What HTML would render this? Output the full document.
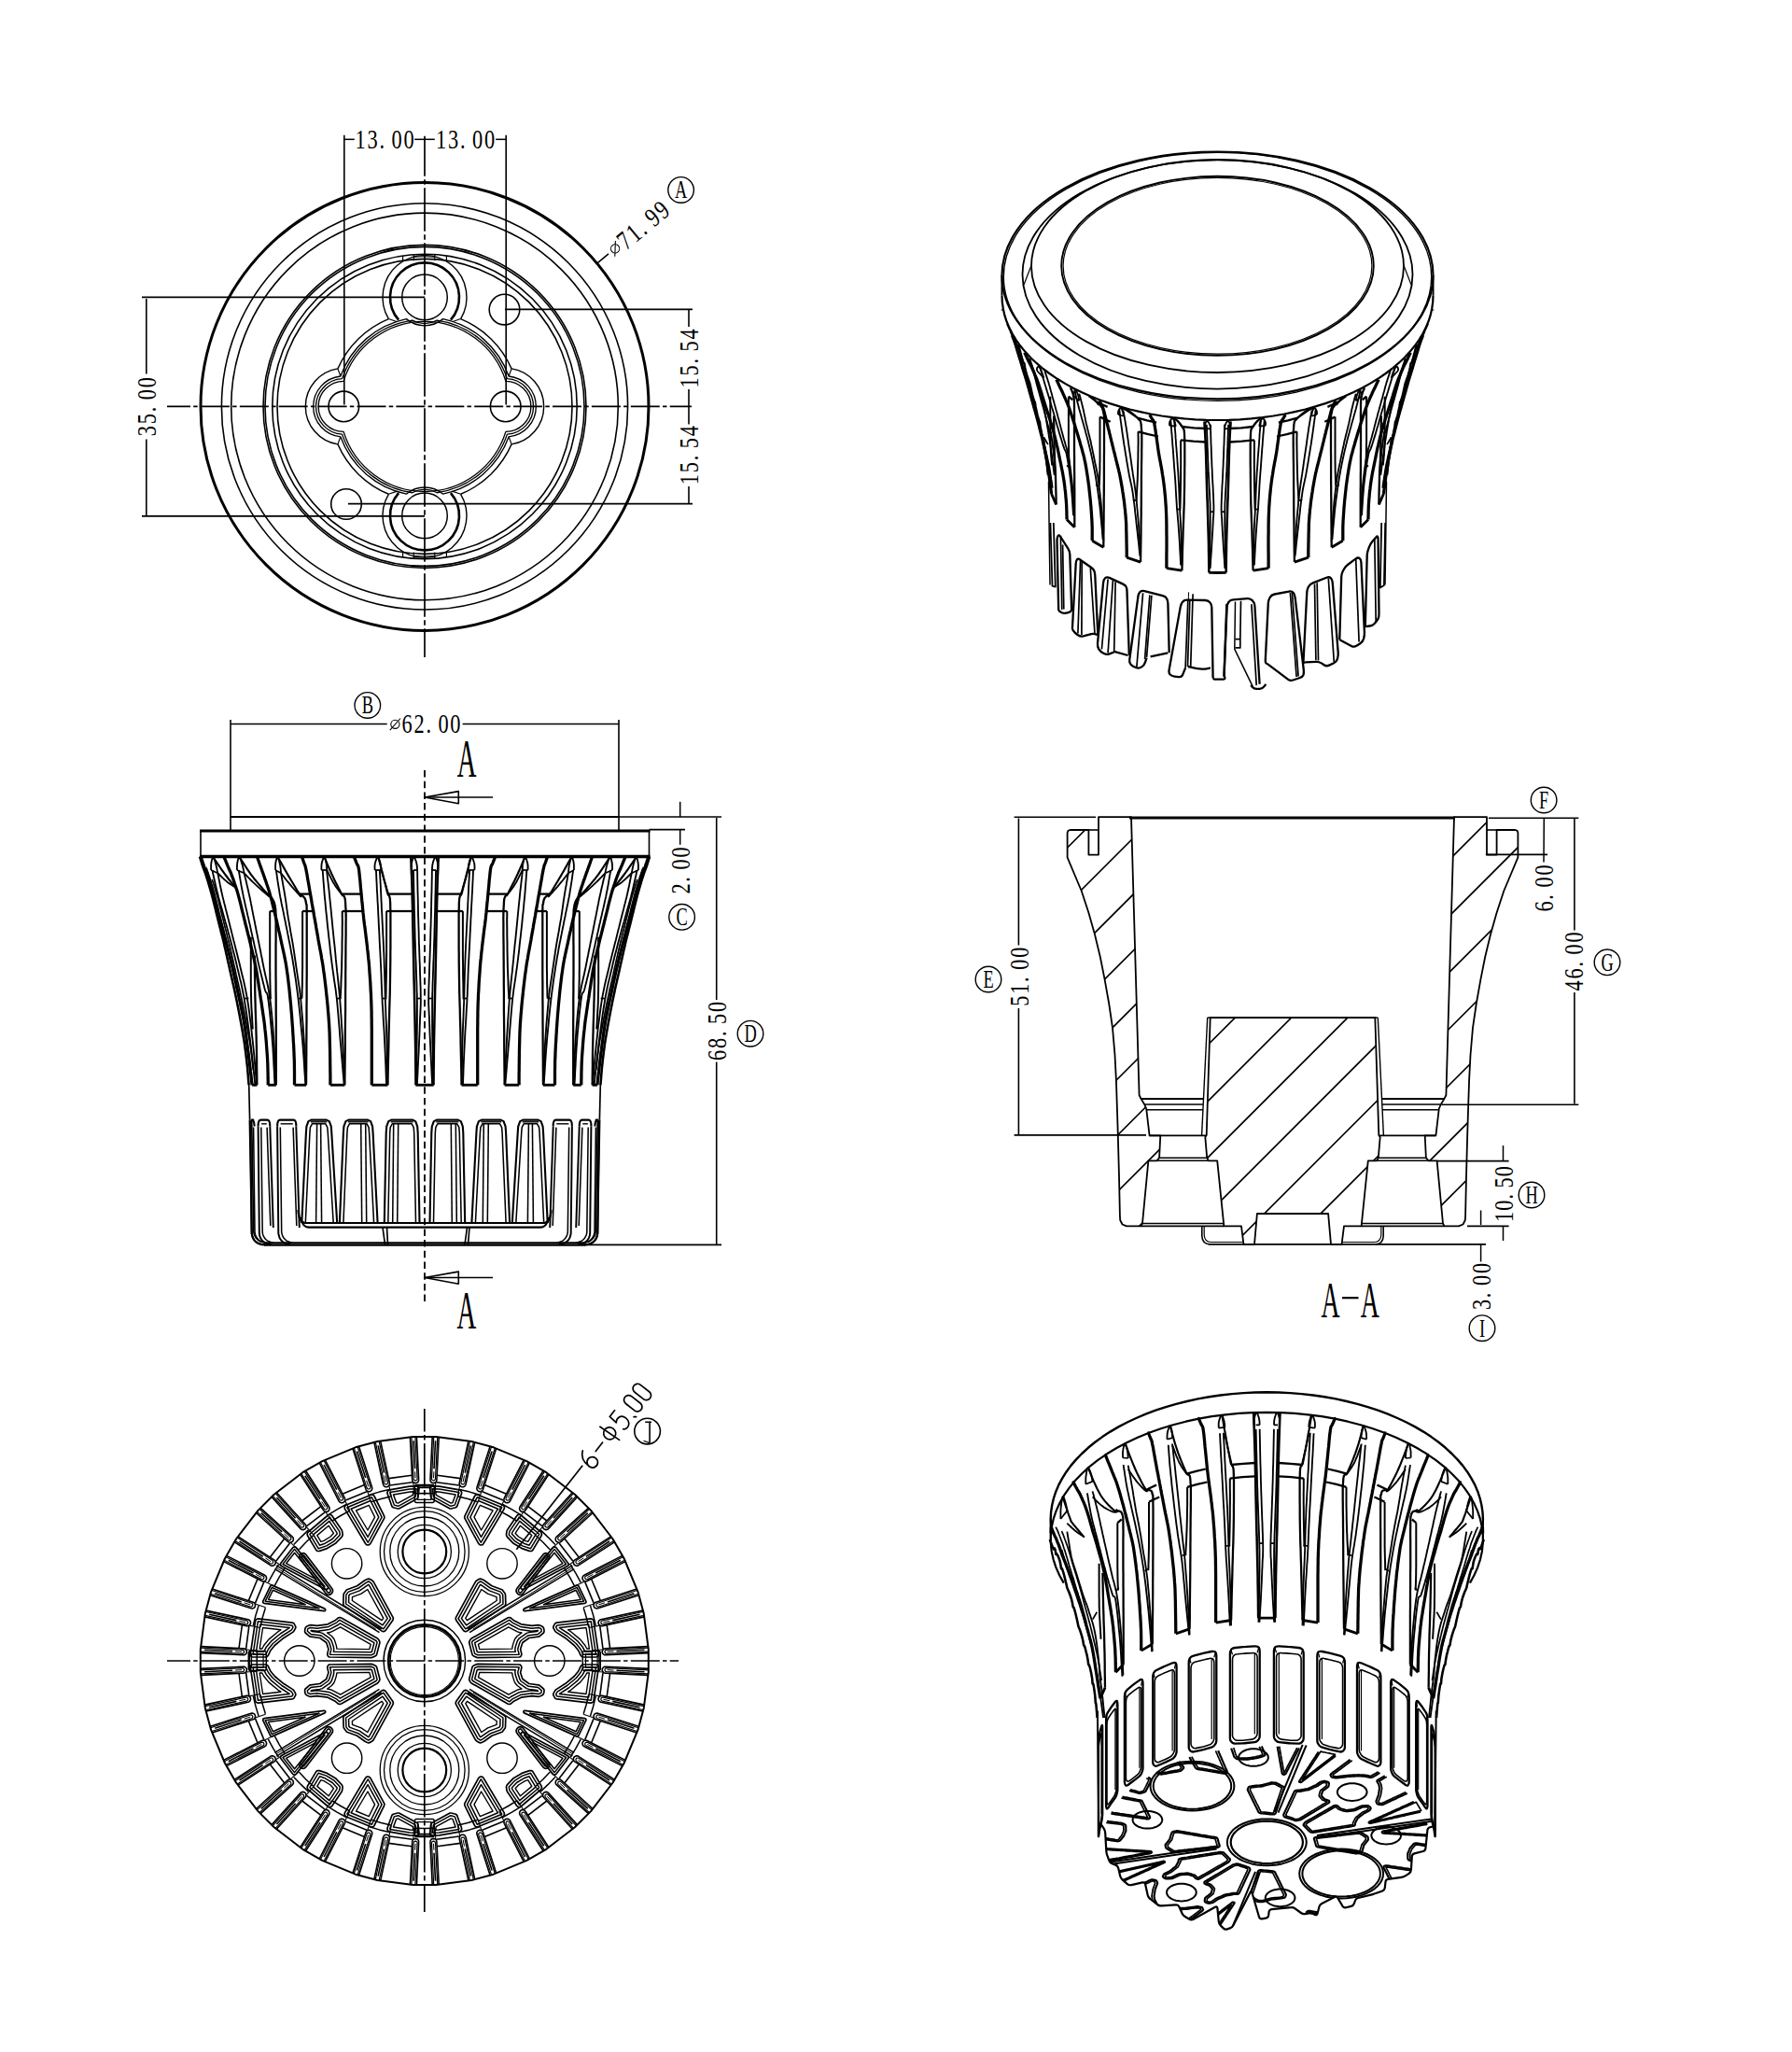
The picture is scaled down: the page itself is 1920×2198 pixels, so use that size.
<!DOCTYPE html>
<html><head><meta charset="utf-8"><title>drawing</title>
<style>
html,body{margin:0;padding:0;background:#fff}
svg{display:block}
.l,.l *{fill:none;stroke:#000}
.t text{font-family:"Liberation Serif",serif;fill:#000;stroke:none}
.w{fill:#fff}
</style></head><body>
<svg xmlns="http://www.w3.org/2000/svg" width="1920" height="2198" viewBox="0 0 1920 2198">
<rect width="1920" height="2198" fill="#fff"/>
<g class="l" stroke-linecap="butt" stroke-linejoin="round">
<path d="M455.0 145.8L455.0 704.0" stroke-width="1.7" stroke-dasharray="46.5 3.5 5.5 3.5" stroke-dashoffset="3.5"/>
<path d="M179.0 435.4L741.0 435.4" stroke-width="1.7" stroke-dasharray="31 3.2 4.5 3.2" stroke-dashoffset="6"/>
<circle cx="455.0" cy="435.4" r="240.0" stroke-width="3.0" />
<circle cx="455.0" cy="435.4" r="217.6" stroke-width="1.6" />
<circle cx="455.0" cy="435.4" r="207.3" stroke-width="1.6" />
<circle cx="455.0" cy="435.4" r="173.0" stroke-width="1.6" />
<circle cx="455.0" cy="435.4" r="171.0" stroke-width="1.6" />
<circle cx="455.0" cy="435.4" r="163.2" stroke-width="1.6" />
<circle cx="455.0" cy="435.4" r="158.0" stroke-width="1.6" />
<circle cx="368.3" cy="435.4" r="16.3" stroke-width="1.6" />
<circle cx="541.7" cy="435.4" r="16.3" stroke-width="1.6" />
<circle cx="540.5" cy="331.6" r="16.3" stroke-width="1.6" />
<circle cx="371.0" cy="540.0" r="16.3" stroke-width="1.6" />
<path d="M541.90 408.40A27.0 27.0 0 0 1 541.90 462.40A91.0 91.0 0 0 1 455.00 526.49A25.6 25.6 0 0 0 455.00 526.49A91.0 91.0 0 0 1 368.10 462.40A27.0 27.0 0 0 1 368.10 408.40A91.0 91.0 0 0 1 455.00 344.31A25.6 25.6 0 0 0 455.00 344.31A91.0 91.0 0 0 1 541.90 408.40Z" stroke-width="1.35" />
<path d="M543.43 405.65A29.8 29.8 0 0 1 543.43 465.15A93.3 93.3 0 0 1 468.28 527.75A28.0 28.0 0 0 0 441.72 527.75A93.3 93.3 0 0 1 366.57 465.15A29.8 29.8 0 0 1 366.57 405.65A93.3 93.3 0 0 1 441.72 343.05A28.0 28.0 0 0 0 468.28 343.05A93.3 93.3 0 0 1 543.43 405.65Z" stroke-width="1.35" />
<path d="M545.15 402.98A32.6 32.6 0 0 1 545.15 467.82A95.8 95.8 0 0 1 474.61 529.17A30.4 30.4 0 0 0 435.39 529.17A95.8 95.8 0 0 1 364.85 467.82A32.6 32.6 0 0 1 364.85 402.98A95.8 95.8 0 0 1 435.39 341.63A30.4 30.4 0 0 0 474.61 341.63A95.8 95.8 0 0 1 545.15 402.98Z" stroke-width="1.35" />
<path d="M548.07 394.90A41.0 41.0 0 0 1 548.07 475.90" stroke-width="1.4" />
<path d="M548.07 475.90A101.5 101.5 0 0 1 493.60 529.27" stroke-width="1.4" />
<path d="M548.1 475.9L545.1 467.8" stroke-width="1.2" />
<path d="M548.07 394.90A101.5 101.5 0 0 0 493.60 341.53" stroke-width="1.4" />
<path d="M548.1 394.9L545.1 403.0" stroke-width="1.2" />
<path d="M361.93 394.90A41.0 41.0 0 0 0 361.93 475.90" stroke-width="1.4" />
<path d="M361.93 475.90A101.5 101.5 0 0 0 416.40 529.27" stroke-width="1.4" />
<path d="M361.9 475.9L364.9 467.8" stroke-width="1.2" />
<path d="M361.93 394.90A101.5 101.5 0 0 1 416.40 341.53" stroke-width="1.4" />
<path d="M361.9 394.9L364.9 403.0" stroke-width="1.2" />
<circle cx="455.0" cy="552.4" r="24.3" stroke-width="1.5" />
<path d="M427.10 528.09A37.0 37.0 0 1 0 482.90 528.09" stroke-width="2.6" />
<path d="M416.40 529.27A45.0 45.0 0 1 0 493.60 529.27" stroke-width="1.4" />
<path d="M416.4 529.3L425.6 526.1" stroke-width="1.2" />
<path d="M493.6 529.3L484.4 526.1" stroke-width="1.2" />
<path d="M431.6 596.9L431.6 590.2" stroke-width="1.2" />
<path d="M443.3 598.2L443.3 591.5" stroke-width="1.2" />
<path d="M465.8 598.2L465.8 591.5" stroke-width="1.2" />
<path d="M478.4 596.9L478.4 590.2" stroke-width="1.2" />
<path d="M443.30 595.60A160.6 160.6 0 0 0 465.80 595.60" stroke-width="1.1" />
<circle cx="455.0" cy="318.4" r="24.3" stroke-width="1.5" />
<path d="M427.10 342.71A37.0 37.0 0 1 1 482.90 342.71" stroke-width="2.6" />
<path d="M416.40 341.53A45.0 45.0 0 1 1 493.60 341.53" stroke-width="1.4" />
<path d="M416.4 341.5L425.6 344.7" stroke-width="1.2" />
<path d="M493.6 341.5L484.4 344.7" stroke-width="1.2" />
<path d="M431.6 273.9L431.6 280.6" stroke-width="1.2" />
<path d="M443.3 272.6L443.3 279.3" stroke-width="1.2" />
<path d="M465.8 272.6L465.8 279.3" stroke-width="1.2" />
<path d="M478.4 273.9L478.4 280.6" stroke-width="1.2" />
<path d="M443.30 275.20A160.6 160.6 0 0 1 465.80 275.20" stroke-width="1.1" />
<path d="M368.8 144.8L368.8 433.4" stroke-width="1.6" />
<path d="M542.2 144.8L542.2 433.4" stroke-width="1.6" />
<path d="M368.8 149.3L379.8 149.3" stroke-width="1.5" />
<path d="M444.2 149.3L455.0 149.3" stroke-width="1.5" />
<path d="M455.0 149.3L465.8 149.3" stroke-width="1.5" />
<path d="M531.2 149.3L542.2 149.3" stroke-width="1.5" />
<g transform="translate(412.2 149.6) rotate(0)" class="t" ><text transform="translate(-26.0 9.5) scale(0.78 1)" font-size="28.7" text-anchor="middle">1</text><text transform="translate(-13.0 9.5) scale(0.78 1)" font-size="28.7" text-anchor="middle">3</text><text transform="translate(-2.9 9.5) scale(0.78 1)" font-size="28.7" text-anchor="middle">.</text><text transform="translate(13.0 9.5) scale(0.78 1)" font-size="28.7" text-anchor="middle">0</text><text transform="translate(26.0 9.5) scale(0.78 1)" font-size="28.7" text-anchor="middle">0</text></g>
<g transform="translate(498.6 149.6) rotate(0)" class="t" ><text transform="translate(-26.0 9.5) scale(0.78 1)" font-size="28.7" text-anchor="middle">1</text><text transform="translate(-13.0 9.5) scale(0.78 1)" font-size="28.7" text-anchor="middle">3</text><text transform="translate(-2.9 9.5) scale(0.78 1)" font-size="28.7" text-anchor="middle">.</text><text transform="translate(13.0 9.5) scale(0.78 1)" font-size="28.7" text-anchor="middle">0</text><text transform="translate(26.0 9.5) scale(0.78 1)" font-size="28.7" text-anchor="middle">0</text></g>
<path d="M152.0 318.4L455.0 318.4" stroke-width="1.7" />
<path d="M152.0 552.8L455.0 552.8" stroke-width="1.7" />
<path d="M156.8 320.0L156.8 400.5" stroke-width="1.6" />
<path d="M156.8 470.5L156.8 552.0" stroke-width="1.6" />
<g transform="translate(157.2 435.6) rotate(-90)" class="t" ><text transform="translate(-26.0 9.5) scale(0.78 1)" font-size="28.7" text-anchor="middle">3</text><text transform="translate(-13.0 9.5) scale(0.78 1)" font-size="28.7" text-anchor="middle">5</text><text transform="translate(-2.9 9.5) scale(0.78 1)" font-size="28.7" text-anchor="middle">.</text><text transform="translate(13.0 9.5) scale(0.78 1)" font-size="28.7" text-anchor="middle">0</text><text transform="translate(26.0 9.5) scale(0.78 1)" font-size="28.7" text-anchor="middle">0</text></g>
<path d="M541.0 331.4L742.0 331.4" stroke-width="1.7" />
<path d="M373.0 539.6L742.0 539.6" stroke-width="1.7" />
<path d="M738.0 332.0L738.0 350.0" stroke-width="1.6" />
<path d="M738.0 417.0L738.0 454.5" stroke-width="1.6" />
<path d="M738.0 521.0L738.0 539.0" stroke-width="1.6" />
<g transform="translate(738.6 383.8) rotate(-90)" class="t" ><text transform="translate(-26.0 9.5) scale(0.78 1)" font-size="28.7" text-anchor="middle">1</text><text transform="translate(-13.0 9.5) scale(0.78 1)" font-size="28.7" text-anchor="middle">5</text><text transform="translate(-2.9 9.5) scale(0.78 1)" font-size="28.7" text-anchor="middle">.</text><text transform="translate(13.0 9.5) scale(0.78 1)" font-size="28.7" text-anchor="middle">5</text><text transform="translate(26.0 9.5) scale(0.78 1)" font-size="28.7" text-anchor="middle">4</text></g>
<g transform="translate(738.6 487.6) rotate(-90)" class="t" ><text transform="translate(-26.0 9.5) scale(0.78 1)" font-size="28.7" text-anchor="middle">1</text><text transform="translate(-13.0 9.5) scale(0.78 1)" font-size="28.7" text-anchor="middle">5</text><text transform="translate(-2.9 9.5) scale(0.78 1)" font-size="28.7" text-anchor="middle">.</text><text transform="translate(13.0 9.5) scale(0.78 1)" font-size="28.7" text-anchor="middle">5</text><text transform="translate(26.0 9.5) scale(0.78 1)" font-size="28.7" text-anchor="middle">4</text></g>
<path d="M639.7 282.1L652.0 271.9" stroke-width="1.5" />
<g transform="translate(683.9 245.4) rotate(-39.7)" class="t" ><g transform="translate(-32.5 0.3)" class="l"><circle r="4.6" stroke-width="1.1"/><path d="M-5.6 6.3L5.6 -6.3" stroke-width="1.1"/></g><text transform="translate(-19.5 9.5) scale(0.78 1)" font-size="28.7" text-anchor="middle">7</text><text transform="translate(-6.5 9.5) scale(0.78 1)" font-size="28.7" text-anchor="middle">1</text><text transform="translate(3.6 9.5) scale(0.78 1)" font-size="28.7" text-anchor="middle">.</text><text transform="translate(19.5 9.5) scale(0.78 1)" font-size="28.7" text-anchor="middle">9</text><text transform="translate(32.5 9.5) scale(0.78 1)" font-size="28.7" text-anchor="middle">9</text></g>
<circle cx="729.6" cy="203.4" r="13.8" stroke-width="1.4" />
<g transform="translate(729.6 203.4) rotate(0)" class="t"><text transform="translate(0 8.9) scale(0.68 1)" font-size="27" text-anchor="middle">A</text></g>
<ellipse cx="1304.5" cy="295.0" rx="231.0" ry="132.4" stroke-width="2.2" />
<ellipse cx="1304.5" cy="296.4" rx="229.2" ry="133.0" stroke-width="1.4" />
<ellipse cx="1304.5" cy="294.0" rx="209.0" ry="122.6" stroke-width="1.8" />
<ellipse cx="1304.5" cy="285.0" rx="199.5" ry="114.0" stroke-width="1.8" />
<ellipse cx="1304.5" cy="284.8" rx="167.3" ry="96.0" stroke-width="1.9" />
<ellipse cx="1304.5" cy="284.8" rx="165.4" ry="94.4" stroke-width="1.2" />
<path d="M1097.0 305.0L1105.5 283.0" stroke-width="1.2" />
<path d="M1512.0 305.0L1503.5 283.0" stroke-width="1.2" />
<path d="M1535.5 316.5L1535.2 323.5L1534.2 330.5L1532.7 337.4L1530.5 344.3L1527.6 351.1L1524.2 357.8L1520.2 364.3L1515.5 370.8L1510.3 377.1L1504.6 383.2L1498.2 389.2L1491.4 395.0L1484.0 400.5L1476.2 405.8L1467.8 410.9L1459.1 415.7L1449.9 420.2L1440.3 424.5L1430.3 428.5L1420.0 432.1L1409.4 435.4L1398.5 438.5L1387.3 441.1L1375.9 443.5L1364.3 445.5L1352.5 447.1L1340.6 448.4L1328.6 449.3L1316.6 449.8L1304.5 450.0L1292.4 449.8L1280.4 449.3L1268.4 448.4L1256.5 447.1L1244.7 445.5L1233.1 443.5L1221.7 441.1L1210.5 438.5L1199.6 435.4L1189.0 432.1L1178.7 428.5L1168.7 424.5L1159.1 420.2L1149.9 415.7L1141.2 410.9L1132.8 405.8L1125.0 400.5L1117.6 395.0L1110.8 389.2L1104.4 383.2L1098.7 377.1L1093.5 370.8L1088.8 364.3L1084.8 357.8L1081.4 351.1L1078.5 344.3L1076.3 337.4L1074.8 330.5L1073.8 323.5L1073.5 316.5" stroke-width="2.2" />
<path d="M1073.5 295.0L1073.5 316.5" stroke-width="2.0" />
<path d="M1535.5 295.0L1535.5 316.5" stroke-width="2.0" />
<path d="M1091.1 368.7L1091.9 372.1L1092.7 375.3L1093.5 378.4L1094.3 381.4L1095.1 384.2L1095.9 386.7L1096.7 388.9L1097.4 389.4L1098.2 394.0L1098.9 397.0L1099.6 399.7L1100.3 402.0L1101.0 404.2L1101.7 406.3L1102.4 408.2L1103.1 410.1L1103.9 413.4L1104.6 416.6L1105.3 419.7L1106.0 422.7L1106.7 425.5L1107.5 428.0L1108.2 430.1L1108.8 430.7L1109.5 435.4L1110.2 438.7L1110.8 441.6L1111.4 444.3L1112.1 446.7L1112.7 449.0L1113.3 450.9L1113.9 451.4L1114.5 456.2L1115.1 459.6L1115.7 462.7L1116.2 465.6L1116.8 468.2L1117.3 470.5L1117.8 472.3L1118.3 472.1L1118.8 477.6L1119.2 481.0L1119.7 484.0L1120.1 486.7L1120.5 489.1L1120.8 491.2L1121.2 492.8L1121.5 492.7L1121.8 497.5L1122.1 500.4L1122.3 502.8L1122.5 504.9L1122.7 506.5L1122.9 507.7L1123.0 508.5L1123.1 508.8" stroke-width="2.556" />
<path d="M1517.9 368.7L1517.1 372.1L1516.3 375.3L1515.5 378.4L1514.7 381.4L1513.9 384.2L1513.1 386.7L1512.3 388.9L1511.6 389.4L1510.8 394.0L1510.1 397.0L1509.4 399.7L1508.7 402.0L1508.0 404.2L1507.3 406.3L1506.6 408.2L1505.9 410.1L1505.1 413.4L1504.4 416.6L1503.7 419.7L1503.0 422.7L1502.3 425.5L1501.5 428.0L1500.8 430.1L1500.2 430.7L1499.5 435.4L1498.8 438.7L1498.2 441.6L1497.6 444.3L1496.9 446.7L1496.3 449.0L1495.7 450.9L1495.1 451.4L1494.5 456.2L1493.9 459.6L1493.3 462.7L1492.8 465.6L1492.2 468.2L1491.7 470.5L1491.2 472.3L1490.7 472.1L1490.2 477.6L1489.8 481.0L1489.3 484.0L1488.9 486.7L1488.5 489.1L1488.2 491.2L1487.8 492.8L1487.5 492.7L1487.2 497.5L1486.9 500.4L1486.7 502.8L1486.5 504.9L1486.3 506.5L1486.1 507.7L1486.0 508.5L1485.9 508.8" stroke-width="2.556" />
<path d="M1231.8 444.2L1232.1 444.7L1232.4 445.3L1232.8 445.9L1233.2 446.7L1233.6 447.4L1234.0 448.0L1234.3 448.7L1234.6 449.1L1234.9 449.5L1235.2 449.8L1235.5 450.1L1235.8 450.5L1236.0 451.1L1236.3 451.9L1236.6 453.0L1236.9 454.4L1237.2 456.1L1237.5 458.0L1237.9 460.2L1238.2 462.5L1238.5 464.9L1238.8 467.1L1239.2 469.3L1239.5 471.4L1239.8 473.6L1240.1 475.7L1240.4 477.9L1240.7 480.1L1241.0 482.2L1241.3 484.4L1241.7 486.6L1242.1 488.7L1242.4 490.9L1242.9 493.1L1243.3 495.3L1243.7 497.4L1244.1 499.6L1244.5 501.8L1244.9 504.0L1245.2 506.2L1245.5 508.3L1245.9 510.4L1246.2 512.5L1246.5 514.7L1246.8 516.9L1247.1 519.2L1247.4 521.6L1247.7 524.2L1247.9 526.8L1248.2 529.5L1248.5 532.3L1248.7 535.1L1248.9 538.0L1249.1 540.8L1249.3 543.6L1249.4 546.3L1249.5 548.7L1249.6 551.1L1249.7 553.6L1249.8 556.1L1249.8 559.0L1249.9 562.2L1249.9 565.9L1249.9 570.4L1250.0 575.9L1250.0 582.0L1250.0 588.4L1249.9 594.5L1249.9 600.3L1249.9 605.2L1249.9 608.7" stroke-width="3.2659999999999996" />
<path d="M1377.2 444.2L1376.9 444.7L1376.6 445.3L1376.2 445.9L1375.8 446.7L1375.4 447.4L1375.0 448.0L1374.7 448.7L1374.4 449.1L1374.1 449.5L1373.8 449.8L1373.5 450.1L1373.2 450.5L1373.0 451.1L1372.7 451.9L1372.4 453.0L1372.1 454.4L1371.8 456.1L1371.5 458.0L1371.1 460.2L1370.8 462.5L1370.5 464.9L1370.2 467.1L1369.8 469.3L1369.5 471.4L1369.2 473.6L1368.9 475.7L1368.6 477.9L1368.3 480.1L1368.0 482.2L1367.7 484.4L1367.3 486.6L1366.9 488.7L1366.6 490.9L1366.1 493.1L1365.7 495.3L1365.3 497.4L1364.9 499.6L1364.5 501.8L1364.1 504.0L1363.8 506.2L1363.5 508.3L1363.1 510.4L1362.8 512.5L1362.5 514.7L1362.2 516.9L1361.9 519.2L1361.6 521.6L1361.3 524.2L1361.1 526.8L1360.8 529.5L1360.5 532.3L1360.3 535.1L1360.1 538.0L1359.9 540.8L1359.7 543.6L1359.6 546.3L1359.5 548.7L1359.4 551.1L1359.3 553.6L1359.2 556.1L1359.2 559.0L1359.1 562.2L1359.1 565.9L1359.1 570.4L1359.0 575.9L1359.0 582.0L1359.0 588.4L1359.1 594.5L1359.1 600.3L1359.1 605.2L1359.1 608.7" stroke-width="3.2659999999999996" />
<path d="M1254.3 450.4L1254.4 451.2L1254.5 452.4L1254.6 453.7L1254.7 455.3L1254.9 457.0L1255.0 458.8L1255.1 460.4L1255.2 462.0L1255.3 463.5L1255.5 464.8L1255.6 466.1L1255.7 467.4L1255.8 468.9L1255.9 470.5L1256.1 472.4L1256.2 474.7L1256.4 477.3L1256.7 480.4L1256.9 483.7L1257.2 487.2L1257.4 490.7L1257.7 494.2L1257.9 497.4L1258.1 500.3L1258.3 502.9L1258.5 505.2L1258.7 507.3L1258.8 509.3L1259.0 511.3L1259.1 513.3L1259.3 515.4L1259.4 517.7L1259.6 520.2L1259.7 522.7L1259.8 525.2L1260.0 527.8L1260.1 530.5L1260.3 533.4L1260.5 536.4L1260.7 539.6L1260.9 543.1L1261.2 546.8L1261.6 550.7L1261.9 554.7L1262.3 558.9L1262.6 563.0L1262.9 567.2L1263.2 571.3L1263.5 575.7L1263.8 580.4L1264.1 585.3L1264.3 590.1L1264.6 594.9L1264.8 599.1L1265.0 602.7L1265.1 605.4" stroke-width="1.8459999999999999" />
<path d="M1354.7 450.4L1354.6 451.2L1354.5 452.4L1354.4 453.7L1354.3 455.3L1354.1 457.0L1354.0 458.8L1353.9 460.4L1353.8 462.0L1353.7 463.5L1353.5 464.8L1353.4 466.1L1353.3 467.4L1353.2 468.9L1353.1 470.5L1352.9 472.4L1352.8 474.7L1352.6 477.3L1352.3 480.4L1352.1 483.7L1351.8 487.2L1351.6 490.7L1351.3 494.2L1351.1 497.4L1350.9 500.3L1350.7 502.9L1350.5 505.2L1350.3 507.3L1350.2 509.3L1350.0 511.3L1349.9 513.3L1349.7 515.4L1349.6 517.7L1349.4 520.2L1349.3 522.7L1349.2 525.2L1349.0 527.8L1348.9 530.5L1348.7 533.4L1348.5 536.4L1348.3 539.6L1348.1 543.1L1347.8 546.8L1347.4 550.7L1347.1 554.7L1346.7 558.9L1346.4 563.0L1346.1 567.2L1345.8 571.3L1345.5 575.7L1345.2 580.4L1344.9 585.3L1344.7 590.1L1344.4 594.9L1344.2 599.1L1344.0 602.7L1343.9 605.4" stroke-width="1.8459999999999999" />
<path d="M1258.1 450.9L1258.2 451.7L1258.3 452.9L1258.5 454.3L1258.6 455.9L1258.7 457.5L1258.9 459.3L1259.0 461.0L1259.2 462.5L1259.3 464.0L1259.4 465.3L1259.5 466.6L1259.5 467.9L1259.6 469.4L1259.8 471.1L1259.9 472.9L1260.0 475.2L1260.2 477.8L1260.5 480.9L1260.7 484.2L1261.0 487.7L1261.3 491.2L1261.5 494.7L1261.7 497.9L1261.9 500.8L1262.1 503.4L1262.3 505.7L1262.4 507.8L1262.5 509.8L1262.6 511.8L1262.7 513.8L1262.8 515.9L1263.0 518.2L1263.1 520.7L1263.2 523.1L1263.3 525.7L1263.4 528.3L1263.5 531.0L1263.6 533.8L1263.7 536.8L1263.8 540.1L1264.0 543.5L1264.2 547.2L1264.4 551.1L1264.7 555.1L1264.9 559.2L1265.1 563.4L1265.3 567.5L1265.5 571.6L1265.6 576.0L1265.8 580.7L1265.9 585.6L1266.0 590.4L1266.1 595.1L1266.2 599.3L1266.3 602.9L1266.4 605.5" stroke-width="1.8459999999999999" />
<path d="M1350.9 450.9L1350.8 451.7L1350.7 452.9L1350.5 454.3L1350.4 455.9L1350.3 457.5L1350.1 459.3L1350.0 461.0L1349.8 462.5L1349.7 464.0L1349.6 465.3L1349.5 466.6L1349.5 467.9L1349.4 469.4L1349.2 471.1L1349.1 472.9L1349.0 475.2L1348.8 477.8L1348.5 480.9L1348.3 484.2L1348.0 487.7L1347.7 491.2L1347.5 494.7L1347.3 497.9L1347.1 500.8L1346.9 503.4L1346.7 505.7L1346.6 507.8L1346.5 509.8L1346.4 511.8L1346.3 513.8L1346.2 515.9L1346.0 518.2L1345.9 520.7L1345.8 523.1L1345.7 525.7L1345.6 528.3L1345.5 531.0L1345.4 533.8L1345.3 536.8L1345.2 540.1L1345.0 543.5L1344.8 547.2L1344.6 551.1L1344.3 555.1L1344.1 559.2L1343.9 563.4L1343.7 567.5L1343.5 571.6L1343.4 576.0L1343.2 580.7L1343.1 585.6L1343.0 590.4L1342.9 595.1L1342.8 599.3L1342.7 602.9L1342.6 605.5" stroke-width="1.8459999999999999" />
<path d="M1253.1 455.9L1253.1 455.6L1253.1 455.2L1253.0 454.6L1253.0 454.1L1253.0 453.4L1253.1 452.8L1253.2 452.2L1253.3 451.7L1253.6 451.1L1253.9 450.5L1254.2 449.9L1254.6 449.3L1255.1 448.8L1255.5 448.4L1255.9 448.1L1256.2 448.1L1256.6 448.2L1256.9 448.6L1257.3 449.1L1257.6 449.7L1258.0 450.4L1258.3 451.1L1258.5 451.7L1258.8 452.3L1259.0 452.9L1259.1 453.5L1259.3 454.2L1259.4 454.8L1259.5 455.4L1259.5 456.0L1259.6 456.4L1259.7 456.7" stroke-width="1.8459999999999999" />
<path d="M1355.9 455.9L1355.9 455.6L1355.9 455.2L1356.0 454.6L1356.0 454.1L1356.0 453.4L1355.9 452.8L1355.8 452.2L1355.7 451.7L1355.4 451.1L1355.1 450.5L1354.8 449.9L1354.4 449.3L1353.9 448.8L1353.5 448.4L1353.1 448.1L1352.8 448.1L1352.4 448.2L1352.1 448.6L1351.7 449.1L1351.4 449.7L1351.0 450.4L1350.7 451.1L1350.5 451.7L1350.2 452.3L1350.0 452.9L1349.9 453.5L1349.7 454.2L1349.6 454.8L1349.5 455.4L1349.5 456.0L1349.4 456.4L1349.3 456.7" stroke-width="1.8459999999999999" />
<path d="M1256.6 448.0L1256.9 448.1L1257.3 448.2L1257.8 448.3L1258.3 448.6L1258.9 448.8L1259.5 449.2L1260.1 449.5L1260.7 450.0L1261.4 450.5L1262.1 451.3L1262.9 452.2L1263.8 453.3L1264.6 454.4L1265.3 455.5L1265.9 456.5L1266.4 457.2" stroke-width="2.13" />
<path d="M1352.4 448.0L1352.1 448.1L1351.7 448.2L1351.2 448.3L1350.7 448.6L1350.1 448.8L1349.5 449.2L1348.9 449.5L1348.3 450.0L1347.6 450.5L1346.9 451.3L1346.1 452.2L1345.2 453.3L1344.4 454.4L1343.7 455.5L1343.1 456.5L1342.6 457.2" stroke-width="2.13" />
<path d="M1259.7 449.5L1259.9 449.7L1260.3 449.9L1260.7 450.2L1261.2 450.6L1261.7 451.0L1262.2 451.5L1262.7 452.0L1263.2 452.6L1263.8 453.1L1264.4 453.8L1265.0 454.6L1265.7 455.4L1266.3 456.2L1266.8 457.0L1267.3 457.8L1267.6 458.8" stroke-width="1.8459999999999999" />
<path d="M1349.3 449.5L1349.1 449.7L1348.7 449.9L1348.3 450.2L1347.8 450.6L1347.3 451.0L1346.8 451.5L1346.3 452.0L1345.8 452.6L1345.2 453.1L1344.6 453.8L1344.0 454.6L1343.3 455.4L1342.7 456.2L1342.2 457.0L1341.7 457.8L1341.4 458.8" stroke-width="1.8459999999999999" />
<path d="M1266.4 457.1L1266.6 457.3L1266.8 457.5L1267.1 457.8L1267.4 458.2L1267.7 458.6L1268.1 459.1L1268.3 459.7L1268.5 460.4L1268.7 461.2L1268.8 462.1L1268.9 463.1L1269.0 464.1L1269.0 465.3L1269.1 466.7L1269.1 468.1L1269.2 469.8L1269.2 471.5L1269.2 473.3L1269.3 475.1L1269.3 477.1L1269.3 479.4L1269.3 481.9L1269.3 484.9L1269.3 488.4L1269.3 492.5L1269.3 497.1L1269.2 502.2L1269.2 507.6L1269.1 513.2L1269.1 518.9L1269.0 524.4L1268.9 529.7L1268.8 534.8L1268.7 539.9L1268.5 544.9L1268.3 550.0L1268.2 554.7L1268.0 559.2L1267.8 563.8L1267.6 568.5L1267.5 573.7L1267.3 579.4L1267.1 585.6L1266.9 591.8L1266.8 597.7L1266.6 603.2L1266.5 607.8L1266.4 611.2" stroke-width="2.272" />
<path d="M1342.6 457.1L1342.4 457.3L1342.2 457.5L1341.9 457.8L1341.6 458.2L1341.3 458.6L1340.9 459.1L1340.7 459.7L1340.5 460.4L1340.3 461.2L1340.2 462.1L1340.1 463.1L1340.0 464.1L1340.0 465.3L1339.9 466.7L1339.9 468.1L1339.8 469.8L1339.8 471.5L1339.8 473.3L1339.7 475.1L1339.7 477.1L1339.7 479.4L1339.7 481.9L1339.7 484.9L1339.7 488.4L1339.7 492.5L1339.7 497.1L1339.8 502.2L1339.8 507.6L1339.9 513.2L1339.9 518.9L1340.0 524.4L1340.1 529.7L1340.2 534.8L1340.3 539.9L1340.5 544.9L1340.7 550.0L1340.8 554.7L1341.0 559.2L1341.2 563.8L1341.4 568.5L1341.5 573.7L1341.7 579.4L1341.9 585.6L1342.1 591.8L1342.2 597.7L1342.4 603.2L1342.5 607.8L1342.6 611.2" stroke-width="2.272" />
<path d="M1265.1 471.4L1265.1 474.3L1265.1 478.1L1265.1 482.7L1265.2 487.7L1265.2 493.1L1265.2 498.5L1265.1 503.8L1265.1 508.6L1265.1 513.4L1265.0 518.6L1264.9 523.8L1264.8 529.0L1264.7 533.9L1264.6 538.2L1264.5 541.9L1264.5 544.7" stroke-width="1.9879999999999998" />
<path d="M1343.9 471.4L1343.9 474.3L1343.9 478.1L1343.9 482.7L1343.8 487.7L1343.8 493.1L1343.8 498.5L1343.9 503.8L1343.9 508.6L1343.9 513.4L1344.0 518.6L1344.1 523.8L1344.2 529.0L1344.3 533.9L1344.4 538.2L1344.5 541.9L1344.5 544.7" stroke-width="1.9879999999999998" />
<path d="M1249.9 608.7L1266.4 611.2" stroke-width="2.84" />
<path d="M1359.1 608.7L1342.6 611.2" stroke-width="2.84" />
<path d="M1260.7 545.4L1265.3 545.9" stroke-width="1.704" />
<path d="M1348.3 545.4L1343.7 545.9" stroke-width="1.704" />
<path d="M1253.1 455.9L1259.7 456.7" stroke-width="1.704" />
<path d="M1355.9 455.9L1349.3 456.7" stroke-width="1.704" />
<path d="M1266.4 457.0L1279.2 458.3L1292.0 459.0" stroke-width="2.272" />
<path d="M1342.6 457.0L1329.8 458.3L1317.0 459.0" stroke-width="2.272" />
<path d="M1265.1 471.4L1278.5 472.7L1291.8 473.5" stroke-width="2.272" />
<path d="M1343.9 471.4L1330.5 472.7L1317.2 473.5" stroke-width="2.272" />
<path d="M1177.9 429.2L1178.2 429.7L1178.5 430.4L1178.9 431.1L1179.2 431.8L1179.6 432.6L1180.0 433.3L1180.3 433.9L1180.5 434.4L1180.7 434.8L1180.9 435.1L1181.1 435.4L1181.3 435.8L1181.5 436.4L1181.8 437.2L1182.2 438.3L1182.6 439.8L1183.1 441.5L1183.6 443.6L1184.2 445.9L1184.8 448.2L1185.4 450.6L1186.0 453.0L1186.6 455.2L1187.1 457.4L1187.7 459.7L1188.3 461.9L1188.8 464.2L1189.4 466.4L1189.9 468.7L1190.5 470.9L1191.0 473.1L1191.6 475.4L1192.1 477.6L1192.7 479.9L1193.2 482.1L1193.8 484.4L1194.4 486.6L1194.9 488.9L1195.5 491.1L1196.0 493.4L1196.6 495.6L1197.1 497.8L1197.7 500.0L1198.3 502.3L1198.8 504.6L1199.4 507.0L1199.9 509.5L1200.4 512.1L1200.9 514.8L1201.4 517.6L1201.9 520.4L1202.4 523.3L1202.8 526.2L1203.3 529.1L1203.7 531.9L1204.1 534.8L1204.5 537.6L1204.8 540.4L1205.1 543.2L1205.5 546.1L1205.7 548.9L1206.0 551.8L1206.2 554.6L1206.4 557.5L1206.6 560.3L1206.7 563.2L1206.7 566.2L1206.8 569.2L1206.9 572.1L1206.9 574.9L1207.0 577.6L1207.0 580.3L1207.1 583.2L1207.1 586.0L1207.2 588.8L1207.2 591.4L1207.2 593.8L1207.2 595.7L1207.2 597.2" stroke-width="3.2659999999999996" />
<path d="M1431.1 429.2L1430.8 429.7L1430.5 430.4L1430.1 431.1L1429.8 431.8L1429.4 432.6L1429.0 433.3L1428.7 433.9L1428.5 434.4L1428.3 434.8L1428.1 435.1L1427.9 435.4L1427.7 435.8L1427.5 436.4L1427.2 437.2L1426.8 438.3L1426.4 439.8L1425.9 441.5L1425.4 443.6L1424.8 445.9L1424.2 448.2L1423.6 450.6L1423.0 453.0L1422.4 455.2L1421.9 457.4L1421.3 459.7L1420.7 461.9L1420.2 464.2L1419.6 466.4L1419.1 468.7L1418.5 470.9L1418.0 473.1L1417.4 475.4L1416.9 477.6L1416.3 479.9L1415.8 482.1L1415.2 484.4L1414.6 486.6L1414.1 488.9L1413.5 491.1L1413.0 493.4L1412.4 495.6L1411.9 497.8L1411.3 500.0L1410.7 502.3L1410.2 504.6L1409.6 507.0L1409.1 509.5L1408.6 512.1L1408.1 514.8L1407.6 517.6L1407.1 520.4L1406.6 523.3L1406.2 526.2L1405.7 529.1L1405.3 531.9L1404.9 534.8L1404.5 537.6L1404.2 540.4L1403.9 543.2L1403.5 546.1L1403.3 548.9L1403.0 551.8L1402.8 554.6L1402.6 557.5L1402.4 560.3L1402.3 563.2L1402.3 566.2L1402.2 569.2L1402.1 572.1L1402.1 574.9L1402.0 577.6L1402.0 580.3L1401.9 583.2L1401.9 586.0L1401.8 588.8L1401.8 591.4L1401.8 593.8L1401.8 595.7L1401.8 597.2" stroke-width="3.2659999999999996" />
<path d="M1199.3 438.1L1199.4 439.2L1199.6 440.6L1199.7 442.3L1200.0 444.3L1200.2 446.5L1200.5 448.8L1200.8 451.2L1201.2 453.7L1201.5 456.5L1202.0 459.6L1202.4 462.8L1202.9 466.1L1203.4 469.5L1203.9 473.0L1204.4 476.4L1205.0 479.7L1205.5 483.0L1206.0 486.3L1206.6 489.7L1207.1 493.1L1207.7 496.5L1208.3 499.9L1208.8 503.1L1209.4 506.3L1209.9 509.2L1210.5 512.0L1211.1 514.7L1211.6 517.3L1212.2 519.9L1212.8 522.7L1213.3 525.7L1213.8 528.9L1214.3 532.5L1214.8 536.2L1215.3 540.1L1215.8 544.2L1216.2 548.4L1216.7 552.6L1217.2 556.8L1217.6 560.9L1218.1 565.4L1218.7 570.2L1219.2 575.2L1219.8 580.1L1220.3 584.9L1220.7 589.2L1221.1 592.9L1221.4 595.6" stroke-width="1.8459999999999999" />
<path d="M1409.7 438.1L1409.6 439.2L1409.4 440.6L1409.3 442.3L1409.0 444.3L1408.8 446.5L1408.5 448.8L1408.2 451.2L1407.8 453.7L1407.5 456.5L1407.0 459.6L1406.6 462.8L1406.1 466.1L1405.6 469.5L1405.1 473.0L1404.6 476.4L1404.0 479.7L1403.5 483.0L1403.0 486.3L1402.4 489.7L1401.9 493.1L1401.3 496.5L1400.7 499.9L1400.2 503.1L1399.6 506.3L1399.1 509.2L1398.5 512.0L1397.9 514.7L1397.4 517.3L1396.8 519.9L1396.2 522.7L1395.7 525.7L1395.2 528.9L1394.7 532.5L1394.2 536.2L1393.7 540.1L1393.2 544.2L1392.8 548.4L1392.3 552.6L1391.8 556.8L1391.4 560.9L1390.9 565.4L1390.3 570.2L1389.8 575.2L1389.2 580.1L1388.7 584.9L1388.3 589.2L1387.9 592.9L1387.6 595.6" stroke-width="1.8459999999999999" />
<path d="M1203.4 439.4L1203.6 440.5L1203.9 441.9L1204.2 443.7L1204.6 445.7L1205.0 448.0L1205.4 450.3L1205.8 452.8L1206.2 455.3L1206.7 458.2L1207.1 461.2L1207.6 464.4L1208.1 467.8L1208.6 471.2L1209.0 474.6L1209.5 478.0L1210.0 481.3L1210.5 484.6L1211.0 487.9L1211.5 491.3L1212.0 494.7L1212.4 498.0L1212.9 501.3L1213.4 504.6L1213.8 507.7L1214.3 510.6L1214.7 513.3L1215.1 515.9L1215.5 518.5L1215.8 521.1L1216.2 523.8L1216.6 526.7L1217.0 529.9L1217.4 533.4L1217.8 537.1L1218.1 541.0L1218.5 545.1L1218.9 549.2L1219.2 553.4L1219.6 557.5L1219.9 561.6L1220.2 566.0L1220.5 570.8L1220.9 575.7L1221.2 580.5L1221.4 585.3L1221.7 589.5L1221.9 593.1L1222.1 595.8" stroke-width="1.8459999999999999" />
<path d="M1405.6 439.4L1405.4 440.5L1405.1 441.9L1404.8 443.7L1404.4 445.7L1404.0 448.0L1403.6 450.3L1403.2 452.8L1402.8 455.3L1402.3 458.2L1401.9 461.2L1401.4 464.4L1400.9 467.8L1400.4 471.2L1400.0 474.6L1399.5 478.0L1399.0 481.3L1398.5 484.6L1398.0 487.9L1397.5 491.3L1397.0 494.7L1396.6 498.0L1396.1 501.3L1395.6 504.6L1395.2 507.7L1394.7 510.6L1394.3 513.3L1393.9 515.9L1393.5 518.5L1393.2 521.1L1392.8 523.8L1392.4 526.7L1392.0 529.9L1391.6 533.4L1391.2 537.1L1390.9 541.0L1390.5 545.1L1390.1 549.2L1389.8 553.4L1389.4 557.5L1389.1 561.6L1388.8 566.0L1388.5 570.8L1388.1 575.7L1387.8 580.5L1387.6 585.3L1387.3 589.5L1387.1 593.1L1386.9 595.8" stroke-width="1.8459999999999999" />
<path d="M1198.0 444.0L1198.0 443.7L1198.0 443.3L1198.0 442.8L1198.0 442.2L1198.1 441.6L1198.1 441.0L1198.2 440.5L1198.4 440.0L1198.6 439.5L1198.9 439.0L1199.2 438.4L1199.5 437.9L1199.9 437.4L1200.2 437.1L1200.6 436.9L1200.9 436.9L1201.2 437.1L1201.5 437.5L1201.8 438.0L1202.1 438.6L1202.4 439.3L1202.6 440.1L1202.9 440.7L1203.1 441.4L1203.2 441.9L1203.3 442.6L1203.4 443.2L1203.5 443.9L1203.6 444.4L1203.6 444.9L1203.7 445.4L1203.7 445.7" stroke-width="1.8459999999999999" />
<path d="M1411.0 444.0L1411.0 443.7L1411.0 443.3L1411.0 442.8L1411.0 442.2L1410.9 441.6L1410.9 441.0L1410.8 440.5L1410.6 440.0L1410.4 439.5L1410.1 439.0L1409.8 438.4L1409.5 437.9L1409.1 437.4L1408.8 437.1L1408.4 436.9L1408.1 436.9L1407.8 437.1L1407.5 437.5L1407.2 438.0L1406.9 438.6L1406.6 439.3L1406.4 440.1L1406.1 440.7L1405.9 441.4L1405.8 441.9L1405.7 442.6L1405.6 443.2L1405.5 443.9L1405.4 444.4L1405.4 444.9L1405.3 445.4L1405.3 445.7" stroke-width="1.8459999999999999" />
<path d="M1201.2 436.8L1201.7 436.9L1202.5 437.1L1203.3 437.4L1204.3 437.7L1205.4 438.1L1206.5 438.6L1207.6 439.1L1208.8 439.8L1210.0 440.5L1211.3 441.4L1212.8 442.5L1214.3 443.7L1215.7 444.9L1217.0 446.0L1218.1 447.0L1218.9 447.8" stroke-width="2.13" />
<path d="M1407.8 436.8L1407.3 436.9L1406.5 437.1L1405.7 437.4L1404.7 437.7L1403.6 438.1L1402.5 438.6L1401.4 439.1L1400.2 439.8L1399.0 440.5L1397.7 441.4L1396.2 442.5L1394.7 443.7L1393.3 444.9L1392.0 446.0L1390.9 447.0L1390.1 447.8" stroke-width="2.13" />
<path d="M1203.7 437.8L1204.3 438.0L1205.0 438.4L1205.9 438.9L1206.9 439.5L1208.0 440.2L1209.1 441.0L1210.2 441.7L1211.3 442.5L1212.4 443.3L1213.7 444.2L1215.0 445.1L1216.3 446.1L1217.6 447.0L1218.7 447.8L1219.7 449.0L1220.4 450.0" stroke-width="1.8459999999999999" />
<path d="M1405.3 437.8L1404.7 438.0L1404.0 438.4L1403.1 438.9L1402.1 439.5L1401.0 440.2L1399.9 441.0L1398.8 441.7L1397.7 442.5L1396.6 443.3L1395.3 444.2L1394.0 445.1L1392.7 446.1L1391.4 447.0L1390.3 447.8L1389.3 449.0L1388.6 450.0" stroke-width="1.8459999999999999" />
<path d="M1218.9 447.7L1219.1 448.0L1219.5 448.3L1219.9 448.7L1220.4 449.2L1220.9 449.7L1221.3 450.3L1221.7 451.0L1222.1 451.7L1222.3 452.4L1222.4 453.2L1222.6 454.1L1222.7 455.0L1222.7 456.0L1222.8 457.0L1222.9 458.0L1222.9 459.1L1223.0 460.1L1223.1 460.8L1223.2 461.5L1223.2 462.2L1223.3 463.3L1223.3 464.7L1223.3 466.8L1223.3 469.6L1223.3 473.3L1223.3 477.7L1223.2 482.8L1223.2 488.3L1223.1 494.0L1223.0 499.8L1223.0 505.4L1222.9 510.8L1222.9 515.9L1222.9 520.8L1222.9 525.6L1222.8 530.5L1222.8 535.4L1222.8 540.7L1222.7 545.9L1222.7 550.9L1222.6 556.7L1222.5 563.4L1222.5 570.6L1222.4 578.2L1222.3 585.4L1222.2 592.2L1222.1 597.9L1222.1 602.1" stroke-width="2.272" />
<path d="M1390.1 447.7L1389.9 448.0L1389.5 448.3L1389.1 448.7L1388.6 449.2L1388.1 449.7L1387.7 450.3L1387.3 451.0L1386.9 451.7L1386.7 452.4L1386.6 453.2L1386.4 454.1L1386.3 455.0L1386.3 456.0L1386.2 457.0L1386.1 458.0L1386.1 459.1L1386.0 460.1L1385.9 460.8L1385.8 461.5L1385.8 462.2L1385.7 463.3L1385.7 464.7L1385.7 466.8L1385.7 469.6L1385.7 473.3L1385.7 477.7L1385.8 482.8L1385.8 488.3L1385.9 494.0L1386.0 499.8L1386.0 505.4L1386.1 510.8L1386.1 515.9L1386.1 520.8L1386.1 525.6L1386.2 530.5L1386.2 535.4L1386.2 540.7L1386.3 545.9L1386.3 550.9L1386.4 556.7L1386.5 563.4L1386.5 570.6L1386.6 578.2L1386.7 585.4L1386.8 592.2L1386.9 597.9L1386.9 602.1" stroke-width="2.272" />
<path d="M1219.5 462.3L1219.5 463.5L1219.5 465.0L1219.5 466.7L1219.6 468.7L1219.6 470.9L1219.6 473.3L1219.6 476.0L1219.5 478.9L1219.5 482.1L1219.4 485.7L1219.4 489.6L1219.3 493.7L1219.2 497.9L1219.1 502.0L1219.0 506.0L1218.9 509.7L1218.8 513.3L1218.6 517.0L1218.4 520.8L1218.2 524.4L1218.0 527.7L1217.9 530.7L1217.7 533.2L1217.6 535.2" stroke-width="1.9879999999999998" />
<path d="M1389.5 462.3L1389.5 463.5L1389.5 465.0L1389.5 466.7L1389.4 468.7L1389.4 470.9L1389.4 473.3L1389.4 476.0L1389.5 478.9L1389.5 482.1L1389.6 485.7L1389.6 489.6L1389.7 493.7L1389.8 497.9L1389.9 502.0L1390.0 506.0L1390.1 509.7L1390.2 513.3L1390.4 517.0L1390.6 520.8L1390.8 524.4L1391.0 527.7L1391.1 530.7L1391.3 533.2L1391.4 535.2" stroke-width="1.9879999999999998" />
<path d="M1207.2 597.2L1222.1 602.1" stroke-width="2.84" />
<path d="M1401.8 597.2L1386.9 602.1" stroke-width="2.84" />
<path d="M1213.8 535.3L1218.4 536.6" stroke-width="1.704" />
<path d="M1395.2 535.3L1390.6 536.6" stroke-width="1.704" />
<path d="M1198.0 444.0L1203.7 445.7" stroke-width="1.704" />
<path d="M1411.0 444.0L1405.3 445.7" stroke-width="1.704" />
<path d="M1218.9 447.6L1229.0 450.3L1239.1 452.6" stroke-width="2.272" />
<path d="M1390.1 447.6L1380.0 450.3L1369.9 452.6" stroke-width="2.272" />
<path d="M1219.5 462.3L1230.2 465.1L1240.9 467.5" stroke-width="2.272" />
<path d="M1389.5 462.3L1378.8 465.1L1368.1 467.5" stroke-width="2.272" />
<path d="M1131.9 406.6L1132.3 407.5L1132.8 408.5L1133.3 409.6L1133.9 410.8L1134.4 412.0L1135.0 413.2L1135.4 414.2L1135.8 415.0L1136.2 415.8L1136.5 416.4L1136.9 417.1L1137.2 417.8L1137.6 418.6L1138.1 419.6L1138.6 420.7L1139.2 422.2L1140.0 423.8L1140.7 425.5L1141.6 427.3L1142.4 429.3L1143.3 431.3L1144.1 433.3L1144.9 435.3L1145.7 437.5L1146.5 439.9L1147.3 442.3L1148.1 444.7L1148.9 447.2L1149.7 449.7L1150.5 452.1L1151.3 454.5L1152.0 456.9L1152.7 459.3L1153.5 461.6L1154.2 464.0L1154.9 466.3L1155.6 468.7L1156.3 471.0L1157.0 473.3L1157.6 475.7L1158.3 478.0L1159.0 480.3L1159.6 482.6L1160.2 485.0L1160.9 487.3L1161.5 489.8L1162.0 492.3L1162.6 494.9L1163.1 497.6L1163.6 500.4L1164.1 503.2L1164.5 506.1L1165.0 508.9L1165.4 511.8L1165.8 514.6L1166.2 517.4L1166.6 520.2L1166.9 523.0L1167.2 525.8L1167.5 528.5L1167.8 531.3L1168.1 534.2L1168.4 537.0L1168.6 539.8L1168.9 542.7L1169.1 545.5L1169.3 548.5L1169.5 551.5L1169.7 554.4L1169.9 557.3L1170.0 560.0L1170.1 562.6L1170.2 565.4L1170.2 568.3L1170.2 571.0L1170.2 573.6L1170.2 575.8L1170.2 577.8L1170.3 579.2" stroke-width="3.2659999999999996" />
<path d="M1477.1 406.6L1476.7 407.5L1476.2 408.5L1475.7 409.6L1475.1 410.8L1474.6 412.0L1474.0 413.2L1473.6 414.2L1473.2 415.0L1472.8 415.8L1472.5 416.4L1472.1 417.1L1471.8 417.8L1471.4 418.6L1470.9 419.6L1470.4 420.7L1469.8 422.2L1469.0 423.8L1468.3 425.5L1467.4 427.3L1466.6 429.3L1465.7 431.3L1464.9 433.3L1464.1 435.3L1463.3 437.5L1462.5 439.9L1461.7 442.3L1460.9 444.7L1460.1 447.2L1459.3 449.7L1458.5 452.1L1457.7 454.5L1457.0 456.9L1456.3 459.3L1455.5 461.6L1454.8 464.0L1454.1 466.3L1453.4 468.7L1452.7 471.0L1452.0 473.3L1451.4 475.7L1450.7 478.0L1450.0 480.3L1449.4 482.6L1448.8 485.0L1448.1 487.3L1447.5 489.8L1447.0 492.3L1446.4 494.9L1445.9 497.6L1445.4 500.4L1444.9 503.2L1444.5 506.1L1444.0 508.9L1443.6 511.8L1443.2 514.6L1442.8 517.4L1442.4 520.2L1442.1 523.0L1441.8 525.8L1441.5 528.5L1441.2 531.3L1440.9 534.2L1440.6 537.0L1440.4 539.8L1440.1 542.7L1439.9 545.5L1439.7 548.5L1439.5 551.5L1439.3 554.4L1439.1 557.3L1439.0 560.0L1438.9 562.6L1438.8 565.4L1438.8 568.3L1438.8 571.0L1438.8 573.6L1438.8 575.8L1438.8 577.8L1438.7 579.2" stroke-width="3.2659999999999996" />
<path d="M1151.3 417.4L1151.5 418.5L1151.9 420.0L1152.4 422.0L1152.8 424.1L1153.4 426.5L1153.9 428.8L1154.5 431.2L1155.1 433.4L1155.6 435.6L1156.2 437.9L1156.9 440.2L1157.5 442.5L1158.2 444.8L1158.8 447.2L1159.5 449.5L1160.1 451.8L1160.8 454.1L1161.4 456.4L1162.1 458.7L1162.7 461.0L1163.3 463.4L1164.0 465.7L1164.6 467.9L1165.2 470.2L1165.8 472.5L1166.3 474.8L1166.9 477.0L1167.4 479.3L1168.0 481.6L1168.5 483.9L1169.1 486.3L1169.6 488.8L1170.2 491.4L1170.7 494.0L1171.3 496.6L1171.8 499.3L1172.4 502.2L1172.9 505.1L1173.5 508.2L1174.1 511.5L1174.6 515.1L1175.2 518.8L1175.8 522.7L1176.4 526.8L1176.9 531.0L1177.5 535.2L1178.0 539.4L1178.5 543.5L1179.0 548.0L1179.4 552.8L1179.9 557.8L1180.3 562.6L1180.8 567.4L1181.1 571.7L1181.4 575.4L1181.7 578.1" stroke-width="1.8459999999999999" />
<path d="M1457.7 417.4L1457.5 418.5L1457.1 420.0L1456.6 422.0L1456.2 424.1L1455.6 426.5L1455.1 428.8L1454.5 431.2L1453.9 433.4L1453.4 435.6L1452.8 437.9L1452.1 440.2L1451.5 442.5L1450.8 444.8L1450.2 447.2L1449.5 449.5L1448.9 451.8L1448.2 454.1L1447.6 456.4L1446.9 458.7L1446.3 461.0L1445.7 463.4L1445.0 465.7L1444.4 467.9L1443.8 470.2L1443.2 472.5L1442.7 474.8L1442.1 477.0L1441.6 479.3L1441.0 481.6L1440.5 483.9L1439.9 486.3L1439.4 488.8L1438.8 491.4L1438.3 494.0L1437.7 496.6L1437.2 499.3L1436.6 502.2L1436.1 505.1L1435.5 508.2L1434.9 511.5L1434.4 515.1L1433.8 518.8L1433.2 522.7L1432.6 526.8L1432.1 531.0L1431.5 535.2L1431.0 539.4L1430.5 543.5L1430.0 548.0L1429.6 552.8L1429.1 557.8L1428.7 562.6L1428.2 567.4L1427.9 571.7L1427.6 575.4L1427.3 578.1" stroke-width="1.8459999999999999" />
<path d="M1156.3 421.8L1156.6 422.9L1157.0 424.3L1157.5 426.0L1158.0 427.9L1158.5 430.0L1159.1 432.1L1159.6 434.2L1160.1 436.2L1160.6 438.3L1161.1 440.5L1161.5 442.7L1162.0 444.9L1162.5 447.2L1162.9 449.4L1163.4 451.7L1163.9 454.0L1164.5 456.2L1165.0 458.5L1165.6 460.7L1166.1 463.0L1166.7 465.3L1167.3 467.5L1167.8 469.8L1168.4 472.0L1168.9 474.3L1169.3 476.5L1169.8 478.7L1170.3 480.9L1170.7 483.1L1171.2 485.4L1171.7 487.7L1172.2 490.2L1172.7 492.8L1173.2 495.4L1173.8 498.0L1174.4 500.8L1175.0 503.6L1175.5 506.5L1176.1 509.6L1176.6 512.9L1177.1 516.5L1177.6 520.2L1178.0 524.0L1178.5 528.0L1178.9 532.2L1179.4 536.3L1179.8 540.5L1180.1 544.5L1180.5 548.9L1180.8 553.6L1181.1 558.5L1181.4 563.3L1181.7 568.0L1181.9 572.2L1182.1 575.8L1182.3 578.5" stroke-width="1.8459999999999999" />
<path d="M1452.7 421.8L1452.4 422.9L1452.0 424.3L1451.5 426.0L1451.0 427.9L1450.5 430.0L1449.9 432.1L1449.4 434.2L1448.9 436.2L1448.4 438.3L1447.9 440.5L1447.5 442.7L1447.0 444.9L1446.5 447.2L1446.1 449.4L1445.6 451.7L1445.1 454.0L1444.5 456.2L1444.0 458.5L1443.4 460.7L1442.9 463.0L1442.3 465.3L1441.7 467.5L1441.2 469.8L1440.6 472.0L1440.1 474.3L1439.7 476.5L1439.2 478.7L1438.7 480.9L1438.3 483.1L1437.8 485.4L1437.3 487.7L1436.8 490.2L1436.3 492.8L1435.8 495.4L1435.2 498.0L1434.6 500.8L1434.0 503.6L1433.5 506.5L1432.9 509.6L1432.4 512.9L1431.9 516.5L1431.4 520.2L1431.0 524.0L1430.5 528.0L1430.1 532.2L1429.6 536.3L1429.2 540.5L1428.9 544.5L1428.5 548.9L1428.2 553.6L1427.9 558.5L1427.6 563.3L1427.3 568.0L1427.1 572.2L1426.9 575.8L1426.7 578.5" stroke-width="1.8459999999999999" />
<path d="M1150.6 424.7L1150.6 424.4L1150.6 424.0L1150.6 423.5L1150.6 423.0L1150.6 422.4L1150.6 421.9L1150.6 421.3L1150.8 420.9L1150.9 420.5L1151.1 420.0L1151.4 419.5L1151.6 419.0L1151.9 418.6L1152.2 418.4L1152.5 418.2L1152.8 418.3L1153.1 418.6L1153.4 419.1L1153.8 419.8L1154.1 420.6L1154.5 421.5L1154.8 422.3L1155.1 423.2L1155.3 423.9L1155.5 424.7L1155.7 425.5L1155.8 426.2L1156.0 427.0L1156.1 427.7L1156.2 428.4L1156.3 428.9L1156.3 429.3" stroke-width="1.8459999999999999" />
<path d="M1458.4 424.7L1458.4 424.4L1458.4 424.0L1458.4 423.5L1458.4 423.0L1458.4 422.4L1458.4 421.9L1458.4 421.3L1458.2 420.9L1458.1 420.5L1457.9 420.0L1457.6 419.5L1457.4 419.0L1457.1 418.6L1456.8 418.4L1456.5 418.2L1456.2 418.3L1455.9 418.6L1455.6 419.1L1455.2 419.8L1454.9 420.6L1454.5 421.5L1454.2 422.3L1453.9 423.2L1453.7 423.9L1453.5 424.7L1453.3 425.5L1453.2 426.2L1453.0 427.0L1452.9 427.7L1452.8 428.4L1452.7 428.9L1452.7 429.3" stroke-width="1.8459999999999999" />
<path d="M1153.2 418.4L1154.0 418.5" stroke-width="2.13" />
<path d="M1168.7 425.1L1170.3 426.3L1171.9 427.6L1173.3 428.8L1174.4 429.9L1175.3 430.7" stroke-width="2.13" />
<path d="M1455.8 418.4L1455.0 418.5" stroke-width="2.13" />
<path d="M1440.3 425.1L1438.7 426.3L1437.1 427.6L1435.7 428.8L1434.6 429.9L1433.7 430.7" stroke-width="2.13" />
<path d="M1166.5 424.2L1167.8 425.2L1169.4 426.3L1170.9 427.5L1172.5 428.7L1173.9 429.9L1175.3 431.3L1176.4 432.9L1177.2 434.1" stroke-width="1.8459999999999999" />
<path d="M1442.5 424.2L1441.2 425.2L1439.6 426.3L1438.1 427.5L1436.5 428.7L1435.1 429.9L1433.7 431.3L1432.6 432.9L1431.8 434.1" stroke-width="1.8459999999999999" />
<path d="M1175.3 430.5L1175.8 431.0L1176.4 431.6L1177.1 432.4L1177.9 433.2L1178.7 434.0L1179.4 434.9L1180.1 435.7L1180.6 436.5L1181.0 437.2L1181.3 437.9L1181.6 438.6L1181.8 439.3L1181.9 440.0L1182.0 440.8L1182.2 441.5L1182.3 442.3L1182.4 442.7L1182.5 442.9L1182.6 442.8L1182.7 442.9L1182.8 443.3L1182.8 444.2L1182.9 446.0L1182.9 448.8L1183.0 452.7L1183.0 457.7L1183.0 463.4L1183.0 469.7L1183.0 476.4L1183.0 483.2L1182.9 489.9L1182.9 496.3L1182.9 502.6L1182.9 509.0L1182.9 515.5L1182.8 522.1L1182.8 528.7L1182.7 534.2L1182.7 539.5L1182.7 544.8L1182.6 550.1L1182.6 555.9L1182.5 561.9L1182.5 567.8L1182.4 573.4L1182.4 578.6L1182.3 582.9L1182.3 586.2" stroke-width="2.272" />
<path d="M1433.7 430.5L1433.2 431.0L1432.6 431.6L1431.9 432.4L1431.1 433.2L1430.3 434.0L1429.6 434.9L1428.9 435.7L1428.4 436.5L1428.0 437.2L1427.7 437.9L1427.4 438.6L1427.2 439.3L1427.1 440.0L1427.0 440.8L1426.8 441.5L1426.7 442.3L1426.6 442.7L1426.5 442.9L1426.4 442.8L1426.3 442.9L1426.2 443.3L1426.2 444.2L1426.1 446.0L1426.1 448.8L1426.0 452.7L1426.0 457.7L1426.0 463.4L1426.0 469.7L1426.0 476.4L1426.0 483.2L1426.1 489.9L1426.1 496.3L1426.1 502.6L1426.1 509.0L1426.1 515.5L1426.2 522.1L1426.2 528.7L1426.3 534.2L1426.3 539.5L1426.3 544.8L1426.4 550.1L1426.4 555.9L1426.5 561.9L1426.5 567.8L1426.6 573.4L1426.6 578.6L1426.7 582.9L1426.7 586.2" stroke-width="2.272" />
<path d="M1178.5 446.6L1178.5 450.4L1178.5 455.7L1178.5 461.9L1178.5 468.8L1178.5 475.8L1178.5 482.7L1178.5 488.9L1178.5 494.1L1178.4 498.6L1178.4 502.7L1178.3 506.5L1178.2 509.9L1178.1 512.9L1178.0 515.6L1177.9 517.9L1177.9 519.7" stroke-width="1.9879999999999998" />
<path d="M1430.5 446.6L1430.5 450.4L1430.5 455.7L1430.5 461.9L1430.5 468.8L1430.5 475.8L1430.5 482.7L1430.5 488.9L1430.5 494.1L1430.6 498.6L1430.6 502.7L1430.7 506.5L1430.8 509.9L1430.9 512.9L1431.0 515.6L1431.1 517.9L1431.1 519.7" stroke-width="1.9879999999999998" />
<path d="M1170.3 579.2L1182.3 586.2" stroke-width="2.84" />
<path d="M1438.7 579.2L1426.7 586.2" stroke-width="2.84" />
<path d="M1174.1 519.2L1178.0 521.2" stroke-width="1.704" />
<path d="M1434.9 519.2L1431.0 521.2" stroke-width="1.704" />
<path d="M1150.6 424.7L1156.3 429.3" stroke-width="1.704" />
<path d="M1458.4 424.7L1452.7 429.3" stroke-width="1.704" />
<path d="M1175.3 430.5L1181.0 433.3L1186.6 435.9" stroke-width="2.272" />
<path d="M1433.7 430.5L1428.0 433.3L1422.4 435.9" stroke-width="2.272" />
<path d="M1178.5 446.6L1184.1 449.3L1189.7 451.8" stroke-width="2.272" />
<path d="M1430.5 446.6L1424.9 449.3L1419.3 451.8" stroke-width="2.272" />
<path d="M1097.8 377.7L1098.2 378.7L1098.8 379.9L1099.4 381.2L1100.1 382.6L1100.7 384.0L1101.3 385.3L1101.9 386.4L1102.4 387.4L1102.8 388.3L1103.2 389.1L1103.6 389.9L1104.1 390.7L1104.6 391.6L1105.1 392.7L1105.7 393.9L1106.3 395.5L1107.1 397.2L1107.9 399.0L1108.7 401.0L1109.5 403.0L1110.4 405.1L1111.2 407.2L1112.0 409.3L1112.8 411.6L1113.6 414.0L1114.4 416.4L1115.2 418.9L1116.0 421.4L1116.7 424.0L1117.5 426.5L1118.3 429.0L1119.1 431.5L1119.9 433.9L1120.7 436.4L1121.5 438.9L1122.3 441.4L1123.1 443.8L1123.9 446.3L1124.7 448.7L1125.4 451.2L1126.1 453.6L1126.9 456.0L1127.6 458.5L1128.3 460.9L1129.0 463.4L1129.7 465.9L1130.4 468.5L1131.0 471.2L1131.7 474.0L1132.3 476.8L1133.0 479.7L1133.6 482.6L1134.2 485.5L1134.8 488.4L1135.4 491.3L1136.0 494.3L1136.6 497.2L1137.2 500.1L1137.8 503.0L1138.4 505.9L1138.9 508.8L1139.4 511.8L1139.9 514.6L1140.3 517.5L1140.7 520.4L1141.0 523.2L1141.4 526.2L1141.7 529.2L1141.9 532.1L1142.2 535.0L1142.4 537.6L1142.6 540.3L1142.7 543.0L1142.8 545.8L1142.9 548.5L1142.9 551.0L1143.0 553.2L1143.0 555.0L1143.0 556.5" stroke-width="3.2659999999999996" />
<path d="M1511.2 377.7L1510.8 378.7L1510.2 379.9L1509.6 381.2L1508.9 382.6L1508.3 384.0L1507.7 385.3L1507.1 386.4L1506.6 387.4L1506.2 388.3L1505.8 389.1L1505.4 389.9L1504.9 390.7L1504.4 391.6L1503.9 392.7L1503.3 393.9L1502.7 395.5L1501.9 397.2L1501.1 399.0L1500.3 401.0L1499.5 403.0L1498.6 405.1L1497.8 407.2L1497.0 409.3L1496.2 411.6L1495.4 414.0L1494.6 416.4L1493.8 418.9L1493.0 421.4L1492.3 424.0L1491.5 426.5L1490.7 429.0L1489.9 431.5L1489.1 433.9L1488.3 436.4L1487.5 438.9L1486.7 441.4L1485.9 443.8L1485.1 446.3L1484.3 448.7L1483.6 451.2L1482.9 453.6L1482.1 456.0L1481.4 458.5L1480.7 460.9L1480.0 463.4L1479.3 465.9L1478.6 468.5L1478.0 471.2L1477.3 474.0L1476.7 476.8L1476.0 479.7L1475.4 482.6L1474.8 485.5L1474.2 488.4L1473.6 491.3L1473.0 494.3L1472.4 497.2L1471.8 500.1L1471.2 503.0L1470.6 505.9L1470.1 508.8L1469.6 511.8L1469.1 514.6L1468.7 517.5L1468.3 520.4L1468.0 523.2L1467.6 526.2L1467.3 529.2L1467.1 532.1L1466.8 535.0L1466.6 537.6L1466.4 540.3L1466.3 543.0L1466.2 545.8L1466.1 548.5L1466.1 551.0L1466.0 553.2L1466.0 555.0L1466.0 556.5" stroke-width="3.2659999999999996" />
<path d="M1114.5 393.9L1115.1 396.2L1115.8 398.5L1116.4 400.7L1117.1 402.9L1117.7 405.2L1118.4 407.5L1119.1 409.9L1119.8 412.3L1120.6 414.7L1121.3 417.2L1122.0 419.6L1122.8 422.0L1123.5 424.4L1124.2 426.7L1124.9 429.1L1125.6 431.5L1126.3 433.9L1127.0 436.3L1127.8 438.7L1128.5 441.0L1129.2 443.5L1129.9 446.0L1130.6 448.6L1131.3 451.1L1132.0 453.6L1132.7 456.1L1133.5 458.5L1134.2 460.9L1134.9 463.4L1135.6 465.9L1136.4 468.4L1137.2 470.9L1137.9 473.3L1138.6 475.6L1139.3 477.6L1139.9 479.4L1140.4 480.8L1140.8 481.7L1141.2 482.4L1141.5 482.9L1141.9 483.5L1142.2 484.4L1142.6 485.8L1143.0 487.8L1143.5 490.5L1144.1 493.9L1144.7 497.6L1145.3 501.7L1145.9 506.0L1146.5 510.4L1147.0 514.7L1147.5 518.7L1147.9 523.0L1148.3 527.7L1148.7 532.4L1149.0 537.0L1149.3 541.7L1149.6 545.9L1149.8 549.4L1150.0 552.1" stroke-width="1.8459999999999999" />
<path d="M1494.5 393.9L1493.9 396.2L1493.2 398.5L1492.6 400.7L1491.9 402.9L1491.3 405.2L1490.6 407.5L1489.9 409.9L1489.2 412.3L1488.4 414.7L1487.7 417.2L1487.0 419.6L1486.2 422.0L1485.5 424.4L1484.8 426.7L1484.1 429.1L1483.4 431.5L1482.7 433.9L1482.0 436.3L1481.2 438.7L1480.5 441.0L1479.8 443.5L1479.1 446.0L1478.4 448.6L1477.7 451.1L1477.0 453.6L1476.3 456.1L1475.5 458.5L1474.8 460.9L1474.1 463.4L1473.4 465.9L1472.6 468.4L1471.8 470.9L1471.1 473.3L1470.4 475.6L1469.7 477.6L1469.1 479.4L1468.6 480.8L1468.2 481.7L1467.8 482.4L1467.5 482.9L1467.1 483.5L1466.8 484.4L1466.4 485.8L1466.0 487.8L1465.5 490.5L1464.9 493.9L1464.3 497.6L1463.7 501.7L1463.1 506.0L1462.5 510.4L1462.0 514.7L1461.5 518.7L1461.1 523.0L1460.7 527.7L1460.3 532.4L1460.0 537.0L1459.7 541.7L1459.4 545.9L1459.2 549.4L1459.0 552.1" stroke-width="1.8459999999999999" />
<path d="M1119.2 397.1L1119.9 398.9L1120.5 400.9L1121.3 403.1L1122.0 405.3L1122.7 407.5L1123.4 409.6L1124.0 411.8L1124.7 414.1L1125.3 416.4L1125.9 418.7L1126.6 421.0L1127.2 423.4L1127.8 425.7L1128.5 428.0L1129.1 430.3L1129.7 432.6L1130.4 434.9L1131.0 437.2L1131.6 439.5L1132.3 441.8L1132.9 444.1L1133.5 446.4L1134.2 448.8L1134.8 451.1L1135.4 453.4L1136.0 455.7L1136.6 458.1L1137.2 460.5L1137.9 463.0L1138.6 465.6L1139.3 468.3L1140.1 471.1L1141.0 474.0L1141.8 477.0L1142.7 480.0L1143.5 483.1L1144.2 486.3L1144.9 489.7L1145.6 493.2L1146.1 496.9L1146.7 500.7L1147.2 504.6L1147.7 508.6L1148.2 512.6L1148.6 516.5L1149.0 520.4L1149.3 524.7L1149.7 529.2L1150.0 533.9L1150.2 538.4L1150.5 543.0L1150.7 547.2L1150.9 550.6L1151.0 553.3" stroke-width="1.8459999999999999" />
<path d="M1489.8 397.1L1489.1 398.9L1488.5 400.9L1487.7 403.1L1487.0 405.3L1486.3 407.5L1485.6 409.6L1485.0 411.8L1484.3 414.1L1483.7 416.4L1483.1 418.7L1482.4 421.0L1481.8 423.4L1481.2 425.7L1480.5 428.0L1479.9 430.3L1479.3 432.6L1478.6 434.9L1478.0 437.2L1477.4 439.5L1476.7 441.8L1476.1 444.1L1475.5 446.4L1474.8 448.8L1474.2 451.1L1473.6 453.4L1473.0 455.7L1472.4 458.1L1471.8 460.5L1471.1 463.0L1470.4 465.6L1469.7 468.3L1468.9 471.1L1468.0 474.0L1467.2 477.0L1466.3 480.0L1465.5 483.1L1464.8 486.3L1464.1 489.7L1463.4 493.2L1462.9 496.9L1462.3 500.7L1461.8 504.6L1461.3 508.6L1460.8 512.6L1460.4 516.5L1460.0 520.4L1459.7 524.7L1459.3 529.2L1459.0 533.9L1458.8 538.4L1458.5 543.0L1458.3 547.2L1458.1 550.6L1458.0 553.3" stroke-width="1.8459999999999999" />
<path d="M1111.0 397.0L1111.0 396.7L1111.0 396.4L1111.0 396.1L1111.0 395.7L1111.0 395.2L1111.0 394.8L1111.1 394.4L1111.2 394.0L1111.4 393.8L1111.6 393.4L1111.8 393.1L1112.1 392.8L1112.3 392.6L1112.6 392.5L1112.9 392.5L1113.3 392.7L1113.6 393.2L1114.0 393.8L1114.4 394.6L1114.9 395.5L1115.3 396.4L1115.7 397.4L1116.1 398.3L1116.4 399.1L1116.7 399.9L1117.0 400.8L1117.3 401.6L1117.6 402.4L1117.8 403.2L1118.0 403.9L1118.2 404.4L1118.3 404.8" stroke-width="1.8459999999999999" />
<path d="M1498.0 397.0L1498.0 396.7L1498.0 396.4L1498.0 396.1L1498.0 395.7L1498.0 395.2L1498.0 394.8L1497.9 394.4L1497.8 394.0L1497.6 393.8L1497.4 393.4L1497.2 393.1L1496.9 392.8L1496.7 392.6L1496.4 392.5L1496.1 392.5L1495.7 392.7L1495.4 393.2L1495.0 393.8L1494.6 394.6L1494.1 395.5L1493.7 396.4L1493.3 397.4L1492.9 398.3L1492.6 399.1L1492.3 399.9L1492.0 400.8L1491.7 401.6L1491.4 402.4L1491.2 403.2L1491.0 403.9L1490.8 404.4L1490.7 404.8" stroke-width="1.8459999999999999" />
<path d="M1146.9 415.4L1147.5 416.5L1147.9 417.5L1148.4 418.5L1148.8 419.5L1149.1 420.6L1149.5 421.6L1149.7 422.6L1150.0 423.8L1150.2 424.9L1150.4 426.0L1150.6 426.8L1150.7 427.5L1150.8 428.3L1150.9 429.4L1150.9 430.9L1151.0 433.0L1151.0 435.8L1151.0 439.5L1151.1 443.8L1151.1 448.7L1151.0 454.0L1151.0 459.6L1151.0 465.4L1151.0 471.3L1151.0 477.2L1151.0 483.2L1151.1 489.5L1151.1 496.1L1151.1 502.8L1151.2 509.5L1151.2 514.9L1151.2 520.1L1151.3 525.1L1151.3 530.1L1151.3 535.6L1151.3 541.4L1151.3 547.0L1151.3 552.4L1151.3 557.4L1151.3 561.6L1151.3 564.8" stroke-width="2.272" />
<path d="M1462.1 415.4L1461.5 416.5L1461.1 417.5L1460.6 418.5L1460.2 419.5L1459.9 420.6L1459.5 421.6L1459.3 422.6L1459.0 423.8L1458.8 424.9L1458.6 426.0L1458.4 426.8L1458.3 427.5L1458.2 428.3L1458.1 429.4L1458.1 430.9L1458.0 433.0L1458.0 435.8L1458.0 439.5L1457.9 443.8L1457.9 448.7L1458.0 454.0L1458.0 459.6L1458.0 465.4L1458.0 471.3L1458.0 477.2L1458.0 483.2L1457.9 489.5L1457.9 496.1L1457.9 502.8L1457.8 509.5L1457.8 514.9L1457.8 520.1L1457.7 525.1L1457.7 530.1L1457.7 535.6L1457.7 541.4L1457.7 547.0L1457.7 552.4L1457.7 557.4L1457.7 561.6L1457.7 564.8" stroke-width="2.272" />
<path d="M1144.9 424.7L1144.9 428.5L1144.9 433.8L1144.9 440.0L1144.9 446.9L1144.9 453.9L1144.9 460.8L1144.9 467.0L1144.9 472.3L1145.0 476.8L1145.1 481.0L1145.1 484.9L1145.2 488.4L1145.3 491.6L1145.4 494.4L1145.5 496.8L1145.6 498.7" stroke-width="1.9879999999999998" />
<path d="M1464.1 424.7L1464.1 428.5L1464.1 433.8L1464.1 440.0L1464.1 446.9L1464.1 453.9L1464.1 460.8L1464.1 467.0L1464.1 472.3L1464.0 476.8L1463.9 481.0L1463.9 484.9L1463.8 488.4L1463.7 491.6L1463.6 494.4L1463.5 496.8L1463.4 498.7" stroke-width="1.9879999999999998" />
<path d="M1143.0 556.5L1151.3 564.8" stroke-width="2.84" />
<path d="M1466.0 556.5L1457.7 564.8" stroke-width="2.84" />
<path d="M1143.0 498.5L1146.4 501.3" stroke-width="1.704" />
<path d="M1466.0 498.5L1462.6 501.3" stroke-width="1.704" />
<path d="M1111.0 397.0L1118.3 404.8" stroke-width="1.704" />
<path d="M1498.0 397.0L1490.7 404.8" stroke-width="1.704" />
<path d="M1144.9 424.7L1147.1 426.5L1149.3 428.3" stroke-width="2.272" />
<path d="M1464.1 424.7L1461.9 426.5L1459.7 428.3" stroke-width="2.272" />
<path d="M1074.0 331.2L1074.4 332.1" stroke-width="3.2659999999999996" />
<path d="M1085.2 359.6L1086.0 361.7L1086.8 364.5L1087.7 367.3L1088.6 370.3L1089.4 373.3L1090.3 376.2L1091.2 379.2L1092.1 382.2L1093.0 385.1L1093.9 388.0L1094.8 391.0L1095.6 393.9L1096.5 396.8L1097.4 399.7L1098.3 402.5L1099.1 405.3L1100.0 408.0L1100.8 411.0L1101.6 413.8L1102.4 416.6L1103.1 419.3L1103.9 422.1L1104.7 424.9L1105.5 427.7L1106.3 430.6L1107.2 433.7L1108.0 436.8L1109.0 440.1L1109.9 443.3L1110.8 446.6L1111.6 449.7L1112.5 453.0L1113.3 456.1L1114.0 459.0L1114.7 461.7L1115.3 464.3L1116.0 466.8L1116.6 469.2L1117.2 471.6L1117.7 474.3L1118.3 477.0L1118.9 479.8L1119.5 482.6L1120.1 485.4L1120.6 488.2L1121.2 491.0L1121.7 494.4L1122.2 497.8L1122.8 501.1L1123.3 504.5L1123.8 508.1L1124.4 512.0L1124.9 516.2L1125.4 520.2L1125.9 523.8L1126.3 526.8L1126.6 529.0" stroke-width="3.2659999999999996" />
<path d="M1535.0 331.2L1534.6 332.1" stroke-width="3.2659999999999996" />
<path d="M1523.8 359.6L1523.0 361.7L1522.2 364.5L1521.3 367.3L1520.4 370.3L1519.6 373.3L1518.7 376.2L1517.8 379.2L1516.9 382.2L1516.0 385.1L1515.1 388.0L1514.2 391.0L1513.4 393.9L1512.5 396.8L1511.6 399.7L1510.7 402.5L1509.9 405.3L1509.0 408.0L1508.2 411.0L1507.4 413.8L1506.6 416.6L1505.9 419.3L1505.1 422.1L1504.3 424.9L1503.5 427.7L1502.7 430.6L1501.8 433.7L1501.0 436.8L1500.0 440.1L1499.1 443.3L1498.2 446.6L1497.4 449.7L1496.5 453.0L1495.7 456.1L1495.0 459.0L1494.3 461.7L1493.7 464.3L1493.0 466.8L1492.4 469.2L1491.8 471.6L1491.3 474.3L1490.7 477.0L1490.1 479.8L1489.5 482.6L1488.9 485.4L1488.4 488.2L1487.8 491.0L1487.3 494.4L1486.8 497.8L1486.2 501.1L1485.7 504.5L1485.2 508.1L1484.6 512.0L1484.1 516.2L1483.6 520.2L1483.1 523.8L1482.7 526.8L1482.4 529.0" stroke-width="3.2659999999999996" />
<path d="M1103.3 384.2L1104.2 386.8L1105.0 389.4L1105.9 391.9L1106.6 394.4L1107.4 396.9L1108.2 399.4L1109.0 401.9L1109.8 404.5L1110.5 407.2L1111.4 410.1L1112.2 413.0L1113.1 415.9L1114.0 418.9L1114.8 422.0L1115.7 425.2L1116.6 428.6L1117.5 432.1L1118.3 435.9L1119.2 439.9L1120.0 444.2L1120.8 448.7L1121.6 453.3L1122.4 458.0L1123.2 462.7L1123.9 467.5L1124.7 472.1L1125.4 476.9L1126.1 482.1L1126.9 487.4L1127.6 492.7L1128.3 497.7L1128.8 502.2L1129.3 505.9L1129.7 508.8" stroke-width="1.8459999999999999" />
<path d="M1505.7 384.2L1504.8 386.8L1504.0 389.4L1503.1 391.9L1502.4 394.4L1501.6 396.9L1500.8 399.4L1500.0 401.9L1499.2 404.5L1498.5 407.2L1497.6 410.1L1496.8 413.0L1495.9 415.9L1495.0 418.9L1494.2 422.0L1493.3 425.2L1492.4 428.6L1491.5 432.1L1490.7 435.9L1489.8 439.9L1489.0 444.2L1488.2 448.7L1487.4 453.3L1486.6 458.0L1485.8 462.7L1485.1 467.5L1484.3 472.1L1483.6 476.9L1482.9 482.1L1482.1 487.4L1481.4 492.7L1480.7 497.7L1480.2 502.2L1479.7 505.9L1479.3 508.8" stroke-width="1.8459999999999999" />
<path d="M1102.7 383.7L1103.5 386.3L1104.2 388.8L1105.0 391.4L1105.8 393.9L1106.6 396.5L1107.4 399.1L1108.2 401.6L1109.0 404.6L1109.8 407.5L1110.5 410.5L1111.3 413.4L1112.1 416.3L1112.9 419.2L1113.7 422.1L1114.5 425.1L1115.4 428.2L1116.3 431.3L1117.2 434.6L1118.1 437.8L1119.0 441.0L1119.8 444.2L1120.7 447.4L1121.5 450.7L1122.3 453.8L1123.1 456.7L1123.8 459.4L1124.5 461.8L1125.2 463.9L1125.9 462.7L1126.6 467.5L1127.2 472.1L1127.8 476.9L1128.4 482.1L1129.0 487.4L1129.6 492.7L1130.1 497.7L1130.6 502.2L1130.9 505.9L1131.2 508.8" stroke-width="1.8459999999999999" />
<path d="M1506.3 383.7L1505.5 386.3L1504.8 388.8L1504.0 391.4L1503.2 393.9L1502.4 396.5L1501.6 399.1L1500.8 401.6L1500.0 404.6L1499.2 407.5L1498.5 410.5L1497.7 413.4L1496.9 416.3L1496.1 419.2L1495.3 422.1L1494.5 425.1L1493.6 428.2L1492.7 431.3L1491.8 434.6L1490.9 437.8L1490.0 441.0L1489.2 444.2L1488.3 447.4L1487.5 450.7L1486.7 453.8L1485.9 456.7L1485.2 459.4L1484.5 461.8L1483.8 463.9L1483.1 462.7L1482.4 467.5L1481.8 472.1L1481.2 476.9L1480.6 482.1L1480.0 487.4L1479.4 492.7L1478.9 497.7L1478.4 502.2L1478.1 505.9L1477.8 508.8" stroke-width="1.8459999999999999" />
<path d="M1084.1 360.5L1084.1 360.5L1084.1 360.5L1084.1 360.5L1084.1 360.4L1084.2 360.3L1084.2 360.3L1084.3 360.3L1084.4 360.4L1084.6 360.5L1084.8 360.7L1085.0 360.9L1085.2 361.1L1085.5 361.3L1085.8 361.6L1086.1 362.0L1086.4 362.4L1086.7 363.0L1087.1 363.8L1087.4 364.6L1087.8 365.5L1088.2 366.4L1088.6 367.3L1088.9 368.2L1089.2 369.0L1089.5 369.8L1089.8 370.6L1090.1 371.3L1090.3 372.0L1090.6 372.6L1090.8 373.2L1091.0 373.7L1091.1 374.1" stroke-width="1.8459999999999999" />
<path d="M1524.9 360.5L1524.9 360.5L1524.9 360.5L1524.9 360.5L1524.9 360.4L1524.8 360.3L1524.8 360.3L1524.7 360.3L1524.6 360.4L1524.4 360.5L1524.2 360.7L1524.0 360.9L1523.8 361.1L1523.5 361.3L1523.2 361.6L1522.9 362.0L1522.6 362.4L1522.3 363.0L1521.9 363.8L1521.6 364.6L1521.2 365.5L1520.8 366.4L1520.4 367.3L1520.1 368.2L1519.8 369.0L1519.5 369.8L1519.2 370.6L1518.9 371.3L1518.7 372.0L1518.4 372.6L1518.2 373.2L1518.0 373.7L1517.9 374.1" stroke-width="1.8459999999999999" />
<path d="M1129.1 445.5L1129.1 448.4L1129.2 452.2L1129.3 456.7L1129.3 461.7L1129.4 467.0L1129.5 472.4L1129.6 477.6L1129.7 482.5L1129.9 487.2L1130.0 491.5L1130.2 494.7L1130.4 497.9L1130.5 501.3L1130.7 504.6L1130.9 507.9L1131.0 511.1L1131.1 514.9L1131.2 518.9L1131.3 523.0L1131.4 527.0L1131.5 531.2L1131.5 534.9L1131.6 538.1L1131.6 540.4" stroke-width="2.272" />
<path d="M1479.9 445.5L1479.9 448.4L1479.8 452.2L1479.7 456.7L1479.7 461.7L1479.6 467.0L1479.5 472.4L1479.4 477.6L1479.3 482.5L1479.1 487.2L1479.0 491.5L1478.8 494.7L1478.6 497.9L1478.5 501.3L1478.3 504.6L1478.1 507.9L1478.0 511.1L1477.9 514.9L1477.8 518.9L1477.7 523.0L1477.6 527.0L1477.5 531.2L1477.5 534.9L1477.4 538.1L1477.4 540.4" stroke-width="2.272" />
<path d="M1125.3 424.8L1125.3 426.8L1125.3 429.5L1125.3 432.6L1125.3 436.1L1125.3 439.8L1125.3 443.6L1125.3 447.3L1125.3 450.7L1125.3 453.9L1125.3 457.2L1125.3 460.4L1125.3 463.6L1125.3 466.9L1125.4 470.2L1125.5 473.5L1125.6 476.9L1125.7 480.5L1125.9 484.5L1126.1 487.4L1126.4 490.0L1126.6 492.6L1126.9 495.0L1127.1 497.0L1127.2 498.5" stroke-width="1.9879999999999998" />
<path d="M1483.7 424.8L1483.7 426.8L1483.7 429.5L1483.7 432.6L1483.7 436.1L1483.7 439.8L1483.7 443.6L1483.7 447.3L1483.7 450.7L1483.7 453.9L1483.7 457.2L1483.7 460.4L1483.7 463.6L1483.7 466.9L1483.6 470.2L1483.5 473.5L1483.4 476.9L1483.3 480.5L1483.1 484.5L1482.9 487.4L1482.6 490.0L1482.4 492.6L1482.1 495.0L1481.9 497.0L1481.8 498.5" stroke-width="1.9879999999999998" />
<path d="M1126.6 529.0L1131.6 540.4" stroke-width="2.84" />
<path d="M1482.4 529.0L1477.4 540.4" stroke-width="2.84" />
<path d="M1118.3 468.3L1122.9 476.1" stroke-width="1.704" />
<path d="M1490.7 468.3L1486.1 476.1" stroke-width="1.704" />
<path d="M1084.1 360.5L1091.1 374.1" stroke-width="1.704" />
<path d="M1524.9 360.5L1517.9 374.1" stroke-width="1.704" />
<path d="M1079.0 346.9L1079.2 347.4L1079.5 348.1L1079.8 348.9L1080.2 349.7L1080.6 350.7L1081.1 351.8L1081.6 352.9L1082.2 354.0L1082.7 355.6L1083.4 357.3L1084.1 359.2L1084.8 361.2L1085.6 363.2L1086.3 365.2L1087.1 367.2L1087.9 369.2L1088.6 371.7L1089.4 374.2L1090.2 376.7L1091.0 379.3L1091.8 381.9L1092.6 384.5L1093.4 387.0L1094.2 389.6L1095.0 392.1L1095.8 394.7L1096.6 397.3L1097.4 399.9L1098.2 402.5L1099.0 405.0L1099.8 407.5L1100.5 409.9L1101.3 412.6L1102.0 415.2L1102.7 417.7L1103.4 420.3L1104.1 422.8L1104.8 425.3L1105.5 427.8L1106.2 430.3L1106.9 432.9L1107.7 435.5L1108.4 438.1L1109.1 440.6L1109.8 443.2L1110.5 445.8L1111.2 448.3L1111.9 450.7L1112.6 453.5L1113.3 456.4L1114.1 459.4L1114.8 462.3L1115.5 465.0L1116.1 467.5L1116.6 469.6L1117.0 471.1" stroke-width="1.704" />
<path d="M1530.0 346.9L1529.8 347.4L1529.5 348.1L1529.2 348.9L1528.8 349.7L1528.4 350.7L1527.9 351.8L1527.4 352.9L1526.8 354.0L1526.3 355.6L1525.6 357.3L1524.9 359.2L1524.2 361.2L1523.4 363.2L1522.7 365.2L1521.9 367.2L1521.1 369.2L1520.4 371.7L1519.6 374.2L1518.8 376.7L1518.0 379.3L1517.2 381.9L1516.4 384.5L1515.6 387.0L1514.8 389.6L1514.0 392.1L1513.2 394.7L1512.4 397.3L1511.6 399.9L1510.8 402.5L1510.0 405.0L1509.2 407.5L1508.5 409.9L1507.7 412.6L1507.0 415.2L1506.3 417.7L1505.6 420.3L1504.9 422.8L1504.2 425.3L1503.5 427.8L1502.8 430.3L1502.1 432.9L1501.3 435.5L1500.6 438.1L1499.9 440.6L1499.2 443.2L1498.5 445.8L1497.8 448.3L1497.1 450.7L1496.4 453.5L1495.7 456.4L1494.9 459.4L1494.2 462.3L1493.5 465.0L1492.9 467.5L1492.4 469.6L1492.0 471.1" stroke-width="1.704" />
<path d="M1085.3 363.2L1085.8 364.3L1086.3 365.8L1087.0 367.7L1087.8 369.7L1088.6 371.8L1089.4 374.0L1090.2 376.4L1091.0 378.8L1091.8 381.2L1092.6 383.7L1093.4 386.2L1094.2 388.8L1095.0 391.4L1095.8 394.0L1096.6 396.5L1097.4 399.1L1098.2 401.6L1099.0 404.2L1099.8 406.8L1100.6 409.3L1101.4 411.9L1102.2 414.4L1102.9 416.9L1103.7 419.6L1104.4 422.2L1105.2 424.8L1105.9 427.3L1106.6 429.8L1107.3 432.3L1108.0 434.8L1108.7 437.4L1109.4 439.9L1110.1 442.4L1110.8 445.0L1111.6 447.6L1112.3 450.1L1113.0 452.7L1113.7 455.2L1114.4 457.7L1115.1 460.4L1115.8 463.0L1116.4 465.6L1117.1 468.2L1117.7 470.8L1118.3 473.3L1118.9 475.8L1119.6 478.3L1120.2 481.0L1120.7 483.6L1121.3 486.2L1121.9 488.8L1122.5 491.4L1123.0 494.0L1123.6 496.5L1124.1 499.0L1124.6 501.8L1125.1 504.6L1125.5 507.6L1126.0 510.5L1126.4 513.4L1126.9 516.2L1127.2 518.6L1127.5 520.8L1127.8 522.6" stroke-width="1.704" />
<path d="M1523.7 363.2L1523.2 364.3L1522.7 365.8L1522.0 367.7L1521.2 369.7L1520.4 371.8L1519.6 374.0L1518.8 376.4L1518.0 378.8L1517.2 381.2L1516.4 383.7L1515.6 386.2L1514.8 388.8L1514.0 391.4L1513.2 394.0L1512.4 396.5L1511.6 399.1L1510.8 401.6L1510.0 404.2L1509.2 406.8L1508.4 409.3L1507.6 411.9L1506.8 414.4L1506.1 416.9L1505.3 419.6L1504.6 422.2L1503.8 424.8L1503.1 427.3L1502.4 429.8L1501.7 432.3L1501.0 434.8L1500.3 437.4L1499.6 439.9L1498.9 442.4L1498.2 445.0L1497.4 447.6L1496.7 450.1L1496.0 452.7L1495.3 455.2L1494.6 457.7L1493.9 460.4L1493.2 463.0L1492.6 465.6L1491.9 468.2L1491.3 470.8L1490.7 473.3L1490.1 475.8L1489.4 478.3L1488.8 481.0L1488.3 483.6L1487.7 486.2L1487.1 488.8L1486.5 491.4L1486.0 494.0L1485.4 496.5L1484.9 499.0L1484.4 501.8L1483.9 504.6L1483.5 507.6L1483.0 510.5L1482.6 513.4L1482.1 516.2L1481.8 518.6L1481.5 520.8L1481.2 522.6" stroke-width="1.704" />
<path d="M1290.4 451.3L1290.5 452.5L1290.5 453.9L1290.6 455.6L1290.8 457.3L1290.9 459.0L1291.0 460.8L1291.1 462.6L1291.2 464.4L1291.3 466.3L1291.4 468.2L1291.5 470.2L1291.6 472.3L1291.7 474.4L1291.7 476.7L1291.8 479.1L1291.9 481.5L1292.0 484.0L1292.1 486.5L1292.2 489.2L1292.2 491.9L1292.3 494.6L1292.4 497.4L1292.5 500.3L1292.6 503.3L1292.6 506.4L1292.7 509.6L1292.8 512.9L1292.9 516.3L1293.0 519.6L1293.1 522.9L1293.2 526.2L1293.3 529.5L1293.4 532.8L1293.6 536.0L1293.7 539.3L1293.8 542.5L1293.9 545.8L1294.0 549.2L1294.1 552.5L1294.2 555.8L1294.3 559.0L1294.4 562.3L1294.5 565.6L1294.6 568.9L1294.7 572.4L1294.8 575.9L1294.9 579.5L1295.0 583.7L1295.0 588.3L1295.1 593.1L1295.2 598.0L1295.2 602.8L1295.3 607.1L1295.3 610.7L1295.4 613.4" stroke-width="2.556" />
<path d="M1318.6 451.3L1318.5 452.5L1318.5 453.9L1318.4 455.6L1318.2 457.3L1318.1 459.0L1318.0 460.8L1317.9 462.6L1317.8 464.4L1317.7 466.3L1317.6 468.2L1317.5 470.2L1317.4 472.3L1317.3 474.4L1317.3 476.7L1317.2 479.1L1317.1 481.5L1317.0 484.0L1316.9 486.5L1316.8 489.2L1316.8 491.9L1316.7 494.6L1316.6 497.4L1316.5 500.3L1316.4 503.3L1316.4 506.4L1316.3 509.6L1316.2 512.9L1316.1 516.3L1316.0 519.6L1315.9 522.9L1315.8 526.2L1315.7 529.5L1315.6 532.8L1315.4 536.0L1315.3 539.3L1315.2 542.5L1315.1 545.8L1315.0 549.2L1314.9 552.5L1314.8 555.8L1314.7 559.0L1314.6 562.3L1314.5 565.6L1314.4 568.9L1314.3 572.4L1314.2 575.9L1314.1 579.5L1314.0 583.7L1314.0 588.3L1313.9 593.1L1313.8 598.0L1313.8 602.8L1313.7 607.1L1313.7 610.7L1313.6 613.4" stroke-width="2.556" />
<path d="M1292.8 454.7L1292.9 456.5L1293.0 458.8L1293.1 461.7L1293.2 465.0L1293.4 468.4L1293.5 472.0L1293.6 475.6L1293.7 478.9L1293.9 482.1L1294.0 485.5L1294.1 488.8L1294.2 492.2L1294.4 495.5L1294.5 498.7L1294.6 501.7L1294.7 504.4L1294.9 507.0L1295.0 509.3L1295.1 511.4L1295.2 513.4L1295.3 515.4L1295.4 517.4L1295.5 519.5L1295.6 521.8L1295.8 524.4L1295.9 527.0L1296.1 529.7L1296.2 532.5L1296.3 535.3L1296.5 538.1L1296.6 540.9L1296.6 543.7L1296.7 546.5L1296.7 549.2L1296.7 552.0L1296.7 554.8L1296.7 557.6L1296.7 560.4L1296.7 563.2L1296.6 566.0L1296.6 568.9L1296.6 571.8L1296.5 574.7L1296.4 577.7L1296.4 580.7L1296.3 583.6L1296.2 586.5L1296.1 589.2L1296.1 592.0L1296.0 594.8L1295.9 597.7L1295.9 600.5L1295.8 603.2L1295.7 605.5L1295.7 607.5L1295.6 609.0" stroke-width="1.8459999999999999" />
<path d="M1316.2 454.7L1316.1 456.5L1316.0 458.8L1315.9 461.7L1315.8 465.0L1315.6 468.4L1315.5 472.0L1315.4 475.6L1315.3 478.9L1315.1 482.1L1315.0 485.5L1314.9 488.8L1314.8 492.2L1314.6 495.5L1314.5 498.7L1314.4 501.7L1314.3 504.4L1314.1 507.0L1314.0 509.3L1313.9 511.4L1313.8 513.4L1313.7 515.4L1313.6 517.4L1313.5 519.5L1313.4 521.8L1313.2 524.4L1313.1 527.0L1312.9 529.7L1312.8 532.5L1312.7 535.3L1312.5 538.1L1312.4 540.9L1312.4 543.7L1312.3 546.5L1312.3 549.2L1312.3 552.0L1312.3 554.8L1312.3 557.6L1312.3 560.4L1312.3 563.2L1312.4 566.0L1312.4 568.9L1312.4 571.8L1312.5 574.7L1312.6 577.7L1312.6 580.7L1312.7 583.6L1312.8 586.5L1312.9 589.2L1312.9 592.0L1313.0 594.8L1313.1 597.7L1313.1 600.5L1313.2 603.2L1313.3 605.5L1313.3 607.5L1313.4 609.0" stroke-width="1.8459999999999999" />
<path d="M1296.9 454.8L1297.0 456.6L1297.0 458.9L1297.1 461.8L1297.2 465.1L1297.3 468.5L1297.4 472.1L1297.5 475.7L1297.7 479.0L1297.8 482.2L1297.9 485.6L1298.0 488.9L1298.2 492.3L1298.3 495.6L1298.4 498.7L1298.6 501.8L1298.7 504.5L1298.8 507.1L1298.9 509.4L1299.0 511.5L1299.1 513.5L1299.2 515.5L1299.3 517.5L1299.5 519.6L1299.6 521.9L1299.7 524.5L1299.8 527.3L1300.0 530.1L1300.1 533.1L1300.2 536.0L1300.3 538.7L1300.4 541.4L1300.4 543.8L1300.4 545.8L1300.4 547.5L1300.3 549.0L1300.3 550.4L1300.2 551.8L1300.1 553.3L1299.9 555.0L1299.8 557.1L1299.7 559.4L1299.6 562.0L1299.4 564.7L1299.3 567.5L1299.1 570.4L1298.9 573.5L1298.7 576.6L1298.5 579.9L1298.3 583.4L1298.1 587.3L1297.8 591.5L1297.5 595.7L1297.2 599.8L1297.0 603.6L1296.8 606.7L1296.6 609.0" stroke-width="1.8459999999999999" />
<path d="M1312.1 454.8L1312.0 456.6L1312.0 458.9L1311.9 461.8L1311.8 465.1L1311.7 468.5L1311.6 472.1L1311.5 475.7L1311.3 479.0L1311.2 482.2L1311.1 485.6L1311.0 488.9L1310.8 492.3L1310.7 495.6L1310.6 498.7L1310.4 501.8L1310.3 504.5L1310.2 507.1L1310.1 509.4L1310.0 511.5L1309.9 513.5L1309.8 515.5L1309.7 517.5L1309.5 519.6L1309.4 521.9L1309.3 524.5L1309.2 527.3L1309.0 530.1L1308.9 533.1L1308.8 536.0L1308.7 538.7L1308.6 541.4L1308.6 543.8L1308.6 545.8L1308.6 547.5L1308.7 549.0L1308.7 550.4L1308.8 551.8L1308.9 553.3L1309.1 555.0L1309.2 557.1L1309.3 559.4L1309.4 562.0L1309.6 564.7L1309.7 567.5L1309.9 570.4L1310.1 573.5L1310.3 576.6L1310.5 579.9L1310.7 583.4L1310.9 587.3L1311.2 591.5L1311.5 595.7L1311.8 599.8L1312.0 603.6L1312.2 606.7L1312.4 609.0" stroke-width="1.8459999999999999" />
<path d="M1290.8 459.1L1290.8 458.8L1290.8 458.3L1290.8 457.8L1290.8 457.2L1290.8 456.6L1290.9 455.9L1290.9 455.3L1291.1 454.8L1291.3 454.2L1291.5 453.6L1291.8 452.9L1292.1 452.3L1292.5 451.7L1292.8 451.2L1293.2 450.9L1293.5 450.8L1293.8 451.0L1294.2 451.3L1294.5 451.8L1294.9 452.3L1295.3 453.0L1295.6 453.7L1295.9 454.3L1296.1 454.9L1296.3 455.5L1296.5 456.1L1296.6 456.7L1296.7 457.4L1296.8 458.0L1296.8 458.5L1296.9 458.9L1296.9 459.3" stroke-width="1.8459999999999999" />
<path d="M1318.2 459.1L1318.2 458.8L1318.2 458.3L1318.2 457.8L1318.2 457.2L1318.2 456.6L1318.1 455.9L1318.1 455.3L1317.9 454.8L1317.7 454.2L1317.5 453.6L1317.2 452.9L1316.9 452.3L1316.5 451.7L1316.2 451.2L1315.8 450.9L1315.5 450.8L1315.2 451.0L1314.8 451.3L1314.5 451.8L1314.1 452.3L1313.7 453.0L1313.4 453.7L1313.1 454.3L1312.9 454.9L1312.7 455.5L1312.5 456.1L1312.4 456.7L1312.3 457.4L1312.2 458.0L1312.2 458.5L1312.1 458.9L1312.1 459.3" stroke-width="1.8459999999999999" />
<path d="M1292.8 459.2L1296.9 459.3" stroke-width="1.704" />
<path d="M1316.2 459.2L1312.1 459.3" stroke-width="1.704" />
<path d="M1296.6 548.2L1300.4 548.2" stroke-width="1.704" />
<path d="M1312.4 548.2L1308.6 548.2" stroke-width="1.704" />
<path d="M1295.3 613.4L1304.5 613.5L1313.7 613.4" stroke-width="2.84" />
<path d="M1123.5 515.7L1124.3 577.7L1125.0 626.4" stroke-width="1.5" />
<path d="M1485.5 515.7L1484.7 577.7L1484.0 626.4" stroke-width="1.5" />
<path d="M1134.2 654.0L1132.5 579.3Q1132.4 576.1 1133.5 574.2L1133.5 574.2Q1134.6 572.3 1136.3 575.0L1144.5 587.8Q1146.2 590.5 1146.3 593.7L1148.1 650.6Q1148.2 653.7 1147.5 654.7L1147.5 654.7Q1146.9 655.6 1143.7 656.3L1142.0 656.7Q1138.8 657.4 1136.5 655.7L1134.2 654.0" stroke-width="2.3" />
<path d="M1136.4 574.1L1137.8 653.1" stroke-width="1.7" />
<path d="M1138.6 583.4L1139.8 652.4" stroke-width="1.7" />
<path d="M1125.4 560.0L1127.5 627.6L1130.8 628.6L1128.8 560.0" stroke-width="1.8" />
<path d="M1148.9 673.8L1152.7 604.0Q1152.9 600.8 1153.9 599.4L1153.9 599.4Q1154.9 597.9 1157.5 599.7L1169.0 607.7Q1171.7 609.6 1172.4 611.6L1172.4 611.6Q1173.1 613.6 1173.3 616.8L1176.2 677.3Q1176.3 680.5 1174.3 679.5L1174.3 679.5Q1172.3 678.4 1169.2 679.2L1160.7 681.4Q1157.6 682.1 1155.0 680.3L1154.2 679.7Q1151.6 677.9 1150.2 675.8L1148.9 673.8" stroke-width="2.3" />
<path d="M1157.6 600.2L1154.9 678.5" stroke-width="1.7" />
<path d="M1159.2 601.8L1158.9 679.9" stroke-width="1.7" />
<path d="M1168.3 608.5L1173.0 679.2" stroke-width="1.7" />
<path d="M1193.7 698.5L1188.7 700.3Q1185.7 701.4 1182.9 700.0L1181.9 699.4Q1179.0 697.9 1177.3 695.3L1177.3 695.3Q1175.7 692.6 1176.0 689.4L1182.1 624.1Q1182.4 620.9 1184.0 619.3L1184.0 619.3Q1185.7 617.6 1188.6 618.9L1203.2 625.6Q1206.1 627.0 1206.7 628.6L1206.7 628.6Q1207.4 630.3 1207.5 633.5L1209.8 702.0" stroke-width="2.3" />
<path d="M1193.7 697.9L1208.5 702.0" stroke-width="2.3" />
<path d="M1187.1 620.3L1180.4 695.5" stroke-width="1.7" />
<path d="M1192.4 621.9L1187.1 699.3" stroke-width="1.7" />
<path d="M1195.1 623.2L1193.7 697.9" stroke-width="1.7" />
<path d="M1228.6 704.6L1226.9 709.6Q1225.9 712.7 1223.2 714.4L1223.2 714.4Q1220.5 716.2 1217.5 715.2L1216.9 715.0Q1213.8 714.0 1211.8 712.0L1211.8 712.0Q1209.8 710.0 1210.2 706.8L1219.4 638.8Q1219.9 635.7 1221.5 634.0L1221.5 634.0Q1223.2 632.3 1226.3 633.1L1245.8 638.2Q1248.9 639.0 1250.1 641.2L1250.1 641.2Q1251.3 643.3 1251.4 646.5L1252.7 699.3" stroke-width="2.3" />
<path d="M1232.6 703.3L1251.3 699.3" stroke-width="2.3" />
<path d="M1233.9 637.7L1228.6 704.0" stroke-width="1.7" />
<path d="M1231.9 637.4L1226.6 706.0" stroke-width="1.7" />
<path d="M1224.6 635.3L1217.9 714.0" stroke-width="1.7" />
<path d="M1270.1 715.4L1267.2 722.6Q1266.1 725.5 1262.9 725.1L1258.5 724.6Q1255.4 724.2 1253.7 722.5L1253.7 722.5Q1252.0 720.7 1252.6 717.6L1264.8 649.9Q1265.4 646.8 1267.1 644.6L1267.1 644.6Q1268.7 642.5 1271.9 642.6L1291.3 643.0Q1294.5 643.0 1296.3 645.2L1296.3 645.2Q1298.2 647.3 1298.3 650.5L1299.6 726.1" stroke-width="2.3" />
<path d="M1272.8 714.0C1275.2 714.5 1283.5 716.5 1287.5 716.7C1291.5 716.9 1295.3 715.6 1296.9 715.4" stroke-width="2.3" />
<path d="M1272.8 643.3L1270.1 715.4" stroke-width="1.7" />
<path d="M1274.8 643.3L1272.5 714.0" stroke-width="1.7" />
<path d="M1278.1 636.3L1275.7 714.0" stroke-width="1.7" />
<path d="M1273.6 634.3L1273.3 643.0" stroke-width="1.0" />
<path d="M1299.6 726.1L1300.2 726.9Q1300.9 727.7 1303.4 727.7L1310.4 727.7Q1312.9 727.7 1312.3 725.9L1312.3 725.9Q1311.6 724.1 1311.7 721.6L1314.3 647.1" stroke-width="2.3" />
<path d="M1311.4 724.7L1314.6 650.3Q1314.8 647.1 1316.5 644.8L1316.5 644.8Q1318.1 642.5 1321.3 642.3L1336.6 641.2Q1339.8 641.0 1342.0 643.4L1342.1 643.6Q1344.2 646.0 1344.4 649.2L1349.6 732.8" stroke-width="2.3" />
<path d="M1340.2 734.1L1341.9 736.1Q1343.6 738.1 1346.8 737.9L1349.8 737.8Q1352.9 737.6 1354.6 735.2L1356.3 732.8" stroke-width="2.3" />
<path d="M1340.9 647.1L1346.2 734.1" stroke-width="1.7" />
<path d="M1323.5 644.4L1322.8 695.3L1342.2 735.4" stroke-width="1.5" />
<path d="M1329.5 643.7L1328.8 684.6" stroke-width="1.7" />
<path d="M1323.5 684.6L1328.8 684.6L1328.8 693.9L1323.5 693.9" stroke-width="1.7" />
<path d="M1358.3 711.3L1357.0 710.7Q1355.6 710.0 1355.8 706.8L1358.8 646.0Q1359.0 642.8 1360.6 640.0L1360.7 639.9Q1362.3 637.1 1365.5 636.5L1380.9 633.6Q1384.0 633.0 1385.6 634.8L1385.6 634.8Q1387.2 636.6 1387.6 639.8L1396.8 717.5Q1397.1 720.7 1396.5 722.9L1396.5 722.9Q1395.8 725.0 1392.8 726.0L1385.4 728.5Q1382.4 729.6 1379.9 727.6L1358.3 711.3" stroke-width="2.3" />
<path d="M1382.4 635.0L1389.1 725.0" stroke-width="1.7" />
<path d="M1384.4 634.5L1391.1 724.5" stroke-width="1.7" />
<path d="M1398.5 709.3L1397.5 709.7Q1396.5 710.0 1396.6 706.8L1400.3 633.9Q1400.5 630.7 1402.2 628.2L1402.2 628.2Q1403.8 625.6 1406.8 624.4L1421.2 618.8Q1424.2 617.6 1425.8 619.1L1425.8 619.1Q1427.4 620.5 1427.7 623.7L1433.7 698.8Q1434.0 702.0 1433.1 705.0L1432.9 705.9Q1432.0 708.9 1429.1 710.3L1424.1 712.6Q1421.2 714.0 1418.6 712.2L1415.9 710.4Q1413.2 708.7 1410.0 708.8L1398.5 709.3" stroke-width="2.3" />
<path d="M1408.5 625.6L1409.9 707.3" stroke-width="1.7" />
<path d="M1411.2 624.3L1412.5 707.6" stroke-width="1.7" />
<path d="M1423.3 619.6L1429.3 708.9" stroke-width="1.7" />
<path d="M1435.3 685.2L1437.2 617.8Q1437.3 614.6 1438.8 611.8L1439.9 609.7Q1441.3 606.9 1443.9 605.0L1452.4 598.7Q1455.0 596.8 1456.6 598.0L1456.6 598.0Q1458.2 599.1 1458.4 602.3L1461.9 677.3Q1462.1 680.5 1461.2 683.6L1461.0 684.4Q1460.1 687.5 1457.4 689.2L1453.4 691.7Q1450.7 693.4 1447.9 691.9L1435.3 685.2" stroke-width="2.3" />
<path d="M1452.7 598.8L1456.1 687.5" stroke-width="1.7" />
<path d="M1462.8 671.2L1464.7 595.1Q1464.8 591.9 1465.9 588.9L1467.0 585.8Q1468.1 582.8 1470.2 580.3L1474.3 575.5Q1476.4 573.1 1476.5 576.3L1477.5 655.9Q1477.5 659.1 1477.2 661.1L1477.2 661.1Q1476.8 663.1 1474.7 665.5L1472.9 667.7Q1470.8 670.1 1467.6 670.5L1462.8 671.2" stroke-width="2.3" />
<path d="M1472.8 577.4L1474.2 665.8" stroke-width="1.7" />
<path d="M1480.2 560.0L1478.8 629.6L1482.9 627.0L1484.2 560.0" stroke-width="1.8" />
<path d="M247.0 890.0L247.0 875.0L663.0 875.0L663.0 890.0" stroke-width="1.6" />
<path d="M247.0 875.0L663.0 875.0" stroke-width="2.0" />
<path d="M215.0 917.5L215.0 890.0L695.5 890.0L695.5 917.5" stroke-width="1.6" />
<path d="M214.0 890.0L696.5 890.0" stroke-width="3.0" />
<path d="M214.0 917.5L696.5 917.5" stroke-width="3.4" />
<path d="M213.9 917.5L214.2 918.4L214.6 919.6L215.0 921.0L215.5 922.5L216.0 924.1L216.5 925.8L217.0 927.3L217.5 928.7L217.9 929.9L218.3 930.9L218.6 931.8L219.0 932.8L219.4 933.8L219.8 934.9L220.3 936.3L220.8 937.9L221.4 939.8L222.1 941.9L222.8 944.2L223.5 946.7L224.3 949.3L225.1 952.0L225.9 954.8L226.7 957.6L227.5 960.6L228.3 963.7L229.1 967.0L230.0 970.4L230.8 973.8L231.6 977.2L232.5 980.6L233.3 983.9L234.1 987.2L234.9 990.5L235.8 993.8L236.6 997.1L237.4 1000.4L238.3 1003.7L239.1 1007.0L239.9 1010.3L240.6 1013.6L241.4 1016.8L242.1 1020.1L242.9 1023.4L243.6 1026.7L244.3 1030.0L245.1 1033.3L245.8 1036.6L246.5 1039.9L247.3 1043.2L248.0 1046.4L248.8 1049.7L249.5 1053.0L250.3 1056.3L251.0 1059.6L251.7 1062.9L252.4 1066.2L253.1 1069.5L253.8 1072.8L254.4 1076.1L255.1 1079.3L255.7 1082.6L256.4 1085.9L257.0 1089.2L257.6 1092.5L258.2 1095.8L258.8 1099.1L259.4 1102.4L260.0 1105.7L260.5 1108.9L261.1 1112.2L261.6 1115.5L262.1 1118.9L262.5 1122.2L263.0 1125.7L263.4 1129.1L263.8 1132.4L264.2 1135.7L264.5 1138.8L264.9 1141.8L265.2 1144.8L265.4 1147.8L265.7 1150.8L265.9 1153.7L266.1 1156.3L266.3 1158.7L266.5 1160.7L266.6 1162.2" stroke-width="2.556" />
<path d="M696.1 917.5L695.8 918.4L695.4 919.6L695.0 921.0L694.5 922.5L694.0 924.1L693.5 925.8L693.0 927.3L692.5 928.7L692.1 929.9L691.7 930.9L691.4 931.8L691.0 932.8L690.6 933.8L690.2 934.9L689.7 936.3L689.2 937.9L688.6 939.8L687.9 941.9L687.2 944.2L686.5 946.7L685.7 949.3L684.9 952.0L684.1 954.8L683.3 957.6L682.5 960.6L681.7 963.7L680.9 967.0L680.0 970.4L679.2 973.8L678.4 977.2L677.5 980.6L676.7 983.9L675.9 987.2L675.1 990.5L674.2 993.8L673.4 997.1L672.6 1000.4L671.7 1003.7L670.9 1007.0L670.1 1010.3L669.4 1013.6L668.6 1016.8L667.9 1020.1L667.1 1023.4L666.4 1026.7L665.7 1030.0L664.9 1033.3L664.2 1036.6L663.5 1039.9L662.7 1043.2L662.0 1046.4L661.2 1049.7L660.5 1053.0L659.7 1056.3L659.0 1059.6L658.3 1062.9L657.6 1066.2L656.9 1069.5L656.2 1072.8L655.6 1076.1L654.9 1079.3L654.3 1082.6L653.6 1085.9L653.0 1089.2L652.4 1092.5L651.8 1095.8L651.2 1099.1L650.6 1102.4L650.0 1105.7L649.5 1108.9L648.9 1112.2L648.4 1115.5L647.9 1118.9L647.5 1122.2L647.0 1125.7L646.6 1129.1L646.2 1132.4L645.8 1135.7L645.5 1138.8L645.1 1141.8L644.8 1144.8L644.6 1147.8L644.3 1150.8L644.1 1153.7L643.9 1156.3L643.7 1158.7L643.5 1160.7L643.4 1162.2" stroke-width="2.556" />
<path d="M379.2 917.5L379.4 918.1L379.7 918.8L380.1 919.7L380.5 920.7L380.9 921.8L381.4 922.8L381.7 923.8L382.1 924.7L382.4 925.5L382.7 926.0L383.0 926.4L383.3 926.8L383.6 927.4L383.9 928.3L384.2 929.6L384.5 931.3L384.8 933.7L385.1 936.5L385.4 939.7L385.8 943.2L386.1 946.9L386.4 950.6L386.8 954.2L387.1 957.6L387.4 960.9L387.7 964.2L388.1 967.5L388.4 970.8L388.7 974.1L389.0 977.4L389.4 980.7L389.7 983.9L390.1 987.2L390.5 990.5L391.0 993.8L391.4 997.1L391.8 1000.4L392.2 1003.7L392.6 1007.0L393.0 1010.3L393.4 1013.5L393.7 1016.7L394.1 1019.8L394.4 1023.0L394.7 1026.2L395.1 1029.5L395.4 1033.0L395.7 1036.6L395.9 1040.4L396.2 1044.3L396.5 1048.4L396.8 1052.6L397.0 1056.8L397.2 1061.1L397.5 1065.3L397.6 1069.5L397.8 1073.4L397.9 1077.1L398.0 1080.6L398.1 1084.2L398.1 1088.1L398.2 1092.2L398.2 1097.0L398.3 1102.4L398.3 1109.0L398.3 1116.8L398.3 1125.5L398.3 1134.4L398.3 1143.0L398.3 1150.8L398.3 1157.4L398.3 1162.2" stroke-width="3.2659999999999996" />
<path d="M530.8 917.5L530.6 918.1L530.3 918.8L529.9 919.7L529.5 920.7L529.1 921.8L528.6 922.8L528.3 923.8L527.9 924.7L527.6 925.5L527.3 926.0L527.0 926.4L526.7 926.8L526.4 927.4L526.1 928.3L525.8 929.6L525.5 931.3L525.2 933.7L524.9 936.5L524.6 939.7L524.2 943.2L523.9 946.9L523.6 950.6L523.2 954.2L522.9 957.6L522.6 960.9L522.3 964.2L521.9 967.5L521.6 970.8L521.3 974.1L521.0 977.4L520.6 980.7L520.3 983.9L519.9 987.2L519.5 990.5L519.0 993.8L518.6 997.1L518.2 1000.4L517.8 1003.7L517.4 1007.0L517.0 1010.3L516.6 1013.5L516.3 1016.7L515.9 1019.8L515.6 1023.0L515.3 1026.2L514.9 1029.5L514.6 1033.0L514.3 1036.6L514.1 1040.4L513.8 1044.3L513.5 1048.4L513.2 1052.6L513.0 1056.8L512.8 1061.1L512.5 1065.3L512.4 1069.5L512.2 1073.4L512.1 1077.1L512.0 1080.6L511.9 1084.2L511.9 1088.1L511.8 1092.2L511.8 1097.0L511.7 1102.4L511.7 1109.0L511.7 1116.8L511.7 1125.5L511.7 1134.4L511.7 1143.0L511.7 1150.8L511.7 1157.4L511.7 1162.2" stroke-width="3.2659999999999996" />
<path d="M402.9 932.0L403.0 933.4L403.1 935.4L403.2 937.7L403.3 940.3L403.4 943.0L403.6 945.8L403.7 948.5L403.8 951.1L403.9 953.4L404.0 955.5L404.2 957.5L404.3 959.6L404.4 961.9L404.5 964.5L404.7 967.4L404.9 970.8L405.1 974.9L405.3 979.6L405.6 984.7L405.8 990.1L406.1 995.6L406.4 1000.9L406.6 1005.8L406.8 1010.3L407.0 1014.1L407.2 1017.6L407.4 1020.8L407.5 1023.8L407.7 1026.8L407.8 1029.8L408.0 1033.1L408.2 1036.6L408.3 1040.3L408.5 1044.0L408.6 1047.9L408.7 1051.8L408.9 1055.9L409.1 1060.2L409.2 1064.7L409.5 1069.5L409.7 1074.6L410.1 1080.0L410.4 1085.8L410.7 1091.6L411.1 1097.6L411.5 1103.7L411.8 1109.6L412.1 1115.5L412.4 1121.7L412.7 1128.3L413.0 1135.0L413.3 1141.8L413.5 1148.1L413.7 1153.8L413.9 1158.6L414.1 1162.2" stroke-width="1.8459999999999999" />
<path d="M507.1 932.0L507.0 933.4L506.9 935.4L506.8 937.7L506.7 940.3L506.6 943.0L506.4 945.8L506.3 948.5L506.2 951.1L506.1 953.4L506.0 955.5L505.8 957.5L505.7 959.6L505.6 961.9L505.5 964.5L505.3 967.4L505.1 970.8L504.9 974.9L504.7 979.6L504.4 984.7L504.2 990.1L503.9 995.6L503.6 1000.9L503.4 1005.8L503.2 1010.3L503.0 1014.1L502.8 1017.6L502.6 1020.8L502.5 1023.8L502.3 1026.8L502.2 1029.8L502.0 1033.1L501.8 1036.6L501.7 1040.3L501.5 1044.0L501.4 1047.9L501.3 1051.8L501.1 1055.9L500.9 1060.2L500.8 1064.7L500.5 1069.5L500.3 1074.6L499.9 1080.0L499.6 1085.8L499.3 1091.6L498.9 1097.6L498.5 1103.7L498.2 1109.6L497.9 1115.5L497.6 1121.7L497.3 1128.3L497.0 1135.0L496.7 1141.8L496.5 1148.1L496.3 1153.8L496.1 1158.6L495.9 1162.2" stroke-width="1.8459999999999999" />
<path d="M406.8 932.0L406.9 933.4L407.0 935.4L407.2 937.7L407.3 940.3L407.5 943.0L407.6 945.8L407.8 948.5L407.9 951.1L408.0 953.4L408.1 955.5L408.2 957.5L408.3 959.6L408.4 961.9L408.5 964.5L408.7 967.4L408.8 970.8L409.0 974.9L409.3 979.6L409.5 984.7L409.8 990.1L410.1 995.6L410.3 1000.9L410.6 1005.8L410.8 1010.3L411.0 1014.1L411.1 1017.6L411.3 1020.8L411.4 1023.8L411.5 1026.8L411.6 1029.8L411.7 1033.1L411.8 1036.6L412.0 1040.3L412.1 1044.0L412.2 1047.9L412.3 1051.8L412.4 1055.9L412.5 1060.2L412.6 1064.7L412.8 1069.5L412.9 1074.6L413.2 1080.0L413.4 1085.8L413.6 1091.6L413.9 1097.6L414.1 1103.7L414.3 1109.6L414.5 1115.5L414.6 1121.7L414.8 1128.3L414.9 1135.0L415.0 1141.8L415.2 1148.1L415.2 1153.8L415.3 1158.6L415.4 1162.2" stroke-width="1.8459999999999999" />
<path d="M503.2 932.0L503.1 933.4L503.0 935.4L502.8 937.7L502.7 940.3L502.5 943.0L502.4 945.8L502.2 948.5L502.1 951.1L502.0 953.4L501.9 955.5L501.8 957.5L501.7 959.6L501.6 961.9L501.5 964.5L501.3 967.4L501.2 970.8L501.0 974.9L500.7 979.6L500.5 984.7L500.2 990.1L499.9 995.6L499.7 1000.9L499.4 1005.8L499.2 1010.3L499.0 1014.1L498.9 1017.6L498.7 1020.8L498.6 1023.8L498.5 1026.8L498.4 1029.8L498.3 1033.1L498.2 1036.6L498.0 1040.3L497.9 1044.0L497.8 1047.9L497.7 1051.8L497.6 1055.9L497.5 1060.2L497.4 1064.7L497.2 1069.5L497.1 1074.6L496.8 1080.0L496.6 1085.8L496.4 1091.6L496.1 1097.6L495.9 1103.7L495.7 1109.6L495.5 1115.5L495.4 1121.7L495.2 1128.3L495.1 1135.0L495.0 1141.8L494.8 1148.1L494.8 1153.8L494.7 1158.6L494.6 1162.2" stroke-width="1.8459999999999999" />
<path d="M401.6 932.0L401.6 931.4L401.6 930.7L401.5 929.8L401.5 928.8L401.5 927.7L401.6 926.7L401.7 925.7L401.8 924.7L402.1 923.8L402.4 922.7L402.8 921.6L403.2 920.6L403.6 919.6L404.1 918.9L404.5 918.3L404.9 918.2L405.2 918.3L405.6 918.9L406.0 919.6L406.3 920.6L406.7 921.6L407.0 922.7L407.3 923.8L407.5 924.7L407.7 925.7L407.9 926.7L408.0 927.7L408.1 928.8L408.2 929.8L408.3 930.7L408.4 931.4L408.4 932.0" stroke-width="1.8459999999999999" />
<path d="M508.4 932.0L508.4 931.4L508.4 930.7L508.5 929.8L508.5 928.8L508.5 927.7L508.4 926.7L508.3 925.7L508.2 924.7L507.9 923.8L507.6 922.7L507.2 921.6L506.8 920.6L506.4 919.6L505.9 918.9L505.5 918.3L505.1 918.2L504.8 918.3L504.4 918.9L504.0 919.6L503.7 920.6L503.3 921.6L503.0 922.7L502.7 923.8L502.5 924.7L502.3 925.7L502.1 926.7L502.0 927.7L501.9 928.8L501.8 929.8L501.7 930.7L501.6 931.4L501.6 932.0" stroke-width="1.8459999999999999" />
<path d="M405.3 918.2L405.6 919.3L406.0 920.8L406.5 922.6L407.0 924.6L407.6 926.8L408.2 929.1L408.8 931.5L409.5 933.9L410.2 936.7L411.0 939.9L411.8 943.3L412.7 946.8L413.5 950.1L414.3 953.2L414.9 955.8L415.4 957.6" stroke-width="2.13" />
<path d="M504.7 918.2L504.4 919.3L504.0 920.8L503.5 922.6L503.0 924.6L502.4 926.8L501.8 929.1L501.2 931.5L500.5 933.9L499.8 936.7L499.0 939.9L498.2 943.3L497.3 946.8L496.5 950.1L495.7 953.2L495.1 955.8L494.6 957.6" stroke-width="2.13" />
<path d="M408.4 932.0L408.7 932.9L409.1 934.2L409.5 935.6L410.0 937.3L410.5 939.0L411.0 940.9L411.6 942.7L412.1 944.5L412.7 946.3L413.3 948.4L414.0 950.6L414.6 952.8L415.3 954.9L415.9 956.8L416.3 958.4L416.7 959.6" stroke-width="1.8459999999999999" />
<path d="M501.6 932.0L501.3 932.9L500.9 934.2L500.5 935.6L500.0 937.3L499.5 939.0L499.0 940.9L498.4 942.7L497.9 944.5L497.3 946.3L496.7 948.4L496.0 950.6L495.4 952.8L494.7 954.9L494.1 956.8L493.7 958.4L493.3 959.6" stroke-width="1.8459999999999999" />
<path d="M415.4 957.6L415.6 957.9L415.8 958.2L416.1 958.5L416.5 958.9L416.8 959.3L417.1 959.9L417.4 960.7L417.6 961.6L417.8 962.6L417.9 963.7L418.0 964.9L418.1 966.3L418.2 967.8L418.2 969.4L418.2 971.3L418.3 973.4L418.3 975.6L418.4 977.8L418.4 980.2L418.4 982.7L418.4 985.6L418.4 988.9L418.4 992.7L418.4 997.1L418.4 1002.3L418.4 1008.2L418.4 1014.7L418.3 1021.6L418.3 1028.7L418.2 1035.9L418.1 1043.0L418.0 1049.7L417.9 1056.3L417.8 1062.7L417.6 1069.2L417.4 1075.6L417.2 1082.1L417.1 1088.7L416.9 1095.4L416.7 1102.4L416.5 1109.9L416.4 1118.2L416.2 1126.9L416.0 1135.6L415.8 1143.9L415.6 1151.3L415.5 1157.6L415.4 1162.2" stroke-width="2.272" />
<path d="M494.6 957.6L494.4 957.9L494.2 958.2L493.9 958.5L493.5 958.9L493.2 959.3L492.9 959.9L492.6 960.7L492.4 961.6L492.2 962.6L492.1 963.7L492.0 964.9L491.9 966.3L491.8 967.8L491.8 969.4L491.8 971.3L491.7 973.4L491.7 975.6L491.6 977.8L491.6 980.2L491.6 982.7L491.6 985.6L491.6 988.9L491.6 992.7L491.6 997.1L491.6 1002.3L491.6 1008.2L491.6 1014.7L491.7 1021.6L491.7 1028.7L491.8 1035.9L491.9 1043.0L492.0 1049.7L492.1 1056.3L492.2 1062.7L492.4 1069.2L492.6 1075.6L492.8 1082.1L492.9 1088.7L493.1 1095.4L493.3 1102.4L493.5 1109.9L493.6 1118.2L493.8 1126.9L494.0 1135.6L494.2 1143.9L494.4 1151.3L494.5 1157.6L494.6 1162.2" stroke-width="2.272" />
<path d="M414.1 976.1L414.1 979.7L414.1 984.6L414.1 990.4L414.1 996.9L414.1 1003.7L414.1 1010.6L414.1 1017.2L414.1 1023.4L414.0 1029.6L413.9 1036.1L413.9 1042.8L413.8 1049.4L413.6 1055.6L413.6 1061.2L413.5 1065.9L413.4 1069.5" stroke-width="1.9879999999999998" />
<path d="M495.9 976.1L495.9 979.7L495.9 984.6L495.9 990.4L495.9 996.9L495.9 1003.7L495.9 1010.6L495.9 1017.2L495.9 1023.4L496.0 1029.6L496.1 1036.1L496.1 1042.8L496.2 1049.4L496.4 1055.6L496.4 1061.2L496.5 1065.9L496.6 1069.5" stroke-width="1.9879999999999998" />
<path d="M398.3 1162.2L415.4 1162.2" stroke-width="2.84" />
<path d="M511.7 1162.2L494.6 1162.2" stroke-width="2.84" />
<path d="M409.5 1069.5L414.3 1069.5" stroke-width="1.704" />
<path d="M500.5 1069.5L495.7 1069.5" stroke-width="1.704" />
<path d="M401.6 932.0L408.4 932.0" stroke-width="1.704" />
<path d="M508.4 932.0L501.6 932.0" stroke-width="1.704" />
<path d="M415.4 957.6L428.7 957.6L442.0 957.6" stroke-width="2.272" />
<path d="M494.6 957.6L481.3 957.6L468.0 957.6" stroke-width="2.272" />
<path d="M414.1 976.0L427.9 976.0L441.8 976.0" stroke-width="2.272" />
<path d="M495.9 976.0L482.1 976.0L468.2 976.0" stroke-width="2.272" />
<path d="M323.3 917.5L323.5 918.1L323.8 918.8L324.1 919.7L324.5 920.7L324.9 921.8L325.2 922.8L325.6 923.8L325.9 924.7L326.2 925.5L326.4 926.0L326.6 926.4L326.8 926.8L327.0 927.4L327.2 928.3L327.5 929.6L327.9 931.3L328.3 933.7L328.9 936.5L329.4 939.7L330.0 943.2L330.7 946.9L331.3 950.6L331.9 954.2L332.5 957.6L333.1 960.9L333.7 964.2L334.2 967.5L334.8 970.8L335.4 974.1L336.0 977.4L336.5 980.7L337.1 983.9L337.7 987.2L338.3 990.5L338.8 993.8L339.4 997.1L340.0 1000.4L340.6 1003.7L341.1 1007.0L341.7 1010.3L342.3 1013.5L342.9 1016.7L343.5 1019.8L344.1 1023.0L344.6 1026.2L345.2 1029.5L345.8 1033.0L346.3 1036.6L346.8 1040.4L347.4 1044.3L347.9 1048.4L348.4 1052.6L348.9 1056.8L349.4 1061.1L349.8 1065.3L350.3 1069.5L350.7 1073.6L351.1 1077.7L351.4 1081.8L351.8 1085.9L352.1 1090.0L352.4 1094.1L352.7 1098.3L352.9 1102.4L353.1 1106.5L353.2 1110.7L353.3 1115.0L353.4 1119.2L353.5 1123.4L353.6 1127.5L353.6 1131.4L353.7 1135.3L353.7 1139.1L353.8 1143.1L353.8 1147.0L353.9 1150.8L353.9 1154.4L353.9 1157.5L353.9 1160.2L353.9 1162.2" stroke-width="3.2659999999999996" />
<path d="M586.7 917.5L586.5 918.1L586.2 918.8L585.9 919.7L585.5 920.7L585.1 921.8L584.8 922.8L584.4 923.8L584.1 924.7L583.8 925.5L583.6 926.0L583.4 926.4L583.2 926.8L583.0 927.4L582.8 928.3L582.5 929.6L582.1 931.3L581.7 933.7L581.1 936.5L580.6 939.7L580.0 943.2L579.3 946.9L578.7 950.6L578.1 954.2L577.5 957.6L576.9 960.9L576.3 964.2L575.8 967.5L575.2 970.8L574.6 974.1L574.0 977.4L573.5 980.7L572.9 983.9L572.3 987.2L571.7 990.5L571.2 993.8L570.6 997.1L570.0 1000.4L569.4 1003.7L568.9 1007.0L568.3 1010.3L567.7 1013.5L567.1 1016.7L566.5 1019.8L565.9 1023.0L565.4 1026.2L564.8 1029.5L564.2 1033.0L563.7 1036.6L563.2 1040.4L562.6 1044.3L562.1 1048.4L561.6 1052.6L561.1 1056.8L560.6 1061.1L560.2 1065.3L559.7 1069.5L559.3 1073.6L558.9 1077.7L558.6 1081.8L558.2 1085.9L557.9 1090.0L557.6 1094.1L557.3 1098.3L557.1 1102.4L556.9 1106.5L556.8 1110.7L556.7 1115.0L556.6 1119.2L556.5 1123.4L556.4 1127.5L556.4 1131.4L556.3 1135.3L556.3 1139.1L556.2 1143.1L556.2 1147.0L556.1 1150.8L556.1 1154.4L556.1 1157.5L556.1 1160.2L556.1 1162.2" stroke-width="3.2659999999999996" />
<path d="M345.7 932.0L345.8 933.9L346.0 936.3L346.2 939.1L346.4 942.3L346.7 945.9L347.0 949.6L347.3 953.6L347.6 957.6L348.0 961.9L348.5 966.5L348.9 971.4L349.4 976.5L350.0 981.7L350.5 986.9L351.0 992.1L351.6 997.1L352.1 1002.1L352.7 1007.1L353.3 1012.2L353.8 1017.3L354.4 1022.3L355.0 1027.2L355.6 1032.0L356.2 1036.6L356.8 1040.9L357.4 1045.0L357.9 1048.8L358.5 1052.6L359.1 1056.5L359.7 1060.5L360.2 1064.8L360.8 1069.5L361.3 1074.6L361.8 1080.0L362.3 1085.8L362.8 1091.6L363.3 1097.6L363.8 1103.7L364.2 1109.6L364.7 1115.5L365.3 1121.7L365.8 1128.3L366.4 1135.0L367.0 1141.8L367.5 1148.1L368.0 1153.8L368.4 1158.6L368.7 1162.2" stroke-width="1.8459999999999999" />
<path d="M564.3 932.0L564.2 933.9L564.0 936.3L563.8 939.1L563.6 942.3L563.3 945.9L563.0 949.6L562.7 953.6L562.4 957.6L562.0 961.9L561.5 966.5L561.1 971.4L560.6 976.5L560.0 981.7L559.5 986.9L559.0 992.1L558.4 997.1L557.9 1002.1L557.3 1007.1L556.7 1012.2L556.2 1017.3L555.6 1022.3L555.0 1027.2L554.4 1032.0L553.8 1036.6L553.2 1040.9L552.6 1045.0L552.1 1048.8L551.5 1052.6L550.9 1056.5L550.3 1060.5L549.8 1064.8L549.2 1069.5L548.7 1074.6L548.2 1080.0L547.7 1085.8L547.2 1091.6L546.7 1097.6L546.2 1103.7L545.8 1109.6L545.3 1115.5L544.7 1121.7L544.2 1128.3L543.6 1135.0L543.0 1141.8L542.5 1148.1L542.0 1153.8L541.6 1158.6L541.3 1162.2" stroke-width="1.8459999999999999" />
<path d="M350.0 932.0L350.2 933.9L350.5 936.3L350.8 939.1L351.2 942.3L351.6 945.9L352.0 949.6L352.5 953.6L352.9 957.6L353.3 961.9L353.8 966.5L354.3 971.4L354.8 976.5L355.3 981.7L355.8 986.9L356.3 992.1L356.8 997.1L357.3 1002.1L357.8 1007.1L358.4 1012.2L358.9 1017.3L359.4 1022.3L359.8 1027.2L360.3 1032.0L360.8 1036.6L361.2 1040.9L361.7 1045.0L362.1 1048.8L362.5 1052.6L362.9 1056.5L363.3 1060.5L363.7 1064.8L364.1 1069.5L364.5 1074.6L364.9 1080.0L365.3 1085.8L365.7 1091.6L366.0 1097.6L366.4 1103.7L366.8 1109.6L367.1 1115.5L367.4 1121.7L367.8 1128.3L368.1 1135.0L368.4 1141.8L368.7 1148.1L369.0 1153.8L369.2 1158.6L369.3 1162.2" stroke-width="1.8459999999999999" />
<path d="M560.0 932.0L559.8 933.9L559.5 936.3L559.2 939.1L558.8 942.3L558.4 945.9L558.0 949.6L557.5 953.6L557.1 957.6L556.7 961.9L556.2 966.5L555.7 971.4L555.2 976.5L554.7 981.7L554.2 986.9L553.7 992.1L553.2 997.1L552.7 1002.1L552.2 1007.1L551.6 1012.2L551.1 1017.3L550.6 1022.3L550.2 1027.2L549.7 1032.0L549.2 1036.6L548.8 1040.9L548.3 1045.0L547.9 1048.8L547.5 1052.6L547.1 1056.5L546.7 1060.5L546.3 1064.8L545.9 1069.5L545.5 1074.6L545.1 1080.0L544.7 1085.8L544.3 1091.6L544.0 1097.6L543.6 1103.7L543.2 1109.6L542.9 1115.5L542.6 1121.7L542.2 1128.3L541.9 1135.0L541.6 1141.8L541.3 1148.1L541.0 1153.8L540.8 1158.6L540.7 1162.2" stroke-width="1.8459999999999999" />
<path d="M344.3 932.0L344.4 931.4L344.4 930.7L344.4 929.8L344.4 928.8L344.4 927.7L344.5 926.7L344.6 925.7L344.7 924.7L345.0 923.8L345.2 922.7L345.6 921.6L345.9 920.6L346.3 919.6L346.7 918.9L347.0 918.3L347.4 918.2L347.7 918.3L348.0 918.9L348.3 919.6L348.6 920.6L348.9 921.6L349.2 922.7L349.4 923.8L349.6 924.7L349.8 925.7L349.9 926.7L350.0 927.7L350.1 928.8L350.1 929.8L350.2 930.7L350.2 931.4L350.3 932.0" stroke-width="1.8459999999999999" />
<path d="M565.7 932.0L565.6 931.4L565.6 930.7L565.6 929.8L565.6 928.8L565.6 927.7L565.5 926.7L565.4 925.7L565.3 924.7L565.0 923.8L564.8 922.7L564.4 921.6L564.1 920.6L563.7 919.6L563.3 918.9L563.0 918.3L562.6 918.2L562.3 918.3L562.0 918.9L561.7 919.6L561.4 920.6L561.1 921.6L560.8 922.7L560.6 923.8L560.4 924.7L560.2 925.7L560.1 926.7L560.0 927.7L559.9 928.8L559.9 929.8L559.8 930.7L559.8 931.4L559.7 932.0" stroke-width="1.8459999999999999" />
<path d="M347.6 918.2L348.2 919.6L349.0 921.4L349.9 923.6L350.9 926.1L352.0 928.7L353.2 931.4L354.4 934.0L355.5 936.6L356.8 939.2L358.2 942.2L359.7 945.2L361.3 948.3L362.8 951.2L364.1 953.8L365.2 956.0L366.1 957.6" stroke-width="2.13" />
<path d="M562.4 918.2L561.8 919.6L561.0 921.4L560.1 923.6L559.1 926.1L558.0 928.7L556.8 931.4L555.6 934.0L554.5 936.6L553.2 939.2L551.8 942.2L550.3 945.2L548.7 948.3L547.2 951.2L545.9 953.8L544.8 956.0L543.9 957.6" stroke-width="2.13" />
<path d="M350.3 932.0L350.9 933.2L351.6 934.7L352.6 936.6L353.6 938.7L354.7 940.9L355.9 943.1L357.0 945.2L358.2 947.1L359.3 948.9L360.6 950.8L362.0 952.7L363.4 954.5L364.7 956.2L365.9 957.7L366.9 959.0L367.6 960.0" stroke-width="1.8459999999999999" />
<path d="M559.7 932.0L559.1 933.2L558.4 934.7L557.4 936.6L556.4 938.7L555.3 940.9L554.1 943.1L553.0 945.2L551.8 947.1L550.7 948.9L549.4 950.8L548.0 952.7L546.6 954.5L545.3 956.2L544.1 957.7L543.1 959.0L542.4 960.0" stroke-width="1.8459999999999999" />
<path d="M366.1 957.6L366.3 957.9L366.7 958.2L367.1 958.6L367.6 959.0L368.1 959.5L368.6 960.1L369.0 960.8L369.3 961.6L369.6 962.5L369.8 963.4L369.9 964.5L370.0 965.6L370.1 966.8L370.1 968.1L370.2 969.4L370.3 970.8L370.3 972.0L370.4 972.9L370.5 973.7L370.5 974.7L370.6 975.9L370.6 977.8L370.6 980.4L370.7 983.9L370.6 988.6L370.6 994.3L370.6 1000.8L370.5 1007.8L370.4 1015.1L370.4 1022.5L370.3 1029.7L370.3 1036.6L370.2 1043.0L370.2 1049.3L370.2 1055.4L370.1 1061.6L370.1 1068.0L370.1 1074.6L370.1 1081.7L370.0 1089.2L369.9 1097.9L369.8 1107.7L369.8 1118.3L369.7 1129.0L369.6 1139.3L369.5 1148.6L369.4 1156.5L369.3 1162.2" stroke-width="2.272" />
<path d="M543.9 957.6L543.7 957.9L543.3 958.2L542.9 958.6L542.4 959.0L541.9 959.5L541.4 960.1L541.0 960.8L540.7 961.6L540.4 962.5L540.2 963.4L540.1 964.5L540.0 965.6L539.9 966.8L539.9 968.1L539.8 969.4L539.7 970.8L539.7 972.0L539.6 972.9L539.5 973.7L539.5 974.7L539.4 975.9L539.4 977.8L539.4 980.4L539.3 983.9L539.4 988.6L539.4 994.3L539.4 1000.8L539.5 1007.8L539.6 1015.1L539.6 1022.5L539.7 1029.7L539.7 1036.6L539.8 1043.0L539.8 1049.3L539.8 1055.4L539.9 1061.6L539.9 1068.0L539.9 1074.6L539.9 1081.7L540.0 1089.2L540.1 1097.9L540.2 1107.7L540.2 1118.3L540.3 1129.0L540.4 1139.3L540.5 1148.6L540.6 1156.5L540.7 1162.2" stroke-width="2.272" />
<path d="M366.7 976.1L366.7 977.6L366.7 979.4L366.7 981.6L366.8 984.1L366.8 986.9L366.8 990.1L366.7 993.4L366.7 997.1L366.7 1001.2L366.6 1005.8L366.5 1010.8L366.5 1016.1L366.4 1021.4L366.3 1026.7L366.2 1031.8L366.1 1036.6L365.9 1041.2L365.7 1046.0L365.5 1050.8L365.4 1055.5L365.2 1059.8L365.0 1063.7L364.8 1067.0L364.7 1069.5" stroke-width="1.9879999999999998" />
<path d="M543.3 976.1L543.3 977.6L543.3 979.4L543.3 981.6L543.2 984.1L543.2 986.9L543.2 990.1L543.3 993.4L543.3 997.1L543.3 1001.2L543.4 1005.8L543.5 1010.8L543.5 1016.1L543.6 1021.4L543.7 1026.7L543.8 1031.8L543.9 1036.6L544.1 1041.2L544.3 1046.0L544.5 1050.8L544.6 1055.5L544.8 1059.8L545.0 1063.7L545.2 1067.0L545.3 1069.5" stroke-width="1.9879999999999998" />
<path d="M353.9 1162.2L369.3 1162.2" stroke-width="2.84" />
<path d="M556.1 1162.2L540.7 1162.2" stroke-width="2.84" />
<path d="M360.8 1069.5L365.6 1069.5" stroke-width="1.704" />
<path d="M549.2 1069.5L544.4 1069.5" stroke-width="1.704" />
<path d="M344.3 932.0L350.3 932.0" stroke-width="1.704" />
<path d="M565.7 932.0L559.7 932.0" stroke-width="1.704" />
<path d="M366.1 957.6L376.6 957.6L387.1 957.6" stroke-width="2.272" />
<path d="M543.9 957.6L533.4 957.6L522.9 957.6" stroke-width="2.272" />
<path d="M366.7 976.0L377.8 976.0L388.9 976.0" stroke-width="2.272" />
<path d="M543.3 976.0L532.2 976.0L521.1 976.0" stroke-width="2.272" />
<path d="M275.4 917.5L275.7 918.4L276.1 919.6L276.6 921.0L277.2 922.5L277.7 924.1L278.3 925.8L278.9 927.3L279.3 928.7L279.8 929.9L280.1 930.9L280.5 931.8L280.8 932.8L281.2 933.8L281.6 934.9L282.1 936.3L282.6 937.9L283.3 939.8L284.0 941.9L284.9 944.2L285.7 946.7L286.6 949.3L287.5 952.0L288.4 954.8L289.2 957.6L290.0 960.6L290.9 963.7L291.7 967.0L292.5 970.4L293.4 973.8L294.2 977.2L295.0 980.6L295.8 983.9L296.6 987.2L297.3 990.5L298.1 993.8L298.8 997.1L299.6 1000.4L300.3 1003.7L301.0 1007.0L301.7 1010.3L302.4 1013.5L303.1 1016.7L303.8 1019.8L304.5 1023.0L305.1 1026.2L305.8 1029.5L306.4 1033.0L307.0 1036.6L307.5 1040.4L308.1 1044.3L308.6 1048.4L309.1 1052.6L309.6 1056.8L310.1 1061.1L310.5 1065.3L310.9 1069.5L311.3 1073.6L311.7 1077.7L312.0 1081.8L312.4 1085.9L312.7 1090.0L313.0 1094.1L313.3 1098.3L313.6 1102.4L313.8 1106.5L314.1 1110.7L314.3 1115.0L314.6 1119.2L314.8 1123.4L315.0 1127.5L315.1 1131.4L315.3 1135.3L315.4 1139.1L315.4 1143.1L315.5 1147.0L315.5 1150.8L315.5 1154.4L315.5 1157.5L315.5 1160.2L315.5 1162.2" stroke-width="3.2659999999999996" />
<path d="M634.6 917.5L634.3 918.4L633.9 919.6L633.4 921.0L632.8 922.5L632.3 924.1L631.7 925.8L631.1 927.3L630.7 928.7L630.2 929.9L629.9 930.9L629.5 931.8L629.2 932.8L628.8 933.8L628.4 934.9L627.9 936.3L627.4 937.9L626.7 939.8L626.0 941.9L625.1 944.2L624.3 946.7L623.4 949.3L622.5 952.0L621.6 954.8L620.8 957.6L620.0 960.6L619.1 963.7L618.3 967.0L617.5 970.4L616.6 973.8L615.8 977.2L615.0 980.6L614.2 983.9L613.4 987.2L612.7 990.5L611.9 993.8L611.2 997.1L610.4 1000.4L609.7 1003.7L609.0 1007.0L608.3 1010.3L607.6 1013.5L606.9 1016.7L606.2 1019.8L605.5 1023.0L604.9 1026.2L604.2 1029.5L603.6 1033.0L603.0 1036.6L602.5 1040.4L601.9 1044.3L601.4 1048.4L600.9 1052.6L600.4 1056.8L599.9 1061.1L599.5 1065.3L599.1 1069.5L598.7 1073.6L598.3 1077.7L598.0 1081.8L597.6 1085.9L597.3 1090.0L597.0 1094.1L596.7 1098.3L596.4 1102.4L596.2 1106.5L595.9 1110.7L595.7 1115.0L595.4 1119.2L595.2 1123.4L595.0 1127.5L594.9 1131.4L594.7 1135.3L594.6 1139.1L594.6 1143.1L594.5 1147.0L594.5 1150.8L594.5 1154.4L594.5 1157.5L594.5 1160.2L594.5 1162.2" stroke-width="3.2659999999999996" />
<path d="M295.8 932.0L296.1 933.9L296.5 936.6L296.9 939.7L297.4 943.2L298.0 946.8L298.6 950.6L299.2 954.2L299.7 957.6L300.3 960.9L301.0 964.2L301.6 967.5L302.3 970.7L303.0 974.1L303.7 977.4L304.3 980.7L305.0 983.9L305.7 987.2L306.3 990.5L307.0 993.8L307.7 997.1L308.3 1000.4L309.0 1003.7L309.6 1007.0L310.3 1010.3L310.9 1013.5L311.5 1016.7L312.0 1019.8L312.6 1023.0L313.2 1026.2L313.7 1029.5L314.3 1033.0L314.9 1036.6L315.4 1040.3L316.0 1044.0L316.6 1047.9L317.2 1051.8L317.7 1055.9L318.3 1060.2L318.9 1064.7L319.5 1069.5L320.1 1074.6L320.7 1080.0L321.3 1085.8L321.9 1091.6L322.4 1097.6L323.0 1103.7L323.6 1109.6L324.1 1115.5L324.6 1121.7L325.1 1128.3L325.6 1135.0L326.0 1141.8L326.4 1148.1L326.8 1153.8L327.1 1158.6L327.4 1162.2" stroke-width="1.8459999999999999" />
<path d="M614.2 932.0L613.9 933.9L613.5 936.6L613.1 939.7L612.6 943.2L612.0 946.8L611.4 950.6L610.8 954.2L610.3 957.6L609.7 960.9L609.0 964.2L608.4 967.5L607.7 970.7L607.0 974.1L606.3 977.4L605.7 980.7L605.0 983.9L604.3 987.2L603.7 990.5L603.0 993.8L602.3 997.1L601.7 1000.4L601.0 1003.7L600.4 1007.0L599.7 1010.3L599.1 1013.5L598.5 1016.7L598.0 1019.8L597.4 1023.0L596.8 1026.2L596.3 1029.5L595.7 1033.0L595.1 1036.6L594.6 1040.3L594.0 1044.0L593.4 1047.9L592.8 1051.8L592.3 1055.9L591.7 1060.2L591.1 1064.7L590.5 1069.5L589.9 1074.6L589.3 1080.0L588.7 1085.8L588.1 1091.6L587.6 1097.6L587.0 1103.7L586.4 1109.6L585.9 1115.5L585.4 1121.7L584.9 1128.3L584.4 1135.0L584.0 1141.8L583.6 1148.1L583.2 1153.8L582.9 1158.6L582.6 1162.2" stroke-width="1.8459999999999999" />
<path d="M301.1 935.3L301.4 937.0L301.8 939.2L302.2 941.8L302.8 944.8L303.3 948.0L303.9 951.2L304.5 954.5L305.0 957.6L305.5 960.7L306.0 963.9L306.5 967.2L306.9 970.5L307.4 973.9L307.9 977.3L308.4 980.6L308.9 983.9L309.5 987.2L310.1 990.5L310.7 993.8L311.2 997.1L311.8 1000.4L312.4 1003.7L313.0 1007.0L313.6 1010.3L314.1 1013.5L314.6 1016.7L315.1 1019.8L315.5 1023.0L316.0 1026.2L316.5 1029.5L317.0 1033.0L317.5 1036.6L318.1 1040.3L318.6 1044.0L319.2 1047.9L319.8 1051.8L320.4 1055.9L321.0 1060.2L321.6 1064.7L322.1 1069.5L322.6 1074.6L323.1 1080.0L323.6 1085.8L324.1 1091.6L324.6 1097.6L325.0 1103.7L325.4 1109.6L325.8 1115.5L326.2 1121.7L326.5 1128.3L326.8 1135.0L327.1 1141.8L327.4 1148.1L327.7 1153.8L327.9 1158.6L328.0 1162.2" stroke-width="1.8459999999999999" />
<path d="M608.9 935.3L608.6 937.0L608.2 939.2L607.8 941.8L607.2 944.8L606.7 948.0L606.1 951.2L605.5 954.5L605.0 957.6L604.5 960.7L604.0 963.9L603.5 967.2L603.1 970.5L602.6 973.9L602.1 977.3L601.6 980.6L601.1 983.9L600.5 987.2L599.9 990.5L599.3 993.8L598.8 997.1L598.2 1000.4L597.6 1003.7L597.0 1007.0L596.4 1010.3L595.9 1013.5L595.4 1016.7L594.9 1019.8L594.5 1023.0L594.0 1026.2L593.5 1029.5L593.0 1033.0L592.5 1036.6L591.9 1040.3L591.4 1044.0L590.8 1047.9L590.2 1051.8L589.6 1055.9L589.0 1060.2L588.4 1064.7L587.9 1069.5L587.4 1074.6L586.9 1080.0L586.4 1085.8L585.9 1091.6L585.4 1097.6L585.0 1103.7L584.6 1109.6L584.2 1115.5L583.8 1121.7L583.5 1128.3L583.2 1135.0L582.9 1141.8L582.6 1148.1L582.3 1153.8L582.1 1158.6L582.0 1162.2" stroke-width="1.8459999999999999" />
<path d="M295.1 932.0L295.1 931.4L295.1 930.7L295.1 929.8L295.1 928.8L295.1 927.7L295.1 926.7L295.2 925.7L295.3 924.7L295.4 923.8L295.6 922.7L295.9 921.6L296.2 920.5L296.5 919.5L296.8 918.8L297.1 918.3L297.4 918.2L297.7 918.4L298.0 919.1L298.4 920.0L298.8 921.1L299.1 922.4L299.4 923.6L299.7 924.9L300.0 926.1L300.2 927.2L300.4 928.5L300.6 929.8L300.7 931.2L300.8 932.4L300.9 933.6L301.0 934.5L301.1 935.3" stroke-width="1.8459999999999999" />
<path d="M614.9 932.0L614.9 931.4L614.9 930.7L614.9 929.8L614.9 928.8L614.9 927.7L614.9 926.7L614.8 925.7L614.7 924.7L614.6 923.8L614.4 922.7L614.1 921.6L613.8 920.5L613.5 919.5L613.2 918.8L612.9 918.3L612.6 918.2L612.3 918.4L612.0 919.1L611.6 920.0L611.2 921.1L610.9 922.4L610.6 923.6L610.3 924.9L610.0 926.1L609.8 927.2L609.6 928.5L609.4 929.8L609.3 931.2L609.2 932.4L609.1 933.6L609.0 934.5L608.9 935.3" stroke-width="1.8459999999999999" />
<path d="M297.8 918.2L298.6 919.7L299.8 921.7L301.1 924.1L302.6 926.8L304.2 929.6L305.8 932.5L307.4 935.3L308.9 937.9L310.5 940.5L312.1 943.3L313.9 946.2L315.6 949.0L317.2 951.7L318.6 954.1L319.9 956.1L320.8 957.6" stroke-width="2.13" />
<path d="M612.2 918.2L611.4 919.7L610.2 921.7L608.9 924.1L607.4 926.8L605.8 929.6L604.2 932.5L602.6 935.3L601.1 937.9L599.5 940.5L597.9 943.3L596.1 946.2L594.4 949.0L592.8 951.7L591.4 954.1L590.1 956.1L589.2 957.6" stroke-width="2.13" />
<path d="M301.1 935.3L301.9 936.3L302.9 937.6L304.2 939.3L305.6 941.1L307.1 943.0L308.7 944.9L310.2 946.7L311.6 948.4L313.0 950.1L314.6 951.9L316.2 953.7L317.8 955.5L319.4 957.2L320.7 958.7L321.9 960.0L322.8 960.9" stroke-width="1.8459999999999999" />
<path d="M608.9 935.3L608.1 936.3L607.1 937.6L605.8 939.3L604.4 941.1L602.9 943.0L601.3 944.9L599.8 946.7L598.4 948.4L597.0 950.1L595.4 951.9L593.8 953.7L592.2 955.5L590.6 957.2L589.3 958.7L588.1 960.0L587.2 960.9" stroke-width="1.8459999999999999" />
<path d="M320.8 957.6L321.2 957.9L321.9 958.3L322.6 958.8L323.4 959.3L324.3 959.9L325.1 960.5L325.8 961.2L326.3 961.8L326.7 962.5L327.0 963.2L327.3 964.0L327.5 964.8L327.6 965.6L327.8 966.4L327.9 967.3L328.0 968.2L328.2 968.7L328.3 968.8L328.4 968.7L328.5 968.7L328.5 969.2L328.6 970.3L328.6 972.5L328.7 976.1L328.7 981.1L328.7 987.4L328.7 994.7L328.7 1002.7L328.7 1011.2L328.7 1019.8L328.7 1028.4L328.7 1036.6L328.7 1044.6L328.6 1052.8L328.6 1061.1L328.6 1069.5L328.5 1077.9L328.5 1086.2L328.5 1094.4L328.4 1102.4L328.4 1110.5L328.3 1119.2L328.3 1127.9L328.2 1136.4L328.2 1144.4L328.1 1151.6L328.1 1157.7L328.0 1162.2" stroke-width="2.272" />
<path d="M589.2 957.6L588.8 957.9L588.1 958.3L587.4 958.8L586.6 959.3L585.7 959.9L584.9 960.5L584.2 961.2L583.7 961.8L583.3 962.5L583.0 963.2L582.7 964.0L582.5 964.8L582.4 965.6L582.2 966.4L582.1 967.3L582.0 968.2L581.8 968.7L581.7 968.8L581.6 968.7L581.5 968.7L581.5 969.2L581.4 970.3L581.4 972.5L581.3 976.1L581.3 981.1L581.3 987.4L581.3 994.7L581.3 1002.7L581.3 1011.2L581.3 1019.8L581.3 1028.4L581.3 1036.6L581.3 1044.6L581.4 1052.8L581.4 1061.1L581.4 1069.5L581.5 1077.9L581.5 1086.2L581.5 1094.4L581.6 1102.4L581.6 1110.5L581.7 1119.2L581.7 1127.9L581.8 1136.4L581.8 1144.4L581.9 1151.6L581.9 1157.7L582.0 1162.2" stroke-width="2.272" />
<path d="M324.1 976.1L324.1 980.9L324.1 987.6L324.1 995.5L324.1 1004.3L324.1 1013.2L324.1 1022.0L324.1 1029.9L324.1 1036.6L324.0 1042.2L323.9 1047.5L323.9 1052.4L323.8 1056.8L323.6 1060.8L323.6 1064.2L323.5 1067.1L323.4 1069.5" stroke-width="1.9879999999999998" />
<path d="M585.9 976.1L585.9 980.9L585.9 987.6L585.9 995.5L585.9 1004.3L585.9 1013.2L585.9 1022.0L585.9 1029.9L585.9 1036.6L586.0 1042.2L586.1 1047.5L586.1 1052.4L586.2 1056.8L586.4 1060.8L586.4 1064.2L586.5 1067.1L586.6 1069.5" stroke-width="1.9879999999999998" />
<path d="M315.5 1162.2L328.0 1162.2" stroke-width="2.84" />
<path d="M594.5 1162.2L582.0 1162.2" stroke-width="2.84" />
<path d="M319.5 1069.5L323.6 1069.5" stroke-width="1.704" />
<path d="M590.5 1069.5L586.4 1069.5" stroke-width="1.704" />
<path d="M295.1 932.0L301.1 935.3" stroke-width="1.704" />
<path d="M614.9 932.0L608.9 935.3" stroke-width="1.704" />
<path d="M320.8 957.6L326.6 957.6L332.5 957.6" stroke-width="2.272" />
<path d="M589.2 957.6L583.4 957.6L577.5 957.6" stroke-width="2.272" />
<path d="M324.1 976.0L329.9 976.0L335.7 976.0" stroke-width="2.272" />
<path d="M585.9 976.0L580.1 976.0L574.3 976.0" stroke-width="2.272" />
<path d="M239.9 917.5L240.2 918.4L240.7 919.6L241.3 921.0L241.9 922.5L242.6 924.1L243.3 925.8L243.9 927.3L244.5 928.7L245.0 929.9L245.4 930.9L245.9 931.8L246.3 932.8L246.8 933.8L247.3 934.9L247.8 936.3L248.4 937.9L249.1 939.8L249.9 941.9L250.7 944.2L251.5 946.7L252.4 949.3L253.3 952.0L254.2 954.8L255.0 957.6L255.8 960.6L256.6 963.7L257.5 967.0L258.3 970.4L259.1 973.8L259.9 977.2L260.8 980.6L261.6 983.9L262.4 987.2L263.2 990.5L264.1 993.8L264.9 997.1L265.7 1000.4L266.6 1003.7L267.4 1007.0L268.2 1010.3L268.9 1013.5L269.7 1016.7L270.5 1019.8L271.2 1023.0L271.9 1026.2L272.7 1029.5L273.4 1033.0L274.1 1036.6L274.8 1040.4L275.5 1044.3L276.1 1048.4L276.8 1052.6L277.4 1056.8L278.1 1061.1L278.7 1065.3L279.3 1069.5L280.0 1073.6L280.6 1077.7L281.2 1081.8L281.8 1085.9L282.4 1090.0L283.0 1094.1L283.5 1098.3L283.9 1102.4L284.4 1106.5L284.8 1110.7L285.2 1115.0L285.5 1119.2L285.8 1123.4L286.1 1127.5L286.4 1131.4L286.6 1135.3L286.8 1139.1L286.9 1143.1L287.0 1147.0L287.1 1150.8L287.1 1154.4L287.2 1157.5L287.2 1160.2L287.2 1162.2" stroke-width="3.2659999999999996" />
<path d="M670.1 917.5L669.8 918.4L669.3 919.6L668.7 921.0L668.1 922.5L667.4 924.1L666.7 925.8L666.1 927.3L665.5 928.7L665.0 929.9L664.6 930.9L664.1 931.8L663.7 932.8L663.2 933.8L662.7 934.9L662.2 936.3L661.6 937.9L660.9 939.8L660.1 941.9L659.3 944.2L658.5 946.7L657.6 949.3L656.7 952.0L655.8 954.8L655.0 957.6L654.2 960.6L653.4 963.7L652.5 967.0L651.7 970.4L650.9 973.8L650.1 977.2L649.2 980.6L648.4 983.9L647.6 987.2L646.8 990.5L645.9 993.8L645.1 997.1L644.3 1000.4L643.4 1003.7L642.6 1007.0L641.8 1010.3L641.1 1013.5L640.3 1016.7L639.5 1019.8L638.8 1023.0L638.1 1026.2L637.3 1029.5L636.6 1033.0L635.9 1036.6L635.2 1040.4L634.5 1044.3L633.9 1048.4L633.2 1052.6L632.6 1056.8L631.9 1061.1L631.3 1065.3L630.7 1069.5L630.0 1073.6L629.4 1077.7L628.8 1081.8L628.2 1085.9L627.6 1090.0L627.0 1094.1L626.5 1098.3L626.1 1102.4L625.6 1106.5L625.2 1110.7L624.8 1115.0L624.5 1119.2L624.2 1123.4L623.9 1127.5L623.6 1131.4L623.4 1135.3L623.2 1139.1L623.1 1143.1L623.0 1147.0L622.9 1150.8L622.9 1154.4L622.8 1157.5L622.8 1160.2L622.8 1162.2" stroke-width="3.2659999999999996" />
<path d="M255.7 932.0L256.0 933.9L256.5 936.6L257.0 939.7L257.6 943.2L258.2 946.8L258.9 950.6L259.6 954.2L260.3 957.6L260.9 960.9L261.7 964.2L262.4 967.5L263.1 970.7L263.9 974.1L264.7 977.4L265.4 980.7L266.2 983.9L266.9 987.2L267.7 990.5L268.4 993.8L269.1 997.1L269.9 1000.4L270.6 1003.7L271.4 1007.0L272.1 1010.3L272.8 1013.6L273.6 1016.9L274.3 1020.2L275.1 1023.6L275.8 1026.9L276.5 1030.2L277.3 1033.4L278.0 1036.6L278.8 1039.8L279.6 1043.0L280.4 1046.3L281.2 1049.5L281.9 1052.6L282.7 1055.4L283.3 1058.0L283.9 1060.3L284.5 1061.9L284.9 1062.7L285.3 1063.2L285.7 1063.5L286.0 1064.0L286.4 1064.9L286.8 1066.7L287.2 1069.5L287.8 1073.5L288.3 1078.4L289.0 1084.0L289.6 1090.2L290.2 1096.6L290.8 1103.1L291.4 1109.5L291.8 1115.5L292.3 1121.7L292.7 1128.3L293.1 1135.0L293.4 1141.8L293.8 1148.1L294.0 1153.8L294.3 1158.6L294.5 1162.2" stroke-width="1.8459999999999999" />
<path d="M654.3 932.0L654.0 933.9L653.5 936.6L653.0 939.7L652.4 943.2L651.8 946.8L651.1 950.6L650.4 954.2L649.7 957.6L649.1 960.9L648.3 964.2L647.6 967.5L646.9 970.7L646.1 974.1L645.3 977.4L644.6 980.7L643.8 983.9L643.1 987.2L642.3 990.5L641.6 993.8L640.9 997.1L640.1 1000.4L639.4 1003.7L638.6 1007.0L637.9 1010.3L637.2 1013.6L636.4 1016.9L635.7 1020.2L634.9 1023.6L634.2 1026.9L633.5 1030.2L632.7 1033.4L632.0 1036.6L631.2 1039.8L630.4 1043.0L629.6 1046.3L628.8 1049.5L628.1 1052.6L627.3 1055.4L626.7 1058.0L626.1 1060.3L625.5 1061.9L625.1 1062.7L624.7 1063.2L624.3 1063.5L624.0 1064.0L623.6 1064.9L623.2 1066.7L622.8 1069.5L622.2 1073.5L621.7 1078.4L621.0 1084.0L620.4 1090.2L619.8 1096.6L619.2 1103.1L618.6 1109.5L618.2 1115.5L617.7 1121.7L617.3 1128.3L616.9 1135.0L616.6 1141.8L616.2 1148.1L616.0 1153.8L615.7 1158.6L615.5 1162.2" stroke-width="1.8459999999999999" />
<path d="M261.6 935.3L262.0 937.0L262.5 939.2L263.2 941.8L263.9 944.8L264.6 948.0L265.4 951.2L266.1 954.5L266.8 957.6L267.5 960.7L268.2 963.9L268.8 967.2L269.5 970.5L270.1 973.9L270.8 977.3L271.4 980.6L272.1 983.9L272.8 987.2L273.4 990.5L274.1 993.8L274.7 997.1L275.4 1000.4L276.1 1003.7L276.7 1007.0L277.4 1010.3L278.0 1013.5L278.7 1016.7L279.3 1019.8L279.9 1023.0L280.6 1026.2L281.2 1029.5L281.9 1033.0L282.6 1036.6L283.4 1040.3L284.2 1044.0L285.1 1047.9L286.0 1051.8L286.9 1055.9L287.7 1060.2L288.5 1064.7L289.2 1069.5L289.9 1074.6L290.5 1080.0L291.1 1085.8L291.6 1091.6L292.1 1097.6L292.6 1103.7L293.0 1109.6L293.4 1115.5L293.8 1121.7L294.1 1128.3L294.5 1135.0L294.7 1141.8L295.0 1148.1L295.2 1153.8L295.4 1158.6L295.5 1162.2" stroke-width="1.8459999999999999" />
<path d="M648.4 935.3L648.0 937.0L647.5 939.2L646.8 941.8L646.1 944.8L645.4 948.0L644.6 951.2L643.9 954.5L643.2 957.6L642.5 960.7L641.8 963.9L641.2 967.2L640.5 970.5L639.9 973.9L639.2 977.3L638.6 980.6L637.9 983.9L637.2 987.2L636.6 990.5L635.9 993.8L635.3 997.1L634.6 1000.4L633.9 1003.7L633.3 1007.0L632.6 1010.3L632.0 1013.5L631.3 1016.7L630.7 1019.8L630.1 1023.0L629.4 1026.2L628.8 1029.5L628.1 1033.0L627.4 1036.6L626.6 1040.3L625.8 1044.0L624.9 1047.9L624.0 1051.8L623.1 1055.9L622.3 1060.2L621.5 1064.7L620.8 1069.5L620.1 1074.6L619.5 1080.0L618.9 1085.8L618.4 1091.6L617.9 1097.6L617.4 1103.7L617.0 1109.6L616.6 1115.5L616.2 1121.7L615.9 1128.3L615.5 1135.0L615.3 1141.8L615.0 1148.1L614.8 1153.8L614.6 1158.6L614.5 1162.2" stroke-width="1.8459999999999999" />
<path d="M253.9 932.0L254.0 931.4L254.0 930.7L253.9 929.8L253.9 928.8L254.0 927.7L254.0 926.7L254.1 925.7L254.2 924.7L254.4 923.8L254.6 922.7L254.8 921.6L255.1 920.5L255.4 919.5L255.7 918.8L256.0 918.3L256.3 918.2L256.7 918.4L257.1 919.1L257.5 920.0L258.0 921.1L258.4 922.4L258.8 923.6L259.2 924.9L259.6 926.1L259.9 927.2L260.2 928.5L260.5 929.8L260.8 931.2L261.0 932.4L261.3 933.6L261.4 934.5L261.6 935.3" stroke-width="1.8459999999999999" />
<path d="M656.1 932.0L656.0 931.4L656.0 930.7L656.1 929.8L656.1 928.8L656.0 927.7L656.0 926.7L655.9 925.7L655.8 924.7L655.6 923.8L655.4 922.7L655.2 921.6L654.9 920.5L654.6 919.5L654.3 918.8L654.0 918.3L653.7 918.2L653.3 918.4L652.9 919.1L652.5 920.0L652.0 921.1L651.6 922.4L651.2 923.6L650.8 924.9L650.4 926.1L650.1 927.2L649.8 928.5L649.5 929.8L649.2 931.2L649.0 932.4L648.7 933.6L648.6 934.5L648.4 935.3" stroke-width="1.8459999999999999" />
<path d="M256.6 918.2L257.7 919.8L259.1 922.0L260.8 924.6L262.7 927.5L264.7 930.6L266.8 933.6L268.8 936.6L270.8 939.2L272.8 941.8L275.0 944.4L277.3 947.1L279.6 949.7L281.7 952.2L283.7 954.4L285.4 956.2L286.6 957.6" stroke-width="2.13" />
<path d="M653.4 918.2L652.3 919.8L650.9 922.0L649.2 924.6L647.3 927.5L645.3 930.6L643.2 933.6L641.2 936.6L639.2 939.2L637.2 941.8L635.0 944.4L632.7 947.1L630.4 949.7L628.3 952.2L626.3 954.4L624.6 956.2L623.4 957.6" stroke-width="2.13" />
<path d="M261.6 935.3L262.6 936.3L263.9 937.6L265.5 939.3L267.3 941.1L269.1 943.0L271.0 944.9L272.9 946.7L274.7 948.4L276.6 950.1L278.6 951.9L280.7 953.7L282.8 955.5L284.8 957.2L286.6 958.7L288.1 960.0L289.2 960.9" stroke-width="1.8459999999999999" />
<path d="M648.4 935.3L647.4 936.3L646.1 937.6L644.5 939.3L642.7 941.1L640.9 943.0L639.0 944.9L637.1 946.7L635.3 948.4L633.4 950.1L631.4 951.9L629.3 953.7L627.2 955.5L625.2 957.2L623.4 958.7L621.9 960.0L620.8 960.9" stroke-width="1.8459999999999999" />
<path d="M286.6 957.6L287.0 958.0L287.6 958.5L288.3 959.1L289.0 959.8L289.8 960.5L290.6 961.3L291.3 962.1L291.8 962.9L292.3 963.7L292.8 964.6L293.2 965.4L293.6 966.3L293.9 967.3L294.2 968.4L294.5 969.5L294.7 970.8L294.9 971.9L295.1 972.8L295.2 973.6L295.3 974.6L295.4 975.9L295.4 977.8L295.5 980.4L295.5 983.9L295.6 988.5L295.6 994.0L295.6 1000.2L295.6 1007.0L295.5 1014.1L295.5 1021.6L295.5 1029.1L295.5 1036.6L295.5 1044.2L295.6 1052.2L295.6 1060.5L295.7 1069.0L295.7 1077.6L295.7 1086.0L295.8 1094.3L295.8 1102.4L295.8 1110.5L295.8 1119.2L295.8 1127.9L295.8 1136.4L295.8 1144.4L295.8 1151.6L295.8 1157.7L295.8 1162.2" stroke-width="2.272" />
<path d="M623.4 957.6L623.0 958.0L622.4 958.5L621.7 959.1L621.0 959.8L620.2 960.5L619.4 961.3L618.7 962.1L618.2 962.9L617.7 963.7L617.2 964.6L616.8 965.4L616.4 966.3L616.1 967.3L615.8 968.4L615.5 969.5L615.3 970.8L615.1 971.9L614.9 972.8L614.8 973.6L614.7 974.6L614.6 975.9L614.6 977.8L614.5 980.4L614.5 983.9L614.4 988.5L614.4 994.0L614.4 1000.2L614.4 1007.0L614.5 1014.1L614.5 1021.6L614.5 1029.1L614.5 1036.6L614.5 1044.2L614.4 1052.2L614.4 1060.5L614.3 1069.0L614.3 1077.6L614.3 1086.0L614.2 1094.3L614.2 1102.4L614.2 1110.5L614.2 1119.2L614.2 1127.9L614.2 1136.4L614.2 1144.4L614.2 1151.6L614.2 1157.7L614.2 1162.2" stroke-width="2.272" />
<path d="M289.2 976.1L289.2 980.9L289.2 987.6L289.2 995.5L289.2 1004.3L289.2 1013.2L289.2 1022.0L289.2 1029.9L289.2 1036.6L289.3 1042.2L289.3 1047.5L289.4 1052.4L289.5 1056.8L289.6 1060.8L289.7 1064.2L289.8 1067.1L289.9 1069.5" stroke-width="1.9879999999999998" />
<path d="M620.8 976.1L620.8 980.9L620.8 987.6L620.8 995.5L620.8 1004.3L620.8 1013.2L620.8 1022.0L620.8 1029.9L620.8 1036.6L620.7 1042.2L620.7 1047.5L620.6 1052.4L620.5 1056.8L620.4 1060.8L620.3 1064.2L620.2 1067.1L620.1 1069.5" stroke-width="1.9879999999999998" />
<path d="M287.2 1162.2L295.8 1162.2" stroke-width="2.84" />
<path d="M622.8 1162.2L614.2 1162.2" stroke-width="2.84" />
<path d="M287.2 1069.5L290.7 1069.5" stroke-width="1.704" />
<path d="M622.8 1069.5L619.3 1069.5" stroke-width="1.704" />
<path d="M253.9 932.0L261.6 935.3" stroke-width="1.704" />
<path d="M656.1 932.0L648.4 935.3" stroke-width="1.704" />
<path d="M286.6 957.6L287.9 957.6L289.2 957.6" stroke-width="2.272" />
<path d="M623.4 957.6L622.1 957.6L620.8 957.6" stroke-width="2.272" />
<path d="M289.2 976.0L291.5 976.0L293.8 976.0" stroke-width="2.272" />
<path d="M620.8 976.0L618.5 976.0L616.2 976.0" stroke-width="2.272" />
<path d="M215.3 917.5L215.5 918.4L215.9 919.6L216.3 921.0L216.8 922.5L217.3 924.1L217.9 925.8L218.4 927.3L218.8 928.7L219.2 929.9L219.6 930.9L220.0 931.8L220.3 932.8L220.7 933.8L221.1 934.9L221.6 936.3L222.1 937.9L222.7 939.8L223.4 941.9L224.1 944.2L224.8 946.7L225.6 949.3L226.4 952.0L227.2 954.8L228.0 957.6L228.9 960.6L229.7 963.7L230.6 967.0L231.6 970.4L232.5 973.8L233.4 977.2L234.3 980.6L235.3 983.9L236.2 987.2L237.1 990.5L238.0 993.8L238.9 997.1L239.8 1000.4L240.7 1003.7L241.6 1007.0L242.5 1010.3L243.3 1013.5L244.2 1016.7L245.0 1019.8L245.8 1023.0L246.6 1026.2L247.4 1029.5L248.2 1033.0L249.1 1036.6L250.0 1040.4L250.9 1044.5L251.8 1048.7L252.8 1053.0L253.7 1057.3L254.6 1061.6L255.5 1065.6L256.3 1069.5L257.1 1073.0L257.8 1076.4L258.5 1079.5L259.1 1082.6L259.7 1085.7L260.4 1088.9L261.0 1092.2L261.6 1095.8L262.2 1099.6L262.8 1103.5L263.4 1107.6L264.0 1111.8L264.5 1116.0L265.1 1120.3L265.6 1124.5L266.2 1128.7L266.7 1133.1L267.3 1137.8L267.9 1142.7L268.4 1147.5L269.0 1152.1L269.4 1156.2L269.8 1159.6L270.1 1162.2" stroke-width="3.2659999999999996" />
<path d="M694.7 917.5L694.5 918.4L694.1 919.6L693.7 921.0L693.2 922.5L692.7 924.1L692.1 925.8L691.6 927.3L691.2 928.7L690.8 929.9L690.4 930.9L690.0 931.8L689.7 932.8L689.3 933.8L688.9 934.9L688.4 936.3L687.9 937.9L687.3 939.8L686.6 941.9L685.9 944.2L685.2 946.7L684.4 949.3L683.6 952.0L682.8 954.8L682.0 957.6L681.1 960.6L680.3 963.7L679.4 967.0L678.4 970.4L677.5 973.8L676.6 977.2L675.7 980.6L674.7 983.9L673.8 987.2L672.9 990.5L672.0 993.8L671.1 997.1L670.2 1000.4L669.3 1003.7L668.4 1007.0L667.5 1010.3L666.7 1013.5L665.8 1016.7L665.0 1019.8L664.2 1023.0L663.4 1026.2L662.6 1029.5L661.8 1033.0L660.9 1036.6L660.0 1040.4L659.1 1044.5L658.2 1048.7L657.2 1053.0L656.3 1057.3L655.4 1061.6L654.5 1065.6L653.7 1069.5L652.9 1073.0L652.2 1076.4L651.5 1079.5L650.9 1082.6L650.3 1085.7L649.6 1088.9L649.0 1092.2L648.4 1095.8L647.8 1099.6L647.2 1103.5L646.6 1107.6L646.0 1111.8L645.5 1116.0L644.9 1120.3L644.4 1124.5L643.8 1128.7L643.3 1133.1L642.7 1137.8L642.1 1142.7L641.6 1147.5L641.0 1152.1L640.6 1156.2L640.2 1159.6L639.9 1162.2" stroke-width="3.2659999999999996" />
<path d="M227.4 932.0L227.8 933.9L228.4 936.6L229.1 939.7L229.9 943.2L230.7 946.8L231.6 950.6L232.4 954.2L233.3 957.6L234.1 960.9L235.0 964.2L235.9 967.5L236.8 970.7L237.8 974.1L238.7 977.4L239.6 980.7L240.5 983.9L241.4 987.2L242.4 990.5L243.3 993.8L244.2 997.1L245.1 1000.4L246.0 1003.7L246.9 1007.0L247.8 1010.3L248.6 1013.5L249.4 1016.7L250.2 1019.8L251.1 1023.0L251.9 1026.2L252.7 1029.5L253.5 1033.0L254.3 1036.6L255.2 1040.3L256.1 1044.0L257.0 1047.9L258.0 1051.8L258.9 1055.9L259.8 1060.2L260.7 1064.7L261.6 1069.5L262.4 1074.6L263.3 1080.0L264.2 1085.8L265.0 1091.6L265.8 1097.6L266.6 1103.7L267.4 1109.6L268.2 1115.5L268.9 1121.7L269.7 1128.3L270.5 1135.0L271.2 1141.8L271.9 1148.1L272.5 1153.8L273.0 1158.6L273.4 1162.2" stroke-width="1.8459999999999999" />
<path d="M682.6 932.0L682.2 933.9L681.6 936.6L680.9 939.7L680.1 943.2L679.3 946.8L678.4 950.6L677.6 954.2L676.7 957.6L675.9 960.9L675.0 964.2L674.1 967.5L673.2 970.7L672.2 974.1L671.3 977.4L670.4 980.7L669.5 983.9L668.6 987.2L667.6 990.5L666.7 993.8L665.8 997.1L664.9 1000.4L664.0 1003.7L663.1 1007.0L662.2 1010.3L661.4 1013.5L660.6 1016.7L659.8 1019.8L658.9 1023.0L658.1 1026.2L657.3 1029.5L656.5 1033.0L655.7 1036.6L654.8 1040.3L653.9 1044.0L653.0 1047.9L652.0 1051.8L651.1 1055.9L650.2 1060.2L649.3 1064.7L648.4 1069.5L647.6 1074.6L646.7 1080.0L645.8 1085.8L645.0 1091.6L644.2 1097.6L643.4 1103.7L642.6 1109.6L641.8 1115.5L641.1 1121.7L640.3 1128.3L639.5 1135.0L638.8 1141.8L638.1 1148.1L637.5 1153.8L637.0 1158.6L636.6 1162.2" stroke-width="1.8459999999999999" />
<path d="M233.3 935.3L233.6 937.0L234.1 939.2L234.6 941.8L235.2 944.8L235.8 948.0L236.5 951.2L237.2 954.5L237.9 957.6L238.6 960.7L239.4 963.9L240.2 967.2L241.1 970.5L241.9 973.9L242.8 977.3L243.6 980.6L244.5 983.9L245.3 987.2L246.1 990.5L246.9 993.8L247.8 997.1L248.6 1000.4L249.4 1003.7L250.2 1007.0L251.1 1010.3L251.9 1013.5L252.7 1016.7L253.5 1019.8L254.3 1023.0L255.1 1026.2L255.9 1029.5L256.8 1033.0L257.6 1036.6L258.5 1040.3L259.4 1044.0L260.4 1047.9L261.3 1051.8L262.2 1055.9L263.1 1060.2L264.0 1064.7L264.9 1069.5L265.7 1074.6L266.5 1080.0L267.3 1085.8L268.0 1091.6L268.8 1097.6L269.5 1103.7L270.1 1109.6L270.8 1115.5L271.4 1121.7L272.1 1128.3L272.7 1135.0L273.3 1141.8L273.8 1148.1L274.3 1153.8L274.7 1158.6L275.0 1162.2" stroke-width="1.8459999999999999" />
<path d="M676.7 935.3L676.4 937.0L675.9 939.2L675.4 941.8L674.8 944.8L674.2 948.0L673.5 951.2L672.8 954.5L672.1 957.6L671.4 960.7L670.6 963.9L669.8 967.2L668.9 970.5L668.1 973.9L667.2 977.3L666.4 980.6L665.5 983.9L664.7 987.2L663.9 990.5L663.1 993.8L662.2 997.1L661.4 1000.4L660.6 1003.7L659.8 1007.0L658.9 1010.3L658.1 1013.5L657.3 1016.7L656.5 1019.8L655.7 1023.0L654.9 1026.2L654.1 1029.5L653.2 1033.0L652.4 1036.6L651.5 1040.3L650.6 1044.0L649.6 1047.9L648.7 1051.8L647.8 1055.9L646.9 1060.2L646.0 1064.7L645.1 1069.5L644.3 1074.6L643.5 1080.0L642.7 1085.8L642.0 1091.6L641.2 1097.6L640.5 1103.7L639.9 1109.6L639.2 1115.5L638.6 1121.7L637.9 1128.3L637.3 1135.0L636.7 1141.8L636.2 1148.1L635.7 1153.8L635.3 1158.6L635.0 1162.2" stroke-width="1.8459999999999999" />
<path d="M226.1 932.0L226.1 931.4L226.1 930.7L226.1 929.8L226.1 928.8L226.1 927.7L226.1 926.7L226.2 925.7L226.3 924.7L226.5 923.8L226.7 922.7L226.9 921.6L227.2 920.5L227.5 919.5L227.8 918.8L228.1 918.3L228.4 918.2L228.8 918.4L229.1 919.1L229.5 920.0L229.9 921.1L230.3 922.4L230.6 923.6L231.0 924.9L231.3 926.1L231.6 927.2L231.9 928.5L232.2 929.8L232.5 931.2L232.7 932.4L233.0 933.6L233.1 934.5L233.3 935.3" stroke-width="1.8459999999999999" />
<path d="M683.9 932.0L683.9 931.4L683.9 930.7L683.9 929.8L683.9 928.8L683.9 927.7L683.9 926.7L683.8 925.7L683.7 924.7L683.5 923.8L683.3 922.7L683.1 921.6L682.8 920.5L682.5 919.5L682.2 918.8L681.9 918.3L681.6 918.2L681.2 918.4L680.9 919.1L680.5 920.0L680.1 921.1L679.7 922.4L679.4 923.6L679.0 924.9L678.7 926.1L678.4 927.2L678.1 928.5L677.8 929.8L677.5 931.2L677.3 932.4L677.0 933.6L676.9 934.5L676.7 935.3" stroke-width="1.8459999999999999" />
<path d="M228.4 918.2L229.2 919.4L230.3 921.0L231.6 922.9L233.0 925.0L234.5 927.2L236.1 929.5L237.7 931.8L239.2 933.9L240.8 936.1L242.6 938.5L244.5 941.0L246.5 943.5L248.3 945.8L249.9 947.9L251.3 949.7L252.4 951.1" stroke-width="2.13" />
<path d="M681.6 918.2L680.8 919.4L679.7 921.0L678.4 922.9L677.0 925.0L675.5 927.2L673.9 929.5L672.3 931.8L670.8 933.9L669.2 936.1L667.4 938.5L665.5 941.0L663.5 943.5L661.7 945.8L660.1 947.9L658.7 949.7L657.6 951.1" stroke-width="2.13" />
<path d="M233.3 935.3L234.1 936.0L235.1 937.0L236.4 938.2L237.7 939.5L239.2 940.9L240.6 942.2L242.0 943.4L243.2 944.5L244.3 945.4L245.5 946.2L246.6 947.0L247.7 947.7L248.8 948.3L249.7 948.9L250.5 949.4L251.1 949.7" stroke-width="1.8459999999999999" />
<path d="M676.7 935.3L675.9 936.0L674.9 937.0L673.6 938.2L672.3 939.5L670.8 940.9L669.4 942.2L668.0 943.4L666.8 944.5L665.7 945.4L664.5 946.2L663.4 947.0L662.3 947.7L661.2 948.3L660.3 948.9L659.5 949.4L658.9 949.7" stroke-width="1.8459999999999999" />
<path d="M272.8 1023.4L272.8 1027.0L272.9 1031.7L272.9 1037.3L273.0 1043.6L273.1 1050.2L273.2 1056.9L273.3 1063.4L273.4 1069.5L273.6 1075.2L273.7 1081.0L273.9 1086.7L274.1 1092.5L274.3 1098.2L274.4 1104.0L274.6 1109.7L274.7 1115.5L274.9 1121.7L275.0 1128.3L275.1 1135.0L275.1 1141.8L275.2 1148.1L275.3 1153.8L275.3 1158.6L275.4 1162.2" stroke-width="2.272" />
<path d="M637.2 1023.4L637.2 1027.0L637.1 1031.7L637.1 1037.3L637.0 1043.6L636.9 1050.2L636.8 1056.9L636.7 1063.4L636.6 1069.5L636.4 1075.2L636.3 1081.0L636.1 1086.7L635.9 1092.5L635.7 1098.2L635.6 1104.0L635.4 1109.7L635.3 1115.5L635.1 1121.7L635.0 1128.3L634.9 1135.0L634.9 1141.8L634.8 1148.1L634.7 1153.8L634.7 1158.6L634.6 1162.2" stroke-width="2.272" />
<path d="M268.8 1003.7L268.8 1006.2L268.8 1009.6L268.8 1013.6L268.8 1018.1L268.8 1022.8L268.8 1027.6L268.8 1032.2L268.8 1036.6L268.8 1040.7L268.8 1044.8L268.8 1048.9L268.8 1053.0L268.9 1057.1L268.9 1061.2L269.0 1065.4L269.1 1069.5L269.2 1073.8L269.4 1078.5L269.7 1083.3L270.0 1088.0L270.2 1092.4L270.4 1096.5L270.6 1099.8L270.8 1102.4" stroke-width="1.9879999999999998" />
<path d="M641.2 1003.7L641.2 1006.2L641.2 1009.6L641.2 1013.6L641.2 1018.1L641.2 1022.8L641.2 1027.6L641.2 1032.2L641.2 1036.6L641.2 1040.7L641.2 1044.8L641.2 1048.9L641.2 1053.0L641.1 1057.1L641.1 1061.2L641.0 1065.4L640.9 1069.5L640.8 1073.8L640.6 1078.5L640.3 1083.3L640.0 1088.0L639.8 1092.4L639.6 1096.5L639.4 1099.8L639.2 1102.4" stroke-width="1.9879999999999998" />
<path d="M270.1 1162.2L275.4 1162.2" stroke-width="2.84" />
<path d="M639.9 1162.2L634.6 1162.2" stroke-width="2.84" />
<path d="M261.6 1069.5L266.4 1069.5" stroke-width="1.704" />
<path d="M648.4 1069.5L643.6 1069.5" stroke-width="1.704" />
<path d="M226.1 932.0L233.3 935.3" stroke-width="1.704" />
<path d="M683.9 932.0L676.7 935.3" stroke-width="1.704" />
<path d="M220.7 928.7L220.9 929.3L221.2 930.1L221.6 931.0L222.0 932.1L222.4 933.3L222.9 934.6L223.4 936.2L224.0 937.9L224.6 939.8L225.3 941.9L226.0 944.2L226.7 946.7L227.5 949.3L228.3 952.0L229.1 954.8L229.9 957.6L230.7 960.6L231.5 963.7L232.3 967.0L233.2 970.4L234.0 973.8L234.8 977.2L235.7 980.6L236.5 983.9L237.3 987.2L238.1 990.5L239.0 993.8L239.8 997.1L240.6 1000.4L241.5 1003.7L242.3 1007.0L243.1 1010.3L243.8 1013.6L244.6 1016.8L245.3 1020.1L246.1 1023.4L246.8 1026.7L247.5 1030.0L248.3 1033.3L249.0 1036.6L249.7 1039.9L250.5 1043.2L251.2 1046.4L252.0 1049.7L252.7 1053.0L253.5 1056.3L254.2 1059.6L254.9 1062.9L255.6 1066.4L256.4 1070.1L257.2 1073.9L257.9 1077.7L258.6 1081.3L259.2 1084.5L259.8 1087.2L260.2 1089.2" stroke-width="1.704" />
<path d="M689.3 928.7L689.1 929.3L688.8 930.1L688.4 931.0L688.0 932.1L687.6 933.3L687.1 934.6L686.6 936.2L686.0 937.9L685.4 939.8L684.7 941.9L684.0 944.2L683.3 946.7L682.5 949.3L681.7 952.0L680.9 954.8L680.1 957.6L679.3 960.6L678.5 963.7L677.7 967.0L676.8 970.4L676.0 973.8L675.2 977.2L674.3 980.6L673.5 983.9L672.7 987.2L671.9 990.5L671.0 993.8L670.2 997.1L669.4 1000.4L668.5 1003.7L667.7 1007.0L666.9 1010.3L666.2 1013.6L665.4 1016.8L664.7 1020.1L663.9 1023.4L663.2 1026.7L662.5 1030.0L661.7 1033.3L661.0 1036.6L660.3 1039.9L659.5 1043.2L658.8 1046.4L658.0 1049.7L657.3 1053.0L656.5 1056.3L655.8 1059.6L655.1 1062.9L654.4 1066.4L653.6 1070.1L652.8 1073.9L652.1 1077.7L651.4 1081.3L650.8 1084.5L650.2 1087.2L649.8 1089.2" stroke-width="1.704" />
<path d="M227.3 941.9L227.7 943.4L228.3 945.3L229.0 947.6L229.8 950.1L230.7 952.9L231.5 955.8L232.4 958.7L233.2 961.6L234.0 964.6L234.8 967.7L235.6 971.0L236.5 974.4L237.3 977.8L238.1 981.2L239.0 984.6L239.8 987.9L240.6 991.2L241.4 994.5L242.3 997.8L243.1 1001.1L243.9 1004.4L244.8 1007.7L245.6 1011.0L246.4 1014.3L247.1 1017.6L247.9 1020.8L248.6 1024.1L249.4 1027.4L250.1 1030.7L250.8 1034.0L251.6 1037.3L252.3 1040.6L253.0 1043.9L253.8 1047.2L254.5 1050.4L255.3 1053.7L256.0 1057.0L256.8 1060.3L257.5 1063.6L258.2 1066.9L258.9 1070.2L259.6 1073.5L260.3 1076.8L260.9 1080.1L261.6 1083.3L262.2 1086.6L262.9 1089.9L263.5 1093.2L264.1 1096.5L264.7 1099.8L265.3 1103.1L265.9 1106.4L266.5 1109.7L267.0 1112.9L267.6 1116.2L268.1 1119.5L268.6 1123.0L269.1 1126.7L269.6 1130.6L270.0 1134.3L270.4 1137.9L270.8 1141.1L271.1 1143.8L271.4 1145.8" stroke-width="1.704" />
<path d="M682.7 941.9L682.3 943.4L681.7 945.3L681.0 947.6L680.2 950.1L679.3 952.9L678.5 955.8L677.6 958.7L676.8 961.6L676.0 964.6L675.2 967.7L674.4 971.0L673.5 974.4L672.7 977.8L671.9 981.2L671.0 984.6L670.2 987.9L669.4 991.2L668.6 994.5L667.7 997.8L666.9 1001.1L666.1 1004.4L665.2 1007.7L664.4 1011.0L663.6 1014.3L662.9 1017.6L662.1 1020.8L661.4 1024.1L660.6 1027.4L659.9 1030.7L659.2 1034.0L658.4 1037.3L657.7 1040.6L657.0 1043.9L656.2 1047.2L655.5 1050.4L654.7 1053.7L654.0 1057.0L653.2 1060.3L652.5 1063.6L651.8 1066.9L651.1 1070.2L650.4 1073.5L649.7 1076.8L649.1 1080.1L648.4 1083.3L647.8 1086.6L647.1 1089.9L646.5 1093.2L645.9 1096.5L645.3 1099.8L644.7 1103.1L644.1 1106.4L643.5 1109.7L643.0 1112.9L642.4 1116.2L641.9 1119.5L641.4 1123.0L640.9 1126.7L640.4 1130.6L640.0 1134.3L639.6 1137.9L639.2 1141.1L638.9 1143.8L638.6 1145.8" stroke-width="1.704" />
<path d="M440.3 917.5L440.3 919.0L440.4 921.0L440.5 923.4L440.6 926.1L440.7 928.9L440.8 931.9L440.9 934.9L441.1 937.9L441.2 940.9L441.3 943.9L441.4 947.0L441.5 950.3L441.6 953.6L441.7 957.0L441.7 960.6L441.8 964.2L441.9 968.0L442.0 971.8L442.1 975.8L442.2 979.8L442.2 984.0L442.3 988.3L442.4 992.6L442.5 997.1L442.6 1001.7L442.7 1006.5L442.8 1011.4L442.9 1016.4L443.0 1021.5L443.1 1026.6L443.2 1031.6L443.3 1036.6L443.4 1041.5L443.5 1046.4L443.6 1051.4L443.8 1056.3L443.9 1061.2L444.0 1066.2L444.1 1071.1L444.2 1076.1L444.3 1080.9L444.4 1085.8L444.5 1090.5L444.6 1095.3L444.7 1100.2L444.8 1105.1L444.9 1110.2L445.0 1115.5L445.1 1121.3L445.2 1127.8L445.2 1134.6L445.3 1141.3L445.4 1147.8L445.4 1153.7L445.5 1158.6L445.5 1162.2" stroke-width="2.556" />
<path d="M469.7 917.5L469.7 919.0L469.6 921.0L469.5 923.4L469.4 926.1L469.3 928.9L469.2 931.9L469.1 934.9L468.9 937.9L468.8 940.9L468.7 943.9L468.6 947.0L468.5 950.3L468.4 953.6L468.3 957.0L468.3 960.6L468.2 964.2L468.1 968.0L468.0 971.8L467.9 975.8L467.8 979.8L467.8 984.0L467.7 988.3L467.6 992.6L467.5 997.1L467.4 1001.7L467.3 1006.5L467.2 1011.4L467.1 1016.4L467.0 1021.5L466.9 1026.6L466.8 1031.6L466.7 1036.6L466.6 1041.5L466.5 1046.4L466.4 1051.4L466.2 1056.3L466.1 1061.2L466.0 1066.2L465.9 1071.1L465.8 1076.1L465.7 1080.9L465.6 1085.8L465.5 1090.5L465.4 1095.3L465.3 1100.2L465.2 1105.1L465.1 1110.2L465.0 1115.5L464.9 1121.3L464.8 1127.8L464.8 1134.6L464.7 1141.3L464.6 1147.8L464.6 1153.7L464.5 1158.6L464.5 1162.2" stroke-width="2.556" />
<path d="M442.9 932.0L443.0 935.0L443.1 938.9L443.2 943.7L443.3 948.9L443.4 954.5L443.6 960.1L443.7 965.6L443.8 970.8L443.9 975.8L444.1 980.9L444.2 986.1L444.3 991.3L444.5 996.4L444.6 1001.3L444.7 1006.0L444.9 1010.3L445.0 1014.1L445.1 1017.6L445.2 1020.8L445.3 1023.8L445.4 1026.8L445.6 1029.8L445.7 1033.1L445.8 1036.6L445.9 1040.4L446.1 1044.3L446.2 1048.4L446.4 1052.6L446.5 1056.8L446.6 1061.1L446.8 1065.3L446.8 1069.5L446.9 1073.6L446.9 1077.7L446.9 1081.8L446.9 1085.9L446.9 1090.0L446.9 1094.1L446.9 1098.3L446.8 1102.4L446.8 1106.5L446.7 1110.7L446.7 1115.0L446.6 1119.2L446.5 1123.4L446.5 1127.5L446.4 1131.4L446.3 1135.3L446.2 1139.1L446.2 1143.1L446.1 1147.0L446.0 1150.8L445.9 1154.4L445.9 1157.5L445.8 1160.2L445.8 1162.2" stroke-width="1.8459999999999999" />
<path d="M467.1 932.0L467.0 935.0L466.9 938.9L466.8 943.7L466.7 948.9L466.6 954.5L466.4 960.1L466.3 965.6L466.2 970.8L466.1 975.8L465.9 980.9L465.8 986.1L465.7 991.3L465.5 996.4L465.4 1001.3L465.3 1006.0L465.1 1010.3L465.0 1014.1L464.9 1017.6L464.8 1020.8L464.7 1023.8L464.6 1026.8L464.4 1029.8L464.3 1033.1L464.2 1036.6L464.1 1040.4L463.9 1044.3L463.8 1048.4L463.6 1052.6L463.5 1056.8L463.4 1061.1L463.2 1065.3L463.2 1069.5L463.1 1073.6L463.1 1077.7L463.1 1081.8L463.1 1085.9L463.1 1090.0L463.1 1094.1L463.1 1098.3L463.2 1102.4L463.2 1106.5L463.3 1110.7L463.3 1115.0L463.4 1119.2L463.5 1123.4L463.5 1127.5L463.6 1131.4L463.7 1135.3L463.8 1139.1L463.8 1143.1L463.9 1147.0L464.0 1150.8L464.1 1154.4L464.1 1157.5L464.2 1160.2L464.2 1162.2" stroke-width="1.8459999999999999" />
<path d="M447.1 932.0L447.2 935.0L447.2 938.9L447.3 943.7L447.4 948.9L447.5 954.5L447.7 960.1L447.8 965.6L447.9 970.8L448.0 975.8L448.1 980.9L448.3 986.1L448.4 991.3L448.6 996.4L448.7 1001.3L448.8 1006.0L448.9 1010.3L449.1 1014.1L449.2 1017.6L449.3 1020.8L449.4 1023.8L449.5 1026.8L449.6 1029.8L449.8 1033.1L449.9 1036.6L450.0 1040.5L450.1 1044.6L450.3 1049.0L450.4 1053.4L450.6 1057.8L450.7 1062.0L450.7 1065.9L450.8 1069.5L450.8 1072.5L450.8 1075.0L450.7 1077.3L450.6 1079.3L450.5 1081.4L450.4 1083.7L450.3 1086.2L450.1 1089.2L450.0 1092.6L449.9 1096.3L449.7 1100.3L449.6 1104.4L449.4 1108.7L449.2 1113.1L449.0 1117.6L448.8 1122.1L448.6 1127.0L448.3 1132.6L448.0 1138.4L447.7 1144.2L447.5 1149.8L447.2 1154.9L447.0 1159.1L446.8 1162.2" stroke-width="1.8459999999999999" />
<path d="M462.9 932.0L462.8 935.0L462.8 938.9L462.7 943.7L462.6 948.9L462.5 954.5L462.3 960.1L462.2 965.6L462.1 970.8L462.0 975.8L461.9 980.9L461.7 986.1L461.6 991.3L461.4 996.4L461.3 1001.3L461.2 1006.0L461.1 1010.3L460.9 1014.1L460.8 1017.6L460.7 1020.8L460.6 1023.8L460.5 1026.8L460.4 1029.8L460.2 1033.1L460.1 1036.6L460.0 1040.5L459.9 1044.6L459.7 1049.0L459.6 1053.4L459.4 1057.8L459.3 1062.0L459.3 1065.9L459.2 1069.5L459.2 1072.5L459.2 1075.0L459.3 1077.3L459.4 1079.3L459.5 1081.4L459.6 1083.7L459.7 1086.2L459.9 1089.2L460.0 1092.6L460.1 1096.3L460.3 1100.3L460.4 1104.4L460.6 1108.7L460.8 1113.1L461.0 1117.6L461.2 1122.1L461.4 1127.0L461.7 1132.6L462.0 1138.4L462.3 1144.2L462.5 1149.8L462.8 1154.9L463.0 1159.1L463.2 1162.2" stroke-width="1.8459999999999999" />
<path d="M440.8 932.0L440.8 931.4L440.8 930.7L440.8 929.8L440.8 928.8L440.8 927.7L440.8 926.7L440.9 925.7L441.1 924.7L441.3 923.8L441.5 922.7L441.8 921.6L442.1 920.6L442.5 919.6L442.9 918.9L443.2 918.3L443.6 918.2L443.9 918.3L444.3 918.9L444.7 919.6L445.0 920.6L445.4 921.6L445.8 922.7L446.1 923.8L446.3 924.7L446.5 925.7L446.7 926.7L446.8 927.7L446.9 928.8L447.0 929.8L447.0 930.7L447.1 931.4L447.1 932.0" stroke-width="1.8459999999999999" />
<path d="M469.2 932.0L469.2 931.4L469.2 930.7L469.2 929.8L469.2 928.8L469.2 927.7L469.2 926.7L469.1 925.7L468.9 924.7L468.7 923.8L468.5 922.7L468.2 921.6L467.9 920.6L467.5 919.6L467.1 918.9L466.8 918.3L466.4 918.2L466.1 918.3L465.7 918.9L465.3 919.6L465.0 920.6L464.6 921.6L464.2 922.7L463.9 923.8L463.7 924.7L463.5 925.7L463.3 926.7L463.2 927.7L463.1 928.8L463.0 929.8L463.0 930.7L462.9 931.4L462.9 932.0" stroke-width="1.8459999999999999" />
<path d="M442.9 932.0L447.1 932.0" stroke-width="1.704" />
<path d="M467.1 932.0L462.9 932.0" stroke-width="1.704" />
<path d="M446.8 1069.5L450.8 1069.5" stroke-width="1.704" />
<path d="M463.2 1069.5L459.2 1069.5" stroke-width="1.704" />
<path d="M445.4 1162.2L455.0 1162.2L464.6 1162.2" stroke-width="2.84" />
<path d="M266.7 1162.0L267.6 1199.5" stroke-width="1.68" />
<path d="M643.3 1162.0L642.4 1199.5" stroke-width="1.68" />
<path d="M267.6 1199.5L269.8 1321.0L270.3 1323.8L271.1 1326.3L272.4 1328.4L273.9 1330.1L275.9 1331.5L278.2 1332.5L280.9 1333.1L284.0 1333.4" stroke-width="2.0999999999999996" />
<path d="M642.4 1199.5L640.2 1321.0L639.7 1323.8L638.9 1326.3L637.6 1328.4L636.0 1330.1L634.1 1331.5L631.8 1332.5L629.1 1333.1L626.0 1333.4" stroke-width="2.0999999999999996" />
<path d="M269.7 1201.0L271.7 1319.0L272.2 1321.6L273.0 1323.9L274.2 1325.9L275.7 1327.5L277.5 1328.9L279.7 1330.0L282.2 1330.7L285.0 1331.2" stroke-width="1.68" />
<path d="M640.3 1201.0L638.3 1319.0L637.8 1321.6L637.0 1323.9L635.8 1325.9L634.3 1327.5L632.5 1328.9L630.3 1330.0L627.8 1330.7L625.0 1331.2" stroke-width="1.68" />
<path d="M411.8 1310.0L413.7 1213.6L414.2 1206.6L416.2 1201.1L419.2 1199.6L442.2 1199.6L445.2 1201.1L447.2 1206.6L447.7 1213.6L449.5 1310.0" stroke-width="2.0999999999999996" />
<path d="M498.2 1310.0L496.3 1213.6L495.8 1206.6L493.8 1201.1L490.8 1199.6L467.8 1199.6L464.8 1201.1L462.8 1206.6L462.3 1213.6L460.5 1310.0" stroke-width="2.0999999999999996" />
<path d="M415.8 1310.0L417.7 1213.6L418.2 1207.6L420.2 1203.8L441.2 1203.8L443.2 1207.6L443.7 1213.6L445.5 1310.0" stroke-width="1.54" />
<path d="M494.2 1310.0L492.3 1213.6L491.8 1207.6L489.8 1203.8L468.8 1203.8L466.8 1207.6L466.3 1213.6L464.5 1310.0" stroke-width="1.54" />
<path d="M418.7 1201.8L442.7 1201.8" stroke-width="1.4" />
<path d="M491.3 1201.8L467.3 1201.8" stroke-width="1.4" />
<path d="M421.7 1203.8L420.7 1310.0" stroke-width="1.54" />
<path d="M488.3 1203.8L489.3 1310.0" stroke-width="1.54" />
<path d="M426.7 1203.8L425.7 1310.0" stroke-width="1.54" />
<path d="M483.3 1203.8L484.3 1310.0" stroke-width="1.54" />
<path d="M363.9 1310.0L367.9 1213.6L368.4 1206.6L370.4 1201.1L373.4 1199.6L394.1 1199.6L397.1 1201.1L399.1 1206.6L399.6 1213.6L404.6 1310.0" stroke-width="2.0999999999999996" />
<path d="M546.1 1310.0L542.1 1213.6L541.6 1206.6L539.6 1201.1L536.6 1199.6L515.9 1199.6L512.9 1201.1L510.9 1206.6L510.4 1213.6L505.4 1310.0" stroke-width="2.0999999999999996" />
<path d="M367.9 1310.0L371.9 1213.6L372.4 1207.6L374.4 1203.8L393.1 1203.8L395.1 1207.6L395.6 1213.6L400.6 1310.0" stroke-width="1.54" />
<path d="M542.1 1310.0L538.1 1213.6L537.6 1207.6L535.6 1203.8L516.9 1203.8L514.9 1207.6L514.4 1213.6L509.4 1310.0" stroke-width="1.54" />
<path d="M372.9 1201.8L394.6 1201.8" stroke-width="1.4" />
<path d="M537.1 1201.8L515.4 1201.8" stroke-width="1.4" />
<path d="M386.7 1203.8L387.7 1310.0" stroke-width="1.54" />
<path d="M523.3 1203.8L522.3 1310.0" stroke-width="1.54" />
<path d="M391.7 1203.8L392.7 1310.0" stroke-width="1.54" />
<path d="M518.3 1203.8L517.3 1310.0" stroke-width="1.54" />
<path d="M323.3 1310.0L327.9 1213.6L328.4 1206.6L330.4 1201.1L333.4 1199.6L349.8 1199.6L352.8 1201.1L354.8 1206.6L355.3 1213.6L361.2 1310.0" stroke-width="2.0999999999999996" />
<path d="M586.7 1310.0L582.1 1213.6L581.6 1206.6L579.6 1201.1L576.6 1199.6L560.2 1199.6L557.2 1201.1L555.2 1206.6L554.7 1213.6L548.8 1310.0" stroke-width="2.0999999999999996" />
<path d="M327.3 1310.0L331.9 1213.6L332.4 1207.6L334.4 1203.8L348.8 1203.8L350.8 1207.6L351.3 1213.6L357.2 1310.0" stroke-width="1.54" />
<path d="M582.7 1310.0L578.1 1213.6L577.6 1207.6L575.6 1203.8L561.2 1203.8L559.2 1207.6L558.7 1213.6L552.8 1310.0" stroke-width="1.54" />
<path d="M332.9 1201.8L350.3 1201.8" stroke-width="1.4" />
<path d="M577.1 1201.8L559.7 1201.8" stroke-width="1.4" />
<path d="M339.6 1203.8L338.6 1310.0" stroke-width="1.54" />
<path d="M570.4 1203.8L571.4 1310.0" stroke-width="1.54" />
<path d="M343.6 1203.8L344.6 1310.0" stroke-width="1.54" />
<path d="M566.4 1203.8L565.4 1310.0" stroke-width="1.54" />
<path d="M297.1 1206.6L297.2 1205.0L297.3 1203.5L297.5 1202.3L297.9 1201.3L298.3 1200.6L298.8 1200.0L299.4 1199.7L300.1 1199.6L314.3 1199.6L315.1 1199.7L315.7 1200.0L316.2 1200.6L316.6 1201.3L316.9 1202.3L317.2 1203.5L317.3 1205.0L317.3 1206.6" stroke-width="2.0999999999999996" />
<path d="M612.9 1206.6L612.8 1205.0L612.7 1203.5L612.5 1202.3L612.1 1201.3L611.7 1200.6L611.2 1200.0L610.6 1199.7L609.9 1199.6L595.7 1199.6L594.9 1199.7L594.3 1200.0L593.8 1200.6L593.4 1201.3L593.1 1202.3L592.8 1203.5L592.7 1205.0L592.7 1206.6" stroke-width="2.0999999999999996" />
<path d="M297.1 1206.6L298.3 1321.0L298.8 1323.6L299.6 1325.9L300.7 1327.8L302.2 1329.5L303.9 1330.8L306.0 1331.9L308.4 1332.6L311.1 1333.0" stroke-width="1.9599999999999997" />
<path d="M612.9 1206.6L611.7 1321.0L611.2 1323.6L610.4 1325.9L609.3 1327.8L607.8 1329.5L606.1 1330.8L604.0 1331.9L601.6 1332.6L598.9 1333.0" stroke-width="1.9599999999999997" />
<path d="M300.3 1207.6L301.7 1320.0L302.2 1322.2L302.9 1324.2L304.0 1326.0L305.3 1327.5L306.8 1328.8L308.6 1329.8L310.7 1330.5L313.1 1331.0" stroke-width="1.54" />
<path d="M609.7 1207.6L608.3 1320.0L607.8 1322.2L607.1 1324.2L606.0 1326.0L604.7 1327.5L603.2 1328.8L601.4 1329.8L599.3 1330.5L596.9 1331.0" stroke-width="1.54" />
<path d="M317.3 1206.6L320.8 1315.0" stroke-width="1.9599999999999997" />
<path d="M592.7 1206.6L589.2 1315.0" stroke-width="1.9599999999999997" />
<path d="M314.1 1207.6L317.8 1313.0" stroke-width="1.54" />
<path d="M595.9 1207.6L592.2 1313.0" stroke-width="1.54" />
<path d="M300.6 1203.8L313.8 1203.8" stroke-width="1.4" />
<path d="M609.4 1203.8L596.2 1203.8" stroke-width="1.4" />
<path d="M276.6 1206.6L276.6 1205.0L276.7 1203.5L277.0 1202.3L277.3 1201.3L277.7 1200.6L278.2 1200.0L278.9 1199.7L279.6 1199.6L286.3 1199.6L287.0 1199.7L287.6 1200.0L288.1 1200.6L288.5 1201.3L288.9 1202.3L289.1 1203.5L289.2 1205.0L289.3 1206.6" stroke-width="2.0999999999999996" />
<path d="M633.4 1206.6L633.4 1205.0L633.3 1203.5L633.0 1202.3L632.7 1201.3L632.3 1200.6L631.8 1200.0L631.1 1199.7L630.4 1199.6L623.7 1199.6L623.0 1199.7L622.4 1200.0L621.9 1200.6L621.5 1201.3L621.1 1202.3L620.9 1203.5L620.8 1205.0L620.7 1206.6" stroke-width="2.0999999999999996" />
<path d="M276.6 1206.6L277.8 1321.0L278.2 1323.6L279.0 1325.9L280.2 1327.8L281.6 1329.5L283.4 1330.8L285.4 1331.9L287.8 1332.6L290.6 1333.0" stroke-width="1.9599999999999997" />
<path d="M633.4 1206.6L632.2 1321.0L631.8 1323.6L631.0 1325.9L629.8 1327.8L628.4 1329.5L626.6 1330.8L624.6 1331.9L622.2 1332.6L619.4 1333.0" stroke-width="1.9599999999999997" />
<path d="M279.8 1207.6L281.2 1320.0L281.6 1322.2L282.4 1324.2L283.4 1326.0L284.7 1327.5L286.3 1328.8L288.1 1329.8L290.2 1330.5L292.6 1331.0" stroke-width="1.54" />
<path d="M630.2 1207.6L628.8 1320.0L628.4 1322.2L627.6 1324.2L626.6 1326.0L625.3 1327.5L623.7 1328.8L621.9 1329.8L619.8 1330.5L617.4 1331.0" stroke-width="1.54" />
<path d="M289.3 1206.6L292.8 1315.0" stroke-width="1.9599999999999997" />
<path d="M620.7 1206.6L617.2 1315.0" stroke-width="1.9599999999999997" />
<path d="M286.1 1207.6L289.8 1313.0" stroke-width="1.54" />
<path d="M623.9 1207.6L620.2 1313.0" stroke-width="1.54" />
<path d="M280.1 1203.8L285.8 1203.8" stroke-width="1.4" />
<path d="M629.9 1203.8L624.2 1203.8" stroke-width="1.4" />
<path d="M268.4 1206.6L268.4 1205.0L268.6 1203.5L268.8 1202.3L269.1 1201.3L269.6 1200.6L270.1 1200.0L270.7 1199.7L271.4 1199.6L269.5 1199.6L270.2 1199.7L270.8 1200.0L271.3 1200.6L271.8 1201.3L272.1 1202.3L272.3 1203.5L272.5 1205.0L272.5 1206.6" stroke-width="2.0999999999999996" />
<path d="M641.6 1206.6L641.6 1205.0L641.4 1203.5L641.2 1202.3L640.9 1201.3L640.4 1200.6L639.9 1200.0L639.3 1199.7L638.6 1199.6L640.5 1199.6L639.8 1199.7L639.2 1200.0L638.7 1200.6L638.2 1201.3L637.9 1202.3L637.7 1203.5L637.5 1205.0L637.5 1206.6" stroke-width="2.0999999999999996" />
<path d="M268.4 1206.6L269.6 1321.0L270.1 1323.6L270.9 1325.9L272.0 1327.8L273.4 1329.5L275.2 1330.8L277.3 1331.9L279.7 1332.6L282.4 1333.0" stroke-width="1.9599999999999997" />
<path d="M641.6 1206.6L640.4 1321.0L639.9 1323.6L639.1 1325.9L638.0 1327.8L636.5 1329.5L634.8 1330.8L632.7 1331.9L630.3 1332.6L627.6 1333.0" stroke-width="1.9599999999999997" />
<path d="M271.6 1207.6L273.0 1320.0L273.5 1322.2L274.2 1324.2L275.3 1326.0L276.5 1327.5L278.1 1328.8L279.9 1329.8L282.0 1330.5L284.4 1331.0" stroke-width="1.54" />
<path d="M638.4 1207.6L637.0 1320.0L636.5 1322.2L635.8 1324.2L634.7 1326.0L633.5 1327.5L631.9 1328.8L630.1 1329.8L628.0 1330.5L625.6 1331.0" stroke-width="1.54" />
<path d="M319.5 1296.0L319.7 1299.1L320.2 1301.8L320.8 1304.1L321.6 1306.0L322.7 1307.6L323.9 1308.8L325.4 1309.6L327.0 1310.0L355.0 1310.0L405.0 1310.0L455.0 1310.0" stroke-width="2.2399999999999998" />
<path d="M590.5 1296.0L590.3 1299.1L589.8 1301.8L589.2 1304.1L588.4 1306.0L587.3 1307.6L586.1 1308.8L584.6 1309.6L583.0 1310.0L555.0 1310.0L505.0 1310.0L455.0 1310.0" stroke-width="2.2399999999999998" />
<path d="M322.2 1304.0L322.7 1306.5L323.4 1308.6L324.3 1310.5L325.3 1311.9L326.5 1313.1L327.8 1313.9L329.3 1314.4L331.0 1314.6L355.0 1314.6L405.0 1314.6L455.0 1314.6" stroke-width="2.0999999999999996" />
<path d="M587.8 1304.0L587.3 1306.5L586.6 1308.6L585.7 1310.5L584.7 1311.9L583.5 1313.1L582.2 1313.9L580.7 1314.4L579.0 1314.6L555.0 1314.6L505.0 1314.6L455.0 1314.6" stroke-width="2.0999999999999996" />
<path d="M283.0 1333.4L295.0 1333.4L307.0 1333.4L319.0 1333.4L331.0 1333.4L343.0 1333.4L355.0 1333.4L367.0 1333.4L379.0 1333.4L391.0 1333.4L403.0 1333.4L415.0 1333.4L427.0 1333.4L439.0 1333.4L451.0 1333.4L463.0 1333.4L475.0 1333.4L487.0 1333.4L499.0 1333.4L511.0 1333.4L523.0 1333.4L535.0 1333.4L547.0 1333.4L559.0 1333.4L571.0 1333.4L583.0 1333.4L595.0 1333.4L607.0 1333.4L619.0 1333.4L627.0 1333.4" stroke-width="2.52" />
<path d="M284.0 1331.2L296.0 1331.2L308.0 1331.2L320.0 1331.2L332.0 1331.2L344.0 1331.2L356.0 1331.2L368.0 1331.2L380.0 1331.2L392.0 1331.2L404.0 1331.2L416.0 1331.2L428.0 1331.2L440.0 1331.2L452.0 1331.2L464.0 1331.2L476.0 1331.2L488.0 1331.2L500.0 1331.2L512.0 1331.2L524.0 1331.2L536.0 1331.2L548.0 1331.2L560.0 1331.2L572.0 1331.2L584.0 1331.2L596.0 1331.2L608.0 1331.2L620.0 1331.2L626.0 1331.2" stroke-width="1.68" />
<path d="M410.0 1314.6L412.5 1333.0" stroke-width="1.68" />
<path d="M414.5 1314.6L415.5 1333.0" stroke-width="1.68" />
<path d="M500.5 1314.6L498.0 1333.0" stroke-width="1.68" />
<path d="M503.0 1314.6L501.5 1333.0" stroke-width="1.68" />
<path d="M627.0 1333.4L773.0 1333.4" stroke-width="1.8" />
<path d="M455.0 825.0L455.0 1397.0" stroke-width="1.8" stroke-dasharray="7.5 4.2"/>
<path d="M455.0 854.0L528.0 854.0" stroke-width="1.7" />
<path d="M455.0 854.0L491.3 847.6L491.3 860.8Z" stroke-width="1.6" />
<path d="M455.0 1368.5L528.0 1368.5" stroke-width="1.7" />
<path d="M455.0 1368.5L491.3 1362.1L491.3 1375.3Z" stroke-width="1.6" />
<g class="t"><text transform="translate(500.2 832.2) scale(0.5 1)" font-size="57.4" text-anchor="middle">A</text></g>
<g class="t"><text transform="translate(499.8 1423.3) scale(0.5 1)" font-size="57.4" text-anchor="middle">A</text></g>
<path d="M247.0 771.0L247.0 875.0" stroke-width="1.6" />
<path d="M663.0 771.0L663.0 875.0" stroke-width="1.6" />
<path d="M247.0 775.5L414.7 775.5" stroke-width="1.7" />
<path d="M495.6 775.5L663.0 775.5" stroke-width="1.7" />
<g transform="translate(455.6 775.5) rotate(0)" class="t" ><g transform="translate(-32.2 0.3)" class="l"><circle r="4.6" stroke-width="1.1"/><path d="M-5.6 6.3L5.6 -6.3" stroke-width="1.1"/></g><text transform="translate(-19.4 9.5) scale(0.78 1)" font-size="28.7" text-anchor="middle">6</text><text transform="translate(-6.5 9.5) scale(0.78 1)" font-size="28.7" text-anchor="middle">2</text><text transform="translate(3.6 9.5) scale(0.78 1)" font-size="28.7" text-anchor="middle">.</text><text transform="translate(19.4 9.5) scale(0.78 1)" font-size="28.7" text-anchor="middle">0</text><text transform="translate(32.2 9.5) scale(0.78 1)" font-size="28.7" text-anchor="middle">0</text></g>
<circle cx="393.8" cy="755.4" r="13.8" stroke-width="1.4" />
<g transform="translate(393.8 755.4) rotate(0)" class="t"><text transform="translate(0 8.9) scale(0.68 1)" font-size="27" text-anchor="middle">B</text></g>
<path d="M663.0 875.0L773.0 875.0" stroke-width="1.7" />
<path d="M695.5 888.7L734.0 888.7" stroke-width="1.7" />
<path d="M728.7 858.8L728.7 875.0" stroke-width="1.5" />
<path d="M728.7 888.7L728.7 904.8" stroke-width="1.5" />
<g transform="translate(729.4 932.5) rotate(-90)" class="t" ><text transform="translate(-19.5 9.5) scale(0.78 1)" font-size="28.7" text-anchor="middle">2</text><text transform="translate(-9.4 9.5) scale(0.78 1)" font-size="28.7" text-anchor="middle">.</text><text transform="translate(6.5 9.5) scale(0.78 1)" font-size="28.7" text-anchor="middle">0</text><text transform="translate(19.5 9.5) scale(0.78 1)" font-size="28.7" text-anchor="middle">0</text></g>
<circle cx="730.6" cy="982.3" r="13.8" stroke-width="1.4" />
<g transform="translate(730.6 982.3) rotate(0)" class="t"><text transform="translate(0 8.9) scale(0.68 1)" font-size="27" text-anchor="middle">C</text></g>
<path d="M767.7 876.0L767.7 1071.0" stroke-width="1.6" />
<path d="M767.7 1137.5L767.7 1333.0" stroke-width="1.6" />
<g transform="translate(768.5 1104.3) rotate(-90)" class="t" ><text transform="translate(-26.0 9.5) scale(0.78 1)" font-size="28.7" text-anchor="middle">6</text><text transform="translate(-13.0 9.5) scale(0.78 1)" font-size="28.7" text-anchor="middle">8</text><text transform="translate(-2.9 9.5) scale(0.78 1)" font-size="28.7" text-anchor="middle">.</text><text transform="translate(13.0 9.5) scale(0.78 1)" font-size="28.7" text-anchor="middle">5</text><text transform="translate(26.0 9.5) scale(0.78 1)" font-size="28.7" text-anchor="middle">0</text></g>
<circle cx="804.0" cy="1107.2" r="13.8" stroke-width="1.4" />
<g transform="translate(804.0 1107.2) rotate(0)" class="t"><text transform="translate(0 8.9) scale(0.68 1)" font-size="27" text-anchor="middle">D</text></g>
<clipPath id="hc"><path d="M1177.0 875.2L1212.0 875.2L1220.6 1173.0L1222.2 1176.4L1226.2 1183.0L1228.2 1187.5L1231.6 1216.3L1243.3 1216.3L1242.1 1240.2L1239.5 1243.3L1230.4 1243.3L1224.0 1310.5L1222.5 1313.4L1207.0 1313.4L1202.5 1311.5L1200.2 1307.0L1199.9 1302.3L1199.0 1260.0L1197.8 1215.8L1197.0 1190.0L1195.9 1156.9L1194.5 1130.0L1192.0 1100.9L1188.2 1075.0L1183.5 1048.6L1178.8 1025.0L1173.0 1001.0L1166.5 978.0L1158.8 954.5L1151.0 936.0L1143.6 918.4L1143.6 892.0L1144.4 889.8L1146.5 889.0L1166.4 889.0L1166.4 915.6L1177.0 915.6ZM1593.0 875.2L1558.0 875.2L1549.4 1173.0L1547.8 1176.4L1543.8 1183.0L1541.8 1187.5L1538.4 1216.3L1526.7 1216.3L1527.9 1240.2L1530.5 1243.3L1539.6 1243.3L1546.0 1310.5L1547.5 1313.4L1563.0 1313.4L1567.5 1311.5L1569.8 1307.0L1570.1 1302.3L1571.0 1260.0L1572.2 1215.8L1573.0 1190.0L1574.1 1156.9L1575.5 1130.0L1578.0 1100.9L1581.8 1075.0L1586.5 1048.6L1591.2 1025.0L1597.0 1001.0L1603.5 978.0L1611.2 954.5L1619.0 936.0L1626.4 918.4L1626.4 892.0L1625.6 889.8L1623.5 889.0L1603.6 889.0L1603.6 915.6L1593.0 915.6ZM1296.7 1090.0L1292.7 1216.0L1291.3 1218.0L1293.2 1240.2L1294.8 1243.3L1304.2 1243.3L1311.2 1311.7L1311.2 1313.4L1330.0 1313.4L1332.3 1331.6L1332.3 1332.8L1344.0 1332.8L1346.9 1300.0L1423.1 1300.0L1426.0 1332.8L1437.7 1332.8L1437.7 1331.6L1440.0 1313.4L1458.8 1313.4L1458.8 1311.7L1465.8 1243.3L1475.2 1243.3L1476.8 1240.2L1478.7 1218.0L1477.3 1216.0L1473.3 1090.0Z"/></clipPath>
<path d="M591.3 1400L1141.3 850M651.6 1400L1201.6 850M711.9 1400L1261.9 850M772.2 1400L1322.2 850M832.5 1400L1382.5 850M892.8 1400L1442.8 850M953.1 1400L1503.1 850M1013.4 1400L1563.4 850M1073.7 1400L1623.7 850M1134.0 1400L1684.0 850M1194.3 1400L1744.3 850M1254.6 1400L1804.6 850M1314.9 1400L1864.9 850M1375.2 1400L1925.2 850M1435.5 1400L1985.5 850M1495.8 1400L2045.8 850M1556.1 1400L2106.1 850" stroke-width="1.7" clip-path="url(#hc)"/>
<path d="M1177.0 875.2L1212.0 875.2L1220.6 1173.0L1222.2 1176.4L1226.2 1183.0L1228.2 1187.5L1231.6 1216.3L1243.3 1216.3L1242.1 1240.2L1239.5 1243.3L1230.4 1243.3L1224.0 1310.5L1222.5 1313.4L1207.0 1313.4L1202.5 1311.5L1200.2 1307.0L1199.9 1302.3L1199.0 1260.0L1197.8 1215.8L1197.0 1190.0L1195.9 1156.9L1194.5 1130.0L1192.0 1100.9L1188.2 1075.0L1183.5 1048.6L1178.8 1025.0L1173.0 1001.0L1166.5 978.0L1158.8 954.5L1151.0 936.0L1143.6 918.4L1143.6 892.0L1144.4 889.8L1146.5 889.0L1166.4 889.0L1166.4 915.6L1177.0 915.6Z" stroke-width="1.8" />
<path d="M1593.0 875.2L1558.0 875.2L1549.4 1173.0L1547.8 1176.4L1543.8 1183.0L1541.8 1187.5L1538.4 1216.3L1526.7 1216.3L1527.9 1240.2L1530.5 1243.3L1539.6 1243.3L1546.0 1310.5L1547.5 1313.4L1563.0 1313.4L1567.5 1311.5L1569.8 1307.0L1570.1 1302.3L1571.0 1260.0L1572.2 1215.8L1573.0 1190.0L1574.1 1156.9L1575.5 1130.0L1578.0 1100.9L1581.8 1075.0L1586.5 1048.6L1591.2 1025.0L1597.0 1001.0L1603.5 978.0L1611.2 954.5L1619.0 936.0L1626.4 918.4L1626.4 892.0L1625.6 889.8L1623.5 889.0L1603.6 889.0L1603.6 915.6L1593.0 915.6Z" stroke-width="1.8" />
<path d="M1296.7 1090.0L1292.7 1216.0L1291.3 1218.0L1293.2 1240.2L1294.8 1243.3L1304.2 1243.3L1311.2 1311.7L1311.2 1313.4L1330.0 1313.4L1332.3 1331.6L1332.3 1332.8L1344.0 1332.8L1346.9 1300.0L1423.1 1300.0L1426.0 1332.8L1437.7 1332.8L1437.7 1331.6L1440.0 1313.4L1458.8 1313.4L1458.8 1311.7L1465.8 1243.3L1475.2 1243.3L1476.8 1240.2L1478.7 1218.0L1477.3 1216.0L1473.3 1090.0Z" stroke-width="1.8" />
<path d="M1166.4 889.0L1177.0 889.0" stroke-width="1.6" />
<path d="M1603.6 889.0L1593.0 889.0" stroke-width="1.6" />
<path d="M1210.0 876.0L1559.0 876.0" stroke-width="3.2" />
<path d="M1293.7 1090.0L1287.6 1216.0" stroke-width="1.4" />
<path d="M1476.3 1090.0L1482.4 1216.0" stroke-width="1.4" />
<path d="M1293.7 1090.0L1296.7 1090.0" stroke-width="1.4" />
<path d="M1476.3 1090.0L1473.3 1090.0" stroke-width="1.4" />
<path d="M1222.5 1177.0L1289.6 1177.0" stroke-width="1.8" />
<path d="M1226.2 1183.0L1289.3 1183.0" stroke-width="1.5" />
<path d="M1228.4 1188.7L1289.0 1188.7" stroke-width="1.5" />
<path d="M1231.6 1216.3L1292.7 1216.3" stroke-width="1.8" />
<path d="M1242.1 1240.2L1293.2 1240.2" stroke-width="1.4" />
<path d="M1239.5 1243.3L1294.8 1243.3" stroke-width="1.4" />
<path d="M1224.3 1310.5L1311.1 1310.5" stroke-width="1.4" />
<path d="M1222.5 1313.4L1311.2 1313.4" stroke-width="1.6" />
<path d="M1287.8 1313.4L1287.8 1324Q1288.2 1332.4 1296.0 1332.8" stroke-width="1.6" />
<path d="M1290.2 1313.4L1290.2 1323Q1290.6 1330.2 1297.5 1330.5L1331.8 1330.5" stroke-width="1.2" />
<path d="M1547.5 1177.0L1480.4 1177.0" stroke-width="1.8" />
<path d="M1543.8 1183.0L1480.7 1183.0" stroke-width="1.5" />
<path d="M1541.6 1188.7L1481.0 1188.7" stroke-width="1.5" />
<path d="M1538.4 1216.3L1477.3 1216.3" stroke-width="1.8" />
<path d="M1527.9 1240.2L1476.8 1240.2" stroke-width="1.4" />
<path d="M1530.5 1243.3L1475.2 1243.3" stroke-width="1.4" />
<path d="M1545.7 1310.5L1458.9 1310.5" stroke-width="1.4" />
<path d="M1547.5 1313.4L1458.8 1313.4" stroke-width="1.6" />
<path d="M1482.2 1313.4L1482.2 1324Q1481.8 1332.4 1474.0 1332.8" stroke-width="1.6" />
<path d="M1479.8 1313.4L1479.8 1323Q1479.4 1330.2 1472.5 1330.5L1438.2 1330.5" stroke-width="1.2" />
<path d="M1294.8 1332.8L1592.0 1332.8" stroke-width="1.8" />
<path d="M1086.6 875.2L1174.0 875.2" stroke-width="1.6" />
<path d="M1086.6 1215.9L1228.0 1215.9" stroke-width="1.6" />
<path d="M1091.4 876.5L1091.4 1012.5" stroke-width="1.6" />
<path d="M1091.4 1080.0L1091.4 1215.0" stroke-width="1.6" />
<g transform="translate(1092.0 1046.2) rotate(-90)" class="t" ><text transform="translate(-26.0 9.5) scale(0.78 1)" font-size="28.7" text-anchor="middle">5</text><text transform="translate(-13.0 9.5) scale(0.78 1)" font-size="28.7" text-anchor="middle">1</text><text transform="translate(-2.9 9.5) scale(0.78 1)" font-size="28.7" text-anchor="middle">.</text><text transform="translate(13.0 9.5) scale(0.78 1)" font-size="28.7" text-anchor="middle">0</text><text transform="translate(26.0 9.5) scale(0.78 1)" font-size="28.7" text-anchor="middle">0</text></g>
<circle cx="1059.0" cy="1049.0" r="13.8" stroke-width="1.4" />
<g transform="translate(1059.0 1049.0) rotate(0)" class="t"><text transform="translate(0 8.9) scale(0.68 1)" font-size="27" text-anchor="middle">E</text></g>
<path d="M1594.9 876.2L1691.3 876.2" stroke-width="1.6" />
<path d="M1544.6 1183.2L1691.3 1183.2" stroke-width="1.6" />
<path d="M1686.9 877.0L1686.9 996.5" stroke-width="1.6" />
<path d="M1686.9 1063.0L1686.9 1182.5" stroke-width="1.6" />
<g transform="translate(1686.9 1029.8) rotate(-90)" class="t" ><text transform="translate(-26.0 9.5) scale(0.78 1)" font-size="28.7" text-anchor="middle">4</text><text transform="translate(-13.0 9.5) scale(0.78 1)" font-size="28.7" text-anchor="middle">6</text><text transform="translate(-2.9 9.5) scale(0.78 1)" font-size="28.7" text-anchor="middle">.</text><text transform="translate(13.0 9.5) scale(0.78 1)" font-size="28.7" text-anchor="middle">0</text><text transform="translate(26.0 9.5) scale(0.78 1)" font-size="28.7" text-anchor="middle">0</text></g>
<circle cx="1722.0" cy="1030.8" r="13.8" stroke-width="1.4" />
<g transform="translate(1722.0 1030.8) rotate(0)" class="t"><text transform="translate(0 8.9) scale(0.68 1)" font-size="27" text-anchor="middle">G</text></g>
<path d="M1591.9 915.4L1658.1 915.4" stroke-width="1.6" />
<path d="M1654.3 877.0L1654.0 923.5" stroke-width="1.5" />
<g transform="translate(1654.5 951.5) rotate(-90)" class="t" ><text transform="translate(-19.5 9.5) scale(0.78 1)" font-size="28.7" text-anchor="middle">6</text><text transform="translate(-9.4 9.5) scale(0.78 1)" font-size="28.7" text-anchor="middle">.</text><text transform="translate(6.5 9.5) scale(0.78 1)" font-size="28.7" text-anchor="middle">0</text><text transform="translate(19.5 9.5) scale(0.78 1)" font-size="28.7" text-anchor="middle">0</text></g>
<circle cx="1654.1" cy="857.0" r="13.8" stroke-width="1.4" />
<g transform="translate(1654.1 857.0) rotate(0)" class="t"><text transform="translate(0 8.9) scale(0.68 1)" font-size="27" text-anchor="middle">F</text></g>
<path d="M1539.8 1243.6L1616.6 1243.6" stroke-width="1.6" />
<path d="M1572.0 1313.4L1616.6 1313.4" stroke-width="1.6" />
<path d="M1610.5 1227.0L1610.5 1243.0" stroke-width="1.5" />
<path d="M1610.5 1313.4L1610.5 1329.0" stroke-width="1.5" />
<g transform="translate(1611.5 1279.0) rotate(-90)" class="t" ><text transform="translate(-24.4 9.5) scale(0.78 1)" font-size="28.7" text-anchor="middle">1</text><text transform="translate(-12.2 9.5) scale(0.78 1)" font-size="28.7" text-anchor="middle">0</text><text transform="translate(-2.7 9.5) scale(0.78 1)" font-size="28.7" text-anchor="middle">.</text><text transform="translate(12.2 9.5) scale(0.78 1)" font-size="28.7" text-anchor="middle">5</text><text transform="translate(24.4 9.5) scale(0.78 1)" font-size="28.7" text-anchor="middle">0</text></g>
<circle cx="1641.0" cy="1280.0" r="13.8" stroke-width="1.4" />
<g transform="translate(1641.0 1280.0) rotate(0)" class="t"><text transform="translate(0 8.9) scale(0.68 1)" font-size="27" text-anchor="middle">H</text></g>
<path d="M1586.6 1296.5L1586.6 1312.0" stroke-width="1.5" />
<path d="M1586.6 1333.0L1586.6 1351.5" stroke-width="1.5" />
<g transform="translate(1587.3 1378.0) rotate(-90)" class="t" ><text transform="translate(-19.5 9.5) scale(0.78 1)" font-size="28.7" text-anchor="middle">3</text><text transform="translate(-9.4 9.5) scale(0.78 1)" font-size="28.7" text-anchor="middle">.</text><text transform="translate(6.5 9.5) scale(0.78 1)" font-size="28.7" text-anchor="middle">0</text><text transform="translate(19.5 9.5) scale(0.78 1)" font-size="28.7" text-anchor="middle">0</text></g>
<circle cx="1588.0" cy="1422.7" r="13.8" stroke-width="1.4" />
<g transform="translate(1588.0 1422.7) rotate(0)" class="t"><text transform="translate(0 8.9) scale(0.68 1)" font-size="27" text-anchor="middle">I</text></g>
<g class="t"><text transform="translate(1425.5 1410.5) scale(0.5 1)" font-size="55.5" text-anchor="middle">A</text></g>
<g class="t"><text transform="translate(1467.7 1410.5) scale(0.5 1)" font-size="55.5" text-anchor="middle">A</text></g>
<path d="M1438.0 1390.2L1455.5 1390.2" stroke-width="2.2" />
<path d="M442.6 1539.0L467.0 1539.0L505.2 1544.0L528.7 1550.3L564.3 1565.1L585.3 1577.2L615.9 1600.7L633.1 1617.9L656.6 1648.5L668.7 1669.5L683.5 1705.1L689.8 1728.6L694.8 1766.8L694.8 1791.2L689.8 1829.4L683.5 1852.9L668.7 1888.5L656.6 1909.5L633.1 1940.1L615.9 1957.3L585.3 1980.8L564.3 1992.9L528.7 2007.7L505.2 2014.0L467.0 2019.0L442.6 2019.0L404.4 2014.0L380.9 2007.7L345.3 1992.9L324.3 1980.8L293.7 1957.3L276.5 1940.1L253.0 1909.5L240.9 1888.5L226.1 1852.9L219.8 1829.4L214.8 1791.2L214.8 1766.8L219.8 1728.6L226.1 1705.1L240.9 1669.5L253.0 1648.5L276.5 1617.9L293.7 1600.7L324.3 1577.2L345.3 1565.1L380.9 1550.3L404.4 1544.0Z" stroke-width="2.0" />
<path d="M439.4 1539.5L441.7 1585.3L442.0 1586.6L442.8 1587.7L444.0 1588.4L445.3 1588.6L446.6 1588.3L447.7 1587.5L448.4 1586.3L448.6 1585.0L446.4 1539.1" stroke-width="1.6" />
<path d="M440.9 1539.4L443.1 1583.9L443.3 1584.7L443.7 1585.3L444.4 1585.7L445.2 1585.8L445.9 1585.6L446.6 1585.2L447.0 1584.5L447.1 1583.7L444.9 1539.2" stroke-width="1.2" />
<path d="M443.1 1543.3L444.6 1573.3" stroke-width="1.6" />
<path d="M444.7 1576.3L445.1 1583.2" stroke-width="1.0" />
<path d="M463.2 1539.1L461.0 1585.0L461.2 1586.3L461.9 1587.5L463.0 1588.3L464.3 1588.6L465.6 1588.4L466.8 1587.7L467.6 1586.6L467.9 1585.3L470.2 1539.5" stroke-width="1.6" />
<path d="M464.7 1539.2L462.5 1583.7L462.6 1584.5L463.0 1585.2L463.7 1585.6L464.4 1585.8L465.2 1585.7L465.9 1585.3L466.3 1584.7L466.5 1583.9L468.7 1539.4" stroke-width="1.2" />
<path d="M466.5 1543.3L465.0 1573.3" stroke-width="1.6" />
<path d="M464.9 1576.3L464.5 1583.2" stroke-width="1.0" />
<path d="M468.2 1580.2L493.3 1583.6" stroke-width="1.6" />
<path d="M467.7 1587.8L491.9 1591.0" stroke-width="1.6" />
<path d="M443.7 1592.0L454.8 1591.7L465.9 1592.0" stroke-width="1.5" />
<path d="M444.1 1599.7L454.8 1599.4L465.5 1599.7" stroke-width="1.5" />
<path d="M442.8 1587.9L443.5 1599.8" stroke-width="1.1" />
<path d="M466.8 1587.9L466.1 1599.8" stroke-width="1.1" />
<path d="M501.9 1543.6L492.2 1588.5L492.2 1589.9L492.7 1591.1L493.7 1592.1L494.9 1592.7L496.3 1592.7L497.6 1592.2L498.5 1591.2L499.1 1590.0L508.7 1545.1" stroke-width="1.6" />
<path d="M503.4 1544.0L494.0 1587.6L494.0 1588.3L494.2 1589.1L494.8 1589.6L495.5 1589.9L496.3 1589.9L497.0 1589.7L497.6 1589.1L497.9 1588.4L507.3 1544.8" stroke-width="1.2" />
<path d="M504.5 1548.3L498.2 1577.6" stroke-width="1.6" />
<path d="M497.5 1580.5L496.1 1587.4" stroke-width="1.0" />
<path d="M525.0 1549.5L511.0 1593.2L510.8 1594.5L511.2 1595.8L512.0 1596.9L513.2 1597.6L514.6 1597.7L515.9 1597.4L517.0 1596.5L517.6 1595.3L531.7 1551.6" stroke-width="1.6" />
<path d="M526.5 1549.9L512.8 1592.4L512.7 1593.2L512.9 1593.9L513.4 1594.5L514.1 1594.9L514.9 1595.0L515.6 1594.8L516.2 1594.3L516.6 1593.6L530.3 1551.2" stroke-width="1.2" />
<path d="M527.1 1554.4L517.9 1582.9" stroke-width="1.6" />
<path d="M517.0 1585.8L514.9 1592.4" stroke-width="1.0" />
<path d="M519.2 1590.5L542.6 1600.2" stroke-width="1.6" />
<path d="M516.7 1597.7L539.2 1607.0" stroke-width="1.6" />
<path d="M492.5 1595.5L503.3 1598.1L513.9 1601.3" stroke-width="1.5" />
<path d="M490.9 1603.1L501.3 1605.5L511.5 1608.6" stroke-width="1.5" />
<path d="M492.7 1591.3L490.3 1602.9" stroke-width="1.1" />
<path d="M515.9 1597.5L512.1 1608.8" stroke-width="1.1" />
<path d="M561.2 1563.8L540.3 1604.7L539.9 1606.0L540.0 1607.4L540.7 1608.6L541.8 1609.4L543.1 1609.8L544.4 1609.6L545.6 1609.0L546.5 1607.9L567.4 1567.0" stroke-width="1.6" />
<path d="M562.5 1564.5L542.2 1604.2L542.0 1605.0L542.1 1605.7L542.4 1606.4L543.1 1606.9L543.8 1607.1L544.6 1607.0L545.3 1606.7L545.7 1606.0L566.1 1566.4" stroke-width="1.2" />
<path d="M562.5 1569.0L548.8 1595.7" stroke-width="1.6" />
<path d="M547.4 1598.4L544.2 1604.6" stroke-width="1.0" />
<path d="M582.0 1575.5L557.1 1614.0L556.6 1615.3L556.7 1616.7L557.2 1617.9L558.2 1618.9L559.5 1619.4L560.8 1619.4L562.1 1618.8L563.0 1617.8L587.9 1579.3" stroke-width="1.6" />
<path d="M583.3 1576.3L559.1 1613.8L558.8 1614.5L558.8 1615.3L559.1 1616.0L559.7 1616.5L560.4 1616.8L561.2 1616.8L561.9 1616.5L562.5 1615.9L586.7 1578.5" stroke-width="1.2" />
<path d="M582.8 1580.7L566.5 1605.9" stroke-width="1.6" />
<path d="M564.9 1608.5L561.1 1614.3" stroke-width="1.0" />
<path d="M565.8 1613.6L585.9 1629.0" stroke-width="1.6" />
<path d="M561.5 1619.9L580.9 1634.7" stroke-width="1.6" />
<path d="M538.7 1611.5L548.5 1616.8L557.9 1622.6" stroke-width="1.5" />
<path d="M535.2 1618.4L544.6 1623.5L553.7 1629.1" stroke-width="1.5" />
<path d="M539.9 1607.5L534.7 1618.1" stroke-width="1.1" />
<path d="M560.8 1619.5L554.2 1629.4" stroke-width="1.1" />
<path d="M613.3 1598.7L582.5 1632.7L581.8 1633.9L581.6 1635.3L581.9 1636.6L582.7 1637.7L583.9 1638.4L585.2 1638.6L586.6 1638.3L587.7 1637.4L618.5 1603.4" stroke-width="1.6" />
<path d="M614.4 1599.7L584.4 1632.8L584.0 1633.5L583.9 1634.2L584.1 1635.0L584.6 1635.6L585.3 1636.0L586.0 1636.1L586.8 1635.9L587.4 1635.5L617.3 1602.4" stroke-width="1.2" />
<path d="M613.2 1604.0L593.0 1626.3" stroke-width="1.6" />
<path d="M591.0 1628.5L586.3 1633.7" stroke-width="1.0" />
<path d="M630.4 1615.3L596.4 1646.1L595.5 1647.2L595.2 1648.6L595.4 1649.9L596.1 1651.1L597.2 1651.9L598.5 1652.2L599.9 1652.0L601.1 1651.3L635.1 1620.5" stroke-width="1.6" />
<path d="M631.4 1616.5L598.3 1646.4L597.9 1647.0L597.7 1647.8L597.8 1648.5L598.2 1649.2L598.8 1649.7L599.6 1649.9L600.3 1649.8L601.0 1649.4L634.1 1619.4" stroke-width="1.2" />
<path d="M629.8 1620.6L607.5 1640.8" stroke-width="1.6" />
<path d="M605.3 1642.8L600.1 1647.5" stroke-width="1.0" />
<path d="M604.8 1647.9L620.2 1668.0" stroke-width="1.6" />
<path d="M599.1 1652.9L613.9 1672.3" stroke-width="1.6" />
<path d="M579.2 1638.9L587.2 1646.6L594.9 1654.6" stroke-width="1.5" />
<path d="M574.0 1644.7L581.8 1652.0L589.1 1659.8" stroke-width="1.5" />
<path d="M581.4 1635.4L573.6 1644.3" stroke-width="1.1" />
<path d="M598.4 1652.4L589.5 1660.2" stroke-width="1.1" />
<path d="M654.5 1645.9L616.0 1670.8L615.0 1671.7L614.4 1673.0L614.4 1674.3L614.9 1675.6L615.9 1676.6L617.1 1677.1L618.5 1677.2L619.8 1676.7L658.3 1651.8" stroke-width="1.6" />
<path d="M655.3 1647.1L617.9 1671.3L617.3 1671.9L617.0 1672.6L617.0 1673.4L617.3 1674.1L617.8 1674.7L618.5 1675.0L619.3 1675.0L620.0 1674.7L657.5 1650.5" stroke-width="1.2" />
<path d="M653.1 1651.0L627.9 1667.3" stroke-width="1.6" />
<path d="M625.3 1668.9L619.5 1672.7" stroke-width="1.0" />
<path d="M666.8 1666.4L625.9 1687.3L624.8 1688.2L624.2 1689.4L624.0 1690.7L624.4 1692.0L625.2 1693.1L626.4 1693.8L627.8 1693.9L629.1 1693.5L670.0 1672.6" stroke-width="1.6" />
<path d="M667.4 1667.7L627.8 1688.1L627.1 1688.5L626.8 1689.2L626.7 1690.0L626.9 1690.7L627.4 1691.4L628.1 1691.7L628.8 1691.8L629.6 1691.6L669.3 1671.3" stroke-width="1.2" />
<path d="M664.8 1671.3L638.1 1685.0" stroke-width="1.6" />
<path d="M635.4 1686.4L629.2 1689.6" stroke-width="1.0" />
<path d="M633.6 1691.2L643.3 1714.6" stroke-width="1.6" />
<path d="M626.8 1694.6L636.1 1717.1" stroke-width="1.6" />
<path d="M611.2 1675.9L617.0 1685.3L622.3 1695.1" stroke-width="1.5" />
<path d="M604.7 1680.1L610.3 1689.2L615.4 1698.6" stroke-width="1.5" />
<path d="M614.3 1673.0L604.4 1679.6" stroke-width="1.1" />
<path d="M626.3 1693.9L615.7 1699.1" stroke-width="1.1" />
<path d="M682.2 1702.1L638.5 1716.2L637.3 1716.8L636.4 1717.9L636.1 1719.2L636.2 1720.6L636.9 1721.8L638.0 1722.6L639.3 1723.0L640.6 1722.8L684.3 1708.8" stroke-width="1.6" />
<path d="M682.6 1703.5L640.2 1717.2L639.5 1717.6L639.0 1718.2L638.8 1718.9L638.9 1719.7L639.3 1720.4L639.9 1720.9L640.6 1721.1L641.4 1721.0L683.9 1707.3" stroke-width="1.2" />
<path d="M679.4 1706.7L650.9 1715.9" stroke-width="1.6" />
<path d="M648.0 1716.8L641.4 1718.9" stroke-width="1.0" />
<path d="M688.7 1725.1L643.8 1734.7L642.6 1735.3L641.6 1736.2L641.1 1737.5L641.1 1738.9L641.7 1740.1L642.7 1741.1L643.9 1741.6L645.3 1741.6L690.2 1731.9" stroke-width="1.6" />
<path d="M689.0 1726.5L645.4 1735.9L644.7 1736.2L644.1 1736.8L643.9 1737.5L643.9 1738.3L644.2 1739.0L644.7 1739.6L645.5 1739.8L646.2 1739.8L689.8 1730.4" stroke-width="1.2" />
<path d="M685.5 1729.3L656.2 1735.6" stroke-width="1.6" />
<path d="M653.3 1736.3L646.4 1737.7" stroke-width="1.0" />
<path d="M650.2 1740.5L653.6 1765.6" stroke-width="1.6" />
<path d="M642.8 1741.9L646.0 1766.1" stroke-width="1.6" />
<path d="M632.5 1719.9L635.7 1730.5L638.3 1741.3" stroke-width="1.5" />
<path d="M625.2 1722.3L628.3 1732.5L630.7 1742.9" stroke-width="1.5" />
<path d="M636.3 1717.9L625.0 1721.7" stroke-width="1.1" />
<path d="M642.5 1741.1L630.9 1743.5" stroke-width="1.1" />
<path d="M694.3 1763.6L648.5 1765.9L647.2 1766.2L646.1 1767.0L645.4 1768.2L645.2 1769.5L645.5 1770.8L646.3 1771.9L647.5 1772.6L648.8 1772.8L694.7 1770.6" stroke-width="1.6" />
<path d="M694.4 1765.1L649.9 1767.3L649.1 1767.5L648.5 1767.9L648.1 1768.6L648.0 1769.4L648.2 1770.1L648.6 1770.8L649.3 1771.2L650.1 1771.3L694.6 1769.1" stroke-width="1.2" />
<path d="M690.5 1767.3L660.5 1768.8" stroke-width="1.6" />
<path d="M657.5 1768.9L650.6 1769.3" stroke-width="1.0" />
<path d="M694.7 1787.4L648.8 1785.2L647.5 1785.4L646.3 1786.1L645.5 1787.2L645.2 1788.5L645.4 1789.8L646.1 1791.0L647.2 1791.8L648.5 1792.1L694.3 1794.4" stroke-width="1.6" />
<path d="M694.6 1788.9L650.1 1786.7L649.3 1786.8L648.6 1787.2L648.2 1787.9L648.0 1788.6L648.1 1789.4L648.5 1790.1L649.1 1790.5L649.9 1790.7L694.4 1792.9" stroke-width="1.2" />
<path d="M690.5 1790.7L660.5 1789.2" stroke-width="1.6" />
<path d="M657.5 1789.1L650.6 1788.7" stroke-width="1.0" />
<path d="M653.6 1792.4L650.2 1817.5" stroke-width="1.6" />
<path d="M646.0 1791.9L642.8 1816.1" stroke-width="1.6" />
<path d="M641.8 1767.9L642.1 1779.0L641.8 1790.1" stroke-width="1.5" />
<path d="M634.1 1768.3L634.4 1779.0L634.1 1789.7" stroke-width="1.5" />
<path d="M645.9 1767.0L634.0 1767.7" stroke-width="1.1" />
<path d="M645.9 1791.0L634.0 1790.3" stroke-width="1.1" />
<path d="M690.2 1826.1L645.3 1816.4L643.9 1816.4L642.7 1816.9L641.7 1817.9L641.1 1819.1L641.1 1820.5L641.6 1821.8L642.6 1822.7L643.8 1823.3L688.7 1832.9" stroke-width="1.6" />
<path d="M689.8 1827.6L646.2 1818.2L645.5 1818.2L644.7 1818.4L644.2 1819.0L643.9 1819.7L643.9 1820.5L644.1 1821.2L644.7 1821.8L645.4 1822.1L689.0 1831.5" stroke-width="1.2" />
<path d="M685.5 1828.7L656.2 1822.4" stroke-width="1.6" />
<path d="M653.3 1821.7L646.4 1820.3" stroke-width="1.0" />
<path d="M684.3 1849.2L640.6 1835.2L639.3 1835.0L638.0 1835.4L636.9 1836.2L636.2 1837.4L636.1 1838.8L636.4 1840.1L637.3 1841.2L638.5 1841.8L682.2 1855.9" stroke-width="1.6" />
<path d="M683.9 1850.7L641.4 1837.0L640.6 1836.9L639.9 1837.1L639.3 1837.6L638.9 1838.3L638.8 1839.1L639.0 1839.8L639.5 1840.4L640.2 1840.8L682.6 1854.5" stroke-width="1.2" />
<path d="M679.4 1851.3L650.9 1842.1" stroke-width="1.6" />
<path d="M648.0 1841.2L641.4 1839.1" stroke-width="1.0" />
<path d="M643.3 1843.4L633.6 1866.8" stroke-width="1.6" />
<path d="M636.1 1840.9L626.8 1863.4" stroke-width="1.6" />
<path d="M638.3 1816.7L635.7 1827.5L632.5 1838.1" stroke-width="1.5" />
<path d="M630.7 1815.1L628.3 1825.5L625.2 1835.7" stroke-width="1.5" />
<path d="M642.5 1816.9L630.9 1814.5" stroke-width="1.1" />
<path d="M636.3 1840.1L625.0 1836.3" stroke-width="1.1" />
<path d="M670.0 1885.4L629.1 1864.5L627.8 1864.1L626.4 1864.2L625.2 1864.9L624.4 1866.0L624.0 1867.3L624.2 1868.6L624.8 1869.8L625.9 1870.7L666.8 1891.6" stroke-width="1.6" />
<path d="M669.3 1886.7L629.6 1866.4L628.8 1866.2L628.1 1866.3L627.4 1866.6L626.9 1867.3L626.7 1868.0L626.8 1868.8L627.1 1869.5L627.8 1869.9L667.4 1890.3" stroke-width="1.2" />
<path d="M664.8 1886.7L638.1 1873.0" stroke-width="1.6" />
<path d="M635.4 1871.6L629.2 1868.4" stroke-width="1.0" />
<path d="M658.3 1906.2L619.8 1881.3L618.5 1880.8L617.1 1880.9L615.9 1881.4L614.9 1882.4L614.4 1883.7L614.4 1885.0L615.0 1886.3L616.0 1887.2L654.5 1912.1" stroke-width="1.6" />
<path d="M657.5 1907.5L620.0 1883.3L619.3 1883.0L618.5 1883.0L617.8 1883.3L617.3 1883.9L617.0 1884.6L617.0 1885.4L617.3 1886.1L617.9 1886.7L655.3 1910.9" stroke-width="1.2" />
<path d="M653.1 1907.0L627.9 1890.7" stroke-width="1.6" />
<path d="M625.3 1889.1L619.5 1885.3" stroke-width="1.0" />
<path d="M620.2 1890.0L604.8 1910.1" stroke-width="1.6" />
<path d="M613.9 1885.7L599.1 1905.1" stroke-width="1.6" />
<path d="M622.3 1862.9L617.0 1872.6L611.2 1882.1" stroke-width="1.5" />
<path d="M615.4 1859.4L610.3 1868.8L604.7 1877.9" stroke-width="1.5" />
<path d="M626.3 1864.1L615.7 1858.9" stroke-width="1.1" />
<path d="M614.3 1885.0L604.4 1878.4" stroke-width="1.1" />
<path d="M635.1 1937.5L601.1 1906.7L599.9 1906.0L598.5 1905.8L597.2 1906.1L596.1 1906.9L595.4 1908.1L595.2 1909.4L595.5 1910.8L596.4 1911.9L630.4 1942.7" stroke-width="1.6" />
<path d="M634.1 1938.6L601.0 1908.6L600.3 1908.2L599.6 1908.1L598.8 1908.3L598.2 1908.8L597.8 1909.5L597.7 1910.2L597.9 1911.0L598.3 1911.6L631.4 1941.5" stroke-width="1.2" />
<path d="M629.8 1937.4L607.5 1917.2" stroke-width="1.6" />
<path d="M605.3 1915.2L600.1 1910.5" stroke-width="1.0" />
<path d="M618.5 1954.6L587.7 1920.6L586.6 1919.7L585.2 1919.4L583.9 1919.6L582.7 1920.3L581.9 1921.4L581.6 1922.7L581.8 1924.1L582.5 1925.3L613.3 1959.3" stroke-width="1.6" />
<path d="M617.3 1955.6L587.4 1922.5L586.8 1922.1L586.0 1921.9L585.3 1922.0L584.6 1922.4L584.1 1923.0L583.9 1923.8L584.0 1924.5L584.4 1925.2L614.4 1958.3" stroke-width="1.2" />
<path d="M613.2 1954.0L593.0 1931.7" stroke-width="1.6" />
<path d="M591.0 1929.5L586.3 1924.3" stroke-width="1.0" />
<path d="M585.9 1929.0L565.8 1944.4" stroke-width="1.6" />
<path d="M580.9 1923.3L561.5 1938.1" stroke-width="1.6" />
<path d="M594.9 1903.4L587.2 1911.4L579.2 1919.1" stroke-width="1.5" />
<path d="M589.1 1898.2L581.8 1906.0L574.0 1913.3" stroke-width="1.5" />
<path d="M598.4 1905.6L589.5 1897.8" stroke-width="1.1" />
<path d="M581.4 1922.6L573.6 1913.7" stroke-width="1.1" />
<path d="M587.9 1978.7L563.0 1940.2L562.1 1939.2L560.8 1938.6L559.5 1938.6L558.2 1939.1L557.2 1940.1L556.7 1941.3L556.6 1942.7L557.1 1944.0L582.0 1982.5" stroke-width="1.6" />
<path d="M586.7 1979.5L562.5 1942.1L561.9 1941.5L561.2 1941.2L560.4 1941.2L559.7 1941.5L559.1 1942.0L558.8 1942.7L558.8 1943.5L559.1 1944.2L583.3 1981.7" stroke-width="1.2" />
<path d="M582.8 1977.3L566.5 1952.1" stroke-width="1.6" />
<path d="M564.9 1949.5L561.1 1943.7" stroke-width="1.0" />
<path d="M567.4 1991.0L546.5 1950.1L545.6 1949.0L544.4 1948.4L543.1 1948.2L541.8 1948.6L540.7 1949.4L540.0 1950.6L539.9 1952.0L540.3 1953.3L561.2 1994.2" stroke-width="1.6" />
<path d="M566.1 1991.6L545.7 1952.0L545.3 1951.3L544.6 1951.0L543.8 1950.9L543.1 1951.1L542.4 1951.6L542.1 1952.3L542.0 1953.0L542.2 1953.8L562.5 1993.5" stroke-width="1.2" />
<path d="M562.5 1989.0L548.8 1962.3" stroke-width="1.6" />
<path d="M547.4 1959.6L544.2 1953.4" stroke-width="1.0" />
<path d="M542.6 1957.8L519.2 1967.5" stroke-width="1.6" />
<path d="M539.2 1951.0L516.7 1960.3" stroke-width="1.6" />
<path d="M557.9 1935.4L548.5 1941.2L538.7 1946.5" stroke-width="1.5" />
<path d="M553.7 1928.9L544.6 1934.5L535.2 1939.6" stroke-width="1.5" />
<path d="M560.8 1938.5L554.2 1928.6" stroke-width="1.1" />
<path d="M539.9 1950.5L534.7 1939.9" stroke-width="1.1" />
<path d="M531.7 2006.4L517.6 1962.7L517.0 1961.5L515.9 1960.6L514.6 1960.3L513.2 1960.4L512.0 1961.1L511.2 1962.2L510.8 1963.5L511.0 1964.8L525.0 2008.5" stroke-width="1.6" />
<path d="M530.3 2006.8L516.6 1964.4L516.2 1963.7L515.6 1963.2L514.9 1963.0L514.1 1963.1L513.4 1963.5L512.9 1964.1L512.7 1964.8L512.8 1965.6L526.5 2008.1" stroke-width="1.2" />
<path d="M527.1 2003.6L517.9 1975.1" stroke-width="1.6" />
<path d="M517.0 1972.2L514.9 1965.6" stroke-width="1.0" />
<path d="M508.7 2012.9L499.1 1968.0L498.5 1966.8L497.6 1965.8L496.3 1965.3L494.9 1965.3L493.7 1965.9L492.7 1966.9L492.2 1968.1L492.2 1969.5L501.9 2014.4" stroke-width="1.6" />
<path d="M507.3 2013.2L497.9 1969.6L497.6 1968.9L497.0 1968.3L496.3 1968.1L495.5 1968.1L494.8 1968.4L494.2 1968.9L494.0 1969.7L494.0 1970.4L503.4 2014.0" stroke-width="1.2" />
<path d="M504.5 2009.7L498.2 1980.4" stroke-width="1.6" />
<path d="M497.5 1977.5L496.1 1970.6" stroke-width="1.0" />
<path d="M493.3 1974.4L468.2 1977.8" stroke-width="1.6" />
<path d="M491.9 1967.0L467.7 1970.2" stroke-width="1.6" />
<path d="M513.9 1956.7L503.3 1959.9L492.5 1962.5" stroke-width="1.5" />
<path d="M511.5 1949.4L501.3 1952.5L490.9 1954.9" stroke-width="1.5" />
<path d="M515.9 1960.5L512.1 1949.2" stroke-width="1.1" />
<path d="M492.7 1966.7L490.3 1955.1" stroke-width="1.1" />
<path d="M470.2 2018.5L467.9 1972.7L467.6 1971.4L466.8 1970.3L465.6 1969.6L464.3 1969.4L463.0 1969.7L461.9 1970.5L461.2 1971.7L461.0 1973.0L463.2 2018.9" stroke-width="1.6" />
<path d="M468.7 2018.6L466.5 1974.1L466.3 1973.3L465.9 1972.7L465.2 1972.3L464.4 1972.2L463.7 1972.4L463.0 1972.8L462.6 1973.5L462.5 1974.3L464.7 2018.8" stroke-width="1.2" />
<path d="M466.5 2014.7L465.0 1984.7" stroke-width="1.6" />
<path d="M464.9 1981.7L464.5 1974.8" stroke-width="1.0" />
<path d="M446.4 2018.9L448.6 1973.0L448.4 1971.7L447.7 1970.5L446.6 1969.7L445.3 1969.4L444.0 1969.6L442.8 1970.3L442.0 1971.4L441.7 1972.7L439.4 2018.5" stroke-width="1.6" />
<path d="M444.9 2018.8L447.1 1974.3L447.0 1973.5L446.6 1972.8L445.9 1972.4L445.2 1972.2L444.4 1972.3L443.7 1972.7L443.3 1973.3L443.1 1974.1L440.9 2018.6" stroke-width="1.2" />
<path d="M443.1 2014.7L444.6 1984.7" stroke-width="1.6" />
<path d="M444.7 1981.7L445.1 1974.8" stroke-width="1.0" />
<path d="M441.4 1977.8L416.3 1974.4" stroke-width="1.6" />
<path d="M441.9 1970.2L417.7 1967.0" stroke-width="1.6" />
<path d="M465.9 1966.0L454.8 1966.3L443.7 1966.0" stroke-width="1.5" />
<path d="M465.5 1958.3L454.8 1958.6L444.1 1958.3" stroke-width="1.5" />
<path d="M466.8 1970.1L466.1 1958.2" stroke-width="1.1" />
<path d="M442.8 1970.1L443.5 1958.2" stroke-width="1.1" />
<path d="M407.7 2014.4L417.4 1969.5L417.4 1968.1L416.9 1966.9L415.9 1965.9L414.7 1965.3L413.3 1965.3L412.0 1965.8L411.1 1966.8L410.5 1968.0L400.9 2012.9" stroke-width="1.6" />
<path d="M406.2 2014.0L415.6 1970.4L415.6 1969.7L415.4 1968.9L414.8 1968.4L414.1 1968.1L413.3 1968.1L412.6 1968.3L412.0 1968.9L411.7 1969.6L402.3 2013.2" stroke-width="1.2" />
<path d="M405.1 2009.7L411.4 1980.4" stroke-width="1.6" />
<path d="M412.1 1977.5L413.5 1970.6" stroke-width="1.0" />
<path d="M384.6 2008.5L398.6 1964.8L398.8 1963.5L398.4 1962.2L397.6 1961.1L396.4 1960.4L395.0 1960.3L393.7 1960.6L392.6 1961.5L392.0 1962.7L377.9 2006.4" stroke-width="1.6" />
<path d="M383.1 2008.1L396.8 1965.6L396.9 1964.8L396.7 1964.1L396.2 1963.5L395.5 1963.1L394.7 1963.0L394.0 1963.2L393.4 1963.7L393.0 1964.4L379.3 2006.8" stroke-width="1.2" />
<path d="M382.5 2003.6L391.7 1975.1" stroke-width="1.6" />
<path d="M392.6 1972.2L394.7 1965.6" stroke-width="1.0" />
<path d="M390.4 1967.5L367.0 1957.8" stroke-width="1.6" />
<path d="M392.9 1960.3L370.4 1951.0" stroke-width="1.6" />
<path d="M417.1 1962.5L406.3 1959.9L395.7 1956.7" stroke-width="1.5" />
<path d="M418.7 1954.9L408.3 1952.5L398.1 1949.4" stroke-width="1.5" />
<path d="M416.9 1966.7L419.3 1955.1" stroke-width="1.1" />
<path d="M393.7 1960.5L397.5 1949.2" stroke-width="1.1" />
<path d="M348.4 1994.2L369.3 1953.3L369.7 1952.0L369.6 1950.6L368.9 1949.4L367.8 1948.6L366.5 1948.2L365.2 1948.4L364.0 1949.0L363.1 1950.1L342.2 1991.0" stroke-width="1.6" />
<path d="M347.1 1993.5L367.4 1953.8L367.6 1953.0L367.5 1952.3L367.2 1951.6L366.5 1951.1L365.8 1950.9L365.0 1951.0L364.3 1951.3L363.9 1952.0L343.5 1991.6" stroke-width="1.2" />
<path d="M347.1 1989.0L360.8 1962.3" stroke-width="1.6" />
<path d="M362.2 1959.6L365.4 1953.4" stroke-width="1.0" />
<path d="M327.6 1982.5L352.5 1944.0L353.0 1942.7L352.9 1941.3L352.4 1940.1L351.4 1939.1L350.1 1938.6L348.8 1938.6L347.5 1939.2L346.6 1940.2L321.7 1978.7" stroke-width="1.6" />
<path d="M326.3 1981.7L350.5 1944.2L350.8 1943.5L350.8 1942.7L350.5 1942.0L349.9 1941.5L349.2 1941.2L348.4 1941.2L347.7 1941.5L347.1 1942.1L322.9 1979.5" stroke-width="1.2" />
<path d="M326.8 1977.3L343.1 1952.1" stroke-width="1.6" />
<path d="M344.7 1949.5L348.5 1943.7" stroke-width="1.0" />
<path d="M343.8 1944.4L323.7 1929.0" stroke-width="1.6" />
<path d="M348.1 1938.1L328.7 1923.3" stroke-width="1.6" />
<path d="M370.9 1946.5L361.1 1941.2L351.7 1935.4" stroke-width="1.5" />
<path d="M374.4 1939.6L365.0 1934.5L355.9 1928.9" stroke-width="1.5" />
<path d="M369.7 1950.5L374.9 1939.9" stroke-width="1.1" />
<path d="M348.8 1938.5L355.4 1928.6" stroke-width="1.1" />
<path d="M296.3 1959.3L327.1 1925.3L327.8 1924.1L328.0 1922.7L327.7 1921.4L326.9 1920.3L325.7 1919.6L324.4 1919.4L323.0 1919.7L321.9 1920.6L291.1 1954.6" stroke-width="1.6" />
<path d="M295.2 1958.3L325.2 1925.2L325.6 1924.5L325.7 1923.8L325.5 1923.0L325.0 1922.4L324.3 1922.0L323.6 1921.9L322.8 1922.1L322.2 1922.5L292.3 1955.6" stroke-width="1.2" />
<path d="M296.4 1954.0L316.6 1931.7" stroke-width="1.6" />
<path d="M318.6 1929.5L323.3 1924.3" stroke-width="1.0" />
<path d="M279.2 1942.7L313.2 1911.9L314.1 1910.8L314.4 1909.4L314.2 1908.1L313.5 1906.9L312.4 1906.1L311.1 1905.8L309.7 1906.0L308.5 1906.7L274.5 1937.5" stroke-width="1.6" />
<path d="M278.2 1941.5L311.3 1911.6L311.7 1911.0L311.9 1910.2L311.8 1909.5L311.4 1908.8L310.8 1908.3L310.0 1908.1L309.3 1908.2L308.6 1908.6L275.5 1938.6" stroke-width="1.2" />
<path d="M279.8 1937.4L302.1 1917.2" stroke-width="1.6" />
<path d="M304.3 1915.2L309.5 1910.5" stroke-width="1.0" />
<path d="M304.8 1910.1L289.4 1890.0" stroke-width="1.6" />
<path d="M310.5 1905.1L295.7 1885.7" stroke-width="1.6" />
<path d="M330.4 1919.1L322.4 1911.4L314.7 1903.4" stroke-width="1.5" />
<path d="M335.6 1913.3L327.8 1906.0L320.5 1898.2" stroke-width="1.5" />
<path d="M328.2 1922.6L336.0 1913.7" stroke-width="1.1" />
<path d="M311.2 1905.6L320.1 1897.8" stroke-width="1.1" />
<path d="M255.1 1912.1L293.6 1887.2L294.6 1886.3L295.2 1885.0L295.2 1883.7L294.7 1882.4L293.7 1881.4L292.5 1880.9L291.1 1880.8L289.8 1881.3L251.3 1906.2" stroke-width="1.6" />
<path d="M254.3 1910.9L291.7 1886.7L292.3 1886.1L292.6 1885.4L292.6 1884.6L292.3 1883.9L291.8 1883.3L291.1 1883.0L290.3 1883.0L289.6 1883.3L252.1 1907.5" stroke-width="1.2" />
<path d="M256.5 1907.0L281.7 1890.7" stroke-width="1.6" />
<path d="M284.3 1889.1L290.1 1885.3" stroke-width="1.0" />
<path d="M242.8 1891.6L283.7 1870.7L284.8 1869.8L285.4 1868.6L285.6 1867.3L285.2 1866.0L284.4 1864.9L283.2 1864.2L281.8 1864.1L280.5 1864.5L239.6 1885.4" stroke-width="1.6" />
<path d="M242.2 1890.3L281.8 1869.9L282.5 1869.5L282.8 1868.8L282.9 1868.0L282.7 1867.3L282.2 1866.6L281.5 1866.3L280.8 1866.2L280.0 1866.4L240.3 1886.7" stroke-width="1.2" />
<path d="M244.8 1886.7L271.5 1873.0" stroke-width="1.6" />
<path d="M274.2 1871.6L280.4 1868.4" stroke-width="1.0" />
<path d="M276.0 1866.8L266.3 1843.4" stroke-width="1.6" />
<path d="M282.8 1863.4L273.5 1840.9" stroke-width="1.6" />
<path d="M298.4 1882.1L292.6 1872.7L287.3 1862.9" stroke-width="1.5" />
<path d="M304.9 1877.9L299.3 1868.8L294.2 1859.4" stroke-width="1.5" />
<path d="M295.3 1885.0L305.2 1878.4" stroke-width="1.1" />
<path d="M283.3 1864.1L293.9 1858.9" stroke-width="1.1" />
<path d="M227.4 1855.9L271.1 1841.8L272.3 1841.2L273.2 1840.1L273.5 1838.8L273.4 1837.4L272.7 1836.2L271.6 1835.4L270.3 1835.0L269.0 1835.2L225.3 1849.2" stroke-width="1.6" />
<path d="M227.0 1854.5L269.4 1840.8L270.1 1840.4L270.6 1839.8L270.8 1839.1L270.7 1838.3L270.3 1837.6L269.7 1837.1L269.0 1836.9L268.2 1837.0L225.7 1850.7" stroke-width="1.2" />
<path d="M230.2 1851.3L258.7 1842.1" stroke-width="1.6" />
<path d="M261.6 1841.2L268.2 1839.1" stroke-width="1.0" />
<path d="M220.9 1832.9L265.8 1823.3L267.0 1822.7L268.0 1821.8L268.5 1820.5L268.5 1819.1L267.9 1817.9L266.9 1816.9L265.7 1816.4L264.3 1816.4L219.4 1826.1" stroke-width="1.6" />
<path d="M220.6 1831.5L264.2 1822.1L264.9 1821.8L265.5 1821.2L265.7 1820.5L265.7 1819.7L265.4 1819.0L264.9 1818.4L264.1 1818.2L263.4 1818.2L219.8 1827.6" stroke-width="1.2" />
<path d="M224.1 1828.7L253.4 1822.4" stroke-width="1.6" />
<path d="M256.3 1821.7L263.2 1820.3" stroke-width="1.0" />
<path d="M259.4 1817.5L256.0 1792.4" stroke-width="1.6" />
<path d="M266.8 1816.1L263.6 1791.9" stroke-width="1.6" />
<path d="M277.1 1838.1L273.9 1827.5L271.3 1816.7" stroke-width="1.5" />
<path d="M284.4 1835.7L281.3 1825.5L278.9 1815.1" stroke-width="1.5" />
<path d="M273.3 1840.1L284.6 1836.3" stroke-width="1.1" />
<path d="M267.1 1816.9L278.7 1814.5" stroke-width="1.1" />
<path d="M215.3 1794.4L261.1 1792.1L262.4 1791.8L263.5 1791.0L264.2 1789.8L264.4 1788.5L264.1 1787.2L263.3 1786.1L262.1 1785.4L260.8 1785.2L214.9 1787.4" stroke-width="1.6" />
<path d="M215.2 1792.9L259.7 1790.7L260.5 1790.5L261.1 1790.1L261.5 1789.4L261.6 1788.6L261.4 1787.9L261.0 1787.2L260.3 1786.8L259.5 1786.7L215.0 1788.9" stroke-width="1.2" />
<path d="M219.1 1790.7L249.1 1789.2" stroke-width="1.6" />
<path d="M252.1 1789.1L259.0 1788.7" stroke-width="1.0" />
<path d="M214.9 1770.6L260.8 1772.8L262.1 1772.6L263.3 1771.9L264.1 1770.8L264.4 1769.5L264.2 1768.2L263.5 1767.0L262.4 1766.2L261.1 1765.9L215.3 1763.6" stroke-width="1.6" />
<path d="M215.0 1769.1L259.5 1771.3L260.3 1771.2L261.0 1770.8L261.4 1770.1L261.6 1769.4L261.5 1768.6L261.1 1767.9L260.5 1767.5L259.7 1767.3L215.2 1765.1" stroke-width="1.2" />
<path d="M219.1 1767.3L249.1 1768.8" stroke-width="1.6" />
<path d="M252.1 1768.9L259.0 1769.3" stroke-width="1.0" />
<path d="M256.0 1765.6L259.4 1740.5" stroke-width="1.6" />
<path d="M263.6 1766.1L266.8 1741.9" stroke-width="1.6" />
<path d="M267.8 1790.1L267.5 1779.0L267.8 1767.9" stroke-width="1.5" />
<path d="M275.5 1789.7L275.2 1779.0L275.5 1768.3" stroke-width="1.5" />
<path d="M263.7 1791.0L275.6 1790.3" stroke-width="1.1" />
<path d="M263.7 1767.0L275.6 1767.7" stroke-width="1.1" />
<path d="M219.4 1731.9L264.3 1741.6L265.7 1741.6L266.9 1741.1L267.9 1740.1L268.5 1738.9L268.5 1737.5L268.0 1736.2L267.0 1735.3L265.8 1734.7L220.9 1725.1" stroke-width="1.6" />
<path d="M219.8 1730.4L263.4 1739.8L264.1 1739.8L264.9 1739.6L265.4 1739.0L265.7 1738.3L265.7 1737.5L265.5 1736.8L264.9 1736.2L264.2 1735.9L220.6 1726.5" stroke-width="1.2" />
<path d="M224.1 1729.3L253.4 1735.6" stroke-width="1.6" />
<path d="M256.3 1736.3L263.2 1737.7" stroke-width="1.0" />
<path d="M225.3 1708.8L269.0 1722.8L270.3 1723.0L271.6 1722.6L272.7 1721.8L273.4 1720.6L273.5 1719.2L273.2 1717.9L272.3 1716.8L271.1 1716.2L227.4 1702.1" stroke-width="1.6" />
<path d="M225.7 1707.3L268.2 1721.0L269.0 1721.1L269.7 1720.9L270.3 1720.4L270.7 1719.7L270.8 1718.9L270.6 1718.2L270.1 1717.6L269.4 1717.2L227.0 1703.5" stroke-width="1.2" />
<path d="M230.2 1706.7L258.7 1715.9" stroke-width="1.6" />
<path d="M261.6 1716.8L268.2 1718.9" stroke-width="1.0" />
<path d="M266.3 1714.6L276.0 1691.2" stroke-width="1.6" />
<path d="M273.5 1717.1L282.8 1694.6" stroke-width="1.6" />
<path d="M271.3 1741.3L273.9 1730.5L277.1 1719.9" stroke-width="1.5" />
<path d="M278.9 1742.9L281.3 1732.5L284.4 1722.3" stroke-width="1.5" />
<path d="M267.1 1741.1L278.7 1743.5" stroke-width="1.1" />
<path d="M273.3 1717.9L284.6 1721.7" stroke-width="1.1" />
<path d="M239.6 1672.6L280.5 1693.5L281.8 1693.9L283.2 1693.8L284.4 1693.1L285.2 1692.0L285.6 1690.7L285.4 1689.4L284.8 1688.2L283.7 1687.3L242.8 1666.4" stroke-width="1.6" />
<path d="M240.3 1671.3L280.0 1691.6L280.8 1691.8L281.5 1691.7L282.2 1691.4L282.7 1690.7L282.9 1690.0L282.8 1689.2L282.5 1688.5L281.8 1688.1L242.2 1667.7" stroke-width="1.2" />
<path d="M244.8 1671.3L271.5 1685.0" stroke-width="1.6" />
<path d="M274.2 1686.4L280.4 1689.6" stroke-width="1.0" />
<path d="M251.3 1651.8L289.8 1676.7L291.1 1677.2L292.5 1677.1L293.7 1676.6L294.7 1675.6L295.2 1674.3L295.2 1673.0L294.6 1671.7L293.6 1670.8L255.1 1645.9" stroke-width="1.6" />
<path d="M252.1 1650.5L289.6 1674.7L290.3 1675.0L291.1 1675.0L291.8 1674.7L292.3 1674.1L292.6 1673.4L292.6 1672.6L292.3 1671.9L291.7 1671.3L254.3 1647.1" stroke-width="1.2" />
<path d="M256.5 1651.0L281.7 1667.3" stroke-width="1.6" />
<path d="M284.3 1668.9L290.1 1672.7" stroke-width="1.0" />
<path d="M289.4 1668.0L304.8 1647.9" stroke-width="1.6" />
<path d="M295.7 1672.3L310.5 1652.9" stroke-width="1.6" />
<path d="M287.3 1695.1L292.6 1685.3L298.4 1675.9" stroke-width="1.5" />
<path d="M294.2 1698.6L299.3 1689.2L304.9 1680.1" stroke-width="1.5" />
<path d="M283.3 1693.9L293.9 1699.1" stroke-width="1.1" />
<path d="M295.3 1673.0L305.2 1679.6" stroke-width="1.1" />
<path d="M274.5 1620.5L308.5 1651.3L309.7 1652.0L311.1 1652.2L312.4 1651.9L313.5 1651.1L314.2 1649.9L314.4 1648.6L314.1 1647.2L313.2 1646.1L279.2 1615.3" stroke-width="1.6" />
<path d="M275.5 1619.4L308.6 1649.4L309.3 1649.8L310.0 1649.9L310.8 1649.7L311.4 1649.2L311.8 1648.5L311.9 1647.8L311.7 1647.0L311.3 1646.4L278.2 1616.5" stroke-width="1.2" />
<path d="M279.8 1620.6L302.1 1640.8" stroke-width="1.6" />
<path d="M304.3 1642.8L309.5 1647.5" stroke-width="1.0" />
<path d="M291.1 1603.4L321.9 1637.4L323.0 1638.3L324.4 1638.6L325.7 1638.4L326.9 1637.7L327.7 1636.6L328.0 1635.3L327.8 1633.9L327.1 1632.7L296.3 1598.7" stroke-width="1.6" />
<path d="M292.3 1602.4L322.2 1635.5L322.8 1635.9L323.6 1636.1L324.3 1636.0L325.0 1635.6L325.5 1635.0L325.7 1634.2L325.6 1633.5L325.2 1632.8L295.2 1599.7" stroke-width="1.2" />
<path d="M296.4 1604.0L316.6 1626.3" stroke-width="1.6" />
<path d="M318.6 1628.5L323.3 1633.7" stroke-width="1.0" />
<path d="M323.7 1629.0L343.8 1613.6" stroke-width="1.6" />
<path d="M328.7 1634.7L348.1 1619.9" stroke-width="1.6" />
<path d="M314.7 1654.6L322.4 1646.6L330.4 1638.9" stroke-width="1.5" />
<path d="M320.5 1659.8L327.8 1652.0L335.6 1644.7" stroke-width="1.5" />
<path d="M311.2 1652.4L320.1 1660.2" stroke-width="1.1" />
<path d="M328.2 1635.4L336.0 1644.3" stroke-width="1.1" />
<path d="M321.7 1579.3L346.6 1617.8L347.5 1618.8L348.8 1619.4L350.1 1619.4L351.4 1618.9L352.4 1617.9L352.9 1616.7L353.0 1615.3L352.5 1614.0L327.6 1575.5" stroke-width="1.6" />
<path d="M322.9 1578.5L347.1 1615.9L347.7 1616.5L348.4 1616.8L349.2 1616.8L349.9 1616.5L350.5 1616.0L350.8 1615.3L350.8 1614.5L350.5 1613.8L326.3 1576.3" stroke-width="1.2" />
<path d="M326.8 1580.7L343.1 1605.9" stroke-width="1.6" />
<path d="M344.7 1608.5L348.5 1614.3" stroke-width="1.0" />
<path d="M342.2 1567.0L363.1 1607.9L364.0 1609.0L365.2 1609.6L366.5 1609.8L367.8 1609.4L368.9 1608.6L369.6 1607.4L369.7 1606.0L369.3 1604.7L348.4 1563.8" stroke-width="1.6" />
<path d="M343.5 1566.4L363.9 1606.0L364.3 1606.7L365.0 1607.0L365.8 1607.1L366.5 1606.9L367.2 1606.4L367.5 1605.7L367.6 1605.0L367.4 1604.2L347.1 1564.5" stroke-width="1.2" />
<path d="M347.1 1569.0L360.8 1595.7" stroke-width="1.6" />
<path d="M362.2 1598.4L365.4 1604.6" stroke-width="1.0" />
<path d="M367.0 1600.2L390.4 1590.5" stroke-width="1.6" />
<path d="M370.4 1607.0L392.9 1597.7" stroke-width="1.6" />
<path d="M351.7 1622.6L361.1 1616.8L370.9 1611.5" stroke-width="1.5" />
<path d="M355.9 1629.1L365.0 1623.5L374.4 1618.4" stroke-width="1.5" />
<path d="M348.8 1619.5L355.4 1629.4" stroke-width="1.1" />
<path d="M369.7 1607.5L374.9 1618.1" stroke-width="1.1" />
<path d="M377.9 1551.6L392.0 1595.3L392.6 1596.5L393.7 1597.4L395.0 1597.7L396.4 1597.6L397.6 1596.9L398.4 1595.8L398.8 1594.5L398.6 1593.2L384.6 1549.5" stroke-width="1.6" />
<path d="M379.3 1551.2L393.0 1593.6L393.4 1594.3L394.0 1594.8L394.7 1595.0L395.5 1594.9L396.2 1594.5L396.7 1593.9L396.9 1593.2L396.8 1592.4L383.1 1549.9" stroke-width="1.2" />
<path d="M382.5 1554.4L391.7 1582.9" stroke-width="1.6" />
<path d="M392.6 1585.8L394.7 1592.4" stroke-width="1.0" />
<path d="M400.9 1545.1L410.5 1590.0L411.1 1591.2L412.0 1592.2L413.3 1592.7L414.7 1592.7L415.9 1592.1L416.9 1591.1L417.4 1589.9L417.4 1588.5L407.7 1543.6" stroke-width="1.6" />
<path d="M402.3 1544.8L411.7 1588.4L412.0 1589.1L412.6 1589.7L413.3 1589.9L414.1 1589.9L414.8 1589.6L415.4 1589.1L415.6 1588.3L415.6 1587.6L406.2 1544.0" stroke-width="1.2" />
<path d="M405.1 1548.3L411.4 1577.6" stroke-width="1.6" />
<path d="M412.1 1580.5L413.5 1587.4" stroke-width="1.0" />
<path d="M416.3 1583.6L441.4 1580.2" stroke-width="1.6" />
<path d="M417.7 1591.0L441.9 1587.8" stroke-width="1.6" />
<path d="M395.7 1601.3L406.3 1598.1L417.1 1595.5" stroke-width="1.5" />
<path d="M398.1 1608.6L408.3 1605.5L418.7 1603.1" stroke-width="1.5" />
<path d="M393.7 1597.5L397.5 1608.8" stroke-width="1.1" />
<path d="M416.9 1591.3L419.3 1602.9" stroke-width="1.1" />
<path d="M463.2 1591.8L462.1 1592.0L461.3 1592.5L460.8 1593.3L460.6 1594.1L461.6 1603.7L462.0 1604.7L462.5 1605.3L482.1 1616.0L483.5 1616.0L488.2 1614.8L489.6 1613.8L494.6 1599.8L494.6 1598.3L493.4 1596.4L492.2 1595.8L471.0 1592.2L463.2 1591.8Z" stroke-width="1.7" />
<path d="M446.4 1591.8L447.5 1592.0L448.3 1592.5L448.8 1593.3L449.0 1594.1L448.0 1603.7L447.6 1604.7L447.1 1605.3L427.5 1616.0L426.1 1616.0L421.4 1614.8L420.0 1613.8L415.0 1599.8L415.0 1598.3L416.2 1596.4L417.4 1595.8L438.6 1592.2L446.4 1591.8Z" stroke-width="1.7" />
<path d="M463.2 1966.2L462.1 1966.0L461.3 1965.5L460.8 1964.7L460.6 1963.9L461.6 1954.3L462.0 1953.3L462.5 1952.7L482.1 1942.0L483.5 1942.0L488.2 1943.2L489.6 1944.2L494.6 1958.2L494.6 1959.7L493.4 1961.6L492.2 1962.2L471.0 1965.8L463.2 1966.2Z" stroke-width="1.7" />
<path d="M446.4 1966.2L447.5 1966.0L448.3 1965.5L448.8 1964.7L449.0 1963.9L448.0 1954.3L447.6 1953.3L447.1 1952.7L427.5 1942.0L426.1 1942.0L421.4 1943.2L420.0 1944.2L415.0 1958.2L415.0 1959.7L416.2 1961.6L417.4 1962.2L438.6 1965.8L446.4 1966.2Z" stroke-width="1.7" />
<path d="M463.4 1594.7L464.4 1603.2L482.9 1613.3L487.3 1612.1L491.9 1599.1L491.6 1598.6L470.6 1595.0L463.4 1594.7Z" stroke-width="1.5" />
<path d="M446.2 1594.7L445.2 1603.2L426.7 1613.3L422.3 1612.1L417.7 1599.1L418.0 1598.6L439.0 1595.0L446.2 1594.7Z" stroke-width="1.5" />
<path d="M463.4 1963.3L464.4 1954.8L482.9 1944.7L487.3 1945.9L491.9 1958.9L491.6 1959.4L470.6 1963.0L463.4 1963.3Z" stroke-width="1.5" />
<path d="M446.2 1963.3L445.2 1954.8L426.7 1944.7L422.3 1945.9L417.7 1958.9L418.0 1959.4L439.0 1963.0L446.2 1963.3Z" stroke-width="1.5" />
<path d="M466.8 1597.8L467.2 1601.3L483.2 1610.1L485.0 1609.6L488.1 1601.0L470.2 1598.0L466.8 1597.8Z" stroke-width="1.5" />
<path d="M442.8 1597.8L442.4 1601.3L426.4 1610.1L424.6 1609.6L421.5 1601.0L439.4 1598.0L442.8 1597.8Z" stroke-width="1.5" />
<path d="M466.8 1960.2L467.2 1956.7L483.2 1947.9L485.0 1948.4L488.1 1957.0L470.2 1960.0L466.8 1960.2Z" stroke-width="1.5" />
<path d="M442.8 1960.2L442.4 1956.7L426.4 1947.9L424.6 1948.4L421.5 1957.0L439.4 1960.0L442.8 1960.2Z" stroke-width="1.5" />
<path d="M538.6 1612.0L511.5 1601.0L510.3 1601.1L509.4 1601.6L508.6 1602.5L498.0 1623.8L497.7 1625.4L498.1 1626.7L512.7 1653.4L514.0 1654.7L515.5 1655.0L517.0 1654.6L518.0 1653.5L540.1 1616.4L540.5 1614.8L539.9 1613.1L538.6 1612.0Z" stroke-width="1.7" />
<path d="M371.0 1612.0L398.1 1601.0L399.3 1601.1L400.2 1601.6L401.0 1602.5L411.6 1623.8L411.9 1625.4L411.5 1626.7L396.9 1653.4L395.6 1654.7L394.1 1655.0L392.6 1654.6L391.6 1653.5L369.5 1616.4L369.1 1614.8L369.7 1613.1L371.0 1612.0Z" stroke-width="1.7" />
<path d="M538.6 1946.0L511.5 1957.0L510.3 1956.9L509.4 1956.4L508.6 1955.5L498.0 1934.2L497.7 1932.6L498.1 1931.3L512.7 1904.6L514.0 1903.3L515.5 1903.0L517.0 1903.4L518.0 1904.5L540.1 1941.6L540.5 1943.2L539.9 1944.9L538.6 1946.0Z" stroke-width="1.7" />
<path d="M371.0 1946.0L398.1 1957.0L399.3 1956.9L400.2 1956.4L401.0 1955.5L411.6 1934.2L411.9 1932.6L411.5 1931.3L396.9 1904.6L395.6 1903.3L394.1 1903.0L392.6 1903.4L391.6 1904.5L369.5 1941.6L369.1 1943.2L369.7 1944.9L371.0 1946.0Z" stroke-width="1.7" />
<path d="M500.5 1625.2L515.1 1652.0L515.4 1652.2L537.7 1614.8L511.2 1603.8L500.5 1625.2Z" stroke-width="1.5" />
<path d="M409.1 1625.2L394.5 1652.0L394.2 1652.2L371.9 1614.8L398.4 1603.8L409.1 1625.2Z" stroke-width="1.5" />
<path d="M500.5 1932.8L515.1 1906.0L515.4 1905.8L537.7 1943.2L511.2 1954.2L500.5 1932.8Z" stroke-width="1.5" />
<path d="M409.1 1932.8L394.5 1906.0L394.2 1905.8L371.9 1943.2L398.4 1954.2L409.1 1932.8Z" stroke-width="1.5" />
<path d="M503.8 1625.2L515.5 1646.4L533.5 1616.2L512.6 1607.5L503.8 1625.2Z" stroke-width="1.5" />
<path d="M405.8 1625.2L394.1 1646.4L376.1 1616.2L397.0 1607.5L405.8 1625.2Z" stroke-width="1.5" />
<path d="M503.8 1932.8L515.5 1911.6L533.5 1941.8L512.6 1950.5L503.8 1932.8Z" stroke-width="1.5" />
<path d="M405.8 1932.8L394.1 1911.6L376.1 1941.8L397.0 1950.5L405.8 1932.8Z" stroke-width="1.5" />
<path d="M508.0 1625.1L515.6 1639.0L528.1 1618.0L514.4 1612.3L508.0 1625.1Z" stroke-width="1.4" />
<path d="M401.6 1625.1L394.0 1639.0L381.5 1618.0L395.2 1612.3L401.6 1625.1Z" stroke-width="1.4" />
<path d="M508.0 1932.9L515.6 1919.0L528.1 1940.0L514.4 1945.7L508.0 1932.9Z" stroke-width="1.4" />
<path d="M401.6 1932.9L394.0 1919.0L381.5 1940.0L395.2 1945.7L401.6 1932.9Z" stroke-width="1.4" />
<path d="M558.2 1623.0L557.3 1622.5L556.0 1622.3L554.9 1622.6L553.7 1623.7L543.4 1639.0L543.0 1640.2L542.5 1643.5L542.6 1644.6L543.3 1646.1L550.2 1653.3L559.1 1658.6L567.3 1661.4L569.2 1661.5L570.3 1660.9L571.0 1660.1L580.0 1645.0L580.4 1643.9L580.4 1642.6L579.4 1641.0L558.2 1623.0Z" stroke-width="1.7" />
<path d="M351.4 1623.0L352.3 1622.5L353.6 1622.3L354.7 1622.6L355.9 1623.7L366.2 1639.0L366.6 1640.2L367.1 1643.5L367.0 1644.6L366.3 1646.1L359.4 1653.3L350.5 1658.6L342.3 1661.4L340.4 1661.5L339.3 1660.9L338.6 1660.1L329.6 1645.0L329.2 1643.9L329.2 1642.6L330.2 1641.0L351.4 1623.0Z" stroke-width="1.7" />
<path d="M558.2 1935.0L557.3 1935.5L556.0 1935.7L554.9 1935.4L553.7 1934.3L543.4 1919.0L543.0 1917.8L542.5 1914.5L542.6 1913.4L543.3 1911.9L550.2 1904.7L559.1 1899.4L567.3 1896.6L569.2 1896.5L570.3 1897.1L571.0 1897.9L580.0 1913.0L580.4 1914.1L580.4 1915.4L579.4 1917.0L558.2 1935.0Z" stroke-width="1.7" />
<path d="M351.4 1935.0L352.3 1935.5L353.6 1935.7L354.7 1935.4L355.9 1934.3L366.2 1919.0L366.6 1917.8L367.1 1914.5L367.0 1913.4L366.3 1911.9L359.4 1904.7L350.5 1899.4L342.3 1896.6L340.4 1896.5L339.3 1897.1L338.6 1897.9L329.6 1913.0L329.2 1914.1L329.2 1915.4L330.2 1917.0L351.4 1935.0Z" stroke-width="1.7" />
<path d="M545.3 1643.8L545.5 1644.3L551.8 1650.9L559.8 1655.9L568.4 1658.8L577.7 1643.3L556.2 1625.1L545.9 1640.4L545.3 1643.8Z" stroke-width="1.5" />
<path d="M364.3 1643.8L364.1 1644.3L357.8 1650.9L349.8 1655.9L341.2 1658.8L331.9 1643.3L353.4 1625.1L363.7 1640.4L364.3 1643.8Z" stroke-width="1.5" />
<path d="M545.3 1914.2L545.5 1913.7L551.8 1907.1L559.8 1902.1L568.4 1899.2L577.7 1914.7L556.2 1932.9L545.9 1917.6L545.3 1914.2Z" stroke-width="1.5" />
<path d="M364.3 1914.2L364.1 1913.7L357.8 1907.1L349.8 1902.1L341.2 1899.2L331.9 1914.7L353.4 1932.9L363.7 1917.6L364.3 1914.2Z" stroke-width="1.5" />
<path d="M548.4 1643.1L553.5 1648.5L561.3 1653.2L567.1 1655.2L573.9 1643.9L556.8 1629.4L548.7 1641.6L548.4 1643.1Z" stroke-width="1.5" />
<path d="M361.2 1643.1L356.1 1648.5L348.3 1653.2L342.5 1655.2L335.7 1643.9L352.8 1629.4L360.9 1641.6L361.2 1643.1Z" stroke-width="1.5" />
<path d="M548.4 1914.9L553.5 1909.5L561.3 1904.8L567.1 1902.8L573.9 1914.1L556.8 1928.6L548.7 1916.4L548.4 1914.9Z" stroke-width="1.5" />
<path d="M361.2 1914.9L356.1 1909.5L348.3 1904.8L342.5 1902.8L335.7 1914.1L352.8 1928.6L360.9 1916.4L361.2 1914.9Z" stroke-width="1.5" />
<path d="M552.1 1642.3L555.5 1646.0L562.6 1650.3L565.7 1651.3L569.8 1644.6L557.5 1634.2L552.1 1642.3Z" stroke-width="1.4" />
<path d="M357.5 1642.3L354.1 1646.0L347.0 1650.3L343.9 1651.3L339.8 1644.6L352.1 1634.2L357.5 1642.3Z" stroke-width="1.4" />
<path d="M552.1 1915.7L555.5 1912.0L562.6 1907.7L565.7 1906.7L569.8 1913.4L557.5 1923.8L552.1 1915.7Z" stroke-width="1.4" />
<path d="M357.5 1915.7L354.1 1912.0L347.0 1907.7L343.9 1906.7L339.8 1913.4L352.1 1923.8L357.5 1915.7Z" stroke-width="1.4" />
<path d="M558.5 1699.3L558.1 1700.5L558.5 1701.8L559.5 1702.5L561.0 1702.4L608.1 1677.4L608.9 1676.8L609.2 1676.2L609.0 1674.8L595.7 1657.6L594.4 1656.9L593.2 1657.0L592.5 1657.6L558.5 1699.3Z" stroke-width="1.7" />
<path d="M351.1 1699.3L351.5 1700.5L351.1 1701.8L350.1 1702.5L348.6 1702.4L301.5 1677.4L300.7 1676.8L300.4 1676.2L300.6 1674.8L313.9 1657.6L315.2 1656.9L316.4 1657.0L317.1 1657.6L351.1 1699.3Z" stroke-width="1.7" />
<path d="M558.5 1858.7L558.1 1857.5L558.5 1856.2L559.5 1855.5L561.0 1855.6L608.1 1880.6L608.9 1881.2L609.2 1881.8L609.0 1883.2L595.7 1900.4L594.4 1901.1L593.2 1901.0L592.5 1900.4L558.5 1858.7Z" stroke-width="1.7" />
<path d="M351.1 1858.7L351.5 1857.5L351.1 1856.2L350.1 1855.5L348.6 1855.6L301.5 1880.6L300.7 1881.2L300.4 1881.8L300.6 1883.2L313.9 1900.4L315.2 1901.1L316.4 1901.0L317.1 1900.4L351.1 1858.7Z" stroke-width="1.7" />
<path d="M561.6 1699.4L606.6 1675.5L594.1 1659.4L561.6 1699.4Z" stroke-width="1.5" />
<path d="M348.0 1699.4L303.0 1675.5L315.5 1659.4L348.0 1699.4Z" stroke-width="1.5" />
<path d="M561.6 1858.6L606.6 1882.5L594.1 1898.6L561.6 1858.6Z" stroke-width="1.5" />
<path d="M348.0 1858.6L303.0 1882.5L315.5 1898.6L348.0 1858.6Z" stroke-width="1.5" />
<path d="M570.9 1691.7L603.0 1674.7L594.0 1663.3L570.9 1691.7Z" stroke-width="1.5" />
<path d="M338.7 1691.7L306.6 1674.7L315.6 1663.3L338.7 1691.7Z" stroke-width="1.5" />
<path d="M570.9 1866.3L603.0 1883.3L594.0 1894.7L570.9 1866.3Z" stroke-width="1.5" />
<path d="M338.7 1866.3L306.6 1883.3L315.6 1894.7L338.7 1866.3Z" stroke-width="1.5" />
<path d="M561.7 1723.1L561.0 1723.8L560.9 1724.8L561.4 1725.5L562.4 1725.7L626.7 1717.3L627.7 1716.7L628.0 1715.7L619.8 1698.7L619.3 1698.1L618.4 1697.9L561.7 1723.1Z" stroke-width="1.7" />
<path d="M347.9 1723.1L348.6 1723.8L348.7 1724.8L348.2 1725.5L347.2 1725.7L282.9 1717.3L281.9 1716.7L281.6 1715.7L289.8 1698.7L290.3 1698.1L291.2 1697.9L347.9 1723.1Z" stroke-width="1.7" />
<path d="M561.7 1834.9L561.0 1834.2L560.9 1833.2L561.4 1832.5L562.4 1832.3L626.7 1840.7L627.7 1841.3L628.0 1842.3L619.8 1859.3L619.3 1859.9L618.4 1860.1L561.7 1834.9Z" stroke-width="1.7" />
<path d="M347.9 1834.9L348.6 1834.2L348.7 1833.2L348.2 1832.5L347.2 1832.3L282.9 1840.7L281.9 1841.3L281.6 1842.3L289.8 1859.3L290.3 1859.9L291.2 1860.1L347.9 1834.9Z" stroke-width="1.7" />
<path d="M567.6 1722.8L625.4 1715.2L618.2 1700.4L567.6 1722.8Z" stroke-width="1.5" />
<path d="M342.0 1722.8L284.2 1715.2L291.4 1700.4L342.0 1722.8Z" stroke-width="1.5" />
<path d="M567.6 1835.2L625.4 1842.8L618.2 1857.6L567.6 1835.2Z" stroke-width="1.5" />
<path d="M342.0 1835.2L284.2 1842.8L291.4 1857.6L342.0 1835.2Z" stroke-width="1.5" />
<path d="M582.4 1718.7L622.1 1713.4L617.1 1703.2L582.4 1718.7Z" stroke-width="1.5" />
<path d="M327.2 1718.7L287.5 1713.4L292.5 1703.2L327.2 1718.7Z" stroke-width="1.5" />
<path d="M582.4 1839.3L622.1 1844.6L617.1 1854.8L582.4 1839.3Z" stroke-width="1.5" />
<path d="M327.2 1839.3L287.5 1844.6L292.5 1854.8L327.2 1839.3Z" stroke-width="1.5" />
<path d="M596.5 1738.1L595.3 1738.5L594.6 1739.1L592.8 1742.4L592.9 1743.9L594.7 1747.2L595.6 1748.1L605.9 1754.7L615.3 1762.5L619.8 1768.0L622.3 1773.3L623.3 1774.5L625.0 1775.0L638.5 1775.0L639.7 1774.7L640.8 1773.9L641.2 1773.0L641.3 1771.7L636.0 1736.3L635.7 1735.5L635.0 1734.6L634.2 1734.1L632.8 1733.9L596.5 1738.1Z" stroke-width="1.7" />
<path d="M313.1 1738.1L314.3 1738.5L315.0 1739.1L316.8 1742.4L316.7 1743.9L314.9 1747.2L314.0 1748.1L303.7 1754.7L294.3 1762.5L289.8 1768.0L287.3 1773.3L286.3 1774.5L284.6 1775.0L271.1 1775.0L269.9 1774.7L268.8 1773.9L268.4 1773.0L268.3 1771.7L273.6 1736.3L273.9 1735.5L274.6 1734.6L275.4 1734.1L276.8 1733.9L313.1 1738.1Z" stroke-width="1.7" />
<path d="M596.5 1819.9L595.3 1819.5L594.6 1818.9L592.8 1815.6L592.9 1814.1L594.7 1810.8L595.6 1809.9L605.9 1803.3L615.3 1795.5L619.8 1790.0L622.3 1784.7L623.3 1783.5L625.0 1783.0L638.5 1783.0L639.7 1783.3L640.8 1784.1L641.2 1785.0L641.3 1786.3L636.0 1821.7L635.7 1822.5L635.0 1823.4L634.2 1823.9L632.8 1824.1L596.5 1819.9Z" stroke-width="1.7" />
<path d="M313.1 1819.9L314.3 1819.5L315.0 1818.9L316.8 1815.6L316.7 1814.1L314.9 1810.8L314.0 1809.9L303.7 1803.3L294.3 1795.5L289.8 1790.0L287.3 1784.7L286.3 1783.5L284.6 1783.0L271.1 1783.0L269.9 1783.3L268.8 1784.1L268.4 1785.0L268.3 1786.3L273.6 1821.7L273.9 1822.5L274.6 1823.4L275.4 1823.9L276.8 1824.1L313.1 1819.9Z" stroke-width="1.7" />
<path d="M595.6 1743.0L597.2 1745.8L607.6 1752.5L617.3 1760.5L622.1 1766.5L624.9 1772.2L638.5 1772.2L633.2 1736.7L596.9 1740.9L595.6 1743.0Z" stroke-width="1.5" />
<path d="M314.0 1743.0L312.4 1745.8L302.0 1752.5L292.3 1760.5L287.5 1766.5L284.7 1772.2L271.1 1772.2L276.4 1736.7L312.7 1740.9L314.0 1743.0Z" stroke-width="1.5" />
<path d="M595.6 1815.0L597.2 1812.2L607.6 1805.5L617.3 1797.5L622.1 1791.5L624.9 1785.8L638.5 1785.8L633.2 1821.3L596.9 1817.1L595.6 1815.0Z" stroke-width="1.5" />
<path d="M314.0 1815.0L312.4 1812.2L302.0 1805.5L292.3 1797.5L287.5 1791.5L284.7 1785.8L271.1 1785.8L276.4 1821.3L312.7 1817.1L314.0 1815.0Z" stroke-width="1.5" />
<path d="M599.4 1743.6L609.3 1750.0L619.2 1758.2L624.5 1764.6L626.8 1769.2L635.1 1769.2L630.7 1740.0L599.4 1743.6Z" stroke-width="1.5" />
<path d="M310.2 1743.6L300.3 1750.0L290.4 1758.2L285.1 1764.6L282.8 1769.2L274.5 1769.2L278.9 1740.0L310.2 1743.6Z" stroke-width="1.5" />
<path d="M599.4 1814.4L609.3 1808.0L619.2 1799.8L624.5 1793.4L626.8 1788.8L635.1 1788.8L630.7 1818.0L599.4 1814.4Z" stroke-width="1.5" />
<path d="M310.2 1814.4L300.3 1808.0L290.4 1799.8L285.1 1793.4L282.8 1788.8L274.5 1788.8L278.9 1818.0L310.2 1814.4Z" stroke-width="1.5" />
<path d="M608.7 1745.8L611.6 1747.7L621.7 1756.1L626.9 1762.5L628.8 1766.0L631.4 1766.0L628.0 1743.5L608.7 1745.8Z" stroke-width="1.4" />
<path d="M300.9 1745.8L298.0 1747.7L287.9 1756.1L282.7 1762.5L280.8 1766.0L278.2 1766.0L281.6 1743.5L300.9 1745.8Z" stroke-width="1.4" />
<path d="M608.7 1812.2L611.6 1810.3L621.7 1801.9L626.9 1795.5L628.8 1792.0L631.4 1792.0L628.0 1814.5L608.7 1812.2Z" stroke-width="1.4" />
<path d="M300.9 1812.2L298.0 1810.3L287.9 1801.9L282.7 1795.5L280.8 1792.0L278.2 1792.0L281.6 1814.5L300.9 1812.2Z" stroke-width="1.4" />
<path d="M488.6 1732.3L488.2 1733.8L488.7 1735.5L496.4 1746.3L497.1 1747.0L498.2 1747.6L500.0 1747.4L541.0 1720.0L541.6 1719.2L541.8 1717.8L541.5 1708.1L541.2 1706.9L538.6 1703.4L537.8 1702.7L527.0 1698.8L518.7 1692.8L516.1 1691.5L514.7 1691.1L513.2 1691.6L510.4 1693.3L509.4 1694.4L488.6 1732.3Z" stroke-width="1.7" />
<path d="M421.0 1732.3L421.4 1733.8L420.9 1735.5L413.2 1746.3L412.5 1747.0L411.4 1747.6L409.6 1747.4L368.6 1720.0L368.0 1719.2L367.8 1717.8L368.1 1708.1L368.4 1706.9L371.0 1703.4L371.8 1702.7L382.6 1698.8L390.9 1692.8L393.5 1691.5L394.9 1691.1L396.4 1691.6L399.2 1693.3L400.2 1694.4L421.0 1732.3Z" stroke-width="1.7" />
<path d="M488.6 1825.7L488.2 1824.2L488.7 1822.5L496.4 1811.7L497.1 1811.0L498.2 1810.4L500.0 1810.6L541.0 1838.0L541.6 1838.8L541.8 1840.2L541.5 1849.9L541.2 1851.1L538.6 1854.6L537.8 1855.3L527.0 1859.2L518.7 1865.2L516.1 1866.5L514.7 1866.9L513.2 1866.4L510.4 1864.7L509.4 1863.6L488.6 1825.7Z" stroke-width="1.7" />
<path d="M421.0 1825.7L421.4 1824.2L420.9 1822.5L413.2 1811.7L412.5 1811.0L411.4 1810.4L409.6 1810.6L368.6 1838.0L368.0 1838.8L367.8 1840.2L368.1 1849.9L368.4 1851.1L371.0 1854.6L371.8 1855.3L382.6 1859.2L390.9 1865.2L393.5 1866.5L394.9 1866.9L396.4 1866.4L399.2 1864.7L400.2 1863.6L421.0 1825.7Z" stroke-width="1.7" />
<path d="M491.0 1733.8L498.6 1744.6L498.8 1744.8L499.1 1744.7L539.0 1718.0L538.7 1708.1L536.3 1705.1L525.8 1701.3L517.1 1695.1L514.9 1694.0L514.4 1694.1L511.8 1695.9L491.0 1733.8Z" stroke-width="1.5" />
<path d="M418.6 1733.8L411.0 1744.6L410.8 1744.8L410.5 1744.7L370.6 1718.0L370.9 1708.1L373.3 1705.1L383.8 1701.3L392.5 1695.1L394.7 1694.0L395.2 1694.1L397.8 1695.9L418.6 1733.8Z" stroke-width="1.5" />
<path d="M491.0 1824.2L498.6 1813.4L498.8 1813.2L499.1 1813.3L539.0 1840.0L538.7 1849.9L536.3 1852.9L525.8 1856.7L517.1 1862.9L514.9 1864.0L514.4 1863.9L511.8 1862.1L491.0 1824.2Z" stroke-width="1.5" />
<path d="M418.6 1824.2L411.0 1813.4L410.8 1813.2L410.5 1813.3L370.6 1840.0L370.9 1849.9L373.3 1852.9L383.8 1856.7L392.5 1862.9L394.7 1864.0L395.2 1863.9L397.8 1862.1L418.6 1824.2Z" stroke-width="1.5" />
<path d="M494.4 1733.6L499.6 1740.8L536.0 1716.5L535.8 1709.1L534.5 1707.6L524.3 1703.9L514.9 1697.3L514.2 1697.8L494.4 1733.6Z" stroke-width="1.5" />
<path d="M415.2 1733.6L410.0 1740.8L373.6 1716.5L373.8 1709.1L375.1 1707.6L385.3 1703.9L394.7 1697.3L395.4 1697.8L415.2 1733.6Z" stroke-width="1.5" />
<path d="M494.4 1824.4L499.6 1817.2L536.0 1841.5L535.8 1848.9L534.5 1850.4L524.3 1854.1L514.9 1860.7L514.2 1860.2L494.4 1824.4Z" stroke-width="1.5" />
<path d="M415.2 1824.4L410.0 1817.2L373.6 1841.5L373.8 1848.9L375.1 1850.4L385.3 1854.1L394.7 1860.7L395.4 1860.2L415.2 1824.4Z" stroke-width="1.5" />
<path d="M498.8 1733.4L500.5 1735.7L532.2 1714.5L532.1 1710.7L522.6 1707.2L515.8 1702.5L498.8 1733.4Z" stroke-width="1.4" />
<path d="M410.8 1733.4L409.1 1735.7L377.4 1714.5L377.5 1710.7L387.0 1707.2L393.8 1702.5L410.8 1733.4Z" stroke-width="1.4" />
<path d="M498.8 1824.6L500.5 1822.3L532.2 1843.5L532.1 1847.3L522.6 1850.8L515.8 1855.5L498.8 1824.6Z" stroke-width="1.4" />
<path d="M410.8 1824.6L409.1 1822.3L377.4 1843.5L377.5 1847.3L387.0 1850.8L393.8 1855.5L410.8 1824.6Z" stroke-width="1.4" />
<path d="M503.2 1757.4L502.7 1758.9L502.8 1760.0L506.1 1772.6L507.2 1773.8L510.8 1775.4L512.0 1775.6L556.0 1775.0L556.9 1774.9L557.9 1774.3L558.8 1772.7L558.8 1771.4L557.6 1766.4L559.9 1759.5L566.9 1754.5L576.8 1753.2L577.9 1752.9L582.4 1749.0L582.9 1748.1L583.0 1746.7L582.7 1744.5L582.1 1743.1L581.2 1742.3L578.5 1741.0L576.8 1740.7L570.0 1741.4L558.4 1739.8L550.1 1735.4L547.1 1732.8L545.5 1732.5L543.9 1733.0L505.1 1755.1L504.4 1755.7L503.2 1757.4Z" stroke-width="1.7" />
<path d="M406.4 1757.4L406.9 1758.9L406.8 1760.0L403.5 1772.6L402.4 1773.8L398.8 1775.4L397.6 1775.6L353.6 1775.0L352.7 1774.9L351.7 1774.3L350.8 1772.7L350.8 1771.4L352.0 1766.4L349.7 1759.5L342.7 1754.5L332.8 1753.2L331.7 1752.9L327.2 1749.0L326.7 1748.1L326.6 1746.7L326.9 1744.5L327.5 1743.1L328.4 1742.3L331.1 1741.0L332.8 1740.7L339.6 1741.4L351.2 1739.8L359.5 1735.4L362.5 1732.8L364.1 1732.5L365.7 1733.0L404.5 1755.1L405.2 1755.7L406.4 1757.4Z" stroke-width="1.7" />
<path d="M503.2 1800.6L502.7 1799.1L502.8 1798.0L506.1 1785.4L507.2 1784.2L510.8 1782.6L512.0 1782.4L556.0 1783.0L556.9 1783.1L557.9 1783.7L558.8 1785.3L558.8 1786.6L557.6 1791.6L559.9 1798.5L566.9 1803.5L576.8 1804.8L577.9 1805.1L582.4 1809.0L582.9 1809.9L583.0 1811.3L582.7 1813.5L582.1 1814.9L581.2 1815.7L578.5 1817.0L576.8 1817.3L570.0 1816.6L558.4 1818.2L550.1 1822.6L547.1 1825.2L545.5 1825.5L543.9 1825.0L505.1 1802.9L504.4 1802.3L503.2 1800.6Z" stroke-width="1.7" />
<path d="M406.4 1800.6L406.9 1799.1L406.8 1798.0L403.5 1785.4L402.4 1784.2L398.8 1782.6L397.6 1782.4L353.6 1783.0L352.7 1783.1L351.7 1783.7L350.8 1785.3L350.8 1786.6L352.0 1791.6L349.7 1798.5L342.7 1803.5L332.8 1804.8L331.7 1805.1L327.2 1809.0L326.7 1809.9L326.6 1811.3L326.9 1813.5L327.5 1814.9L328.4 1815.7L331.1 1817.0L332.8 1817.3L339.6 1816.6L351.2 1818.2L359.5 1822.6L362.5 1825.2L364.1 1825.5L365.7 1825.0L404.5 1802.9L405.2 1802.3L406.4 1800.6Z" stroke-width="1.7" />
<path d="M505.5 1759.1L508.7 1771.4L511.9 1772.8L556.0 1772.2L556.1 1771.8L554.9 1767.4L554.8 1765.9L556.9 1759.3L557.9 1757.5L564.8 1752.5L566.3 1751.8L576.6 1750.4L580.2 1747.3L580.0 1745.1L579.7 1744.7L577.3 1743.5L569.8 1744.2L557.5 1742.4L548.6 1737.8L546.0 1735.4L545.5 1735.3L506.6 1757.5L505.5 1759.1Z" stroke-width="1.5" />
<path d="M404.1 1759.1L400.9 1771.4L397.7 1772.8L353.6 1772.2L353.5 1771.8L354.7 1767.4L354.8 1765.9L352.7 1759.3L351.7 1757.5L344.8 1752.5L343.3 1751.8L333.0 1750.4L329.4 1747.3L329.6 1745.1L329.9 1744.7L332.3 1743.5L339.8 1744.2L352.1 1742.4L361.0 1737.8L363.6 1735.4L364.1 1735.3L403.0 1757.5L404.1 1759.1Z" stroke-width="1.5" />
<path d="M505.5 1798.9L508.7 1786.6L511.9 1785.2L556.0 1785.8L556.1 1786.2L554.9 1790.6L554.8 1792.1L556.9 1798.7L557.9 1800.5L564.8 1805.5L566.3 1806.2L576.6 1807.6L580.2 1810.7L580.0 1812.9L579.7 1813.3L577.3 1814.5L569.8 1813.8L557.5 1815.6L548.6 1820.2L546.0 1822.6L545.5 1822.7L506.6 1800.5L505.5 1798.9Z" stroke-width="1.5" />
<path d="M404.1 1798.9L400.9 1786.6L397.7 1785.2L353.6 1785.8L353.5 1786.2L354.7 1790.6L354.8 1792.1L352.7 1798.7L351.7 1800.5L344.8 1805.5L343.3 1806.2L333.0 1807.6L329.4 1810.7L329.6 1812.9L329.9 1813.3L332.3 1814.5L339.8 1813.8L352.1 1815.6L361.0 1820.2L363.6 1822.6L364.1 1822.7L403.0 1800.5L404.1 1798.9Z" stroke-width="1.5" />
<path d="M508.7 1759.7L511.2 1769.3L512.4 1769.8L552.3 1769.3L551.8 1767.1L552.2 1763.9L554.4 1757.5L556.4 1754.8L564.2 1749.4L566.8 1748.6L575.4 1747.5L576.5 1746.6L569.5 1747.2L557.1 1745.4L555.1 1744.7L547.3 1740.5L545.2 1738.9L508.7 1759.7Z" stroke-width="1.5" />
<path d="M400.9 1759.7L398.4 1769.3L397.2 1769.8L357.3 1769.3L357.8 1767.1L357.4 1763.9L355.2 1757.5L353.2 1754.8L345.4 1749.4L342.8 1748.6L334.2 1747.5L333.1 1746.6L340.1 1747.2L352.5 1745.4L354.5 1744.7L362.3 1740.5L364.4 1738.9L400.9 1759.7Z" stroke-width="1.5" />
<path d="M508.7 1798.3L511.2 1788.7L512.4 1788.2L552.3 1788.7L551.8 1790.9L552.2 1794.1L554.4 1800.5L556.4 1803.2L564.2 1808.6L566.8 1809.4L575.4 1810.5L576.5 1811.4L569.5 1810.8L557.1 1812.6L555.1 1813.3L547.3 1817.5L545.2 1819.1L508.7 1798.3Z" stroke-width="1.5" />
<path d="M400.9 1798.3L398.4 1788.7L397.2 1788.2L357.3 1788.7L357.8 1790.9L357.4 1794.1L355.2 1800.5L353.2 1803.2L345.4 1808.6L342.8 1809.4L334.2 1810.5L333.1 1811.4L340.1 1810.8L352.5 1812.6L354.5 1813.3L362.3 1817.5L364.4 1819.1L400.9 1798.3Z" stroke-width="1.5" />
<path d="M512.4 1761.3L513.8 1766.6L548.7 1766.1L549.2 1762.9L551.0 1757.3L551.9 1755.3L554.2 1752.5L559.0 1749.0L556.4 1748.5L554.4 1747.9L544.9 1742.8L512.4 1761.3Z" stroke-width="1.4" />
<path d="M397.2 1761.3L395.8 1766.6L360.9 1766.1L360.4 1762.9L358.6 1757.3L357.7 1755.3L355.4 1752.5L350.6 1749.0L353.2 1748.5L355.2 1747.9L364.7 1742.8L397.2 1761.3Z" stroke-width="1.4" />
<path d="M512.4 1796.7L513.8 1791.4L548.7 1791.9L549.2 1795.1L551.0 1800.7L551.9 1802.7L554.2 1805.5L559.0 1809.0L556.4 1809.5L554.4 1810.1L544.9 1815.2L512.4 1796.7Z" stroke-width="1.4" />
<path d="M397.2 1796.7L395.8 1791.4L360.9 1791.9L360.4 1795.1L358.6 1800.7L357.7 1802.7L355.4 1805.5L350.6 1809.0L353.2 1809.5L355.2 1810.1L364.7 1815.2L397.2 1796.7Z" stroke-width="1.4" />
<path d="M446.4 1590.5L446.2 1590.5L445.9 1590.6L445.7 1590.6L445.4 1590.7L445.2 1590.8L445.0 1591.0L444.8 1591.2L444.6 1591.4L444.5 1591.6L444.4 1591.9L444.4 1592.1L444.3 1592.4L444.3 1592.6L444.3 1607.4L444.3 1607.6L444.4 1607.9L444.4 1608.1L444.5 1608.4L444.6 1608.6L444.8 1608.8L445.0 1609.0L445.2 1609.2L445.4 1609.3L445.7 1609.4L445.9 1609.4L446.2 1609.5L446.4 1609.5L463.2 1609.5L463.4 1609.5L463.7 1609.4L463.9 1609.4L464.2 1609.3L464.4 1609.2L464.6 1609.0L464.8 1608.8L465.0 1608.6L465.1 1608.4L465.2 1608.1L465.2 1607.9L465.3 1607.6L465.3 1607.4L465.3 1592.6L465.3 1592.4L465.2 1592.1L465.2 1591.9L465.1 1591.6L465.0 1591.4L464.8 1591.2L464.6 1591.0L464.4 1590.8L464.2 1590.7L463.9 1590.6L463.7 1590.6L463.4 1590.5L463.2 1590.5L446.4 1590.5Z" stroke-width="1.5" />
<path d="M447.5 1593.7L447.5 1606.3L462.1 1606.3L462.1 1593.7L447.5 1593.7Z" stroke-width="1.2" />
<path d="M643.3 1770.6L643.3 1770.4L643.2 1770.1L643.2 1769.9L643.1 1769.6L643.0 1769.4L642.8 1769.2L642.6 1769.0L642.4 1768.8L642.2 1768.7L641.9 1768.6L641.7 1768.6L641.4 1768.5L641.2 1768.5L626.4 1768.5L626.2 1768.5L625.9 1768.6L625.7 1768.6L625.4 1768.7L625.2 1768.8L625.0 1769.0L624.8 1769.2L624.6 1769.4L624.5 1769.6L624.4 1769.9L624.4 1770.1L624.3 1770.4L624.3 1770.6L624.3 1787.4L624.3 1787.6L624.4 1787.9L624.4 1788.1L624.5 1788.4L624.6 1788.6L624.8 1788.8L625.0 1789.0L625.2 1789.2L625.4 1789.3L625.7 1789.4L625.9 1789.4L626.2 1789.5L626.4 1789.5L641.2 1789.5L641.4 1789.5L641.7 1789.4L641.9 1789.4L642.2 1789.3L642.4 1789.2L642.6 1789.0L642.8 1788.8L643.0 1788.6L643.1 1788.4L643.2 1788.1L643.2 1787.9L643.3 1787.6L643.3 1787.4L643.3 1770.6Z" stroke-width="1.5" />
<path d="M640.1 1771.7L627.5 1771.7L627.5 1786.3L640.1 1786.3L640.1 1771.7Z" stroke-width="1.2" />
<path d="M463.2 1967.5L463.4 1967.5L463.7 1967.4L463.9 1967.4L464.2 1967.3L464.4 1967.2L464.6 1967.0L464.8 1966.8L465.0 1966.6L465.1 1966.4L465.2 1966.1L465.2 1965.9L465.3 1965.6L465.3 1965.4L465.3 1950.6L465.3 1950.4L465.2 1950.1L465.2 1949.9L465.1 1949.6L465.0 1949.4L464.8 1949.2L464.6 1949.0L464.4 1948.8L464.2 1948.7L463.9 1948.6L463.7 1948.6L463.4 1948.5L463.2 1948.5L446.4 1948.5L446.2 1948.5L445.9 1948.6L445.7 1948.6L445.4 1948.7L445.2 1948.8L445.0 1949.0L444.8 1949.2L444.6 1949.4L444.5 1949.6L444.4 1949.9L444.4 1950.1L444.3 1950.4L444.3 1950.6L444.3 1965.4L444.3 1965.6L444.4 1965.9L444.4 1966.1L444.5 1966.4L444.6 1966.6L444.8 1966.8L445.0 1967.0L445.2 1967.2L445.4 1967.3L445.7 1967.4L445.9 1967.4L446.2 1967.5L446.4 1967.5L463.2 1967.5Z" stroke-width="1.5" />
<path d="M462.1 1964.3L462.1 1951.7L447.5 1951.7L447.5 1964.3L462.1 1964.3Z" stroke-width="1.2" />
<path d="M266.3 1787.4L266.3 1787.6L266.4 1787.9L266.4 1788.1L266.5 1788.4L266.6 1788.6L266.8 1788.8L267.0 1789.0L267.2 1789.2L267.4 1789.3L267.7 1789.4L267.9 1789.4L268.2 1789.5L268.4 1789.5L283.2 1789.5L283.4 1789.5L283.7 1789.4L283.9 1789.4L284.2 1789.3L284.4 1789.2L284.6 1789.0L284.8 1788.8L285.0 1788.6L285.1 1788.4L285.2 1788.1L285.2 1787.9L285.3 1787.6L285.3 1787.4L285.3 1770.6L285.3 1770.4L285.2 1770.1L285.2 1769.9L285.1 1769.6L285.0 1769.4L284.8 1769.2L284.6 1769.0L284.4 1768.8L284.2 1768.7L283.9 1768.6L283.7 1768.6L283.4 1768.5L283.2 1768.5L268.4 1768.5L268.2 1768.5L267.9 1768.6L267.7 1768.6L267.4 1768.7L267.2 1768.8L267.0 1769.0L266.8 1769.2L266.6 1769.4L266.5 1769.6L266.4 1769.9L266.4 1770.1L266.3 1770.4L266.3 1770.6L266.3 1787.4Z" stroke-width="1.5" />
<path d="M269.5 1786.3L282.1 1786.3L282.1 1771.7L269.5 1771.7L269.5 1786.3Z" stroke-width="1.2" />
<path d="M553.9 1701.5L553.1 1703.2L553.1 1704.6L553.8 1706.1L555.0 1707.5L556.2 1708.2L557.8 1708.4L559.1 1708.0L560.4 1707.0L588.0 1669.6L588.5 1668.7L588.7 1667.1L588.3 1665.8L587.3 1664.6L586.2 1663.9L584.6 1663.7L583.3 1664.0L582.0 1665.1L553.9 1701.5Z" stroke-width="1.7" />
<path d="M355.7 1701.5L356.5 1703.2L356.5 1704.6L355.8 1706.1L354.6 1707.5L353.4 1708.2L351.8 1708.4L350.5 1708.0L349.2 1707.0L321.6 1669.6L321.1 1668.7L320.9 1667.1L321.3 1665.8L322.3 1664.6L323.4 1663.9L325.0 1663.7L326.3 1664.0L327.6 1665.1L355.7 1701.5Z" stroke-width="1.7" />
<path d="M553.9 1856.5L553.1 1854.8L553.1 1853.4L553.8 1851.9L555.0 1850.5L556.2 1849.8L557.8 1849.6L559.1 1850.0L560.4 1851.0L588.0 1888.4L588.5 1889.3L588.7 1890.9L588.3 1892.2L587.3 1893.4L586.2 1894.1L584.6 1894.3L583.3 1894.0L582.0 1892.9L553.9 1856.5Z" stroke-width="1.7" />
<path d="M355.7 1856.5L356.5 1854.8L356.5 1853.4L355.8 1851.9L354.6 1850.5L353.4 1849.8L351.8 1849.6L350.5 1850.0L349.2 1851.0L321.6 1888.4L321.1 1889.3L320.9 1890.9L321.3 1892.2L322.3 1893.4L323.4 1894.1L325.0 1894.3L326.3 1894.0L327.6 1892.9L355.7 1856.5Z" stroke-width="1.7" />
<path d="M555.7 1702.8L555.3 1704.1L556.1 1705.5L557.2 1706.2L558.4 1705.8L586.1 1668.5L586.5 1667.3L585.9 1666.2L584.7 1665.9L583.5 1666.6L555.7 1702.8Z" stroke-width="1.5" />
<path d="M353.9 1702.8L354.3 1704.1L353.5 1705.5L352.4 1706.2L351.2 1705.8L323.5 1668.5L323.1 1667.3L323.7 1666.2L324.9 1665.9L326.1 1666.6L353.9 1702.8Z" stroke-width="1.5" />
<path d="M555.7 1855.2L555.3 1853.9L556.1 1852.5L557.2 1851.8L558.4 1852.2L586.1 1889.5L586.5 1890.7L585.9 1891.8L584.7 1892.1L583.5 1891.4L555.7 1855.2Z" stroke-width="1.5" />
<path d="M353.9 1855.2L354.3 1853.9L353.5 1852.5L352.4 1851.8L351.2 1852.2L323.5 1889.5L323.1 1890.7L323.7 1891.8L324.9 1892.1L326.1 1891.4L353.9 1855.2Z" stroke-width="1.5" />
<path d="M500.9 1745.0L613.3 1676.8" stroke-width="1.5" />
<path d="M503.1 1748.6L615.2 1680.6" stroke-width="1.5" />
<path d="M506.8 1745.1L613.8 1679.1" stroke-width="1.0" />
<path d="M408.7 1745.0L296.3 1676.8" stroke-width="1.5" />
<path d="M406.5 1748.6L294.4 1680.6" stroke-width="1.5" />
<path d="M402.8 1745.1L295.8 1679.1" stroke-width="1.0" />
<path d="M500.9 1813.0L613.3 1881.2" stroke-width="1.5" />
<path d="M503.1 1809.4L615.2 1877.4" stroke-width="1.5" />
<path d="M506.8 1812.9L613.8 1878.9" stroke-width="1.0" />
<path d="M408.7 1813.0L296.3 1881.2" stroke-width="1.5" />
<path d="M406.5 1809.4L294.4 1877.4" stroke-width="1.5" />
<path d="M402.8 1812.9L295.8 1878.9" stroke-width="1.0" />
<circle cx="454.8" cy="1779.0" r="38.6" stroke-width="2.8" />
<circle cx="454.8" cy="1779.0" r="43.8" stroke-width="1.4" />
<circle cx="454.8" cy="1779.0" r="36.6" stroke-width="1.1" />
<circle cx="454.8" cy="1896.0" r="23.4" stroke-width="2.2" />
<circle cx="454.8" cy="1896.0" r="28.6" stroke-width="1.3" />
<circle cx="454.8" cy="1896.0" r="37.0" stroke-width="1.3" />
<circle cx="454.8" cy="1896.0" r="43.3" stroke-width="1.3" />
<circle cx="454.8" cy="1896.0" r="47.6" stroke-width="1.3" />
<circle cx="454.8" cy="1662.0" r="23.4" stroke-width="2.2" />
<circle cx="454.8" cy="1662.0" r="28.6" stroke-width="1.3" />
<circle cx="454.8" cy="1662.0" r="37.0" stroke-width="1.3" />
<circle cx="454.8" cy="1662.0" r="43.3" stroke-width="1.3" />
<circle cx="454.8" cy="1662.0" r="47.6" stroke-width="1.3" />
<circle cx="588.8" cy="1779.0" r="16.2" stroke-width="1.4" />
<circle cx="320.8" cy="1779.0" r="16.2" stroke-width="1.4" />
<circle cx="538.0" cy="1674.8" r="16.2" stroke-width="1.4" />
<circle cx="371.6" cy="1674.8" r="16.2" stroke-width="1.4" />
<circle cx="538.0" cy="1883.2" r="16.2" stroke-width="1.4" />
<circle cx="371.6" cy="1883.2" r="16.2" stroke-width="1.4" />
<path d="M454.8 1509.0L454.8 2048.0" stroke-width="1.7" stroke-dasharray="46.5 3.5 5.5 3.5" stroke-dashoffset="22"/>
<path d="M179.0 1779.0L727.0 1779.0" stroke-width="1.7" stroke-dasharray="31 3.2 4.5 3.2" stroke-dashoffset="6"/>
<path d="M553.3 1659.8L624.2 1569.7" stroke-width="1.7" />
<g transform="translate(631.2 1563.6) rotate(-52.06)" stroke-linecap="round"><path transform="translate(0 0)" d="M3.5 -11.5C-3 -9 -5.8 -3 -5.6 4.5A5.6 5.8 0 1 0 -5.6 4.4" stroke-width="1.7"/><path transform="translate(17.5 0)" d="M-6 0L6 0" stroke-width="1.7"/><path transform="translate(35.8 0)" d="M0 0m-6.4 0a6.4 6.6 0 1 0 12.8 0a6.4 6.6 0 1 0 -12.8 0M-0.8 -12.5L0.8 12.5" stroke-width="1.7"/><path transform="translate(54 0)" d="M4.5 -11L-4 -11L-4.8 -1.5C-1 -4.5 5.5 -3.5 5.5 3.5C5.5 9 1.5 11.2 -1.5 11.2C-3.8 11.2 -5 10 -5.6 8.6" stroke-width="1.7"/><path transform="translate(66.5 0)" d="M-0.8 9.5L0.8 11.5" stroke-width="1.7"/><path transform="translate(76.5 0)" d="M-5 -6A5 5 0 0 1 5 -6L5 6A5 5 0 0 1 -5 6Z" stroke-width="1.7"/><path transform="translate(92.1 0)" d="M-5 -6A5 5 0 0 1 5 -6L5 6A5 5 0 0 1 -5 6Z" stroke-width="1.7"/></g>
<circle cx="693.6" cy="1533.1" r="13.8" stroke-width="1.6" />
<path d="M691.2 1523.3L698 1523.3M696.1 1523.3L696.1 1545.6" stroke-width="1.6" />
<path d="M696.1 1545.6L689.5 1543.2" stroke-width="1.2" />
<path d="M1588.6 1634.3L1588.9 1626.9L1588.5 1619.6L1587.4 1612.2L1585.7 1605.0L1583.3 1597.7L1580.3 1590.6L1576.5 1583.6L1572.2 1576.7L1567.2 1569.9L1561.6 1563.4L1555.4 1557.0L1548.7 1550.8L1541.3 1544.8L1533.5 1539.1L1525.1 1533.6L1516.2 1528.4L1506.9 1523.5L1497.2 1519.0L1487.0 1514.7L1476.4 1510.7L1465.5 1507.1L1454.3 1503.8L1442.8 1501.0L1431.1 1498.4L1419.1 1496.3L1407.0 1494.5L1394.7 1493.1L1382.3 1492.1L1369.8 1491.5L1357.3 1491.3L1344.8 1491.5L1332.3 1492.1L1319.9 1493.1L1307.6 1494.5L1295.5 1496.3L1283.5 1498.4L1271.8 1501.0L1260.3 1503.8L1249.1 1507.1L1238.2 1510.7L1227.6 1514.7L1217.4 1519.0L1207.7 1523.5L1198.4 1528.4L1189.5 1533.6L1181.1 1539.1L1173.3 1544.8L1165.9 1550.8L1159.2 1557.0L1153.0 1563.4L1147.4 1569.9L1142.4 1576.7L1138.1 1583.6L1134.3 1590.6L1131.3 1597.7L1128.9 1605.0L1127.2 1612.2L1126.1 1619.6L1125.7 1626.9L1126.0 1634.3" stroke-width="2.4" />
<path d="M1574.9 1695.6L1579.5 1687.3L1583.2 1678.9L1586.0 1670.3L1587.9 1661.7L1588.8 1653.0L1588.8 1644.3L1587.8 1635.6L1585.9 1626.9L1583.0 1618.4L1579.2 1610.0L1574.5 1601.7L1568.9 1593.6L1562.5 1585.8L1555.2 1578.2L1547.1 1570.9L1538.2 1563.9L1528.6 1557.3L1518.2 1551.0L1507.3 1545.2L1495.7 1539.8L1483.5 1534.8L1470.8 1530.3L1457.7 1526.2L1444.1 1522.7L1430.2 1519.7L1416.0 1517.2L1401.5 1515.3L1386.9 1513.9L1372.1 1513.1L1357.3 1512.8L1342.5 1513.1L1327.7 1513.9L1313.1 1515.3L1298.6 1517.2L1284.4 1519.7L1270.5 1522.7L1256.9 1526.2L1243.8 1530.3L1231.1 1534.8L1218.9 1539.8L1207.3 1545.2L1196.4 1551.0L1186.0 1557.3L1176.4 1563.9L1167.5 1570.9L1159.4 1578.2L1152.1 1585.8L1145.7 1593.6L1140.1 1601.7L1135.4 1610.0L1131.6 1618.4L1128.7 1626.9L1126.8 1635.6L1125.8 1644.3L1125.8 1653.0L1126.7 1661.7L1128.6 1670.3L1131.4 1678.9L1135.1 1687.3L1139.7 1695.6" stroke-width="2.2" />
<path d="M1588.9 1627.5L1588.9 1648.9" stroke-width="1.8" />
<path d="M1125.7 1627.5L1125.7 1648.9" stroke-width="1.8" />
<path d="M1124.7 1648.9L1125.0 1649.6L1125.3 1650.5L1125.7 1651.6L1126.2 1652.8L1126.7 1654.1L1127.2 1655.4L1127.7 1656.6L1128.1 1657.7L1128.5 1658.6L1128.9 1659.4L1129.2 1658.5L1129.6 1658.3L1129.9 1658.5L1130.3 1659.3L1130.8 1660.8L1131.3 1664.9L1131.9 1664.1L1132.5 1664.8L1133.2 1666.0L1133.9 1667.6L1134.7 1669.5L1135.5 1671.9L1136.2 1674.9L1137.0 1680.3L1137.8 1680.0L1138.5 1681.9L1139.3 1684.3L1140.1 1687.2L1140.9 1690.4L1141.7 1693.7L1142.6 1697.2L1143.3 1700.8L1144.1 1702.6L1145.0 1704.5L1145.8 1706.5L1146.6 1708.7L1147.4 1711.0L1148.2 1713.7L1148.9 1716.7L1149.7 1721.4L1150.4 1721.8L1151.2 1724.0L1151.9 1726.5L1152.6 1729.3L1153.3 1732.2L1154.0 1735.3L1154.7 1738.5L1155.4 1741.9L1156.1 1743.7L1156.9 1745.6L1157.6 1747.6L1158.3 1749.8L1159.0 1752.2L1159.7 1754.8L1160.4 1757.8L1161.1 1762.4L1161.8 1762.8L1162.5 1764.7L1163.1 1767.0L1163.7 1769.5L1164.4 1772.1L1165.0 1775.0L1165.6 1778.3L1166.2 1783.0L1166.8 1783.3L1167.4 1785.0L1168.0 1787.0L1168.5 1789.3L1169.1 1791.9L1169.6 1794.7L1170.2 1798.1L1170.6 1803.5L1171.1 1803.2L1171.6 1805.0L1172.0 1807.4L1172.4 1810.0L1172.8 1812.9L1173.2 1815.9L1173.5 1819.3L1173.8 1824.1L1174.1 1823.9L1174.4 1825.7L1174.6 1828.0L1174.8 1830.5L1175.0 1833.0L1175.2 1835.5L1175.4 1837.9L1175.5 1840.0" stroke-width="2.556" />
<path d="M1589.9 1648.9L1589.6 1649.6L1589.3 1650.5L1588.9 1651.6L1588.4 1652.8L1587.9 1654.1L1587.4 1655.4L1586.9 1656.6L1586.5 1657.7L1586.1 1658.6L1585.7 1659.4L1585.4 1658.5L1585.0 1658.3L1584.7 1658.5L1584.3 1659.3L1583.8 1660.8L1583.3 1664.9L1582.7 1664.1L1582.1 1664.8L1581.4 1666.0L1580.7 1667.6L1579.9 1669.5L1579.1 1671.9L1578.4 1674.9L1577.6 1680.3L1576.8 1680.0L1576.1 1681.9L1575.3 1684.3L1574.5 1687.2L1573.7 1690.4L1572.9 1693.7L1572.0 1697.2L1571.3 1700.8L1570.5 1702.6L1569.6 1704.5L1568.8 1706.5L1568.0 1708.7L1567.2 1711.0L1566.4 1713.7L1565.7 1716.7L1564.9 1721.4L1564.2 1721.8L1563.4 1724.0L1562.7 1726.5L1562.0 1729.3L1561.3 1732.2L1560.6 1735.3L1559.9 1738.5L1559.2 1741.9L1558.5 1743.7L1557.7 1745.6L1557.0 1747.6L1556.3 1749.8L1555.6 1752.2L1554.9 1754.8L1554.2 1757.8L1553.5 1762.4L1552.8 1762.8L1552.1 1764.7L1551.5 1767.0L1550.9 1769.5L1550.2 1772.1L1549.6 1775.0L1549.0 1778.3L1548.4 1783.0L1547.8 1783.3L1547.2 1785.0L1546.6 1787.0L1546.1 1789.3L1545.5 1791.9L1545.0 1794.7L1544.4 1798.1L1544.0 1803.5L1543.5 1803.2L1543.0 1805.0L1542.6 1807.4L1542.2 1810.0L1541.8 1812.9L1541.4 1815.9L1541.1 1819.3L1540.8 1824.1L1540.5 1823.9L1540.2 1825.7L1540.0 1828.0L1539.8 1830.5L1539.6 1833.0L1539.4 1835.5L1539.2 1837.9L1539.1 1840.0" stroke-width="2.556" />
<path d="M1284.2 1519.8L1284.4 1519.6L1284.7 1520.3L1285.0 1521.1L1285.4 1522.0L1285.8 1522.9L1286.2 1523.9L1286.6 1524.8L1287.0 1525.6L1287.3 1526.3L1287.6 1526.7L1287.8 1527.1L1288.1 1527.4L1288.4 1528.0L1288.7 1528.8L1288.9 1529.9L1289.2 1531.6L1289.5 1533.9L1289.9 1536.7L1290.2 1539.8L1290.5 1543.1L1290.8 1546.5L1291.1 1550.0L1291.5 1553.4L1291.8 1556.6L1292.1 1559.6L1292.4 1562.6L1292.7 1565.6L1293.0 1568.6L1293.3 1571.6L1293.6 1574.6L1294.0 1577.6L1294.3 1580.6L1294.7 1583.6L1295.1 1586.6L1295.5 1589.6L1295.9 1592.6L1296.3 1595.5L1296.7 1598.5L1297.1 1601.5L1297.5 1604.5L1297.8 1607.4L1298.2 1610.2L1298.5 1613.1L1298.8 1615.9L1299.2 1618.8L1299.5 1621.8L1299.8 1624.9L1300.0 1628.1L1300.3 1631.5L1300.6 1635.1L1300.9 1638.8L1301.1 1642.6L1301.3 1646.4L1301.6 1650.2L1301.8 1654.0L1301.9 1657.7L1302.1 1661.2L1302.2 1664.5L1302.3 1667.7L1302.4 1670.9L1302.4 1674.4L1302.5 1678.1L1302.5 1682.2L1302.6 1687.0L1302.6 1692.8L1302.6 1699.8L1302.6 1707.1L1302.6 1714.7L1302.6 1722.1L1302.6 1728.6L1302.6 1734.1L1302.6 1738.1" stroke-width="3.2659999999999996" />
<path d="M1430.4 1519.8L1430.2 1519.6L1429.9 1520.3L1429.6 1521.1L1429.2 1522.0L1428.8 1522.9L1428.4 1523.9L1428.0 1524.8L1427.6 1525.6L1427.3 1526.3L1427.0 1526.7L1426.8 1527.1L1426.5 1527.4L1426.2 1528.0L1425.9 1528.8L1425.7 1529.9L1425.4 1531.6L1425.1 1533.9L1424.7 1536.7L1424.4 1539.8L1424.1 1543.1L1423.8 1546.5L1423.5 1550.0L1423.1 1553.4L1422.8 1556.6L1422.5 1559.6L1422.2 1562.6L1421.9 1565.6L1421.6 1568.6L1421.3 1571.6L1421.0 1574.6L1420.6 1577.6L1420.3 1580.6L1419.9 1583.6L1419.5 1586.6L1419.1 1589.6L1418.7 1592.6L1418.3 1595.5L1417.9 1598.5L1417.5 1601.5L1417.1 1604.5L1416.8 1607.4L1416.4 1610.2L1416.1 1613.1L1415.8 1615.9L1415.4 1618.8L1415.1 1621.8L1414.8 1624.9L1414.6 1628.1L1414.3 1631.5L1414.0 1635.1L1413.7 1638.8L1413.5 1642.6L1413.3 1646.4L1413.0 1650.2L1412.8 1654.0L1412.7 1657.7L1412.5 1661.2L1412.4 1664.5L1412.3 1667.7L1412.2 1670.9L1412.2 1674.4L1412.1 1678.1L1412.1 1682.2L1412.0 1687.0L1412.0 1692.8L1412.0 1699.8L1412.0 1707.1L1412.0 1714.7L1412.0 1722.1L1412.0 1728.6L1412.0 1734.1L1412.0 1738.1" stroke-width="3.2659999999999996" />
<path d="M1307.0 1535.3L1307.1 1536.7L1307.2 1538.7L1307.3 1540.9L1307.4 1543.4L1307.5 1546.0L1307.7 1548.6L1307.8 1551.2L1307.9 1553.6L1308.0 1555.8L1308.1 1557.8L1308.2 1559.8L1308.4 1561.7L1308.5 1563.8L1308.6 1566.1L1308.8 1568.8L1308.9 1571.9L1309.1 1575.7L1309.4 1580.0L1309.6 1584.8L1309.9 1589.7L1310.1 1594.7L1310.4 1599.6L1310.6 1604.2L1310.8 1608.2L1311.0 1611.8L1311.2 1614.9L1311.4 1617.8L1311.5 1620.5L1311.6 1623.2L1311.8 1626.0L1311.9 1628.9L1312.1 1632.1L1312.2 1635.4L1312.4 1638.8L1312.5 1642.3L1312.7 1645.9L1312.8 1649.6L1313.0 1653.5L1313.1 1657.5L1313.4 1661.8L1313.6 1666.4L1313.9 1671.2L1314.3 1676.3L1314.6 1681.5L1314.9 1686.7L1315.3 1692.0L1315.6 1697.2L1315.9 1702.4L1316.2 1707.6L1316.5 1713.2L1316.8 1718.9L1317.0 1724.6L1317.3 1729.9L1317.5 1734.6L1317.7 1738.5L1317.8 1741.5" stroke-width="1.8459999999999999" />
<path d="M1407.6 1535.3L1407.5 1536.7L1407.4 1538.7L1407.3 1540.9L1407.2 1543.4L1407.1 1546.0L1406.9 1548.6L1406.8 1551.2L1406.7 1553.6L1406.6 1555.8L1406.5 1557.8L1406.4 1559.8L1406.2 1561.7L1406.1 1563.8L1406.0 1566.1L1405.8 1568.8L1405.7 1571.9L1405.5 1575.7L1405.2 1580.0L1405.0 1584.8L1404.7 1589.7L1404.5 1594.7L1404.2 1599.6L1404.0 1604.2L1403.8 1608.2L1403.6 1611.8L1403.4 1614.9L1403.2 1617.8L1403.1 1620.5L1403.0 1623.2L1402.8 1626.0L1402.7 1628.9L1402.5 1632.1L1402.4 1635.4L1402.2 1638.8L1402.1 1642.3L1401.9 1645.9L1401.8 1649.6L1401.6 1653.5L1401.5 1657.5L1401.2 1661.8L1401.0 1666.4L1400.7 1671.2L1400.3 1676.3L1400.0 1681.5L1399.7 1686.7L1399.3 1692.0L1399.0 1697.2L1398.7 1702.4L1398.4 1707.6L1398.1 1713.2L1397.8 1718.9L1397.6 1724.6L1397.3 1729.9L1397.1 1734.6L1396.9 1738.5L1396.8 1741.5" stroke-width="1.8459999999999999" />
<path d="M1310.8 1534.8L1310.9 1536.2L1311.0 1538.1L1311.1 1540.4L1311.3 1542.9L1311.4 1545.5L1311.6 1548.1L1311.7 1550.7L1311.8 1553.1L1312.0 1555.3L1312.1 1557.3L1312.1 1559.2L1312.2 1561.2L1312.3 1563.3L1312.4 1565.6L1312.6 1568.3L1312.7 1571.4L1312.9 1575.2L1313.2 1579.5L1313.4 1584.2L1313.7 1589.2L1313.9 1594.2L1314.2 1599.1L1314.4 1603.6L1314.6 1607.7L1314.8 1611.2L1315.0 1614.4L1315.1 1617.3L1315.2 1620.0L1315.3 1622.7L1315.4 1625.5L1315.5 1628.4L1315.7 1631.6L1315.8 1634.9L1315.9 1638.3L1316.0 1641.8L1316.1 1645.4L1316.2 1649.1L1316.3 1653.0L1316.4 1657.1L1316.5 1661.4L1316.7 1665.9L1316.9 1670.8L1317.1 1675.9L1317.4 1681.1L1317.6 1686.3L1317.8 1691.6L1318.0 1696.9L1318.2 1702.1L1318.3 1707.3L1318.5 1712.9L1318.6 1718.7L1318.7 1724.4L1318.8 1729.6L1318.9 1734.4L1319.0 1738.3L1319.1 1741.3" stroke-width="1.8459999999999999" />
<path d="M1403.8 1534.8L1403.7 1536.2L1403.6 1538.1L1403.5 1540.4L1403.3 1542.9L1403.2 1545.5L1403.0 1548.1L1402.9 1550.7L1402.8 1553.1L1402.6 1555.3L1402.5 1557.3L1402.5 1559.2L1402.4 1561.2L1402.3 1563.3L1402.2 1565.6L1402.0 1568.3L1401.9 1571.4L1401.7 1575.2L1401.4 1579.5L1401.2 1584.2L1400.9 1589.2L1400.7 1594.2L1400.4 1599.1L1400.2 1603.6L1400.0 1607.7L1399.8 1611.2L1399.6 1614.4L1399.5 1617.3L1399.4 1620.0L1399.3 1622.7L1399.2 1625.5L1399.1 1628.4L1398.9 1631.6L1398.8 1634.9L1398.7 1638.3L1398.6 1641.8L1398.5 1645.4L1398.4 1649.1L1398.3 1653.0L1398.2 1657.1L1398.1 1661.4L1397.9 1665.9L1397.7 1670.8L1397.5 1675.9L1397.2 1681.1L1397.0 1686.3L1396.8 1691.6L1396.6 1696.9L1396.4 1702.1L1396.3 1707.3L1396.1 1712.9L1396.0 1718.7L1395.9 1724.4L1395.8 1729.6L1395.7 1734.4L1395.6 1738.3L1395.5 1741.3" stroke-width="1.8459999999999999" />
<path d="M1305.7 1529.7L1305.8 1529.1L1305.7 1528.4L1305.7 1527.5L1305.7 1526.5L1305.7 1525.5L1305.7 1524.5L1305.8 1523.5L1306.0 1522.6L1306.2 1521.6L1306.6 1520.6L1306.9 1519.4L1307.3 1518.4L1307.7 1517.4L1308.2 1516.6L1308.6 1516.1L1308.9 1515.8L1309.3 1516.0L1309.6 1516.4L1310.0 1517.1L1310.3 1518.0L1310.6 1519.0L1311.0 1520.0L1311.2 1521.0L1311.5 1521.9L1311.7 1522.7L1311.8 1523.7L1312.0 1524.7L1312.1 1525.7L1312.2 1526.7L1312.2 1527.5L1312.3 1528.3L1312.4 1528.8" stroke-width="1.8459999999999999" />
<path d="M1408.9 1529.7L1408.8 1529.1L1408.9 1528.4L1408.9 1527.5L1408.9 1526.5L1408.9 1525.5L1408.9 1524.5L1408.8 1523.5L1408.6 1522.6L1408.4 1521.6L1408.0 1520.6L1407.7 1519.4L1407.3 1518.4L1406.9 1517.4L1406.4 1516.6L1406.0 1516.1L1405.7 1515.8L1405.3 1516.0L1405.0 1516.4L1404.6 1517.1L1404.3 1518.0L1404.0 1519.0L1403.6 1520.0L1403.4 1521.0L1403.1 1521.9L1402.9 1522.7L1402.8 1523.7L1402.6 1524.7L1402.5 1525.7L1402.4 1526.7L1402.4 1527.5L1402.3 1528.3L1402.2 1528.8" stroke-width="1.8459999999999999" />
<path d="M1309.3 1515.9L1309.6 1517.6L1310.0 1519.9L1310.5 1522.5L1311.0 1525.5L1311.5 1528.6L1312.1 1532.0L1312.8 1535.4L1313.4 1538.9L1314.0 1542.6L1314.8 1546.9L1315.6 1551.3L1316.5 1555.8L1317.3 1560.0L1318.0 1563.7L1318.6 1566.7L1319.1 1568.9" stroke-width="2.13" />
<path d="M1405.3 1515.9L1405.0 1517.6L1404.6 1519.9L1404.1 1522.5L1403.6 1525.5L1403.1 1528.6L1402.5 1532.0L1401.8 1535.4L1401.2 1538.9L1400.6 1542.6L1399.8 1546.9L1399.0 1551.3L1398.1 1555.8L1397.3 1560.0L1396.6 1563.7L1396.0 1566.7L1395.5 1568.9" stroke-width="2.13" />
<path d="M1312.4 1536.2L1312.6 1537.5L1313.0 1539.2L1313.4 1541.2L1313.9 1543.5L1314.4 1545.8L1314.9 1548.2L1315.4 1550.6L1315.9 1552.9L1316.4 1555.2L1317.1 1557.8L1317.7 1560.5L1318.4 1563.2L1319.0 1565.7L1319.5 1567.9L1320.0 1569.6L1320.4 1570.5" stroke-width="1.8459999999999999" />
<path d="M1402.2 1536.2L1402.0 1537.5L1401.6 1539.2L1401.2 1541.2L1400.7 1543.5L1400.2 1545.8L1399.7 1548.2L1399.2 1550.6L1398.7 1552.9L1398.2 1555.2L1397.5 1557.8L1396.9 1560.5L1396.2 1563.2L1395.6 1565.7L1395.1 1567.9L1394.6 1569.6L1394.2 1570.5" stroke-width="1.8459999999999999" />
<path d="M1319.1 1569.1L1319.3 1569.2L1319.5 1569.4L1319.8 1569.6L1320.1 1569.9L1320.4 1570.2L1320.8 1570.7L1321.0 1571.2L1321.2 1571.9L1321.4 1572.7L1321.5 1573.5L1321.6 1574.5L1321.7 1575.5L1321.7 1576.7L1321.8 1578.0L1321.8 1579.4L1321.9 1581.1L1321.9 1582.8L1322.0 1584.5L1322.0 1586.3L1322.0 1588.3L1322.0 1590.6L1322.0 1593.1L1322.0 1596.1L1322.0 1599.5L1322.0 1603.6L1322.0 1608.2L1321.9 1613.3L1321.9 1618.7L1321.9 1624.3L1321.8 1629.9L1321.7 1635.4L1321.6 1640.7L1321.5 1645.8L1321.4 1650.8L1321.2 1655.9L1321.0 1660.9L1320.9 1666.4L1320.7 1672.3L1320.5 1678.3L1320.4 1684.4L1320.2 1691.1L1320.0 1698.3L1319.8 1705.8L1319.6 1713.2L1319.5 1720.2L1319.3 1726.4L1319.2 1731.6L1319.1 1735.5" stroke-width="2.272" />
<path d="M1395.5 1569.1L1395.3 1569.2L1395.1 1569.4L1394.8 1569.6L1394.5 1569.9L1394.2 1570.2L1393.8 1570.7L1393.6 1571.2L1393.4 1571.9L1393.2 1572.7L1393.1 1573.5L1393.0 1574.5L1392.9 1575.5L1392.9 1576.7L1392.8 1578.0L1392.8 1579.4L1392.7 1581.1L1392.7 1582.8L1392.6 1584.5L1392.6 1586.3L1392.6 1588.3L1392.6 1590.6L1392.6 1593.1L1392.6 1596.1L1392.6 1599.5L1392.6 1603.6L1392.6 1608.2L1392.7 1613.3L1392.7 1618.7L1392.7 1624.3L1392.8 1629.9L1392.9 1635.4L1393.0 1640.7L1393.1 1645.8L1393.2 1650.8L1393.4 1655.9L1393.6 1660.9L1393.7 1666.4L1393.9 1672.3L1394.1 1678.3L1394.2 1684.4L1394.4 1691.1L1394.6 1698.3L1394.8 1705.8L1395.0 1713.2L1395.1 1720.2L1395.3 1726.4L1395.4 1731.6L1395.5 1735.5" stroke-width="2.272" />
<path d="M1317.8 1583.6L1317.8 1586.5L1317.8 1590.3L1317.8 1594.8L1317.9 1599.8L1317.9 1605.2L1317.9 1610.5L1317.8 1615.8L1317.8 1620.6L1317.8 1625.4L1317.7 1630.5L1317.6 1635.7L1317.5 1640.9L1317.4 1645.8L1317.3 1650.2L1317.2 1653.8L1317.2 1656.6" stroke-width="1.9879999999999998" />
<path d="M1396.8 1583.6L1396.8 1586.5L1396.8 1590.3L1396.8 1594.8L1396.7 1599.8L1396.7 1605.2L1396.7 1610.5L1396.8 1615.8L1396.8 1620.6L1396.8 1625.4L1396.9 1630.5L1397.0 1635.7L1397.1 1640.9L1397.2 1645.8L1397.3 1650.2L1397.4 1653.8L1397.4 1656.6" stroke-width="1.9879999999999998" />
<path d="M1302.6 1738.1L1319.1 1735.5" stroke-width="2.84" />
<path d="M1412.0 1738.1L1395.5 1735.5" stroke-width="2.84" />
<path d="M1313.4 1656.0L1318.0 1655.4" stroke-width="1.704" />
<path d="M1401.2 1656.0L1396.6 1655.4" stroke-width="1.704" />
<path d="M1305.7 1529.7L1312.4 1528.8" stroke-width="1.704" />
<path d="M1408.9 1529.7L1402.2 1528.8" stroke-width="1.704" />
<path d="M1319.1 1569.0L1331.9 1567.8L1344.8 1567.0" stroke-width="2.272" />
<path d="M1395.5 1569.0L1382.7 1567.8L1369.8 1567.0" stroke-width="2.272" />
<path d="M1317.8 1583.6L1331.2 1582.2L1344.6 1581.4" stroke-width="2.272" />
<path d="M1396.8 1583.6L1383.4 1582.2L1370.0 1581.4" stroke-width="2.272" />
<path d="M1230.2 1535.1L1230.4 1534.9L1230.7 1535.5L1231.0 1536.3L1231.4 1537.2L1231.7 1538.1L1232.1 1539.0L1232.4 1539.9L1232.7 1540.7L1233.0 1541.3L1233.2 1541.7L1233.4 1542.0L1233.6 1542.4L1233.8 1542.9L1234.0 1543.7L1234.3 1544.9L1234.6 1546.6L1235.1 1548.8L1235.6 1551.5L1236.1 1554.5L1236.7 1557.7L1237.3 1561.1L1237.9 1564.5L1238.5 1567.8L1239.1 1571.0L1239.6 1573.9L1240.2 1576.8L1240.8 1579.7L1241.3 1582.6L1241.9 1585.6L1242.4 1588.5L1243.0 1591.4L1243.5 1594.3L1244.1 1597.2L1244.6 1600.1L1245.2 1603.0L1245.8 1606.0L1246.3 1608.9L1246.9 1611.8L1247.4 1614.7L1248.0 1617.6L1248.5 1620.4L1249.1 1623.2L1249.7 1625.9L1250.2 1628.7L1250.8 1631.5L1251.4 1634.3L1251.9 1637.3L1252.4 1640.5L1252.9 1643.8L1253.4 1647.4L1254.0 1651.0L1254.4 1654.7L1254.9 1658.5L1255.4 1662.2L1255.8 1666.0L1256.2 1669.6L1256.6 1673.2L1257.0 1676.9L1257.4 1680.5L1257.7 1684.1L1258.0 1687.8L1258.3 1691.3L1258.5 1694.9L1258.8 1698.5L1259.0 1702.2L1259.1 1705.9L1259.2 1709.7L1259.3 1713.3L1259.4 1716.9L1259.4 1720.4L1259.5 1723.8L1259.5 1727.1L1259.6 1730.4L1259.6 1733.8L1259.7 1737.1L1259.7 1740.3L1259.7 1743.2L1259.8 1745.9L1259.8 1748.1L1259.8 1749.8" stroke-width="3.2659999999999996" />
<path d="M1484.4 1535.1L1484.2 1534.9L1483.9 1535.5L1483.6 1536.3L1483.2 1537.2L1482.9 1538.1L1482.5 1539.0L1482.2 1539.9L1481.9 1540.7L1481.6 1541.3L1481.4 1541.7L1481.2 1542.0L1481.0 1542.4L1480.8 1542.9L1480.6 1543.7L1480.3 1544.9L1480.0 1546.6L1479.5 1548.8L1479.0 1551.5L1478.5 1554.5L1477.9 1557.7L1477.3 1561.1L1476.7 1564.5L1476.1 1567.8L1475.5 1571.0L1475.0 1573.9L1474.4 1576.8L1473.8 1579.7L1473.3 1582.6L1472.7 1585.6L1472.2 1588.5L1471.6 1591.4L1471.1 1594.3L1470.5 1597.2L1470.0 1600.1L1469.4 1603.0L1468.8 1606.0L1468.3 1608.9L1467.7 1611.8L1467.2 1614.7L1466.6 1617.6L1466.1 1620.4L1465.5 1623.2L1464.9 1625.9L1464.4 1628.7L1463.8 1631.5L1463.2 1634.3L1462.7 1637.3L1462.2 1640.5L1461.7 1643.8L1461.2 1647.4L1460.6 1651.0L1460.2 1654.7L1459.7 1658.5L1459.2 1662.2L1458.8 1666.0L1458.4 1669.6L1458.0 1673.2L1457.6 1676.9L1457.2 1680.5L1456.9 1684.1L1456.6 1687.8L1456.3 1691.3L1456.1 1694.9L1455.8 1698.5L1455.6 1702.2L1455.5 1705.9L1455.4 1709.7L1455.3 1713.3L1455.2 1716.9L1455.2 1720.4L1455.1 1723.8L1455.1 1727.1L1455.0 1730.4L1455.0 1733.8L1454.9 1737.1L1454.9 1740.3L1454.9 1743.2L1454.8 1745.9L1454.8 1748.1L1454.8 1749.8" stroke-width="3.2659999999999996" />
<path d="M1251.8 1547.8L1251.9 1549.7L1252.1 1552.1L1252.3 1554.8L1252.5 1557.9L1252.8 1561.3L1253.0 1564.9L1253.3 1568.6L1253.7 1572.5L1254.1 1576.4L1254.5 1580.6L1255.0 1585.1L1255.4 1589.7L1255.9 1594.4L1256.5 1599.2L1257.0 1603.9L1257.5 1608.4L1258.0 1613.0L1258.6 1617.5L1259.1 1622.1L1259.7 1626.6L1260.2 1631.1L1260.8 1635.4L1261.4 1639.7L1261.9 1643.8L1262.5 1647.6L1263.1 1651.2L1263.6 1654.6L1264.2 1657.9L1264.8 1661.3L1265.3 1664.8L1265.9 1668.6L1266.4 1672.7L1266.9 1677.2L1267.4 1682.0L1267.9 1687.0L1268.3 1692.2L1268.8 1697.4L1269.3 1702.7L1269.7 1707.9L1270.2 1713.0L1270.7 1718.1L1271.2 1723.6L1271.8 1729.3L1272.3 1734.9L1272.9 1740.0L1273.3 1744.6L1273.7 1748.5L1274.0 1751.4" stroke-width="1.8459999999999999" />
<path d="M1462.8 1547.8L1462.7 1549.7L1462.5 1552.1L1462.3 1554.8L1462.1 1557.9L1461.8 1561.3L1461.6 1564.9L1461.3 1568.6L1460.9 1572.5L1460.5 1576.4L1460.1 1580.6L1459.6 1585.1L1459.2 1589.7L1458.7 1594.4L1458.1 1599.2L1457.6 1603.9L1457.1 1608.4L1456.6 1613.0L1456.0 1617.5L1455.5 1622.1L1454.9 1626.6L1454.4 1631.1L1453.8 1635.4L1453.2 1639.7L1452.7 1643.8L1452.1 1647.6L1451.5 1651.2L1451.0 1654.6L1450.4 1657.9L1449.8 1661.3L1449.3 1664.8L1448.7 1668.6L1448.2 1672.7L1447.7 1677.2L1447.2 1682.0L1446.7 1687.0L1446.3 1692.2L1445.8 1697.4L1445.3 1702.7L1444.9 1707.9L1444.4 1713.0L1443.9 1718.1L1443.4 1723.6L1442.8 1729.3L1442.3 1734.9L1441.7 1740.0L1441.3 1744.6L1440.9 1748.5L1440.6 1751.4" stroke-width="1.8459999999999999" />
<path d="M1256.0 1546.5L1256.2 1548.3L1256.5 1550.7L1256.8 1553.4L1257.1 1556.4L1257.5 1559.8L1257.9 1563.3L1258.4 1567.0L1258.8 1570.8L1259.2 1574.7L1259.6 1578.9L1260.1 1583.4L1260.6 1588.0L1261.1 1592.7L1261.6 1597.5L1262.1 1602.2L1262.6 1606.8L1263.1 1611.3L1263.5 1615.9L1264.0 1620.5L1264.5 1625.0L1265.0 1629.5L1265.5 1633.9L1265.9 1638.2L1266.4 1642.3L1266.8 1646.2L1267.2 1649.8L1267.6 1653.3L1268.0 1656.7L1268.4 1660.1L1268.8 1663.7L1269.2 1667.5L1269.6 1671.7L1269.9 1676.2L1270.3 1681.0L1270.7 1686.1L1271.1 1691.3L1271.5 1696.5L1271.8 1701.8L1272.2 1707.1L1272.5 1712.2L1272.8 1717.4L1273.1 1723.0L1273.4 1728.7L1273.7 1734.4L1274.0 1739.6L1274.3 1744.3L1274.5 1748.3L1274.6 1751.2" stroke-width="1.8459999999999999" />
<path d="M1458.6 1546.5L1458.4 1548.3L1458.1 1550.7L1457.8 1553.4L1457.5 1556.4L1457.1 1559.8L1456.7 1563.3L1456.2 1567.0L1455.8 1570.8L1455.4 1574.7L1455.0 1578.9L1454.5 1583.4L1454.0 1588.0L1453.5 1592.7L1453.0 1597.5L1452.5 1602.2L1452.0 1606.8L1451.5 1611.3L1451.1 1615.9L1450.6 1620.5L1450.1 1625.0L1449.6 1629.5L1449.1 1633.9L1448.7 1638.2L1448.2 1642.3L1447.8 1646.2L1447.4 1649.8L1447.0 1653.3L1446.6 1656.7L1446.2 1660.1L1445.8 1663.7L1445.4 1667.5L1445.0 1671.7L1444.7 1676.2L1444.3 1681.0L1443.9 1686.1L1443.5 1691.3L1443.1 1696.5L1442.8 1701.8L1442.4 1707.1L1442.1 1712.2L1441.8 1717.4L1441.5 1723.0L1441.2 1728.7L1440.9 1734.4L1440.6 1739.6L1440.3 1744.3L1440.1 1748.3L1440.0 1751.2" stroke-width="1.8459999999999999" />
<path d="M1250.5 1541.8L1250.5 1541.2L1250.5 1540.5L1250.5 1539.5L1250.5 1538.5L1250.6 1537.5L1250.6 1536.4L1250.7 1535.4L1250.9 1534.5L1251.1 1533.5L1251.4 1532.3L1251.7 1531.2L1252.1 1530.0L1252.4 1529.0L1252.8 1528.1L1253.1 1527.5L1253.4 1527.2L1253.7 1527.3L1254.0 1527.8L1254.3 1528.4L1254.6 1529.3L1254.9 1530.2L1255.2 1531.2L1255.4 1532.2L1255.6 1533.1L1255.8 1533.9L1255.9 1534.9L1256.0 1535.9L1256.0 1536.9L1256.1 1537.9L1256.2 1538.8L1256.2 1539.5L1256.2 1540.1" stroke-width="1.8459999999999999" />
<path d="M1464.1 1541.8L1464.1 1541.2L1464.1 1540.5L1464.1 1539.5L1464.1 1538.5L1464.0 1537.5L1464.0 1536.4L1463.9 1535.4L1463.7 1534.5L1463.5 1533.5L1463.2 1532.3L1462.9 1531.2L1462.5 1530.0L1462.2 1529.0L1461.8 1528.1L1461.5 1527.5L1461.2 1527.2L1460.9 1527.3L1460.6 1527.8L1460.3 1528.4L1460.0 1529.3L1459.7 1530.2L1459.4 1531.2L1459.2 1532.2L1459.0 1533.1L1458.8 1533.9L1458.7 1534.9L1458.6 1535.9L1458.6 1536.9L1458.5 1537.9L1458.4 1538.8L1458.4 1539.5L1458.4 1540.1" stroke-width="1.8459999999999999" />
<path d="M1253.7 1527.3L1254.3 1529.4L1255.0 1532.1L1255.9 1535.3L1256.9 1538.9L1257.9 1542.6L1259.0 1546.4L1260.2 1550.0L1261.3 1553.4L1262.5 1556.9L1263.9 1560.5L1265.4 1564.3L1266.9 1567.9L1268.3 1571.3L1269.6 1574.2L1270.7 1576.7L1271.5 1578.5" stroke-width="2.13" />
<path d="M1460.9 1527.3L1460.3 1529.4L1459.6 1532.1L1458.7 1535.3L1457.7 1538.9L1456.7 1542.6L1455.6 1546.4L1454.4 1550.0L1453.3 1553.4L1452.1 1556.9L1450.7 1560.5L1449.2 1564.3L1447.7 1567.9L1446.3 1571.3L1445.0 1574.2L1443.9 1576.7L1443.1 1578.5" stroke-width="2.13" />
<path d="M1256.2 1548.2L1256.8 1549.8L1257.6 1551.9L1258.5 1554.4L1259.5 1557.1L1260.5 1559.9L1261.7 1562.5L1262.8 1565.1L1263.8 1567.3L1265.0 1569.3L1266.2 1571.4L1267.6 1573.4L1268.9 1575.3L1270.2 1577.1L1271.3 1578.7L1272.3 1579.5L1273.0 1580.1" stroke-width="1.8459999999999999" />
<path d="M1458.4 1548.2L1457.8 1549.8L1457.0 1551.9L1456.1 1554.4L1455.1 1557.1L1454.1 1559.9L1452.9 1562.5L1451.8 1565.1L1450.8 1567.3L1449.6 1569.3L1448.4 1571.4L1447.0 1573.4L1445.7 1575.3L1444.4 1577.1L1443.3 1578.7L1442.3 1579.5L1441.6 1580.1" stroke-width="1.8459999999999999" />
<path d="M1271.5 1578.7L1271.7 1578.8L1272.1 1578.9L1272.5 1579.1L1273.0 1579.3L1273.5 1579.6L1273.9 1579.9L1274.3 1580.3L1274.6 1580.8L1274.9 1581.5L1275.0 1582.2L1275.2 1582.9L1275.3 1583.8L1275.3 1584.7L1275.4 1585.7L1275.5 1586.7L1275.5 1587.8L1275.6 1588.7L1275.7 1589.4L1275.7 1590.0L1275.8 1590.7L1275.8 1591.7L1275.9 1593.1L1275.9 1595.2L1275.9 1597.9L1275.9 1601.6L1275.9 1606.1L1275.8 1611.1L1275.8 1616.6L1275.7 1622.3L1275.6 1628.1L1275.6 1633.8L1275.5 1639.1L1275.5 1644.2L1275.5 1649.1L1275.4 1653.9L1275.4 1658.7L1275.4 1663.7L1275.4 1668.9L1275.3 1674.7L1275.3 1681.5L1275.2 1689.3L1275.1 1698.1L1275.0 1707.4L1274.9 1716.7L1274.8 1725.6L1274.8 1733.4L1274.7 1740.0L1274.6 1744.8" stroke-width="2.272" />
<path d="M1443.1 1578.7L1442.9 1578.8L1442.5 1578.9L1442.1 1579.1L1441.6 1579.3L1441.1 1579.6L1440.7 1579.9L1440.3 1580.3L1440.0 1580.8L1439.7 1581.5L1439.6 1582.2L1439.4 1582.9L1439.3 1583.8L1439.3 1584.7L1439.2 1585.7L1439.1 1586.7L1439.1 1587.8L1439.0 1588.7L1438.9 1589.4L1438.9 1590.0L1438.8 1590.7L1438.8 1591.7L1438.7 1593.1L1438.7 1595.2L1438.7 1597.9L1438.7 1601.6L1438.7 1606.1L1438.8 1611.1L1438.8 1616.6L1438.9 1622.3L1439.0 1628.1L1439.0 1633.8L1439.1 1639.1L1439.1 1644.2L1439.1 1649.1L1439.2 1653.9L1439.2 1658.7L1439.2 1663.7L1439.2 1668.9L1439.3 1674.7L1439.3 1681.5L1439.4 1689.3L1439.5 1698.1L1439.6 1707.4L1439.7 1716.7L1439.8 1725.6L1439.8 1733.4L1439.9 1740.0L1440.0 1744.8" stroke-width="2.272" />
<path d="M1272.1 1592.9L1272.1 1594.0L1272.1 1595.5L1272.1 1597.2L1272.1 1599.1L1272.1 1601.3L1272.1 1603.8L1272.1 1606.4L1272.1 1609.3L1272.1 1612.5L1272.0 1616.1L1271.9 1620.1L1271.9 1624.2L1271.8 1628.4L1271.7 1632.5L1271.6 1636.6L1271.5 1640.3L1271.3 1644.0L1271.2 1647.8L1271.0 1651.6L1270.8 1655.3L1270.6 1658.7L1270.4 1661.8L1270.3 1664.4L1270.2 1666.3" stroke-width="1.9879999999999998" />
<path d="M1442.5 1592.9L1442.5 1594.0L1442.5 1595.5L1442.5 1597.2L1442.5 1599.1L1442.5 1601.3L1442.5 1603.8L1442.5 1606.4L1442.5 1609.3L1442.5 1612.5L1442.6 1616.1L1442.7 1620.1L1442.7 1624.2L1442.8 1628.4L1442.9 1632.5L1443.0 1636.6L1443.1 1640.3L1443.3 1644.0L1443.4 1647.8L1443.6 1651.6L1443.8 1655.3L1444.0 1658.7L1444.2 1661.8L1444.3 1664.4L1444.4 1666.3" stroke-width="1.9879999999999998" />
<path d="M1259.8 1749.8L1274.6 1744.8" stroke-width="2.84" />
<path d="M1454.8 1749.8L1440.0 1744.8" stroke-width="2.84" />
<path d="M1266.4 1666.3L1271.0 1664.9" stroke-width="1.704" />
<path d="M1448.2 1666.3L1443.6 1664.9" stroke-width="1.704" />
<path d="M1250.5 1541.8L1256.2 1540.1" stroke-width="1.704" />
<path d="M1464.1 1541.8L1458.4 1540.1" stroke-width="1.704" />
<path d="M1271.5 1578.6L1281.6 1575.9L1291.8 1573.5" stroke-width="2.272" />
<path d="M1443.1 1578.6L1433.0 1575.9L1422.8 1573.5" stroke-width="2.272" />
<path d="M1272.1 1592.8L1282.8 1589.9L1293.6 1587.5" stroke-width="2.272" />
<path d="M1442.5 1592.8L1431.8 1589.9L1421.0 1587.5" stroke-width="2.272" />
<path d="M1184.0 1558.6L1184.3 1558.5L1184.7 1559.4L1185.2 1560.6L1185.7 1561.9L1186.2 1563.2L1186.8 1564.6L1187.3 1565.9L1187.8 1567.0L1188.2 1568.0L1188.6 1568.9L1188.9 1569.7L1189.2 1570.5L1189.6 1571.3L1190.0 1572.3L1190.4 1573.5L1191.0 1574.9L1191.6 1576.5L1192.3 1578.2L1193.1 1580.1L1193.9 1582.1L1194.8 1584.2L1195.7 1586.5L1196.5 1588.8L1197.3 1591.2L1198.1 1593.7L1198.9 1596.3L1199.7 1599.0L1200.5 1601.8L1201.3 1604.7L1202.1 1607.6L1202.9 1610.5L1203.7 1613.3L1204.4 1616.1L1205.1 1618.9L1205.9 1621.7L1206.6 1624.5L1207.3 1627.3L1208.0 1630.1L1208.7 1632.9L1209.4 1635.7L1210.0 1638.5L1210.7 1641.1L1211.4 1643.8L1212.0 1646.4L1212.7 1649.1L1213.3 1652.0L1213.9 1654.9L1214.5 1658.0L1215.0 1661.4L1215.5 1664.9L1216.0 1668.5L1216.5 1672.2L1217.0 1676.0L1217.4 1679.9L1217.9 1683.6L1218.3 1687.3L1218.6 1690.9L1219.0 1694.6L1219.3 1698.3L1219.7 1702.0L1220.0 1705.6L1220.3 1709.3L1220.5 1712.9L1220.8 1716.5L1221.1 1720.2L1221.3 1723.9L1221.5 1727.7L1221.8 1731.3L1222.0 1734.9L1222.2 1738.4L1222.3 1741.8L1222.5 1745.1L1222.6 1748.5L1222.6 1751.9L1222.7 1755.2L1222.7 1758.4L1222.7 1761.4L1222.7 1764.1L1222.7 1766.4L1222.7 1768.1" stroke-width="3.2659999999999996" />
<path d="M1530.6 1558.6L1530.3 1558.5L1529.9 1559.4L1529.4 1560.6L1528.9 1561.9L1528.4 1563.2L1527.8 1564.6L1527.3 1565.9L1526.8 1567.0L1526.4 1568.0L1526.0 1568.9L1525.7 1569.7L1525.4 1570.5L1525.0 1571.3L1524.6 1572.3L1524.2 1573.5L1523.6 1574.9L1523.0 1576.5L1522.3 1578.2L1521.5 1580.1L1520.7 1582.1L1519.8 1584.2L1518.9 1586.5L1518.1 1588.8L1517.3 1591.2L1516.5 1593.7L1515.7 1596.3L1514.9 1599.0L1514.1 1601.8L1513.3 1604.7L1512.5 1607.6L1511.7 1610.5L1510.9 1613.3L1510.2 1616.1L1509.5 1618.9L1508.7 1621.7L1508.0 1624.5L1507.3 1627.3L1506.6 1630.1L1505.9 1632.9L1505.2 1635.7L1504.6 1638.5L1503.9 1641.1L1503.2 1643.8L1502.6 1646.4L1501.9 1649.1L1501.3 1652.0L1500.7 1654.9L1500.1 1658.0L1499.6 1661.4L1499.1 1664.9L1498.6 1668.5L1498.1 1672.2L1497.6 1676.0L1497.2 1679.9L1496.7 1683.6L1496.3 1687.3L1496.0 1690.9L1495.6 1694.6L1495.3 1698.3L1494.9 1702.0L1494.6 1705.6L1494.3 1709.3L1494.1 1712.9L1493.8 1716.5L1493.5 1720.2L1493.3 1723.9L1493.1 1727.7L1492.8 1731.3L1492.6 1734.9L1492.4 1738.4L1492.3 1741.8L1492.1 1745.1L1492.0 1748.5L1492.0 1751.9L1491.9 1755.2L1491.9 1758.4L1491.9 1761.4L1491.9 1764.1L1491.9 1766.4L1491.9 1768.1" stroke-width="3.2659999999999996" />
<path d="M1203.7 1569.0L1203.9 1570.9L1204.3 1573.5L1204.8 1576.5L1205.2 1579.7L1205.8 1583.2L1206.3 1586.7L1206.9 1590.1L1207.5 1593.2L1208.0 1596.1L1208.7 1598.9L1209.3 1601.8L1209.9 1604.7L1210.6 1607.5L1211.3 1610.4L1211.9 1613.2L1212.5 1616.1L1213.2 1618.9L1213.8 1621.8L1214.5 1624.6L1215.1 1627.5L1215.8 1630.3L1216.4 1633.2L1217.0 1636.0L1217.6 1638.9L1218.2 1641.7L1218.8 1644.4L1219.3 1647.1L1219.9 1649.8L1220.4 1652.6L1221.0 1655.5L1221.5 1658.4L1222.1 1661.6L1222.6 1664.8L1223.2 1668.1L1223.7 1671.4L1224.3 1674.9L1224.9 1678.5L1225.4 1682.3L1226.0 1686.3L1226.5 1690.5L1227.1 1694.9L1227.7 1699.7L1228.2 1704.8L1228.8 1709.9L1229.4 1715.1L1229.9 1720.3L1230.5 1725.5L1231.0 1730.7L1231.4 1735.8L1231.9 1741.3L1232.4 1747.0L1232.8 1752.7L1233.2 1757.8L1233.6 1762.5L1233.9 1766.4L1234.1 1769.3" stroke-width="1.8459999999999999" />
<path d="M1510.9 1569.0L1510.7 1570.9L1510.3 1573.5L1509.8 1576.5L1509.4 1579.7L1508.8 1583.2L1508.3 1586.7L1507.7 1590.1L1507.1 1593.2L1506.6 1596.1L1505.9 1598.9L1505.3 1601.8L1504.7 1604.7L1504.0 1607.5L1503.3 1610.4L1502.7 1613.2L1502.0 1616.1L1501.4 1618.9L1500.8 1621.8L1500.1 1624.6L1499.5 1627.5L1498.8 1630.3L1498.2 1633.2L1497.6 1636.0L1497.0 1638.9L1496.4 1641.7L1495.8 1644.4L1495.3 1647.1L1494.7 1649.8L1494.2 1652.6L1493.6 1655.5L1493.1 1658.4L1492.5 1661.6L1492.0 1664.8L1491.4 1668.1L1490.9 1671.4L1490.3 1674.9L1489.7 1678.5L1489.2 1682.3L1488.6 1686.3L1488.1 1690.5L1487.5 1694.9L1486.9 1699.7L1486.4 1704.8L1485.8 1709.9L1485.2 1715.1L1484.7 1720.3L1484.1 1725.5L1483.6 1730.7L1483.2 1735.8L1482.7 1741.3L1482.2 1747.0L1481.8 1752.7L1481.4 1757.8L1481.0 1762.5L1480.7 1766.4L1480.5 1769.3" stroke-width="1.8459999999999999" />
<path d="M1208.7 1569.6L1209.0 1571.2L1209.4 1573.3L1209.9 1575.8L1210.4 1578.5L1211.0 1581.4L1211.5 1584.4L1212.0 1587.4L1212.5 1590.3L1213.0 1593.1L1213.5 1595.9L1214.0 1598.9L1214.4 1601.9L1214.9 1604.9L1215.4 1607.9L1215.9 1610.9L1216.4 1613.9L1216.9 1616.8L1217.4 1619.7L1218.0 1622.6L1218.6 1625.5L1219.2 1628.4L1219.7 1631.3L1220.3 1634.2L1220.8 1637.1L1221.3 1639.9L1221.8 1642.7L1222.3 1645.4L1222.7 1648.2L1223.2 1651.0L1223.6 1653.9L1224.1 1657.0L1224.6 1660.1L1225.1 1663.4L1225.7 1666.7L1226.3 1670.0L1226.9 1673.4L1227.4 1677.0L1228.0 1680.8L1228.5 1684.8L1229.1 1689.0L1229.6 1693.5L1230.0 1698.4L1230.5 1703.4L1231.0 1708.7L1231.4 1713.9L1231.8 1719.2L1232.2 1724.5L1232.6 1729.7L1233.0 1734.9L1233.3 1740.5L1233.6 1746.3L1233.9 1752.0L1234.2 1757.3L1234.4 1762.0L1234.6 1765.9L1234.8 1768.9" stroke-width="1.8459999999999999" />
<path d="M1505.9 1569.6L1505.6 1571.2L1505.2 1573.3L1504.7 1575.8L1504.2 1578.5L1503.6 1581.4L1503.1 1584.4L1502.6 1587.4L1502.0 1590.3L1501.6 1593.1L1501.1 1595.9L1500.6 1598.9L1500.2 1601.9L1499.7 1604.9L1499.2 1607.9L1498.7 1610.9L1498.2 1613.9L1497.7 1616.8L1497.2 1619.7L1496.6 1622.6L1496.0 1625.5L1495.4 1628.4L1494.9 1631.3L1494.3 1634.2L1493.8 1637.1L1493.3 1639.9L1492.8 1642.7L1492.3 1645.4L1491.9 1648.2L1491.4 1651.0L1491.0 1653.9L1490.5 1657.0L1490.0 1660.1L1489.5 1663.4L1488.9 1666.7L1488.3 1670.0L1487.7 1673.4L1487.2 1677.0L1486.6 1680.8L1486.1 1684.8L1485.5 1689.0L1485.0 1693.5L1484.6 1698.4L1484.1 1703.4L1483.6 1708.7L1483.2 1713.9L1482.8 1719.2L1482.4 1724.5L1482.0 1729.7L1481.6 1734.9L1481.3 1740.5L1481.0 1746.3L1480.7 1752.0L1480.4 1757.3L1480.2 1762.0L1480.0 1765.9L1479.8 1768.9" stroke-width="1.8459999999999999" />
<path d="M1203.0 1561.5L1203.0 1560.9L1203.0 1560.1L1203.0 1559.2L1203.0 1558.2L1203.0 1557.1L1203.0 1556.0L1203.0 1554.9L1203.2 1553.9L1203.3 1552.9L1203.5 1551.7L1203.8 1550.4L1204.0 1549.1L1204.3 1548.0L1204.6 1547.1L1204.9 1546.4L1205.2 1546.2L1205.5 1546.3L1205.8 1546.8L1206.2 1547.5L1206.5 1548.5L1206.9 1549.6L1207.2 1550.7L1207.5 1551.9L1207.7 1552.9L1207.9 1554.0L1208.1 1555.2L1208.3 1556.5L1208.4 1557.8L1208.5 1559.1L1208.6 1560.3L1208.7 1561.3L1208.7 1562.0" stroke-width="1.8459999999999999" />
<path d="M1511.6 1561.5L1511.6 1560.9L1511.6 1560.1L1511.6 1559.2L1511.6 1558.2L1511.6 1557.1L1511.6 1556.0L1511.6 1554.9L1511.4 1553.9L1511.3 1552.9L1511.1 1551.7L1510.8 1550.4L1510.6 1549.1L1510.3 1548.0L1510.0 1547.1L1509.7 1546.4L1509.4 1546.2L1509.1 1546.3L1508.8 1546.8L1508.4 1547.5L1508.1 1548.5L1507.7 1549.6L1507.4 1550.7L1507.1 1551.9L1506.9 1552.9L1506.7 1554.0L1506.5 1555.2L1506.3 1556.5L1506.2 1557.8L1506.1 1559.1L1506.0 1560.3L1505.9 1561.3L1505.9 1562.0" stroke-width="1.8459999999999999" />
<path d="M1205.6 1546.1L1206.4 1548.4L1207.5 1551.4L1208.8 1554.9L1210.2 1558.7L1211.8 1562.6L1213.4 1566.6L1214.9 1570.3L1216.4 1573.7L1217.8 1576.9L1219.4 1580.2L1221.1 1583.6L1222.7 1586.8L1224.3 1589.7L1225.7 1592.3L1226.9 1594.4L1227.8 1596.0" stroke-width="2.13" />
<path d="M1509.0 1546.1L1508.2 1548.4L1507.1 1551.4L1505.8 1554.9L1504.4 1558.7L1502.8 1562.6L1501.2 1566.6L1499.7 1570.3L1498.2 1573.7L1496.8 1576.9L1495.2 1580.2L1493.5 1583.6L1491.9 1586.8L1490.3 1589.7L1488.9 1592.3L1487.7 1594.4L1486.8 1596.0" stroke-width="2.13" />
<path d="M1208.7 1573.7L1209.5 1574.9L1210.6 1576.5L1211.8 1578.3L1213.1 1580.3L1214.6 1582.4L1216.1 1584.4L1217.5 1586.4L1218.9 1588.1L1220.3 1589.7L1221.8 1591.4L1223.4 1593.0L1224.9 1594.6L1226.4 1596.1L1227.7 1597.0L1228.9 1597.4L1229.7 1597.7" stroke-width="1.8459999999999999" />
<path d="M1505.9 1573.7L1505.1 1574.9L1504.0 1576.5L1502.8 1578.3L1501.5 1580.3L1500.0 1582.4L1498.5 1584.4L1497.1 1586.4L1495.7 1588.1L1494.3 1589.7L1492.8 1591.4L1491.2 1593.0L1489.7 1594.6L1488.2 1596.1L1486.9 1597.0L1485.7 1597.4L1484.9 1597.7" stroke-width="1.8459999999999999" />
<path d="M1227.8 1596.2L1228.2 1596.2L1228.8 1596.2L1229.6 1596.1L1230.4 1596.2L1231.2 1596.2L1231.9 1596.3L1232.6 1596.5L1233.1 1596.7L1233.5 1597.0L1233.8 1597.5L1234.1 1597.9L1234.2 1598.4L1234.4 1599.0L1234.5 1599.6L1234.6 1600.2L1234.8 1600.8L1234.9 1601.2L1235.0 1601.2L1235.1 1601.1L1235.2 1601.1L1235.3 1601.4L1235.3 1602.3L1235.4 1604.0L1235.4 1606.7L1235.4 1610.6L1235.5 1615.5L1235.5 1621.2L1235.5 1627.5L1235.5 1634.1L1235.4 1640.9L1235.4 1647.6L1235.4 1653.9L1235.4 1660.2L1235.4 1666.6L1235.3 1673.1L1235.3 1679.7L1235.3 1686.3L1235.2 1693.8L1235.2 1701.3L1235.2 1708.6L1235.1 1716.1L1235.1 1723.8L1235.0 1731.5L1234.9 1739.0L1234.9 1745.9L1234.8 1752.0L1234.8 1757.1L1234.8 1761.0" stroke-width="2.272" />
<path d="M1486.8 1596.2L1486.4 1596.2L1485.8 1596.2L1485.0 1596.1L1484.2 1596.2L1483.4 1596.2L1482.7 1596.3L1482.0 1596.5L1481.5 1596.7L1481.1 1597.0L1480.8 1597.5L1480.5 1597.9L1480.4 1598.4L1480.2 1599.0L1480.1 1599.6L1480.0 1600.2L1479.8 1600.8L1479.7 1601.2L1479.6 1601.2L1479.5 1601.1L1479.4 1601.1L1479.3 1601.4L1479.3 1602.3L1479.2 1604.0L1479.2 1606.7L1479.2 1610.6L1479.1 1615.5L1479.1 1621.2L1479.1 1627.5L1479.1 1634.1L1479.2 1640.9L1479.2 1647.6L1479.2 1653.9L1479.2 1660.2L1479.2 1666.6L1479.3 1673.1L1479.3 1679.7L1479.3 1686.3L1479.4 1693.8L1479.4 1701.3L1479.4 1708.6L1479.5 1716.1L1479.5 1723.8L1479.6 1731.5L1479.7 1739.0L1479.7 1745.9L1479.8 1752.0L1479.8 1757.1L1479.8 1761.0" stroke-width="2.272" />
<path d="M1231.0 1608.9L1231.0 1612.7L1231.0 1617.9L1231.0 1624.1L1231.0 1630.9L1231.0 1637.9L1231.0 1644.7L1231.0 1650.9L1231.0 1656.1L1230.9 1660.6L1230.8 1664.7L1230.7 1668.6L1230.6 1672.1L1230.5 1675.2L1230.5 1678.0L1230.4 1680.3L1230.3 1682.1" stroke-width="1.9879999999999998" />
<path d="M1483.6 1608.9L1483.6 1612.7L1483.6 1617.9L1483.6 1624.1L1483.6 1630.9L1483.6 1637.9L1483.6 1644.7L1483.6 1650.9L1483.6 1656.1L1483.7 1660.6L1483.8 1664.7L1483.9 1668.6L1484.0 1672.1L1484.1 1675.2L1484.1 1678.0L1484.2 1680.3L1484.3 1682.1" stroke-width="1.9879999999999998" />
<path d="M1222.7 1768.1L1234.8 1761.0" stroke-width="2.84" />
<path d="M1491.9 1768.1L1479.8 1761.0" stroke-width="2.84" />
<path d="M1226.5 1682.7L1230.5 1680.6" stroke-width="1.704" />
<path d="M1488.1 1682.7L1484.1 1680.6" stroke-width="1.704" />
<path d="M1203.0 1561.5L1208.7 1562.0" stroke-width="1.704" />
<path d="M1511.6 1561.5L1505.9 1562.0" stroke-width="1.704" />
<path d="M1227.8 1596.1L1233.4 1593.2L1239.1 1590.6" stroke-width="2.272" />
<path d="M1486.8 1596.1L1481.2 1593.2L1475.5 1590.6" stroke-width="2.272" />
<path d="M1231.0 1608.8L1236.6 1606.1L1242.2 1603.5" stroke-width="2.272" />
<path d="M1483.6 1608.8L1478.0 1606.1L1472.4 1603.5" stroke-width="2.272" />
<path d="M1149.7 1588.6L1150.0 1587.9L1150.5 1588.7L1151.1 1589.7L1151.7 1590.9L1152.3 1592.0L1153.0 1593.2L1153.6 1594.3L1154.1 1595.3L1154.6 1596.2L1155.1 1596.9L1155.5 1597.6L1155.9 1598.3L1156.4 1599.0L1156.8 1599.9L1157.4 1600.9L1158.0 1602.3L1158.6 1603.7L1159.4 1605.3L1160.1 1607.1L1161.0 1609.0L1161.8 1611.0L1162.7 1613.2L1163.5 1615.5L1164.3 1617.8L1165.1 1620.2L1165.9 1622.7L1166.7 1625.4L1167.5 1628.1L1168.3 1631.0L1169.1 1633.8L1169.9 1636.6L1170.6 1639.3L1171.4 1642.0L1172.3 1644.7L1173.1 1647.4L1173.9 1650.1L1174.7 1652.7L1175.5 1655.4L1176.2 1658.1L1177.0 1660.9L1177.7 1663.5L1178.5 1666.0L1179.2 1668.5L1179.9 1671.1L1180.6 1673.7L1181.3 1676.4L1182.0 1679.3L1182.7 1682.3L1183.4 1685.6L1184.0 1689.0L1184.7 1692.6L1185.3 1696.3L1186.0 1700.0L1186.6 1703.8L1187.2 1707.5L1187.8 1711.0L1188.4 1714.6L1189.0 1718.1L1189.6 1721.6L1190.2 1725.2L1190.7 1728.7L1191.3 1732.2L1191.8 1735.7L1192.2 1739.3L1192.7 1742.9L1193.0 1746.7L1193.4 1750.5L1193.7 1754.1L1194.0 1757.6L1194.3 1761.1L1194.6 1764.6L1194.8 1767.9L1194.9 1771.3L1195.1 1774.8L1195.2 1778.1L1195.2 1781.4L1195.3 1784.5L1195.3 1787.3L1195.4 1789.6L1195.4 1791.3" stroke-width="3.2659999999999996" />
<path d="M1564.9 1588.6L1564.6 1587.9L1564.1 1588.7L1563.5 1589.7L1562.9 1590.9L1562.3 1592.0L1561.6 1593.2L1561.0 1594.3L1560.5 1595.3L1560.0 1596.2L1559.5 1596.9L1559.1 1597.6L1558.7 1598.3L1558.2 1599.0L1557.8 1599.9L1557.2 1600.9L1556.6 1602.3L1556.0 1603.7L1555.2 1605.3L1554.5 1607.1L1553.6 1609.0L1552.8 1611.0L1551.9 1613.2L1551.1 1615.5L1550.3 1617.8L1549.5 1620.2L1548.7 1622.7L1547.9 1625.4L1547.1 1628.1L1546.3 1631.0L1545.5 1633.8L1544.7 1636.6L1544.0 1639.3L1543.2 1642.0L1542.3 1644.7L1541.5 1647.4L1540.7 1650.1L1539.9 1652.7L1539.1 1655.4L1538.4 1658.1L1537.6 1660.9L1536.9 1663.5L1536.1 1666.0L1535.4 1668.5L1534.7 1671.1L1534.0 1673.7L1533.3 1676.4L1532.6 1679.3L1531.9 1682.3L1531.2 1685.6L1530.6 1689.0L1529.9 1692.6L1529.3 1696.3L1528.6 1700.0L1528.0 1703.8L1527.4 1707.5L1526.8 1711.0L1526.2 1714.6L1525.6 1718.1L1525.0 1721.6L1524.4 1725.2L1523.9 1728.7L1523.3 1732.2L1522.8 1735.7L1522.4 1739.3L1521.9 1742.9L1521.6 1746.7L1521.2 1750.5L1520.9 1754.1L1520.6 1757.6L1520.3 1761.1L1520.0 1764.6L1519.8 1767.9L1519.7 1771.3L1519.5 1774.8L1519.4 1778.1L1519.4 1781.4L1519.3 1784.5L1519.3 1787.3L1519.2 1789.6L1519.2 1791.3" stroke-width="3.2659999999999996" />
<path d="M1164.9 1599.4L1165.3 1601.5L1165.7 1604.2L1166.2 1607.2L1166.8 1610.6L1167.4 1614.1L1168.1 1617.7L1168.7 1621.1L1169.4 1624.3L1170.0 1627.1L1170.7 1629.9L1171.4 1632.7L1172.2 1635.5L1172.9 1638.2L1173.6 1641.0L1174.4 1643.7L1175.1 1646.5L1175.8 1649.3L1176.5 1652.0L1177.2 1654.8L1177.9 1657.6L1178.7 1660.3L1179.4 1663.1L1180.1 1665.9L1180.8 1668.7L1181.5 1671.4L1182.2 1674.1L1182.9 1676.8L1183.7 1679.5L1184.4 1682.2L1185.1 1684.9L1185.8 1687.5L1186.5 1690.0L1187.3 1692.6L1188.0 1695.2L1188.8 1697.7L1189.5 1700.3L1190.3 1702.7L1191.0 1704.9L1191.6 1706.9L1192.2 1708.6L1192.7 1709.7L1193.2 1710.2L1193.6 1710.2L1193.9 1710.2L1194.2 1710.3L1194.6 1710.9L1195.0 1712.3L1195.4 1714.6L1195.9 1718.2L1196.5 1722.6L1197.1 1727.6L1197.7 1733.2L1198.3 1738.9L1198.8 1744.8L1199.4 1750.5L1199.9 1756.0L1200.3 1761.2L1200.7 1767.0L1201.1 1772.9L1201.4 1778.8L1201.7 1784.1L1202.0 1788.8L1202.2 1792.8L1202.4 1795.8" stroke-width="1.8459999999999999" />
<path d="M1549.7 1599.4L1549.3 1601.5L1548.9 1604.2L1548.4 1607.2L1547.8 1610.6L1547.2 1614.1L1546.5 1617.7L1545.9 1621.1L1545.2 1624.3L1544.6 1627.1L1543.9 1629.9L1543.2 1632.7L1542.4 1635.5L1541.7 1638.2L1541.0 1641.0L1540.2 1643.7L1539.5 1646.5L1538.8 1649.3L1538.1 1652.0L1537.4 1654.8L1536.7 1657.6L1535.9 1660.3L1535.2 1663.1L1534.5 1665.9L1533.8 1668.7L1533.1 1671.4L1532.4 1674.1L1531.7 1676.8L1530.9 1679.5L1530.2 1682.2L1529.5 1684.9L1528.8 1687.5L1528.1 1690.0L1527.3 1692.6L1526.6 1695.2L1525.8 1697.7L1525.1 1700.3L1524.3 1702.7L1523.6 1704.9L1523.0 1706.9L1522.4 1708.6L1521.9 1709.7L1521.4 1710.2L1521.0 1710.2L1520.7 1710.2L1520.4 1710.3L1520.0 1710.9L1519.6 1712.3L1519.2 1714.6L1518.7 1718.2L1518.1 1722.6L1517.5 1727.6L1516.9 1733.2L1516.3 1738.9L1515.8 1744.8L1515.2 1750.5L1514.7 1756.0L1514.3 1761.2L1513.9 1767.0L1513.5 1772.9L1513.2 1778.8L1512.9 1784.1L1512.6 1788.8L1512.4 1792.8L1512.2 1795.8" stroke-width="1.8459999999999999" />
<path d="M1170.6 1597.4L1171.0 1599.0L1171.6 1601.1L1172.2 1603.4L1172.9 1606.0L1173.6 1608.8L1174.3 1611.7L1175.1 1614.7L1175.7 1617.5L1176.4 1620.1L1177.0 1622.9L1177.6 1625.7L1178.3 1628.6L1178.9 1631.6L1179.5 1634.5L1180.2 1637.4L1180.8 1640.3L1181.4 1643.2L1182.1 1646.0L1182.7 1648.9L1183.3 1651.7L1184.0 1654.6L1184.6 1657.4L1185.3 1660.3L1185.9 1663.2L1186.5 1665.9L1187.1 1668.6L1187.7 1671.2L1188.3 1673.9L1189.0 1676.6L1189.6 1679.3L1190.3 1682.2L1191.0 1685.2L1191.7 1688.3L1192.5 1691.4L1193.4 1694.5L1194.2 1697.7L1195.0 1701.1L1195.9 1704.7L1196.6 1708.6L1197.3 1712.7L1197.9 1717.2L1198.5 1722.1L1199.1 1727.3L1199.6 1732.6L1200.1 1738.0L1200.6 1743.4L1201.0 1748.9L1201.4 1754.3L1201.7 1759.6L1202.1 1765.4L1202.4 1771.4L1202.6 1777.4L1202.9 1782.7L1203.1 1787.5L1203.3 1791.6L1203.4 1794.6" stroke-width="1.8459999999999999" />
<path d="M1544.0 1597.4L1543.6 1599.0L1543.0 1601.1L1542.4 1603.4L1541.7 1606.0L1541.0 1608.8L1540.3 1611.7L1539.5 1614.7L1538.9 1617.5L1538.2 1620.1L1537.6 1622.9L1537.0 1625.7L1536.3 1628.6L1535.7 1631.6L1535.1 1634.5L1534.4 1637.4L1533.8 1640.3L1533.2 1643.2L1532.5 1646.0L1531.9 1648.9L1531.3 1651.7L1530.6 1654.6L1530.0 1657.4L1529.3 1660.3L1528.7 1663.2L1528.1 1665.9L1527.5 1668.6L1526.9 1671.2L1526.3 1673.9L1525.6 1676.6L1525.0 1679.3L1524.3 1682.2L1523.6 1685.2L1522.9 1688.3L1522.1 1691.4L1521.2 1694.5L1520.4 1697.7L1519.6 1701.1L1518.7 1704.7L1518.0 1708.6L1517.3 1712.7L1516.7 1717.2L1516.1 1722.1L1515.5 1727.3L1515.0 1732.6L1514.5 1738.0L1514.0 1743.4L1513.6 1748.9L1513.2 1754.3L1512.9 1759.6L1512.5 1765.4L1512.2 1771.4L1512.0 1777.4L1511.7 1782.7L1511.5 1787.5L1511.3 1791.6L1511.2 1794.6" stroke-width="1.8459999999999999" />
<path d="M1163.3 1589.8L1163.3 1589.1L1163.3 1588.2L1163.3 1587.2L1163.3 1586.0L1163.3 1584.9L1163.3 1583.6L1163.4 1582.4L1163.5 1581.3L1163.7 1580.1L1163.9 1578.7L1164.1 1577.3L1164.4 1575.9L1164.6 1574.6L1164.9 1573.4L1165.2 1572.6L1165.6 1572.2L1165.9 1572.2L1166.3 1572.6L1166.7 1573.3L1167.2 1574.1L1167.6 1575.1L1168.0 1576.2L1168.4 1577.2L1168.7 1578.2L1169.1 1579.2L1169.4 1580.3L1169.6 1581.6L1169.9 1582.9L1170.1 1584.2L1170.3 1585.3L1170.5 1586.2L1170.6 1586.9" stroke-width="1.8459999999999999" />
<path d="M1551.3 1589.8L1551.3 1589.1L1551.3 1588.2L1551.3 1587.2L1551.3 1586.0L1551.3 1584.9L1551.3 1583.6L1551.2 1582.4L1551.1 1581.3L1550.9 1580.1L1550.7 1578.7L1550.5 1577.3L1550.2 1575.9L1550.0 1574.6L1549.7 1573.4L1549.4 1572.6L1549.0 1572.2L1548.7 1572.2L1548.3 1572.6L1547.9 1573.3L1547.4 1574.1L1547.0 1575.1L1546.6 1576.2L1546.2 1577.2L1545.9 1578.2L1545.5 1579.2L1545.2 1580.3L1545.0 1581.6L1544.7 1582.9L1544.5 1584.2L1544.3 1585.3L1544.1 1586.2L1544.0 1586.9" stroke-width="1.8459999999999999" />
<path d="M1165.8 1572.2L1166.9 1574.7L1168.3 1578.2L1169.9 1582.1L1171.7 1586.4L1173.7 1590.8L1175.7 1595.0L1177.7 1598.8L1179.5 1602.0L1181.5 1604.8L1183.6 1607.6L1185.8 1610.1L1188.0 1612.5L1190.1 1614.6L1192.0 1616.3L1193.6 1617.7L1194.8 1618.8" stroke-width="2.13" />
<path d="M1548.8 1572.2L1547.7 1574.7L1546.3 1578.2L1544.7 1582.1L1542.9 1586.4L1540.9 1590.8L1538.9 1595.0L1536.9 1598.8L1535.1 1602.0L1533.1 1604.8L1531.0 1607.6L1528.8 1610.1L1526.6 1612.5L1524.5 1614.6L1522.6 1616.3L1521.0 1617.7L1519.8 1618.8" stroke-width="2.13" />
<path d="M1170.6 1603.4L1171.6 1604.4L1172.9 1605.8L1174.4 1607.3L1176.1 1609.0L1177.9 1610.6L1179.8 1612.2L1181.6 1613.6L1183.3 1614.9L1185.1 1615.9L1187.1 1617.0L1189.1 1618.0L1191.1 1618.9L1193.0 1619.7L1194.8 1619.9L1196.2 1619.6L1197.3 1619.4" stroke-width="1.8459999999999999" />
<path d="M1544.0 1603.4L1543.0 1604.4L1541.7 1605.8L1540.2 1607.3L1538.5 1609.0L1536.7 1610.6L1534.8 1612.2L1533.0 1613.6L1531.3 1614.9L1529.5 1615.9L1527.5 1617.0L1525.5 1618.0L1523.5 1618.9L1521.6 1619.7L1519.8 1619.9L1518.4 1619.6L1517.3 1619.4" stroke-width="1.8459999999999999" />
<path d="M1194.8 1619.1L1195.2 1619.0L1195.7 1618.9L1196.4 1618.8L1197.1 1618.6L1197.9 1618.5L1198.6 1618.5L1199.3 1618.6L1199.9 1618.8L1200.3 1619.0L1200.8 1619.3L1201.2 1619.7L1201.5 1620.1L1201.8 1620.6L1202.1 1621.2L1202.4 1621.9L1202.6 1622.7L1202.8 1623.4L1203.0 1623.9L1203.1 1624.5L1203.2 1625.2L1203.3 1626.2L1203.3 1627.6L1203.4 1629.6L1203.4 1632.3L1203.4 1635.9L1203.5 1640.2L1203.5 1645.0L1203.4 1650.3L1203.4 1655.9L1203.4 1661.7L1203.4 1667.6L1203.4 1673.4L1203.4 1679.4L1203.5 1685.6L1203.5 1692.1L1203.5 1698.7L1203.6 1705.3L1203.6 1713.1L1203.6 1721.1L1203.7 1728.7L1203.7 1736.5L1203.7 1744.5L1203.7 1752.4L1203.7 1760.2L1203.7 1767.4L1203.7 1773.6L1203.7 1778.9L1203.7 1782.8" stroke-width="2.272" />
<path d="M1519.8 1619.1L1519.4 1619.0L1518.9 1618.9L1518.2 1618.8L1517.5 1618.6L1516.7 1618.5L1516.0 1618.5L1515.3 1618.6L1514.7 1618.8L1514.3 1619.0L1513.8 1619.3L1513.4 1619.7L1513.1 1620.1L1512.8 1620.6L1512.5 1621.2L1512.2 1621.9L1512.0 1622.7L1511.8 1623.4L1511.6 1623.9L1511.5 1624.5L1511.4 1625.2L1511.3 1626.2L1511.3 1627.6L1511.2 1629.6L1511.2 1632.3L1511.2 1635.9L1511.1 1640.2L1511.1 1645.0L1511.2 1650.3L1511.2 1655.9L1511.2 1661.7L1511.2 1667.6L1511.2 1673.4L1511.2 1679.4L1511.1 1685.6L1511.1 1692.1L1511.1 1698.7L1511.0 1705.3L1511.0 1713.1L1511.0 1721.1L1510.9 1728.7L1510.9 1736.5L1510.9 1744.5L1510.9 1752.4L1510.9 1760.2L1510.9 1767.4L1510.9 1773.6L1510.9 1778.9L1510.9 1782.8" stroke-width="2.272" />
<path d="M1197.3 1631.2L1197.3 1635.0L1197.3 1640.2L1197.3 1646.4L1197.3 1653.2L1197.3 1660.3L1197.3 1667.1L1197.3 1673.3L1197.3 1678.4L1197.4 1682.8L1197.4 1686.9L1197.5 1690.6L1197.6 1694.0L1197.7 1697.0L1197.8 1699.6L1197.9 1701.8L1197.9 1703.6" stroke-width="1.9879999999999998" />
<path d="M1517.3 1631.2L1517.3 1635.0L1517.3 1640.2L1517.3 1646.4L1517.3 1653.2L1517.3 1660.3L1517.3 1667.1L1517.3 1673.3L1517.3 1678.4L1517.2 1682.8L1517.2 1686.9L1517.1 1690.6L1517.0 1694.0L1516.9 1697.0L1516.8 1699.6L1516.7 1701.8L1516.7 1703.6" stroke-width="1.9879999999999998" />
<path d="M1195.4 1791.3L1203.7 1782.8" stroke-width="2.84" />
<path d="M1519.2 1791.3L1510.9 1782.8" stroke-width="2.84" />
<path d="M1195.4 1703.8L1198.8 1701.0" stroke-width="1.704" />
<path d="M1519.2 1703.8L1515.8 1701.0" stroke-width="1.704" />
<path d="M1163.3 1589.8L1170.6 1586.9" stroke-width="1.704" />
<path d="M1551.3 1589.8L1544.0 1586.9" stroke-width="1.704" />
<path d="M1194.8 1619.1L1196.0 1617.9L1197.3 1616.8" stroke-width="2.272" />
<path d="M1519.8 1619.1L1518.6 1617.9L1517.3 1616.8" stroke-width="2.272" />
<path d="M1197.3 1631.2L1199.5 1629.3L1201.7 1627.5" stroke-width="2.272" />
<path d="M1517.3 1631.2L1515.1 1629.3L1512.9 1627.5" stroke-width="2.272" />
<path d="M1126.0 1642.6L1126.2 1635.4L1126.6 1636.3L1127.0 1637.5L1127.5 1638.8L1128.0 1640.1L1128.5 1641.3L1128.9 1642.5L1129.4 1643.5L1129.8 1644.5L1130.1 1645.3L1130.5 1645.9L1130.8 1646.5L1131.2 1647.2L1131.6 1648.1L1132.0 1649.2L1132.6 1650.8L1133.1 1652.1L1133.8 1653.7L1134.5 1655.4L1135.2 1657.4L1135.9 1659.4L1136.7 1661.6L1137.5 1663.9L1138.3 1666.4L1139.1 1668.2L1139.9 1670.3L1140.8 1672.4L1141.7 1674.7L1142.6 1677.1L1143.5 1679.4L1144.4 1681.8L1145.3 1684.1L1146.1 1686.3L1147.0 1688.5L1147.9 1690.7L1148.8 1693.0L1149.7 1695.2L1150.5 1697.5L1151.4 1699.9L1152.2 1702.3L1153.1 1704.5L1153.9 1706.6L1154.6 1708.8L1155.4 1711.0L1156.2 1713.2L1157.0 1715.7L1157.8 1718.2L1158.6 1720.9L1159.4 1723.9L1160.3 1727.1L1161.2 1730.5L1162.2 1734.0L1163.1 1737.5L1163.9 1740.9L1164.8 1744.1L1165.6 1747.0L1166.3 1749.7L1167.0 1752.1L1167.6 1754.5L1168.3 1756.9L1168.9 1759.3L1169.5 1761.9L1170.1 1764.5L1170.6 1767.3L1171.2 1770.4L1171.8 1773.8L1172.4 1777.4L1173.0 1781.2L1173.5 1785.0L1174.0 1788.3L1174.6 1791.5L1175.1 1794.8L1175.6 1798.2L1176.2 1802.0L1176.7 1805.8L1177.3 1809.1L1177.8 1812.3L1178.2 1815.1L1178.6 1817.5L1178.9 1819.3" stroke-width="3.2659999999999996" />
<path d="M1588.6 1642.6L1588.4 1635.4L1588.0 1636.3L1587.6 1637.5L1587.1 1638.8L1586.6 1640.1L1586.1 1641.3L1585.7 1642.5L1585.2 1643.5L1584.8 1644.5L1584.5 1645.3L1584.1 1645.9L1583.8 1646.5L1583.4 1647.2L1583.0 1648.1L1582.6 1649.2L1582.0 1650.8L1581.5 1652.1L1580.8 1653.7L1580.1 1655.4L1579.4 1657.4L1578.7 1659.4L1577.9 1661.6L1577.1 1663.9L1576.3 1666.4L1575.5 1668.2L1574.7 1670.3L1573.8 1672.4L1572.9 1674.7L1572.0 1677.1L1571.1 1679.4L1570.2 1681.8L1569.3 1684.1L1568.5 1686.3L1567.6 1688.5L1566.7 1690.7L1565.8 1693.0L1564.9 1695.2L1564.1 1697.5L1563.2 1699.9L1562.4 1702.3L1561.5 1704.5L1560.7 1706.6L1560.0 1708.8L1559.2 1711.0L1558.4 1713.2L1557.6 1715.7L1556.8 1718.2L1556.0 1720.9L1555.2 1723.9L1554.3 1727.1L1553.4 1730.5L1552.4 1734.0L1551.5 1737.5L1550.7 1740.9L1549.8 1744.1L1549.0 1747.0L1548.3 1749.7L1547.6 1752.1L1547.0 1754.5L1546.3 1756.9L1545.7 1759.3L1545.1 1761.9L1544.5 1764.5L1544.0 1767.3L1543.4 1770.4L1542.8 1773.8L1542.2 1777.4L1541.6 1781.2L1541.1 1785.0L1540.6 1788.3L1540.0 1791.5L1539.5 1794.8L1539.0 1798.2L1538.4 1802.0L1537.9 1805.8L1537.3 1809.1L1536.8 1812.3L1536.4 1815.1L1536.0 1817.5L1535.7 1819.3" stroke-width="3.2659999999999996" />
<path d="M1137.6 1660.2L1138.1 1661.8L1138.6 1663.8L1139.3 1666.3L1140.1 1669.0L1140.9 1671.8L1141.7 1674.7L1142.5 1677.6L1143.3 1680.3L1144.2 1682.8L1145.0 1685.4L1145.9 1687.9L1146.8 1690.5L1147.7 1693.1L1148.6 1695.7L1149.5 1698.2L1150.3 1700.8L1151.2 1703.4L1152.1 1705.9L1153.0 1708.5L1153.9 1711.1L1154.7 1713.6L1155.6 1716.2L1156.5 1718.8L1157.3 1721.4L1158.1 1723.9L1158.9 1726.4L1159.7 1728.8L1160.5 1731.3L1161.3 1733.8L1162.0 1736.4L1162.8 1739.1L1163.7 1741.9L1164.5 1744.8L1165.4 1747.7L1166.3 1750.7L1167.2 1753.8L1168.0 1757.0L1168.9 1760.3L1169.8 1763.8L1170.6 1767.6L1171.5 1771.6L1172.3 1775.8L1173.1 1780.3L1173.9 1784.9L1174.7 1789.6L1175.5 1794.3L1176.3 1798.9L1177.0 1803.5L1177.7 1808.3L1178.5 1813.5L1179.2 1818.8L1179.9 1824.0L1180.6 1829.0L1181.2 1833.4L1181.7 1837.2L1182.1 1840.0" stroke-width="1.8459999999999999" />
<path d="M1577.0 1660.2L1576.5 1661.8L1576.0 1663.8L1575.3 1666.3L1574.5 1669.0L1573.7 1671.8L1572.9 1674.7L1572.1 1677.6L1571.3 1680.3L1570.4 1682.8L1569.6 1685.4L1568.7 1687.9L1567.8 1690.5L1566.9 1693.1L1566.0 1695.7L1565.1 1698.2L1564.3 1700.8L1563.4 1703.4L1562.5 1705.9L1561.6 1708.5L1560.7 1711.1L1559.9 1713.6L1559.0 1716.2L1558.1 1718.8L1557.3 1721.4L1556.5 1723.9L1555.7 1726.4L1554.9 1728.8L1554.1 1731.3L1553.3 1733.8L1552.6 1736.4L1551.8 1739.1L1550.9 1741.9L1550.1 1744.8L1549.2 1747.7L1548.3 1750.7L1547.4 1753.8L1546.6 1757.0L1545.7 1760.3L1544.8 1763.8L1544.0 1767.6L1543.1 1771.6L1542.3 1775.8L1541.5 1780.3L1540.7 1784.9L1539.9 1789.6L1539.1 1794.3L1538.3 1798.9L1537.6 1803.5L1536.9 1808.3L1536.1 1813.5L1535.4 1818.8L1534.7 1824.0L1534.0 1829.0L1533.4 1833.4L1532.9 1837.2L1532.5 1840.0" stroke-width="1.8459999999999999" />
<path d="M1143.3 1640.6L1143.7 1642.8L1144.1 1645.5L1144.6 1648.6L1145.2 1652.1L1145.8 1655.9L1146.4 1659.8L1147.1 1663.7L1147.8 1667.4L1148.5 1670.1L1149.2 1672.7L1150.0 1675.3L1150.8 1677.9L1151.7 1680.4L1152.5 1683.0L1153.3 1685.5L1154.1 1688.1L1154.9 1690.7L1155.7 1693.3L1156.5 1695.9L1157.3 1698.5L1158.1 1701.1L1158.9 1703.7L1159.7 1706.3L1160.5 1708.9L1161.3 1711.0L1162.1 1713.0L1162.8 1715.0L1163.6 1717.1L1164.4 1719.2L1165.2 1721.5L1166.0 1723.9L1166.8 1726.6L1167.7 1729.3L1168.6 1732.0L1169.5 1734.7L1170.4 1737.6L1171.3 1740.8L1172.2 1744.4L1173.0 1748.3L1173.8 1752.5L1174.6 1757.4L1175.4 1763.1L1176.1 1769.4L1176.9 1776.2L1177.6 1783.5L1178.3 1794.3L1178.9 1798.9L1179.5 1803.5L1180.2 1808.3L1180.8 1813.5L1181.4 1818.8L1181.9 1824.0L1182.4 1829.0L1182.9 1833.4L1183.3 1837.2L1183.6 1840.0" stroke-width="1.8459999999999999" />
<path d="M1571.3 1640.6L1570.9 1642.8L1570.5 1645.5L1570.0 1648.6L1569.4 1652.1L1568.8 1655.9L1568.2 1659.8L1567.5 1663.7L1566.8 1667.4L1566.1 1670.1L1565.4 1672.7L1564.6 1675.3L1563.8 1677.9L1562.9 1680.4L1562.1 1683.0L1561.3 1685.5L1560.5 1688.1L1559.7 1690.7L1558.9 1693.3L1558.1 1695.9L1557.3 1698.5L1556.5 1701.1L1555.7 1703.7L1554.9 1706.3L1554.1 1708.9L1553.3 1711.0L1552.5 1713.0L1551.8 1715.0L1551.0 1717.1L1550.2 1719.2L1549.4 1721.5L1548.6 1723.9L1547.8 1726.6L1546.9 1729.3L1546.0 1732.0L1545.1 1734.7L1544.2 1737.6L1543.3 1740.8L1542.4 1744.4L1541.6 1748.3L1540.8 1752.5L1540.0 1757.4L1539.2 1763.1L1538.5 1769.4L1537.7 1776.2L1537.0 1783.5L1536.3 1794.3L1535.7 1798.9L1535.1 1803.5L1534.4 1808.3L1533.8 1813.5L1533.2 1818.8L1532.7 1824.0L1532.2 1829.0L1531.7 1833.4L1531.3 1837.2L1531.0 1840.0" stroke-width="1.8459999999999999" />
<path d="M1136.4 1627.0L1136.4 1626.1L1136.4 1624.9L1136.4 1623.5L1136.4 1622.0L1136.4 1620.4L1136.4 1618.8L1136.5 1617.2L1136.6 1615.7L1136.8 1614.0L1137.0 1612.1L1137.2 1610.2L1137.5 1608.2L1137.8 1606.5L1138.0 1604.9L1138.3 1603.8L1138.7 1603.1L1139.0 1603.0L1139.3 1603.3L1139.7 1603.9L1140.1 1604.7L1140.4 1605.8L1140.8 1606.9L1141.1 1607.9L1141.4 1608.9L1141.7 1610.0L1142.0 1611.2L1142.3 1612.5L1142.6 1613.9L1142.8 1615.3L1143.0 1616.5L1143.2 1617.6L1143.3 1618.4" stroke-width="1.8459999999999999" />
<path d="M1578.2 1627.0L1578.2 1626.1L1578.2 1624.9L1578.2 1623.5L1578.2 1622.0L1578.2 1620.4L1578.2 1618.8L1578.1 1617.2L1578.0 1615.7L1577.8 1614.0L1577.6 1612.1L1577.4 1610.2L1577.1 1608.2L1576.8 1606.5L1576.6 1604.9L1576.3 1603.8L1575.9 1603.1L1575.6 1603.0L1575.3 1603.3L1574.9 1603.9L1574.5 1604.7L1574.2 1605.8L1573.8 1606.9L1573.5 1607.9L1573.2 1608.9L1572.9 1610.0L1572.6 1611.2L1572.3 1612.5L1572.0 1613.9L1571.8 1615.3L1571.6 1616.5L1571.4 1617.6L1571.3 1618.4" stroke-width="1.8459999999999999" />
<path d="M1138.7 1603.4L1139.4 1605.8L1140.5 1608.9L1141.7 1612.6L1143.1 1616.7L1144.5 1621.0L1146.1 1625.4L1147.6 1629.7L1149.1 1631.6L1150.6 1633.5L1152.4 1635.6L1154.2 1637.8L1156.1 1640.0L1157.8 1642.1L1159.4 1644.0L1160.8 1645.6L1161.8 1646.8" stroke-width="2.13" />
<path d="M1575.9 1603.4L1575.2 1605.8L1574.1 1608.9L1572.9 1612.6L1571.5 1616.7L1570.1 1621.0L1568.5 1625.4L1567.0 1629.7L1565.5 1631.6L1564.0 1633.5L1562.2 1635.6L1560.4 1637.8L1558.5 1640.0L1556.8 1642.1L1555.2 1644.0L1553.8 1645.6L1552.8 1646.8" stroke-width="2.13" />
<path d="M1143.3 1631.8L1144.1 1632.4L1145.1 1633.4L1146.3 1634.5L1147.6 1635.7L1149.0 1637.0L1150.4 1638.2L1151.7 1639.4L1152.9 1640.3L1154.0 1641.2L1155.1 1642.0L1156.2 1642.8L1157.3 1643.5L1158.3 1644.1L1159.2 1644.7L1159.9 1645.2L1160.5 1645.6" stroke-width="1.8459999999999999" />
<path d="M1571.3 1631.8L1570.5 1632.4L1569.5 1633.4L1568.3 1634.5L1567.0 1635.7L1565.6 1637.0L1564.2 1638.2L1562.9 1639.4L1561.7 1640.3L1560.6 1641.2L1559.5 1642.0L1558.4 1642.8L1557.3 1643.5L1556.3 1644.1L1555.4 1644.7L1554.7 1645.2L1554.1 1645.6" stroke-width="1.8459999999999999" />
<path d="M1181.4 1684.9L1181.5 1687.6L1181.5 1691.2L1181.6 1695.5L1181.7 1700.3L1181.8 1705.4L1181.9 1710.5L1182.0 1715.4L1182.1 1720.0L1182.2 1724.3L1182.4 1729.1L1182.5 1734.9L1182.7 1740.7L1182.9 1746.3L1183.1 1752.1L1183.2 1757.9L1183.3 1763.8L1183.5 1769.6L1183.6 1775.9L1183.7 1782.5L1183.7 1789.0L1183.8 1794.8L1183.9 1800.0L1183.9 1804.4L1184.0 1807.7" stroke-width="2.272" />
<path d="M1533.2 1684.9L1533.1 1687.6L1533.1 1691.2L1533.0 1695.5L1532.9 1700.3L1532.8 1705.4L1532.7 1710.5L1532.6 1715.4L1532.5 1720.0L1532.4 1724.3L1532.2 1729.1L1532.1 1734.9L1531.9 1740.7L1531.7 1746.3L1531.5 1752.1L1531.4 1757.9L1531.3 1763.8L1531.1 1769.6L1531.0 1775.9L1530.9 1782.5L1530.9 1789.0L1530.8 1794.8L1530.7 1800.0L1530.7 1804.4L1530.6 1807.7" stroke-width="2.272" />
<path d="M1177.6 1674.8L1177.6 1676.8L1177.6 1679.4L1177.6 1682.5L1177.6 1686.0L1177.6 1689.7L1177.6 1693.5L1177.6 1697.1L1177.6 1700.5L1177.6 1703.7L1177.6 1706.9L1177.6 1710.1L1177.7 1713.3L1177.7 1716.4L1177.7 1719.6L1177.8 1722.7L1177.9 1725.8L1178.0 1728.9L1178.2 1732.3L1178.5 1736.9L1178.7 1741.6L1179.0 1746.0L1179.2 1749.9L1179.4 1753.2L1179.5 1755.7" stroke-width="1.9879999999999998" />
<path d="M1537.0 1674.8L1537.0 1676.8L1537.0 1679.4L1537.0 1682.5L1537.0 1686.0L1537.0 1689.7L1537.0 1693.5L1537.0 1697.1L1537.0 1700.5L1537.0 1703.7L1537.0 1706.9L1537.0 1710.1L1536.9 1713.3L1536.9 1716.4L1536.9 1719.6L1536.8 1722.7L1536.7 1725.8L1536.6 1728.9L1536.4 1732.3L1536.1 1736.9L1535.9 1741.6L1535.6 1746.0L1535.4 1749.9L1535.2 1753.2L1535.1 1755.7" stroke-width="1.9879999999999998" />
<path d="M1178.9 1819.3L1184.0 1807.7" stroke-width="2.84" />
<path d="M1535.7 1819.3L1530.6 1807.7" stroke-width="2.84" />
<path d="M1170.7 1734.6L1175.3 1726.7" stroke-width="1.704" />
<path d="M1543.9 1734.6L1539.3 1726.7" stroke-width="1.704" />
<path d="M1136.4 1627.0L1143.3 1618.4" stroke-width="1.704" />
<path d="M1578.2 1627.0L1571.3 1618.4" stroke-width="1.704" />
<path d="M1131.2 1635.6L1131.4 1636.1L1131.7 1636.7L1132.0 1637.3L1132.4 1638.1L1132.9 1639.0L1133.3 1640.1L1133.8 1641.4L1134.4 1643.0L1135.0 1644.4L1135.6 1646.0L1136.3 1647.7L1137.0 1649.6L1137.8 1651.6L1138.6 1653.8L1139.3 1656.2L1140.1 1658.7L1140.9 1660.9L1141.6 1663.3L1142.4 1665.9L1143.2 1668.6L1144.0 1671.3L1144.8 1674.1L1145.6 1676.9L1146.4 1679.5L1147.2 1682.1L1148.0 1684.7L1148.8 1687.2L1149.7 1689.8L1150.5 1692.4L1151.2 1695.0L1152.0 1697.7L1152.8 1700.4L1153.5 1702.9L1154.3 1705.4L1155.0 1708.0L1155.7 1710.7L1156.4 1713.3L1157.1 1716.0L1157.8 1718.6L1158.5 1721.2L1159.2 1723.8L1159.9 1726.4L1160.7 1728.9L1161.4 1731.5L1162.1 1734.1L1162.8 1736.7L1163.5 1739.4L1164.2 1742.1L1164.9 1744.7L1165.6 1747.6L1166.4 1750.6L1167.1 1753.6L1167.8 1756.5L1168.4 1759.1L1168.9 1761.3L1169.3 1762.9" stroke-width="1.704" />
<path d="M1583.4 1635.6L1583.2 1636.1L1582.9 1636.7L1582.6 1637.3L1582.2 1638.1L1581.7 1639.0L1581.3 1640.1L1580.8 1641.4L1580.2 1643.0L1579.6 1644.4L1579.0 1646.0L1578.3 1647.7L1577.6 1649.6L1576.8 1651.6L1576.0 1653.8L1575.3 1656.2L1574.5 1658.7L1573.7 1660.9L1573.0 1663.3L1572.2 1665.9L1571.4 1668.6L1570.6 1671.3L1569.8 1674.1L1569.0 1676.9L1568.2 1679.5L1567.4 1682.1L1566.6 1684.7L1565.8 1687.2L1564.9 1689.8L1564.1 1692.4L1563.4 1695.0L1562.6 1697.7L1561.8 1700.4L1561.1 1702.9L1560.3 1705.4L1559.6 1708.0L1558.9 1710.7L1558.2 1713.3L1557.5 1716.0L1556.8 1718.6L1556.1 1721.2L1555.4 1723.8L1554.7 1726.4L1553.9 1728.9L1553.2 1731.5L1552.5 1734.1L1551.8 1736.7L1551.1 1739.4L1550.4 1742.1L1549.7 1744.7L1549.0 1747.6L1548.2 1750.6L1547.5 1753.6L1546.8 1756.5L1546.2 1759.1L1545.7 1761.3L1545.3 1762.9" stroke-width="1.704" />
<path d="M1137.6 1639.9L1138.0 1641.1L1138.6 1642.6L1139.3 1644.3L1140.0 1646.3L1140.8 1648.5L1141.7 1650.8L1142.5 1653.1L1143.3 1655.2L1144.0 1657.4L1144.8 1659.9L1145.6 1662.5L1146.4 1665.2L1147.2 1668.0L1148.0 1670.7L1148.8 1673.5L1149.6 1676.2L1150.4 1678.8L1151.2 1681.4L1152.0 1683.9L1152.8 1686.5L1153.6 1689.1L1154.4 1691.8L1155.2 1694.4L1156.0 1696.9L1156.7 1699.4L1157.4 1702.0L1158.2 1704.6L1158.9 1707.2L1159.6 1709.9L1160.3 1712.5L1161.0 1715.2L1161.7 1717.8L1162.4 1720.4L1163.1 1723.0L1163.9 1725.6L1164.6 1728.2L1165.3 1730.8L1166.0 1733.4L1166.7 1736.0L1167.4 1738.5L1168.1 1741.0L1168.7 1743.6L1169.4 1746.2L1170.0 1748.8L1170.6 1751.4L1171.3 1754.0L1171.9 1756.7L1172.5 1759.2L1173.1 1761.7L1173.7 1764.2L1174.2 1766.8L1174.8 1769.3L1175.4 1771.9L1175.9 1774.6L1176.4 1777.2L1176.9 1779.6L1177.4 1782.2L1177.9 1785.1L1178.3 1788.1L1178.8 1791.1L1179.2 1794.0L1179.6 1796.6L1179.9 1798.5L1180.1 1800.0" stroke-width="1.704" />
<path d="M1577.0 1639.9L1576.6 1641.1L1576.0 1642.6L1575.3 1644.3L1574.6 1646.3L1573.8 1648.5L1572.9 1650.8L1572.1 1653.1L1571.3 1655.2L1570.6 1657.4L1569.8 1659.9L1569.0 1662.5L1568.2 1665.2L1567.4 1668.0L1566.6 1670.7L1565.8 1673.5L1565.0 1676.2L1564.2 1678.8L1563.4 1681.4L1562.6 1683.9L1561.8 1686.5L1561.0 1689.1L1560.2 1691.8L1559.4 1694.4L1558.6 1696.9L1557.9 1699.4L1557.2 1702.0L1556.4 1704.6L1555.7 1707.2L1555.0 1709.9L1554.3 1712.5L1553.6 1715.2L1552.9 1717.8L1552.2 1720.4L1551.5 1723.0L1550.7 1725.6L1550.0 1728.2L1549.3 1730.8L1548.6 1733.4L1547.9 1736.0L1547.2 1738.5L1546.5 1741.0L1545.9 1743.6L1545.2 1746.2L1544.6 1748.8L1544.0 1751.4L1543.3 1754.0L1542.7 1756.7L1542.1 1759.2L1541.5 1761.7L1540.9 1764.2L1540.4 1766.8L1539.8 1769.3L1539.2 1771.9L1538.7 1774.6L1538.2 1777.2L1537.7 1779.6L1537.2 1782.2L1536.7 1785.1L1536.3 1788.1L1535.8 1791.1L1535.4 1794.0L1535.0 1796.6L1534.7 1798.5L1534.5 1800.0" stroke-width="1.704" />
<path d="M1343.1 1513.1L1343.1 1513.9L1343.2 1515.8L1343.3 1518.1L1343.4 1520.7L1343.5 1523.4L1343.6 1526.4L1343.7 1529.3L1343.8 1532.2L1343.9 1535.1L1344.0 1538.0L1344.1 1540.9L1344.2 1544.0L1344.3 1547.2L1344.4 1550.4L1344.5 1553.7L1344.6 1557.1L1344.7 1560.5L1344.8 1564.1L1344.8 1567.7L1344.9 1571.5L1345.0 1575.3L1345.1 1579.2L1345.2 1583.3L1345.2 1587.4L1345.3 1591.7L1345.4 1596.1L1345.5 1600.6L1345.6 1605.1L1345.7 1609.7L1345.8 1614.3L1345.9 1618.9L1346.0 1623.4L1346.1 1627.9L1346.2 1632.4L1346.3 1636.9L1346.4 1641.3L1346.6 1645.8L1346.7 1650.2L1346.8 1654.7L1346.9 1659.1L1347.0 1663.4L1347.1 1667.7L1347.2 1672.0L1347.3 1676.2L1347.4 1680.5L1347.5 1684.8L1347.6 1689.3L1347.6 1694.0L1347.7 1698.9L1347.8 1704.4L1347.9 1710.2L1348.0 1716.0L1348.0 1721.3L1348.1 1726.2L1348.1 1730.2L1348.2 1733.3" stroke-width="2.556" />
<path d="M1371.5 1513.1L1371.5 1513.9L1371.4 1515.8L1371.3 1518.1L1371.2 1520.7L1371.1 1523.4L1371.0 1526.4L1370.9 1529.3L1370.8 1532.2L1370.7 1535.1L1370.6 1538.0L1370.5 1540.9L1370.4 1544.0L1370.3 1547.2L1370.2 1550.4L1370.1 1553.7L1370.0 1557.1L1369.9 1560.5L1369.8 1564.1L1369.8 1567.7L1369.7 1571.5L1369.6 1575.3L1369.5 1579.2L1369.4 1583.3L1369.4 1587.4L1369.3 1591.7L1369.2 1596.1L1369.1 1600.6L1369.0 1605.1L1368.9 1609.7L1368.8 1614.3L1368.7 1618.9L1368.6 1623.4L1368.5 1627.9L1368.4 1632.4L1368.3 1636.9L1368.2 1641.3L1368.0 1645.8L1367.9 1650.2L1367.8 1654.7L1367.7 1659.1L1367.6 1663.4L1367.5 1667.7L1367.4 1672.0L1367.3 1676.2L1367.2 1680.5L1367.1 1684.8L1367.0 1689.3L1367.0 1694.0L1366.9 1698.9L1366.8 1704.4L1366.7 1710.2L1366.6 1716.0L1366.6 1721.3L1366.5 1726.2L1366.5 1730.2L1366.4 1733.3" stroke-width="2.556" />
<path d="M1345.6 1530.9L1345.7 1533.8L1345.8 1537.7L1345.9 1542.2L1346.0 1547.2L1346.1 1552.5L1346.3 1557.8L1346.4 1562.9L1346.5 1567.6L1346.6 1572.2L1346.8 1577.0L1346.9 1581.7L1347.0 1586.5L1347.1 1591.2L1347.3 1595.7L1347.4 1600.0L1347.5 1604.0L1347.6 1607.5L1347.8 1610.7L1347.9 1613.6L1348.0 1616.3L1348.1 1619.0L1348.2 1621.8L1348.3 1624.7L1348.4 1627.9L1348.5 1631.3L1348.7 1634.9L1348.8 1638.6L1349.0 1642.4L1349.1 1646.3L1349.2 1650.1L1349.3 1653.9L1349.4 1657.7L1349.5 1661.3L1349.5 1665.0L1349.5 1668.7L1349.5 1672.4L1349.5 1676.0L1349.5 1679.6L1349.5 1683.3L1349.4 1686.9L1349.4 1690.5L1349.3 1694.2L1349.3 1698.0L1349.2 1701.6L1349.1 1705.1L1349.1 1708.6L1349.0 1712.0L1348.9 1715.3L1348.9 1718.6L1348.8 1721.9L1348.7 1725.2L1348.6 1728.3L1348.6 1731.3L1348.5 1733.9L1348.5 1736.1L1348.4 1737.8" stroke-width="1.8459999999999999" />
<path d="M1369.0 1530.9L1368.9 1533.8L1368.8 1537.7L1368.7 1542.2L1368.6 1547.2L1368.5 1552.5L1368.3 1557.8L1368.2 1562.9L1368.1 1567.6L1368.0 1572.2L1367.8 1577.0L1367.7 1581.7L1367.6 1586.5L1367.5 1591.2L1367.3 1595.7L1367.2 1600.0L1367.1 1604.0L1367.0 1607.5L1366.8 1610.7L1366.7 1613.6L1366.6 1616.3L1366.5 1619.0L1366.4 1621.8L1366.3 1624.7L1366.2 1627.9L1366.1 1631.3L1365.9 1634.9L1365.8 1638.6L1365.6 1642.4L1365.5 1646.3L1365.4 1650.1L1365.3 1653.9L1365.2 1657.7L1365.1 1661.3L1365.1 1665.0L1365.1 1668.7L1365.1 1672.4L1365.1 1676.0L1365.1 1679.6L1365.1 1683.3L1365.2 1686.9L1365.2 1690.5L1365.3 1694.2L1365.3 1698.0L1365.4 1701.6L1365.5 1705.1L1365.5 1708.6L1365.6 1712.0L1365.7 1715.3L1365.7 1718.6L1365.8 1721.9L1365.9 1725.2L1366.0 1728.3L1366.0 1731.3L1366.1 1733.9L1366.1 1736.1L1366.2 1737.8" stroke-width="1.8459999999999999" />
<path d="M1349.7 1530.8L1349.7 1533.7L1349.8 1537.6L1349.9 1542.1L1350.0 1547.1L1350.1 1552.4L1350.2 1557.7L1350.3 1562.8L1350.4 1567.5L1350.6 1572.1L1350.7 1576.9L1350.8 1581.7L1350.9 1586.4L1351.1 1591.1L1351.2 1595.7L1351.3 1599.9L1351.5 1603.9L1351.6 1607.4L1351.7 1610.6L1351.8 1613.5L1351.9 1616.2L1352.0 1618.9L1352.1 1621.7L1352.2 1624.6L1352.3 1627.8L1352.5 1631.3L1352.6 1635.1L1352.7 1639.1L1352.9 1643.1L1353.0 1647.1L1353.1 1650.9L1353.2 1654.4L1353.2 1657.6L1353.2 1660.3L1353.2 1662.5L1353.1 1664.5L1353.1 1666.4L1353.0 1668.3L1352.8 1670.3L1352.7 1672.5L1352.6 1675.2L1352.5 1678.3L1352.3 1681.5L1352.2 1685.0L1352.0 1688.6L1351.9 1692.4L1351.7 1696.2L1351.5 1700.1L1351.3 1704.0L1351.1 1708.2L1350.9 1712.9L1350.6 1717.9L1350.3 1722.8L1350.0 1727.5L1349.8 1731.6L1349.6 1735.2L1349.4 1737.8" stroke-width="1.8459999999999999" />
<path d="M1364.9 1530.8L1364.9 1533.7L1364.8 1537.6L1364.7 1542.1L1364.6 1547.1L1364.5 1552.4L1364.4 1557.7L1364.3 1562.8L1364.2 1567.5L1364.0 1572.1L1363.9 1576.9L1363.8 1581.7L1363.7 1586.4L1363.5 1591.1L1363.4 1595.7L1363.3 1599.9L1363.1 1603.9L1363.0 1607.4L1362.9 1610.6L1362.8 1613.5L1362.7 1616.2L1362.6 1618.9L1362.5 1621.7L1362.4 1624.6L1362.3 1627.8L1362.1 1631.3L1362.0 1635.1L1361.9 1639.1L1361.7 1643.1L1361.6 1647.1L1361.5 1650.9L1361.4 1654.4L1361.4 1657.6L1361.4 1660.3L1361.4 1662.5L1361.5 1664.5L1361.5 1666.4L1361.6 1668.3L1361.8 1670.3L1361.9 1672.5L1362.0 1675.2L1362.1 1678.3L1362.3 1681.5L1362.4 1685.0L1362.6 1688.6L1362.7 1692.4L1362.9 1696.2L1363.1 1700.1L1363.3 1704.0L1363.5 1708.2L1363.7 1712.9L1364.0 1717.9L1364.3 1722.8L1364.6 1727.5L1364.8 1731.6L1365.0 1735.2L1365.2 1737.8" stroke-width="1.8459999999999999" />
<path d="M1343.6 1526.4L1343.6 1525.9L1343.6 1525.1L1343.6 1524.3L1343.6 1523.3L1343.6 1522.3L1343.6 1521.3L1343.7 1520.3L1343.8 1519.4L1344.0 1518.5L1344.3 1517.5L1344.6 1516.4L1344.9 1515.4L1345.2 1514.4L1345.6 1513.7L1345.9 1513.2L1346.3 1513.0L1346.6 1513.2L1346.9 1513.6L1347.3 1514.4L1347.7 1515.3L1348.0 1516.3L1348.4 1517.3L1348.7 1518.3L1348.9 1519.2L1349.1 1520.1L1349.3 1521.1L1349.4 1522.1L1349.5 1523.1L1349.5 1524.1L1349.6 1525.0L1349.6 1525.7L1349.7 1526.3" stroke-width="1.8459999999999999" />
<path d="M1371.0 1526.4L1371.0 1525.9L1371.0 1525.1L1371.0 1524.3L1371.0 1523.3L1371.0 1522.3L1371.0 1521.3L1370.9 1520.3L1370.8 1519.4L1370.6 1518.5L1370.3 1517.5L1370.0 1516.4L1369.7 1515.4L1369.4 1514.4L1369.0 1513.7L1368.7 1513.2L1368.3 1513.0L1368.0 1513.2L1367.7 1513.6L1367.3 1514.4L1366.9 1515.3L1366.6 1516.3L1366.2 1517.3L1365.9 1518.3L1365.7 1519.2L1365.5 1520.1L1365.3 1521.1L1365.2 1522.1L1365.1 1523.1L1365.1 1524.1L1365.0 1525.0L1365.0 1525.7L1364.9 1526.3" stroke-width="1.8459999999999999" />
<path d="M1345.6 1526.4L1349.7 1526.3" stroke-width="1.704" />
<path d="M1369.0 1526.4L1364.9 1526.3" stroke-width="1.704" />
<path d="M1349.4 1653.1L1353.2 1653.1" stroke-width="1.704" />
<path d="M1365.2 1653.1L1361.4 1653.1" stroke-width="1.704" />
<path d="M1348.0 1733.2L1357.3 1733.1L1366.6 1733.2" stroke-width="2.84" />
<path d="M1175.9 1832.5L1176.7 1908.5L1177.3 1956.9" stroke-width="2.0" />
<path d="M1538.7 1832.5L1537.9 1908.5L1537.3 1956.9" stroke-width="2.0" />
<path d="M1367.1 1864.4L1366.2 1863.4Q1364.9 1861.9 1364.9 1859.9L1364.9 1769.1Q1364.9 1767.1 1365.4 1765.7L1365.4 1765.7Q1365.9 1764.4 1367.2 1763.8L1367.2 1763.8Q1368.5 1763.3 1370.5 1763.4L1378.9 1763.9Q1380.9 1764.0 1382.8 1764.2L1391.1 1765.0Q1393.1 1765.2 1394.4 1765.9L1394.4 1765.9Q1395.6 1766.7 1396.1 1768.1L1396.1 1768.1Q1396.7 1769.6 1396.7 1771.6L1396.7 1862.3Q1396.7 1864.3 1395.2 1865.7L1394.6 1866.4Q1393.1 1867.8 1391.1 1867.7L1382.9 1867.3Q1380.9 1867.2 1378.9 1867.0L1370.4 1866.1Q1368.5 1865.9 1367.1 1864.4Z" stroke-width="2.3" />
<path d="M1369.7 1861.4L1368.8 1860.3Q1367.5 1858.8 1367.5 1856.8L1367.5 1776.2Q1367.5 1774.2 1368.0 1772.8L1368.0 1772.8Q1368.6 1771.5 1369.8 1771.0L1369.8 1771.0Q1371.1 1770.4 1373.1 1770.6L1378.9 1770.9Q1380.9 1771.0 1382.8 1771.2L1388.6 1771.8Q1390.6 1771.9 1391.8 1772.7L1391.8 1772.7Q1393.0 1773.4 1393.6 1774.8L1393.6 1774.8Q1394.1 1776.3 1394.1 1778.3L1394.1 1858.9Q1394.1 1860.9 1392.7 1862.3L1392.0 1863.0Q1390.6 1864.4 1388.6 1864.3L1382.9 1864.2Q1380.9 1864.1 1378.9 1863.8L1373.1 1863.1Q1371.1 1862.9 1369.7 1861.4Z" stroke-width="1.6" />
<path d="M1365.6 1763.9L1367.5 1770.3" stroke-width="1.3" />
<path d="M1396.0 1766.3L1394.1 1772.4" stroke-width="1.3" />
<path d="M1370.3 1770.7L1370.3 1857.4" stroke-width="1.2" />
<path d="M1347.5 1864.4L1348.4 1863.4Q1349.7 1861.9 1349.7 1859.9L1349.7 1769.1Q1349.7 1767.1 1349.2 1765.7L1349.2 1765.7Q1348.7 1764.4 1347.4 1763.8L1347.4 1763.8Q1346.1 1763.3 1344.1 1763.4L1335.7 1763.9Q1333.7 1764.0 1331.8 1764.2L1323.5 1765.0Q1321.5 1765.2 1320.2 1765.9L1320.2 1765.9Q1319.0 1766.7 1318.5 1768.1L1318.5 1768.1Q1317.9 1769.6 1317.9 1771.6L1317.9 1862.3Q1317.9 1864.3 1319.4 1865.7L1320.0 1866.4Q1321.5 1867.8 1323.5 1867.7L1331.7 1867.3Q1333.7 1867.2 1335.7 1867.0L1344.2 1866.1Q1346.1 1865.9 1347.5 1864.4Z" stroke-width="2.3" />
<path d="M1344.9 1861.4L1345.8 1860.3Q1347.1 1858.8 1347.1 1856.8L1347.1 1776.2Q1347.1 1774.2 1346.6 1772.8L1346.6 1772.8Q1346.0 1771.5 1344.8 1771.0L1344.8 1771.0Q1343.5 1770.4 1341.5 1770.6L1335.7 1770.9Q1333.7 1771.0 1331.8 1771.2L1326.0 1771.8Q1324.0 1771.9 1322.8 1772.7L1322.8 1772.7Q1321.6 1773.4 1321.0 1774.8L1321.0 1774.8Q1320.5 1776.3 1320.5 1778.3L1320.5 1858.9Q1320.5 1860.9 1321.9 1862.3L1322.6 1863.0Q1324.0 1864.4 1326.0 1864.3L1331.7 1864.2Q1333.7 1864.1 1335.7 1863.8L1341.5 1863.1Q1343.5 1862.9 1344.9 1861.4Z" stroke-width="1.6" />
<path d="M1349.0 1763.9L1347.1 1770.3" stroke-width="1.3" />
<path d="M1318.6 1766.3L1320.5 1772.4" stroke-width="1.3" />
<path d="M1344.3 1770.7L1344.3 1857.4" stroke-width="1.2" />
<path d="M1413.5 1869.6L1412.5 1868.2Q1411.3 1866.6 1411.3 1864.6L1411.3 1773.9Q1411.3 1771.9 1411.8 1770.6L1411.8 1770.6Q1412.3 1769.3 1413.5 1769.0L1413.5 1769.0Q1414.7 1768.6 1416.6 1769.0L1424.4 1770.7Q1426.4 1771.2 1428.3 1771.7L1435.8 1773.7Q1437.7 1774.2 1438.8 1775.1L1438.8 1775.1Q1439.9 1776.0 1440.4 1777.6L1440.4 1777.6Q1440.9 1779.1 1440.9 1781.1L1440.9 1871.8Q1440.9 1873.8 1439.4 1875.2L1439.2 1875.4Q1437.7 1876.8 1435.7 1876.4L1428.3 1874.8Q1426.4 1874.4 1424.4 1873.9L1416.6 1871.7Q1414.7 1871.2 1413.5 1869.6Z" stroke-width="2.3" />
<path d="M1416.0 1867.0L1414.9 1865.6Q1413.8 1864.0 1413.8 1862.0L1413.8 1781.4Q1413.8 1779.4 1414.3 1778.1L1414.3 1778.1Q1414.8 1776.8 1416.0 1776.5L1416.0 1776.5Q1417.2 1776.1 1419.1 1776.6L1424.4 1777.8Q1426.4 1778.2 1428.3 1778.7L1433.4 1780.0Q1435.3 1780.6 1436.5 1781.5L1436.5 1781.5Q1437.6 1782.4 1438.1 1783.9L1438.1 1783.9Q1438.6 1785.4 1438.6 1787.4L1438.6 1868.0Q1438.6 1870.0 1437.1 1871.4L1436.8 1871.6Q1435.3 1873.0 1433.4 1872.6L1428.3 1871.6Q1426.4 1871.3 1424.4 1870.7L1419.1 1869.1Q1417.2 1868.6 1416.0 1867.0Z" stroke-width="1.6" />
<path d="M1412.0 1768.8L1413.8 1775.4" stroke-width="1.3" />
<path d="M1440.3 1775.7L1438.6 1781.5" stroke-width="1.3" />
<path d="M1416.4 1776.3L1416.4 1862.9" stroke-width="1.2" />
<path d="M1301.1 1869.6L1302.1 1868.2Q1303.3 1866.6 1303.3 1864.6L1303.3 1773.9Q1303.3 1771.9 1302.8 1770.6L1302.8 1770.6Q1302.3 1769.3 1301.1 1769.0L1301.1 1769.0Q1299.9 1768.6 1298.0 1769.0L1290.2 1770.7Q1288.2 1771.2 1286.3 1771.7L1278.8 1773.7Q1276.9 1774.2 1275.8 1775.1L1275.8 1775.1Q1274.7 1776.0 1274.2 1777.6L1274.2 1777.6Q1273.7 1779.1 1273.7 1781.1L1273.7 1871.8Q1273.7 1873.8 1275.2 1875.2L1275.4 1875.4Q1276.9 1876.8 1278.9 1876.4L1286.3 1874.8Q1288.2 1874.4 1290.2 1873.9L1298.0 1871.7Q1299.9 1871.2 1301.1 1869.6Z" stroke-width="2.3" />
<path d="M1298.6 1867.0L1299.7 1865.6Q1300.8 1864.0 1300.8 1862.0L1300.8 1781.4Q1300.8 1779.4 1300.3 1778.1L1300.3 1778.1Q1299.8 1776.8 1298.6 1776.5L1298.6 1776.5Q1297.4 1776.1 1295.5 1776.6L1290.2 1777.8Q1288.2 1778.2 1286.3 1778.7L1281.2 1780.0Q1279.3 1780.6 1278.1 1781.5L1278.1 1781.5Q1277.0 1782.4 1276.5 1783.9L1276.5 1783.9Q1276.0 1785.4 1276.0 1787.4L1276.0 1868.0Q1276.0 1870.0 1277.5 1871.4L1277.8 1871.6Q1279.3 1873.0 1281.2 1872.6L1286.3 1871.6Q1288.2 1871.3 1290.2 1870.7L1295.5 1869.1Q1297.4 1868.6 1298.6 1867.0Z" stroke-width="1.6" />
<path d="M1302.6 1768.8L1300.8 1775.4" stroke-width="1.3" />
<path d="M1274.3 1775.7L1276.0 1781.5" stroke-width="1.3" />
<path d="M1298.2 1776.3L1298.2 1862.9" stroke-width="1.2" />
<path d="M1456.0 1881.6L1455.0 1880.0Q1454.0 1878.3 1454.0 1876.3L1454.0 1785.5Q1454.0 1783.5 1454.4 1782.3L1454.4 1782.3Q1454.9 1781.1 1456.0 1780.9L1456.0 1780.9Q1457.0 1780.8 1458.9 1781.5L1465.3 1784.2Q1467.2 1785.0 1469.0 1785.9L1475.0 1788.8Q1476.8 1789.7 1477.7 1790.8L1477.7 1790.8Q1478.6 1791.8 1479.0 1793.4L1479.0 1793.4Q1479.4 1795.0 1479.4 1797.0L1479.4 1887.8Q1479.4 1889.8 1478.1 1891.0L1478.1 1891.0Q1476.8 1892.3 1474.9 1891.5L1469.0 1889.0Q1467.2 1888.2 1465.4 1887.4L1458.8 1884.2Q1457.0 1883.3 1456.0 1881.6Z" stroke-width="2.3" />
<path d="M1458.2 1879.4L1457.2 1877.7Q1456.2 1876.0 1456.2 1874.0L1456.2 1793.4Q1456.2 1791.4 1456.6 1790.2L1456.6 1790.2Q1457.1 1789.0 1458.1 1788.8L1458.1 1788.8Q1459.2 1788.7 1461.0 1789.4L1465.3 1791.3Q1467.2 1792.0 1469.0 1792.9L1473.0 1794.8Q1474.8 1795.7 1475.7 1796.8L1475.7 1796.8Q1476.7 1797.8 1477.1 1799.4L1477.1 1799.4Q1477.5 1801.0 1477.5 1803.0L1477.5 1883.6Q1477.5 1885.6 1476.1 1886.9L1476.1 1886.9Q1474.8 1888.1 1472.9 1887.4L1469.0 1885.8Q1467.2 1885.1 1465.4 1884.2L1461.0 1882.0Q1459.2 1881.1 1458.2 1879.4Z" stroke-width="1.6" />
<path d="M1454.6 1780.5L1456.2 1787.5" stroke-width="1.3" />
<path d="M1478.9 1791.5L1477.5 1797.1" stroke-width="1.3" />
<path d="M1458.5 1788.7L1458.5 1875.4" stroke-width="1.2" />
<path d="M1258.6 1881.6L1259.6 1880.0Q1260.6 1878.3 1260.6 1876.3L1260.6 1785.5Q1260.6 1783.5 1260.2 1782.3L1260.2 1782.3Q1259.7 1781.1 1258.6 1780.9L1258.6 1780.9Q1257.6 1780.8 1255.7 1781.5L1249.3 1784.2Q1247.4 1785.0 1245.6 1785.9L1239.6 1788.8Q1237.8 1789.7 1236.9 1790.8L1236.9 1790.8Q1236.0 1791.8 1235.6 1793.4L1235.6 1793.4Q1235.2 1795.0 1235.2 1797.0L1235.2 1887.8Q1235.2 1889.8 1236.5 1891.0L1236.5 1891.0Q1237.8 1892.3 1239.7 1891.5L1245.6 1889.0Q1247.4 1888.2 1249.2 1887.4L1255.8 1884.2Q1257.6 1883.3 1258.6 1881.6Z" stroke-width="2.3" />
<path d="M1256.4 1879.4L1257.4 1877.7Q1258.4 1876.0 1258.4 1874.0L1258.4 1793.4Q1258.4 1791.4 1258.0 1790.2L1258.0 1790.2Q1257.5 1789.0 1256.5 1788.8L1256.5 1788.8Q1255.4 1788.7 1253.6 1789.4L1249.3 1791.3Q1247.4 1792.0 1245.6 1792.9L1241.6 1794.8Q1239.8 1795.7 1238.9 1796.8L1238.9 1796.8Q1237.9 1797.8 1237.5 1799.4L1237.5 1799.4Q1237.1 1801.0 1237.1 1803.0L1237.1 1883.6Q1237.1 1885.6 1238.5 1886.9L1238.5 1886.9Q1239.8 1888.1 1241.7 1887.4L1245.6 1885.8Q1247.4 1885.1 1249.2 1884.2L1253.6 1882.0Q1255.4 1881.1 1256.4 1879.4Z" stroke-width="1.6" />
<path d="M1260.0 1780.5L1258.4 1787.5" stroke-width="1.3" />
<path d="M1235.7 1791.5L1237.1 1797.1" stroke-width="1.3" />
<path d="M1256.1 1788.7L1256.1 1875.4" stroke-width="1.2" />
<path d="M1491.7 1899.7L1490.9 1897.9Q1490.1 1896.1 1490.1 1894.1L1490.1 1803.3Q1490.1 1801.3 1490.5 1800.1L1490.5 1800.1Q1490.9 1799.0 1491.7 1799.0L1491.7 1799.0Q1492.5 1798.9 1494.2 1800.1L1498.8 1803.4Q1500.5 1804.6 1502.0 1805.9L1506.2 1809.3Q1507.7 1810.6 1508.4 1811.8L1508.4 1811.8Q1509.1 1813.0 1509.4 1814.6L1509.4 1814.6Q1509.7 1816.2 1509.7 1818.2L1509.7 1909.0Q1509.7 1911.0 1508.7 1912.1L1508.7 1912.1Q1507.7 1913.1 1506.1 1912.0L1502.1 1909.0Q1500.5 1907.8 1498.9 1906.6L1494.1 1902.8Q1492.5 1901.5 1491.7 1899.7Z" stroke-width="2.3" />
<path d="M1493.5 1897.7L1492.7 1895.9Q1491.9 1894.1 1491.9 1892.1L1491.9 1811.4Q1491.9 1809.4 1492.2 1808.3L1492.2 1808.3Q1492.6 1807.2 1493.4 1807.2L1493.4 1807.2Q1494.3 1807.1 1495.9 1808.3L1498.8 1810.4Q1500.5 1811.6 1502.0 1812.9L1504.7 1815.0Q1506.2 1816.3 1506.9 1817.5L1506.9 1817.5Q1507.6 1818.7 1507.9 1820.3L1507.9 1820.3Q1508.2 1822.0 1508.2 1824.0L1508.2 1904.6Q1508.2 1906.6 1507.2 1907.7L1507.2 1907.7Q1506.2 1908.7 1504.6 1907.6L1502.1 1905.8Q1500.5 1904.7 1498.9 1903.4L1495.8 1900.8Q1494.3 1899.6 1493.5 1897.7Z" stroke-width="1.6" />
<path d="M1490.6 1798.4L1491.9 1805.5" stroke-width="1.3" />
<path d="M1509.3 1812.7L1508.2 1818.1" stroke-width="1.3" />
<path d="M1493.7 1807.1L1493.7 1893.7" stroke-width="1.2" />
<path d="M1222.9 1899.7L1223.7 1897.9Q1224.5 1896.1 1224.5 1894.1L1224.5 1803.3Q1224.5 1801.3 1224.1 1800.1L1224.1 1800.1Q1223.7 1799.0 1222.9 1799.0L1222.9 1799.0Q1222.1 1798.9 1220.4 1800.1L1215.8 1803.4Q1214.1 1804.6 1212.6 1805.9L1208.4 1809.3Q1206.9 1810.6 1206.2 1811.8L1206.2 1811.8Q1205.5 1813.0 1205.2 1814.6L1205.2 1814.6Q1204.9 1816.2 1204.9 1818.2L1204.9 1909.0Q1204.9 1911.0 1205.9 1912.1L1205.9 1912.1Q1206.9 1913.1 1208.5 1912.0L1212.5 1909.0Q1214.1 1907.8 1215.7 1906.6L1220.5 1902.8Q1222.1 1901.5 1222.9 1899.7Z" stroke-width="2.3" />
<path d="M1221.1 1897.7L1221.9 1895.9Q1222.7 1894.1 1222.7 1892.1L1222.7 1811.4Q1222.7 1809.4 1222.4 1808.3L1222.4 1808.3Q1222.0 1807.2 1221.2 1807.2L1221.2 1807.2Q1220.3 1807.1 1218.7 1808.3L1215.8 1810.4Q1214.1 1811.6 1212.6 1812.9L1209.9 1815.0Q1208.4 1816.3 1207.7 1817.5L1207.7 1817.5Q1207.0 1818.7 1206.7 1820.3L1206.7 1820.3Q1206.4 1822.0 1206.4 1824.0L1206.4 1904.6Q1206.4 1906.6 1207.4 1907.7L1207.4 1907.7Q1208.4 1908.7 1210.0 1907.6L1212.5 1905.8Q1214.1 1904.7 1215.7 1903.4L1218.8 1900.8Q1220.3 1899.6 1221.1 1897.7Z" stroke-width="1.6" />
<path d="M1224.0 1798.4L1222.7 1805.5" stroke-width="1.3" />
<path d="M1205.3 1812.7L1206.4 1818.1" stroke-width="1.3" />
<path d="M1220.9 1807.1L1220.9 1893.7" stroke-width="1.2" />
<path d="M1518.3 1922.6L1517.8 1920.6Q1517.2 1918.7 1517.2 1916.7L1517.2 1825.9Q1517.2 1823.9 1517.5 1822.8L1517.5 1822.8Q1517.7 1821.8 1518.3 1821.8L1518.3 1821.8Q1518.9 1821.9 1520.1 1823.5L1522.8 1827.0Q1524.0 1828.6 1525.1 1830.3L1527.3 1833.7Q1528.4 1835.4 1528.8 1836.7L1528.8 1836.7Q1529.2 1838.0 1529.3 1839.7L1529.3 1839.7Q1529.5 1841.4 1529.5 1843.4L1529.5 1934.1Q1529.5 1936.1 1528.9 1937.1L1528.9 1937.1Q1528.4 1938.0 1527.2 1936.4L1525.2 1933.4Q1524.0 1931.8 1522.9 1930.2L1520.0 1926.1Q1518.9 1924.5 1518.3 1922.6Z" stroke-width="2.3" />
<path d="M1519.5 1920.8L1518.9 1918.9Q1518.4 1917.0 1518.4 1915.0L1518.4 1834.3Q1518.4 1832.3 1518.7 1831.2L1518.7 1831.2Q1518.9 1830.2 1519.5 1830.2L1519.5 1830.2Q1520.0 1830.3 1521.2 1831.9L1522.8 1834.0Q1524.0 1835.6 1525.1 1837.3L1526.4 1839.3Q1527.5 1841.0 1527.9 1842.3L1527.9 1842.3Q1528.4 1843.6 1528.5 1845.2L1528.5 1845.2Q1528.7 1846.9 1528.7 1848.9L1528.7 1929.5Q1528.7 1931.5 1528.1 1932.5L1528.1 1932.5Q1527.5 1933.4 1526.3 1931.8L1525.2 1930.3Q1524.0 1928.7 1522.9 1927.0L1521.1 1924.4Q1520.0 1922.8 1519.5 1920.8Z" stroke-width="1.6" />
<path d="M1517.6 1821.1L1518.4 1828.4" stroke-width="1.3" />
<path d="M1529.3 1837.7L1528.7 1843.0" stroke-width="1.3" />
<path d="M1519.7 1830.2L1519.7 1916.9" stroke-width="1.2" />
<path d="M1196.3 1922.6L1196.8 1920.6Q1197.4 1918.7 1197.4 1916.7L1197.4 1825.9Q1197.4 1823.9 1197.1 1822.8L1197.1 1822.8Q1196.9 1821.8 1196.3 1821.8L1196.3 1821.8Q1195.7 1821.9 1194.5 1823.5L1191.8 1827.0Q1190.6 1828.6 1189.5 1830.3L1187.3 1833.7Q1186.2 1835.4 1185.8 1836.7L1185.8 1836.7Q1185.4 1838.0 1185.3 1839.7L1185.3 1839.7Q1185.1 1841.4 1185.1 1843.4L1185.1 1934.1Q1185.1 1936.1 1185.7 1937.1L1185.7 1937.1Q1186.2 1938.0 1187.4 1936.4L1189.4 1933.4Q1190.6 1931.8 1191.7 1930.2L1194.6 1926.1Q1195.7 1924.5 1196.3 1922.6Z" stroke-width="2.3" />
<path d="M1195.1 1920.8L1195.7 1918.9Q1196.2 1917.0 1196.2 1915.0L1196.2 1834.3Q1196.2 1832.3 1195.9 1831.2L1195.9 1831.2Q1195.7 1830.2 1195.1 1830.2L1195.1 1830.2Q1194.6 1830.3 1193.4 1831.9L1191.8 1834.0Q1190.6 1835.6 1189.5 1837.3L1188.2 1839.3Q1187.1 1841.0 1186.7 1842.3L1186.7 1842.3Q1186.2 1843.6 1186.1 1845.2L1186.1 1845.2Q1185.9 1846.9 1185.9 1848.9L1185.9 1929.5Q1185.9 1931.5 1186.5 1932.5L1186.5 1932.5Q1187.1 1933.4 1188.3 1931.8L1189.4 1930.3Q1190.6 1928.7 1191.7 1927.0L1193.5 1924.4Q1194.6 1922.8 1195.1 1920.8Z" stroke-width="1.6" />
<path d="M1197.0 1821.1L1196.2 1828.4" stroke-width="1.3" />
<path d="M1185.3 1837.7L1185.9 1843.0" stroke-width="1.3" />
<path d="M1194.9 1830.2L1194.9 1916.9" stroke-width="1.2" />
<path d="M1533.9 1948.7L1533.7 1946.7Q1533.4 1944.7 1533.4 1942.7L1533.4 1851.9Q1533.4 1849.9 1533.5 1848.9L1533.5 1848.9Q1533.6 1847.8 1533.9 1848.0L1533.9 1848.0Q1534.2 1848.1 1534.7 1850.0L1536.0 1854.7Q1536.5 1856.6 1536.7 1858.6L1537.4 1863.2Q1537.6 1865.2 1537.7 1866.5L1537.7 1866.5Q1537.7 1867.9 1537.7 1869.5L1537.7 1869.5Q1537.7 1871.2 1537.7 1873.2L1537.7 1964.0Q1537.7 1966.0 1537.7 1966.9L1537.7 1966.9Q1537.6 1967.8 1537.3 1965.8L1536.8 1961.8Q1536.5 1959.8 1536.0 1957.9L1534.7 1952.6Q1534.2 1950.7 1533.9 1948.7Z" stroke-width="2.3" />
<path d="M1534.4 1947.1L1534.2 1945.1Q1534.0 1943.1 1534.0 1941.1L1534.0 1860.5Q1534.0 1858.5 1534.1 1857.4L1534.1 1857.4Q1534.2 1856.4 1534.4 1856.5L1534.4 1856.5Q1534.7 1856.6 1535.2 1858.6L1536.0 1861.7Q1536.5 1863.6 1536.8 1865.6L1537.2 1868.7Q1537.5 1870.7 1537.6 1872.0L1537.6 1872.0Q1537.6 1873.3 1537.6 1875.0L1537.6 1875.0Q1537.7 1876.7 1537.7 1878.7L1537.7 1959.3Q1537.7 1961.3 1537.6 1962.2L1537.6 1962.2Q1537.5 1963.1 1537.2 1961.1L1536.8 1958.7Q1536.5 1956.7 1536.0 1954.7L1535.1 1951.0Q1534.7 1949.1 1534.4 1947.1Z" stroke-width="1.6" />
<path d="M1533.6 1847.1L1534.0 1854.6" stroke-width="1.3" />
<path d="M1537.7 1867.6L1537.7 1872.8" stroke-width="1.3" />
<path d="M1534.5 1856.5L1534.5 1943.1" stroke-width="1.2" />
<path d="M1180.7 1948.7L1180.9 1946.7Q1181.2 1944.7 1181.2 1942.7L1181.2 1851.9Q1181.2 1849.9 1181.1 1848.9L1181.1 1848.9Q1181.0 1847.8 1180.7 1848.0L1180.7 1848.0Q1180.4 1848.1 1179.9 1850.0L1178.6 1854.7Q1178.1 1856.6 1177.9 1858.6L1177.2 1863.2Q1177.0 1865.2 1176.9 1866.5L1176.9 1866.5Q1176.9 1867.9 1176.9 1869.5L1176.9 1869.5Q1176.9 1871.2 1176.9 1873.2L1176.9 1964.0Q1176.9 1966.0 1176.9 1966.9L1176.9 1966.9Q1177.0 1967.8 1177.3 1965.8L1177.8 1961.8Q1178.1 1959.8 1178.6 1957.9L1179.9 1952.6Q1180.4 1950.7 1180.7 1948.7Z" stroke-width="2.3" />
<path d="M1180.2 1947.1L1180.4 1945.1Q1180.6 1943.1 1180.6 1941.1L1180.6 1860.5Q1180.6 1858.5 1180.5 1857.4L1180.5 1857.4Q1180.4 1856.4 1180.2 1856.5L1180.2 1856.5Q1179.9 1856.6 1179.4 1858.6L1178.6 1861.7Q1178.1 1863.6 1177.8 1865.6L1177.4 1868.7Q1177.1 1870.7 1177.0 1872.0L1177.0 1872.0Q1177.0 1873.3 1177.0 1875.0L1177.0 1875.0Q1176.9 1876.7 1176.9 1878.7L1176.9 1959.3Q1176.9 1961.3 1177.0 1962.2L1177.0 1962.2Q1177.1 1963.1 1177.4 1961.1L1177.8 1958.7Q1178.1 1956.7 1178.6 1954.7L1179.5 1951.0Q1179.9 1949.1 1180.2 1947.1Z" stroke-width="1.6" />
<path d="M1181.0 1847.1L1180.6 1854.6" stroke-width="1.3" />
<path d="M1176.9 1867.6L1176.9 1872.8" stroke-width="1.3" />
<path d="M1180.1 1856.5L1180.1 1943.1" stroke-width="1.2" />
<clipPath id="c6"><path d="M1170.0 1840.0L1179.0 1953.0L1184.1 1960.7L1185.4 1985.0L1189.3 1995.3L1197.6 1998.5L1200.8 2012.0L1209.8 2019.7L1226.5 2015.8L1230.3 2032.5L1241.9 2041.5L1262.4 2040.2L1267.5 2051.8L1276.5 2056.9L1304.1 2041.5L1306.1 2060.8L1312.5 2067.2L1320.2 2064.6L1340.7 2024.8L1349.7 2055.6L1358.7 2054.4L1360.0 2045.4L1385.6 2042.8L1395.9 2050.5L1405.0 2049.0L1411.0 2052.0L1414.0 2040.0L1432.1 2031.0L1439.8 2043.9L1450.1 2041.3L1452.7 2033.6L1473.2 2028.5L1483.5 2024.6L1484.8 2013.1L1504.0 2010.5L1511.7 2005.4L1513.0 1986.1L1527.1 1982.3L1529.7 1957.9L1534.8 1956.6L1545.0 1840.0Z"/></clipPath>
<path d="M1179.0 1953.0L1182.7 1958.6Q1184.1 1960.7 1184.2 1963.2L1185.3 1982.5Q1185.4 1985.0 1186.3 1987.3L1188.4 1993.0Q1189.3 1995.3 1191.6 1996.2L1195.3 1997.6Q1197.6 1998.5 1198.2 2000.9L1200.2 2009.6Q1200.8 2012.0 1202.7 2013.6L1207.9 2018.1Q1209.8 2019.7 1212.2 2019.1L1224.1 2016.4Q1226.5 2015.8 1227.1 2018.2L1229.7 2030.1Q1230.3 2032.5 1232.3 2034.0L1239.9 2040.0Q1241.9 2041.5 1244.4 2041.3L1259.9 2040.4Q1262.4 2040.2 1263.4 2042.5L1266.5 2049.5Q1267.5 2051.8 1269.7 2053.0L1274.3 2055.7Q1276.5 2056.9 1278.7 2055.7L1301.9 2042.7Q1304.1 2041.5 1304.4 2044.0L1305.8 2058.3Q1306.1 2060.8 1307.9 2062.6L1310.7 2065.4Q1312.5 2067.2 1314.9 2066.4L1317.8 2065.4Q1320.2 2064.6 1321.3 2062.4L1339.6 2027.0Q1340.7 2024.8 1341.4 2027.2L1349.0 2053.2Q1349.7 2055.6 1352.2 2055.3L1356.2 2054.7Q1358.7 2054.4 1359.1 2051.9L1359.6 2047.9Q1360.0 2045.4 1362.5 2045.1L1383.1 2043.1Q1385.6 2042.8 1387.6 2044.3L1393.9 2049.0Q1395.9 2050.5 1398.4 2050.1L1402.5 2049.4Q1405.0 2049.0 1407.2 2050.1L1408.8 2050.9Q1411.0 2052.0 1411.6 2049.6L1413.4 2042.4Q1414.0 2040.0 1416.2 2038.9L1429.9 2032.1Q1432.1 2031.0 1433.4 2033.1L1438.5 2041.8Q1439.8 2043.9 1442.2 2043.3L1447.7 2041.9Q1450.1 2041.3 1450.9 2038.9L1451.9 2036.0Q1452.7 2033.6 1455.1 2033.0L1470.8 2029.1Q1473.2 2028.5 1475.5 2027.6L1481.2 2025.5Q1483.5 2024.6 1483.8 2022.1L1484.5 2015.6Q1484.8 2013.1 1487.3 2012.8L1501.5 2010.8Q1504.0 2010.5 1506.1 2009.1L1509.6 2006.8Q1511.7 2005.4 1511.9 2002.9L1512.8 1988.6Q1513.0 1986.1 1515.4 1985.4L1524.7 1983.0Q1527.1 1982.3 1527.4 1979.8L1529.4 1960.4Q1529.7 1957.9 1532.1 1957.3L1534.8 1956.6" stroke-width="2.2" />
<g clip-path="url(#c6)">
<path d="M1238.7 1898.6L1240.5 1899.4L1242.3 1900.2L1243.3 1900.5L1244.1 1900.6L1246.4 1900.2L1248.7 1899.8L1251.0 1899.4L1253.2 1899.0L1255.5 1898.6L1257.8 1898.2L1260.1 1897.8L1262.4 1897.4L1264.7 1897.0L1265.7 1896.4L1266.8 1895.2L1268.0 1894.1L1268.3 1893.1L1267.3 1891.8L1266.3 1890.5L1265.2 1889.3L1264.2 1888.0L1263.2 1886.7" stroke-width="2.2" />
<path d="M1230.1 1903.6L1231.6 1904.7L1233.0 1905.7L1233.5 1906.3L1233.5 1906.8L1232.8 1908.1L1232.2 1909.5L1231.5 1910.8L1230.8 1912.2L1230.2 1913.5L1229.5 1914.8L1228.8 1916.2L1228.1 1917.5L1227.5 1918.9L1226.5 1919.5L1224.5 1920.1L1222.5 1920.8L1220.8 1921.0L1218.7 1920.4L1216.5 1919.8L1214.3 1919.2L1212.2 1918.6L1210.0 1918.0" stroke-width="2.2" />
<path d="M1484.5 2043.0L1483.0 2042.0L1481.6 2040.9L1481.1 2040.3L1481.1 2039.9L1481.8 2038.5L1482.4 2037.2L1483.1 2035.8L1483.8 2034.5L1484.4 2033.1L1485.1 2031.8L1485.8 2030.4L1486.5 2029.1L1487.1 2027.7L1488.1 2027.2L1490.1 2026.5L1492.1 2025.8L1493.8 2025.6L1495.9 2026.2L1498.1 2026.8L1500.3 2027.4L1502.4 2028.0L1504.6 2028.6" stroke-width="2.2" />
<path d="M1475.9 2048.1L1474.1 2047.2L1472.3 2046.4L1471.3 2046.1L1470.5 2046.1L1468.2 2046.5L1465.9 2046.9L1463.6 2047.3L1461.4 2047.7L1459.1 2048.0L1456.8 2048.4L1454.5 2048.8L1452.2 2049.2L1449.9 2049.6L1448.9 2050.2L1447.8 2051.4L1446.6 2052.6L1446.3 2053.5L1447.3 2054.8L1448.3 2056.1L1449.4 2057.4L1450.4 2058.6L1451.4 2059.9" stroke-width="2.2" />
<path d="M1240.5 1897.5L1242.2 1898.3L1243.9 1899.1L1246.1 1898.7L1248.2 1898.3L1250.4 1898.0L1252.6 1897.6L1254.8 1897.2L1257.0 1896.8L1259.1 1896.4L1261.3 1896.1L1263.5 1895.7L1264.7 1894.5L1265.8 1893.3L1264.9 1892.1L1263.9 1891.0L1262.9 1889.8L1262.0 1888.6L1261.0 1887.4" stroke-width="1.7" />
<path d="M1228.3 1904.6L1229.7 1905.6L1231.0 1906.6L1230.4 1907.9L1229.7 1909.2L1229.1 1910.5L1228.4 1911.8L1227.8 1913.1L1227.2 1914.3L1226.5 1915.6L1225.9 1916.9L1225.2 1918.2L1223.2 1918.9L1221.2 1919.5L1219.2 1919.0L1217.2 1918.4L1215.2 1917.8L1213.2 1917.3L1211.1 1916.7" stroke-width="1.7" />
<path d="M1486.3 2042.0L1484.9 2041.0L1483.6 2040.0L1484.2 2038.7L1484.9 2037.4L1485.5 2036.1L1486.2 2034.9L1486.8 2033.6L1487.4 2032.3L1488.1 2031.0L1488.7 2029.7L1489.4 2028.4L1491.4 2027.8L1493.4 2027.1L1495.4 2027.7L1497.4 2028.2L1499.4 2028.8L1501.4 2029.4L1503.5 2029.9" stroke-width="1.7" />
<path d="M1474.1 2049.1L1472.4 2048.3L1470.7 2047.5L1468.5 2047.9L1466.4 2048.3L1464.2 2048.7L1462.0 2049.1L1459.8 2049.4L1457.6 2049.8L1455.5 2050.2L1453.3 2050.6L1451.1 2050.9L1449.9 2052.1L1448.8 2053.3L1449.7 2054.5L1450.7 2055.7L1451.7 2056.9L1452.6 2058.0L1453.6 2059.2" stroke-width="1.7" />
<path d="M1274.3 1882.2L1275.1 1883.5L1275.8 1884.8L1276.5 1886.1L1277.3 1887.4L1278.0 1888.6L1278.7 1889.9L1279.5 1891.2L1280.2 1892.5L1280.9 1893.7L1281.8 1894.5L1282.9 1894.9L1285.1 1895.3L1287.3 1895.6L1289.5 1896.0L1291.6 1896.4L1293.8 1896.7L1296.0 1897.1L1298.1 1897.5L1300.3 1897.9L1302.5 1898.2L1304.6 1898.6L1306.8 1899.0L1309.0 1899.3L1311.2 1899.7L1312.9 1899.7L1314.1 1899.2L1314.8 1898.5L1314.8 1897.6L1314.3 1896.3L1313.7 1895.0L1313.1 1893.7L1312.5 1892.4L1312.0 1891.0L1311.4 1889.7L1310.8 1888.4L1310.3 1887.1L1309.7 1885.8L1309.1 1884.4L1308.6 1883.1L1308.0 1881.8L1307.4 1880.5L1306.9 1879.2L1306.3 1877.9L1305.7 1876.5L1305.1 1875.2" stroke-width="2.2" />
<path d="M1202.4 1924.5L1204.5 1925.0L1206.7 1925.4L1208.9 1925.8L1211.1 1926.3L1213.2 1926.7L1215.4 1927.1L1217.6 1927.6L1219.7 1928.0L1221.9 1928.4L1223.2 1928.9L1223.9 1929.6L1224.5 1930.9L1225.1 1932.2L1225.8 1933.4L1226.4 1934.7L1227.0 1936.0L1227.7 1937.3L1228.3 1938.5L1228.9 1939.8L1229.6 1941.1L1230.2 1942.4L1230.8 1943.6L1231.5 1944.9L1232.1 1946.2L1232.1 1947.2L1231.3 1947.9L1230.0 1948.4L1228.5 1948.3L1226.3 1948.0L1224.1 1947.7L1221.8 1947.3L1219.6 1947.0L1217.3 1946.7L1215.1 1946.3L1212.8 1946.0L1210.6 1945.7L1208.4 1945.3L1206.1 1945.0L1203.9 1944.7L1201.6 1944.3L1199.4 1944.0L1197.1 1943.7L1194.9 1943.3L1192.7 1943.0L1190.4 1942.7" stroke-width="2.2" />
<path d="M1512.2 2022.1L1510.1 2021.6L1507.9 2021.2L1505.7 2020.8L1503.5 2020.4L1501.4 2019.9L1499.2 2019.5L1497.0 2019.1L1494.9 2018.6L1492.7 2018.2L1491.4 2017.7L1490.7 2017.0L1490.1 2015.7L1489.5 2014.5L1488.8 2013.2L1488.2 2011.9L1487.6 2010.6L1486.9 2009.4L1486.3 2008.1L1485.7 2006.8L1485.0 2005.5L1484.4 2004.3L1483.8 2003.0L1483.1 2001.7L1482.5 2000.4L1482.5 1999.4L1483.3 1998.7L1484.6 1998.3L1486.1 1998.3L1488.3 1998.6L1490.5 1999.0L1492.8 1999.3L1495.0 1999.6L1497.3 2000.0L1499.5 2000.3L1501.8 2000.6L1504.0 2001.0L1506.2 2001.3L1508.5 2001.6L1510.7 2002.0L1513.0 2002.3L1515.2 2002.6L1517.5 2003.0L1519.7 2003.3L1521.9 2003.6L1524.2 2004.0" stroke-width="2.2" />
<path d="M1440.3 2064.4L1439.5 2063.1L1438.8 2061.8L1438.1 2060.6L1437.3 2059.3L1436.6 2058.0L1435.9 2056.7L1435.1 2055.4L1434.4 2054.2L1433.7 2052.9L1432.8 2052.1L1431.7 2051.7L1429.5 2051.4L1427.3 2051.0L1425.1 2050.6L1423.0 2050.3L1420.8 2049.9L1418.6 2049.5L1416.5 2049.1L1414.3 2048.8L1412.1 2048.4L1410.0 2048.0L1407.8 2047.7L1405.6 2047.3L1403.4 2046.9L1401.7 2046.9L1400.5 2047.4L1399.8 2048.2L1399.8 2049.0L1400.3 2050.3L1400.9 2051.6L1401.5 2053.0L1402.1 2054.3L1402.6 2055.6L1403.2 2056.9L1403.8 2058.2L1404.3 2059.5L1404.9 2060.9L1405.5 2062.2L1406.0 2063.5L1406.6 2064.8L1407.2 2066.1L1407.7 2067.4L1408.3 2068.8L1408.9 2070.1L1409.5 2071.4" stroke-width="2.2" />
<path d="M1276.8 1881.7L1277.5 1883.0L1278.2 1884.3L1279.0 1885.6L1279.7 1886.9L1280.5 1888.2L1281.2 1889.5L1281.9 1890.8L1282.7 1892.1L1283.4 1893.4L1283.4 1893.4L1285.6 1893.8L1287.8 1894.1L1290.0 1894.5L1292.1 1894.9L1294.3 1895.3L1296.5 1895.6L1298.7 1896.0L1300.9 1896.4L1303.0 1896.8L1305.2 1897.2L1307.4 1897.5L1309.6 1897.9L1311.8 1898.3L1312.3 1898.2L1311.8 1896.9L1311.2 1895.5L1310.6 1894.2L1310.0 1892.8L1309.5 1891.5L1308.9 1890.2L1308.3 1888.8L1307.7 1887.5L1307.2 1886.2L1306.6 1884.8L1306.0 1883.5L1305.4 1882.1L1304.8 1880.8L1304.3 1879.5L1303.7 1878.1L1303.1 1876.8L1302.5 1875.4" stroke-width="1.7" />
<path d="M1201.4 1926.0L1203.6 1926.4L1205.8 1926.8L1208.0 1927.3L1210.3 1927.7L1212.5 1928.2L1214.7 1928.6L1216.9 1929.0L1219.1 1929.5L1221.3 1929.9L1221.3 1929.9L1222.0 1931.2L1222.6 1932.5L1223.2 1933.7L1223.9 1935.0L1224.5 1936.3L1225.2 1937.6L1225.8 1938.9L1226.4 1940.1L1227.1 1941.4L1227.7 1942.7L1228.4 1944.0L1229.0 1945.3L1229.6 1946.5L1229.5 1946.9L1227.2 1946.5L1225.0 1946.2L1222.7 1945.9L1220.4 1945.5L1218.1 1945.2L1215.8 1944.9L1213.6 1944.5L1211.3 1944.2L1209.0 1943.8L1206.7 1943.5L1204.5 1943.2L1202.2 1942.8L1199.9 1942.5L1197.6 1942.1L1195.3 1941.8L1193.1 1941.5L1190.8 1941.1" stroke-width="1.7" />
<path d="M1513.2 2020.6L1511.0 2020.2L1508.8 2019.8L1506.6 2019.3L1504.3 2018.9L1502.1 2018.5L1499.9 2018.0L1497.7 2017.6L1495.5 2017.2L1493.3 2016.7L1493.3 2016.7L1492.6 2015.5L1492.0 2014.2L1491.4 2012.9L1490.7 2011.6L1490.1 2010.3L1489.4 2009.0L1488.8 2007.8L1488.2 2006.5L1487.5 2005.2L1486.9 2003.9L1486.2 2002.6L1485.6 2001.4L1485.0 2000.1L1485.1 1999.7L1487.4 2000.1L1489.6 2000.4L1491.9 2000.8L1494.2 2001.1L1496.5 2001.4L1498.8 2001.8L1501.0 2002.1L1503.3 2002.5L1505.6 2002.8L1507.9 2003.1L1510.1 2003.5L1512.4 2003.8L1514.7 2004.1L1517.0 2004.5L1519.3 2004.8L1521.5 2005.2L1523.8 2005.5" stroke-width="1.7" />
<path d="M1437.8 2064.9L1437.1 2063.6L1436.4 2062.3L1435.6 2061.0L1434.9 2059.7L1434.1 2058.4L1433.4 2057.1L1432.7 2055.8L1431.9 2054.5L1431.2 2053.2L1431.2 2053.2L1429.0 2052.9L1426.8 2052.5L1424.6 2052.1L1422.5 2051.7L1420.3 2051.4L1418.1 2051.0L1415.9 2050.6L1413.7 2050.2L1411.6 2049.8L1409.4 2049.5L1407.2 2049.1L1405.0 2048.7L1402.8 2048.3L1402.3 2048.4L1402.8 2049.8L1403.4 2051.1L1404.0 2052.4L1404.6 2053.8L1405.1 2055.1L1405.7 2056.5L1406.3 2057.8L1406.9 2059.1L1407.4 2060.5L1408.0 2061.8L1408.6 2063.1L1409.2 2064.5L1409.8 2065.8L1410.3 2067.2L1410.9 2068.5L1411.5 2069.8L1412.1 2071.2" stroke-width="1.7" />
<path d="M1319.2 1872.6L1319.6 1873.9L1320.1 1875.2L1320.5 1876.5L1321.0 1877.8L1321.4 1879.0L1321.8 1880.3L1322.3 1881.6L1322.8 1882.3L1323.7 1883.0L1324.7 1883.8L1325.5 1884.2L1327.1 1884.5L1329.4 1884.5L1331.8 1884.6L1334.2 1884.6L1336.6 1884.6L1338.5 1884.3L1340.5 1884.0L1342.4 1883.8L1344.3 1883.5L1346.3 1883.2L1348.2 1882.7L1350.1 1882.1L1351.9 1881.6L1353.8 1881.0L1355.1 1880.3L1355.5 1879.6L1355.4 1879.0L1354.9 1877.8L1354.4 1876.6L1353.9 1875.4L1353.4 1874.2L1352.8 1872.9L1352.3 1871.7L1351.8 1870.5" stroke-width="2.2" />
<path d="M1186.0 1950.9L1188.2 1951.2L1190.4 1951.4L1192.6 1951.7L1194.7 1951.9L1196.9 1952.2L1199.1 1952.5L1201.3 1952.7L1202.4 1953.0L1203.7 1953.6L1205.0 1954.1L1205.7 1954.6L1206.2 1955.5L1206.3 1956.9L1206.3 1958.3L1206.3 1959.7L1206.4 1961.1L1205.9 1962.3L1205.4 1963.4L1204.9 1964.6L1204.5 1965.7L1204.0 1966.8L1203.1 1967.9L1202.1 1969.1L1201.2 1970.2L1200.3 1971.3L1199.1 1972.0L1197.9 1972.3L1196.9 1972.2L1194.8 1971.9L1192.7 1971.6L1190.7 1971.3L1188.6 1971.0L1186.6 1970.7L1184.5 1970.4L1182.4 1970.1" stroke-width="2.2" />
<path d="M1528.6 1995.7L1526.4 1995.4L1524.2 1995.2L1522.0 1994.9L1519.9 1994.7L1517.7 1994.4L1515.5 1994.2L1513.3 1993.9L1512.2 1993.6L1510.9 1993.0L1509.6 1992.5L1508.9 1992.0L1508.4 1991.1L1508.3 1989.7L1508.3 1988.3L1508.3 1986.9L1508.2 1985.5L1508.7 1984.3L1509.2 1983.2L1509.7 1982.1L1510.1 1980.9L1510.6 1979.8L1511.5 1978.7L1512.5 1977.6L1513.4 1976.5L1514.3 1975.3L1515.5 1974.6L1516.7 1974.4L1517.7 1974.4L1519.8 1974.7L1521.9 1975.0L1523.9 1975.3L1526.0 1975.6L1528.0 1975.9L1530.1 1976.2L1532.2 1976.5" stroke-width="2.2" />
<path d="M1395.4 2074.0L1395.0 2072.7L1394.5 2071.4L1394.1 2070.1L1393.6 2068.9L1393.2 2067.6L1392.8 2066.3L1392.3 2065.0L1391.8 2064.3L1390.9 2063.6L1389.9 2062.8L1389.1 2062.4L1387.5 2062.1L1385.2 2062.1L1382.8 2062.1L1380.4 2062.0L1378.0 2062.0L1376.1 2062.3L1374.1 2062.6L1372.2 2062.9L1370.3 2063.1L1368.3 2063.4L1366.4 2064.0L1364.5 2064.5L1362.7 2065.1L1360.8 2065.6L1359.5 2066.3L1359.1 2067.0L1359.2 2067.6L1359.7 2068.8L1360.2 2070.0L1360.7 2071.3L1361.2 2072.5L1361.8 2073.7L1362.3 2074.9L1362.8 2076.1" stroke-width="2.2" />
<path d="M1321.7 1872.1L1322.2 1873.4L1322.6 1874.7L1323.0 1876.0L1323.4 1877.3L1323.8 1878.6L1324.3 1879.9L1324.7 1881.2L1325.7 1882.0L1326.6 1882.8L1326.6 1882.8L1327.2 1883.0L1329.5 1883.1L1331.7 1883.1L1333.9 1883.1L1336.1 1883.2L1338.3 1882.8L1340.6 1882.5L1342.8 1882.2L1345.0 1881.9L1347.0 1881.3L1348.9 1880.8L1350.9 1880.2L1352.9 1879.6L1353.0 1879.3L1352.4 1878.1L1351.9 1876.9L1351.4 1875.6L1350.8 1874.4L1350.3 1873.2L1349.8 1872.0L1349.2 1870.8" stroke-width="1.7" />
<path d="M1185.2 1952.4L1187.4 1952.7L1189.6 1952.9L1191.8 1953.1L1194.0 1953.4L1196.2 1953.6L1198.4 1953.9L1200.6 1954.1L1202.0 1954.7L1203.4 1955.3L1203.4 1955.3L1203.7 1955.6L1203.8 1956.9L1203.8 1958.2L1203.9 1959.5L1203.9 1960.9L1203.4 1962.2L1202.9 1963.5L1202.3 1964.8L1201.8 1966.1L1200.8 1967.2L1199.8 1968.4L1198.9 1969.6L1197.9 1970.7L1197.4 1970.8L1195.3 1970.5L1193.2 1970.1L1191.1 1969.8L1189.1 1969.5L1187.0 1969.2L1184.9 1968.9L1182.8 1968.6" stroke-width="1.7" />
<path d="M1529.4 1994.2L1527.2 1994.0L1525.0 1993.7L1522.8 1993.5L1520.6 1993.2L1518.4 1993.0L1516.2 1992.7L1514.0 1992.5L1512.6 1991.9L1511.2 1991.3L1511.2 1991.3L1510.9 1991.0L1510.8 1989.7L1510.8 1988.4L1510.7 1987.1L1510.7 1985.8L1511.2 1984.5L1511.7 1983.2L1512.3 1981.8L1512.8 1980.5L1513.8 1979.4L1514.8 1978.2L1515.7 1977.1L1516.7 1975.9L1517.2 1975.9L1519.3 1976.2L1521.4 1976.5L1523.5 1976.8L1525.5 1977.1L1527.6 1977.4L1529.7 1977.7L1531.8 1978.0" stroke-width="1.7" />
<path d="M1392.9 2074.5L1392.4 2073.2L1392.0 2071.9L1391.6 2070.6L1391.2 2069.3L1390.8 2068.0L1390.3 2066.7L1389.9 2065.4L1388.9 2064.6L1388.0 2063.8L1388.0 2063.8L1387.4 2063.6L1385.1 2063.6L1382.9 2063.5L1380.7 2063.5L1378.5 2063.5L1376.3 2063.8L1374.0 2064.1L1371.8 2064.4L1369.6 2064.7L1367.6 2065.3L1365.7 2065.9L1363.7 2066.4L1361.7 2067.0L1361.6 2067.3L1362.2 2068.5L1362.7 2069.8L1363.2 2071.0L1363.8 2072.2L1364.3 2073.4L1364.8 2074.7L1365.4 2075.9" stroke-width="1.7" />
<path d="M1368.6 1870.8L1368.9 1872.2L1369.1 1873.5L1369.4 1874.9L1369.6 1876.3L1369.9 1877.7L1370.1 1879.1L1370.3 1880.4L1370.6 1881.8L1370.8 1883.2L1371.1 1884.6L1371.3 1886.0L1371.5 1887.3L1371.8 1888.7L1372.0 1890.1L1372.3 1891.5L1372.5 1892.8L1372.8 1894.2L1373.0 1895.6L1373.2 1897.0L1373.5 1898.4L1373.7 1899.7L1373.7 1899.7L1374.2 1900.4L1375.4 1900.8L1376.6 1900.7L1377.5 1900.0L1378.2 1898.7L1378.9 1897.3L1379.6 1896.0L1380.3 1894.7L1380.9 1893.4L1381.6 1892.1L1382.3 1890.8L1383.0 1889.5L1383.7 1888.1L1384.4 1886.8L1385.1 1885.5L1385.8 1884.2L1386.4 1882.9L1387.1 1881.6L1387.8 1880.3L1388.5 1879.0L1389.2 1877.6L1389.9 1876.3L1390.6 1875.0L1391.3 1873.7L1391.9 1872.4" stroke-width="2.2" />
<path d="M1182.8 1980.0L1185.2 1980.1L1187.5 1980.3L1189.9 1980.4L1192.2 1980.5L1194.6 1980.7L1196.9 1980.8L1199.3 1981.0L1201.6 1981.1L1204.0 1981.3L1206.3 1981.4L1208.7 1981.5L1211.0 1981.7L1213.4 1981.8L1215.7 1982.0L1218.1 1982.1L1220.4 1982.3L1222.8 1982.4L1225.1 1982.5L1227.5 1982.7L1229.8 1982.8L1232.1 1983.0L1232.1 1983.0L1233.2 1983.2L1233.9 1983.9L1233.7 1984.6L1232.5 1985.2L1230.3 1985.6L1228.0 1986.0L1225.8 1986.4L1223.6 1986.8L1221.3 1987.2L1219.1 1987.6L1216.9 1988.0L1214.6 1988.4L1212.4 1988.8L1210.2 1989.2L1207.9 1989.6L1205.7 1990.0L1203.5 1990.4L1201.2 1990.8L1199.0 1991.3L1196.8 1991.7L1194.5 1992.1L1192.3 1992.5L1190.1 1992.9L1187.8 1993.3L1185.6 1993.7" stroke-width="2.2" />
<path d="M1531.8 1966.6L1529.4 1966.5L1527.1 1966.4L1524.7 1966.2L1522.4 1966.1L1520.0 1965.9L1517.7 1965.8L1515.3 1965.6L1513.0 1965.5L1510.6 1965.4L1508.3 1965.2L1505.9 1965.1L1503.6 1964.9L1501.2 1964.8L1498.9 1964.7L1496.5 1964.5L1494.2 1964.4L1491.8 1964.2L1489.5 1964.1L1487.1 1963.9L1484.8 1963.8L1482.5 1963.7L1482.5 1963.7L1481.4 1963.4L1480.7 1962.7L1480.9 1962.0L1482.1 1961.4L1484.3 1961.0L1486.6 1960.6L1488.8 1960.2L1491.0 1959.8L1493.3 1959.4L1495.5 1959.0L1497.7 1958.6L1500.0 1958.2L1502.2 1957.8L1504.4 1957.4L1506.7 1957.0L1508.9 1956.6L1511.1 1956.2L1513.4 1955.8L1515.6 1955.4L1517.8 1955.0L1520.1 1954.6L1522.3 1954.2L1524.5 1953.8L1526.8 1953.4L1529.0 1952.9" stroke-width="2.2" />
<path d="M1346.0 2075.9L1345.7 2074.5L1345.5 2073.1L1345.2 2071.7L1345.0 2070.3L1344.7 2069.0L1344.5 2067.6L1344.3 2066.2L1344.0 2064.8L1343.8 2063.4L1343.5 2062.1L1343.3 2060.7L1343.1 2059.3L1342.8 2057.9L1342.6 2056.5L1342.3 2055.2L1342.1 2053.8L1341.8 2052.4L1341.6 2051.0L1341.4 2049.6L1341.1 2048.3L1340.9 2046.9L1340.9 2046.9L1340.4 2046.2L1339.2 2045.8L1338.0 2046.0L1337.1 2046.7L1336.4 2048.0L1335.7 2049.3L1335.0 2050.6L1334.3 2051.9L1333.7 2053.2L1333.0 2054.5L1332.3 2055.8L1331.6 2057.2L1330.9 2058.5L1330.2 2059.8L1329.5 2061.1L1328.8 2062.4L1328.2 2063.7L1327.5 2065.0L1326.8 2066.4L1326.1 2067.7L1325.4 2069.0L1324.7 2070.3L1324.0 2071.6L1323.3 2072.9L1322.7 2074.2" stroke-width="2.2" />
<path d="M1370.8 1870.7L1371.0 1872.1L1371.2 1873.4L1371.5 1874.8L1371.7 1876.1L1372.0 1877.5L1372.2 1878.8L1372.4 1880.2L1372.7 1881.5L1372.9 1882.9L1373.1 1884.2L1373.4 1885.6L1373.6 1886.9L1373.8 1888.3L1374.1 1889.6L1374.3 1891.0L1374.6 1892.3L1374.8 1893.7L1375.0 1895.0L1375.3 1896.4L1375.5 1897.7L1375.7 1899.1L1375.7 1899.1L1376.4 1897.8L1377.2 1896.4L1377.9 1895.1L1378.6 1893.7L1379.3 1892.4L1380.0 1891.0L1380.7 1889.7L1381.4 1888.3L1382.1 1887.0L1382.8 1885.6L1383.5 1884.3L1384.2 1882.9L1384.9 1881.6L1385.6 1880.2L1386.3 1878.9L1387.0 1877.5L1387.7 1876.2L1388.4 1874.9L1389.1 1873.5L1389.8 1872.2" stroke-width="1.7" />
<path d="M1182.8 1981.2L1185.1 1981.4L1187.4 1981.5L1189.7 1981.6L1192.0 1981.8L1194.3 1981.9L1196.6 1982.1L1198.9 1982.2L1201.2 1982.3L1203.5 1982.5L1205.8 1982.6L1208.1 1982.8L1210.4 1982.9L1212.7 1983.0L1214.9 1983.2L1217.2 1983.3L1219.5 1983.5L1221.8 1983.6L1224.1 1983.7L1226.4 1983.9L1228.7 1984.0L1231.0 1984.2L1231.0 1984.2L1228.7 1984.6L1226.5 1985.0L1224.2 1985.4L1221.9 1985.8L1219.6 1986.2L1217.3 1986.6L1215.0 1987.1L1212.7 1987.5L1210.4 1987.9L1208.1 1988.3L1205.8 1988.7L1203.5 1989.1L1201.2 1989.5L1199.0 1990.0L1196.7 1990.4L1194.4 1990.8L1192.1 1991.2L1189.8 1991.6L1187.5 1992.0L1185.2 1992.4" stroke-width="1.7" />
<path d="M1531.8 1965.4L1529.5 1965.3L1527.2 1965.1L1524.9 1965.0L1522.6 1964.8L1520.3 1964.7L1518.0 1964.6L1515.7 1964.4L1513.4 1964.3L1511.1 1964.1L1508.8 1964.0L1506.5 1963.9L1504.2 1963.7L1501.9 1963.6L1499.7 1963.4L1497.4 1963.3L1495.1 1963.2L1492.8 1963.0L1490.5 1962.9L1488.2 1962.8L1485.9 1962.6L1483.6 1962.5L1483.6 1962.5L1485.9 1962.1L1488.1 1961.6L1490.4 1961.2L1492.7 1960.8L1495.0 1960.4L1497.3 1960.0L1499.6 1959.6L1501.9 1959.2L1504.2 1958.7L1506.5 1958.3L1508.8 1957.9L1511.1 1957.5L1513.4 1957.1L1515.6 1956.7L1517.9 1956.3L1520.2 1955.8L1522.5 1955.4L1524.8 1955.0L1527.1 1954.6L1529.4 1954.2" stroke-width="1.7" />
<path d="M1343.8 2075.9L1343.6 2074.5L1343.4 2073.2L1343.1 2071.8L1342.9 2070.5L1342.6 2069.1L1342.4 2067.8L1342.2 2066.4L1341.9 2065.1L1341.7 2063.7L1341.5 2062.4L1341.2 2061.0L1341.0 2059.7L1340.8 2058.3L1340.5 2057.0L1340.3 2055.6L1340.0 2054.3L1339.8 2052.9L1339.6 2051.6L1339.3 2050.2L1339.1 2048.9L1338.9 2047.5L1338.9 2047.5L1338.2 2048.9L1337.4 2050.2L1336.7 2051.6L1336.0 2052.9L1335.3 2054.3L1334.6 2055.6L1333.9 2057.0L1333.2 2058.3L1332.5 2059.7L1331.8 2061.0L1331.1 2062.3L1330.4 2063.7L1329.7 2065.0L1329.0 2066.4L1328.3 2067.7L1327.6 2069.1L1326.9 2070.4L1326.2 2071.8L1325.5 2073.1L1324.8 2074.5" stroke-width="1.7" />
<path d="M1412.7 1876.5L1411.9 1877.8L1411.0 1879.1L1410.2 1880.4L1409.3 1881.8L1408.4 1883.1L1407.6 1884.4L1406.7 1885.7L1405.9 1887.0L1405.0 1888.3L1404.1 1889.6L1403.3 1890.9L1402.4 1892.3L1401.5 1893.6L1400.7 1894.9L1399.8 1896.2L1399.0 1897.5L1398.1 1898.8L1397.2 1900.1L1396.4 1901.4L1395.5 1902.8L1394.6 1904.1L1393.8 1905.4L1392.9 1906.7L1392.1 1908.0L1392.1 1908.0L1392.0 1908.6L1392.7 1909.0L1393.6 1909.1L1394.4 1908.8L1395.9 1907.7L1397.3 1906.5L1398.8 1905.4L1400.3 1904.3L1401.7 1903.2L1403.2 1902.0L1404.7 1900.9L1406.1 1899.8L1407.6 1898.7L1409.1 1897.5L1410.5 1896.4L1412.0 1895.3L1413.4 1894.2L1414.9 1893.1L1416.4 1891.9L1417.8 1890.8L1419.3 1889.7L1420.8 1888.6L1422.2 1887.4L1423.7 1886.3L1425.2 1885.2L1426.6 1884.1L1428.1 1883.0L1429.6 1881.8L1431.0 1880.7" stroke-width="2.2" />
<path d="M1192.6 2005.9L1194.8 2005.4L1197.1 2004.9L1199.3 2004.4L1201.5 2003.9L1203.8 2003.4L1206.0 2002.9L1208.2 2002.4L1210.5 2001.9L1212.7 2001.3L1214.9 2000.8L1217.2 2000.3L1219.4 1999.8L1221.6 1999.3L1223.9 1998.8L1226.1 1998.3L1228.3 1997.8L1230.6 1997.3L1232.8 1996.8L1235.0 1996.3L1237.3 1995.8L1239.5 1995.3L1241.7 1994.8L1244.0 1994.2L1246.2 1993.7L1246.2 1993.7L1247.2 1993.7L1247.9 1994.1L1248.0 1994.6L1247.5 1995.1L1245.6 1996.0L1243.7 1996.8L1241.8 1997.7L1239.9 1998.6L1238.0 1999.4L1236.0 2000.3L1234.1 2001.1L1232.2 2002.0L1230.3 2002.9L1228.4 2003.7L1226.5 2004.6L1224.6 2005.5L1222.7 2006.3L1220.8 2007.2L1218.9 2008.0L1216.9 2008.9L1215.0 2009.8L1213.1 2010.6L1211.2 2011.5L1209.3 2012.3L1207.4 2013.2L1205.5 2014.1L1203.6 2014.9L1201.7 2015.8L1199.8 2016.6" stroke-width="2.2" />
<path d="M1522.0 1940.7L1519.8 1941.2L1517.5 1941.7L1515.3 1942.2L1513.1 1942.7L1510.8 1943.3L1508.6 1943.8L1506.4 1944.3L1504.1 1944.8L1501.9 1945.3L1499.7 1945.8L1497.4 1946.3L1495.2 1946.8L1493.0 1947.3L1490.7 1947.8L1488.5 1948.3L1486.3 1948.8L1484.0 1949.3L1481.8 1949.8L1479.6 1950.3L1477.3 1950.9L1475.1 1951.4L1472.9 1951.9L1470.6 1952.4L1468.4 1952.9L1468.4 1952.9L1467.4 1952.9L1466.7 1952.5L1466.6 1952.0L1467.1 1951.5L1469.0 1950.6L1470.9 1949.8L1472.8 1948.9L1474.7 1948.1L1476.6 1947.2L1478.6 1946.3L1480.5 1945.5L1482.4 1944.6L1484.3 1943.8L1486.2 1942.9L1488.1 1942.0L1490.0 1941.2L1491.9 1940.3L1493.8 1939.4L1495.7 1938.6L1497.7 1937.7L1499.6 1936.9L1501.5 1936.0L1503.4 1935.1L1505.3 1934.3L1507.2 1933.4L1509.1 1932.6L1511.0 1931.7L1512.9 1930.8L1514.8 1930.0" stroke-width="2.2" />
<path d="M1301.9 2070.1L1302.7 2068.8L1303.6 2067.5L1304.4 2066.2L1305.3 2064.9L1306.2 2063.6L1307.0 2062.2L1307.9 2060.9L1308.7 2059.6L1309.6 2058.3L1310.5 2057.0L1311.3 2055.7L1312.2 2054.4L1313.1 2053.1L1313.9 2051.7L1314.8 2050.4L1315.6 2049.1L1316.5 2047.8L1317.4 2046.5L1318.2 2045.2L1319.1 2043.9L1320.0 2042.6L1320.8 2041.2L1321.7 2039.9L1322.5 2038.6L1322.5 2038.6L1322.6 2038.0L1321.9 2037.6L1321.0 2037.5L1320.2 2037.8L1318.7 2039.0L1317.3 2040.1L1315.8 2041.2L1314.3 2042.3L1312.9 2043.5L1311.4 2044.6L1309.9 2045.7L1308.5 2046.8L1307.0 2048.0L1305.5 2049.1L1304.1 2050.2L1302.6 2051.3L1301.2 2052.4L1299.7 2053.6L1298.2 2054.7L1296.8 2055.8L1295.3 2056.9L1293.8 2058.1L1292.4 2059.2L1290.9 2060.3L1289.4 2061.4L1288.0 2062.5L1286.5 2063.7L1285.0 2064.8L1283.6 2065.9" stroke-width="2.2" />
<path d="M1395.3 1906.2L1396.8 1905.1L1398.2 1904.0L1399.7 1902.9L1401.2 1901.7L1402.6 1900.6L1404.1 1899.5L1405.6 1898.4L1407.0 1897.2L1408.5 1896.1L1410.0 1895.0L1411.4 1893.9L1412.9 1892.7L1414.4 1891.6L1415.8 1890.5L1417.3 1889.4L1418.8 1888.2L1420.2 1887.1L1421.7 1886.0L1423.2 1884.9L1424.6 1883.8L1426.1 1882.6L1427.6 1881.5L1429.0 1880.4L1430.5 1879.3L1428.3 1878.8L1426.1 1878.4L1423.9 1877.9L1421.6 1877.5L1419.4 1877.0L1417.2 1876.6L1415.0 1876.1L1414.1 1877.4L1413.3 1878.7L1412.4 1880.0L1411.6 1881.4L1410.7 1882.7L1409.9 1884.0L1409.0 1885.3L1408.1 1886.6L1407.3 1887.9L1406.4 1889.2L1405.6 1890.5L1404.7 1891.8L1403.9 1893.1L1403.0 1894.4L1402.1 1895.8L1401.3 1897.1L1400.4 1898.4L1399.6 1899.7L1398.7 1901.0L1397.9 1902.3L1397.0 1903.6L1396.1 1904.9L1395.3 1906.2Z" stroke-width="1.7" />
<path d="M1243.2 1995.6L1241.3 1996.5L1239.4 1997.4L1237.4 1998.2L1235.5 1999.1L1233.6 2000.0L1231.7 2000.8L1229.8 2001.7L1227.9 2002.5L1226.0 2003.4L1224.1 2004.3L1222.1 2005.1L1220.2 2006.0L1218.3 2006.8L1216.4 2007.7L1214.5 2008.6L1212.6 2009.4L1210.7 2010.3L1208.8 2011.2L1206.8 2012.0L1204.9 2012.9L1203.0 2013.7L1201.1 2014.6L1199.2 2015.5L1197.3 2016.3L1196.5 2015.0L1195.8 2013.7L1195.0 2012.4L1194.2 2011.1L1193.5 2009.8L1192.7 2008.5L1191.9 2007.2L1194.2 2006.7L1196.4 2006.2L1198.6 2005.7L1200.9 2005.2L1203.1 2004.7L1205.3 2004.2L1207.5 2003.7L1209.8 2003.2L1212.0 2002.7L1214.2 2002.2L1216.4 2001.7L1218.7 2001.2L1220.9 2000.7L1223.1 2000.2L1225.4 1999.7L1227.6 1999.2L1229.8 1998.7L1232.0 1998.2L1234.3 1997.7L1236.5 1997.2L1238.7 1996.6L1240.9 1996.1L1243.2 1995.6Z" stroke-width="1.7" />
<path d="M1471.4 1951.0L1473.3 1950.1L1475.2 1949.3L1477.2 1948.4L1479.1 1947.5L1481.0 1946.7L1482.9 1945.8L1484.8 1944.9L1486.7 1944.1L1488.6 1943.2L1490.5 1942.4L1492.5 1941.5L1494.4 1940.6L1496.3 1939.8L1498.2 1938.9L1500.1 1938.1L1502.0 1937.2L1503.9 1936.3L1505.8 1935.5L1507.8 1934.6L1509.7 1933.7L1511.6 1932.9L1513.5 1932.0L1515.4 1931.2L1517.3 1930.3L1518.1 1931.6L1518.8 1932.9L1519.6 1934.2L1520.4 1935.5L1521.1 1936.8L1521.9 1938.1L1522.7 1939.4L1520.4 1939.9L1518.2 1940.4L1516.0 1940.9L1513.7 1941.4L1511.5 1941.9L1509.3 1942.4L1507.1 1942.9L1504.8 1943.4L1502.6 1943.9L1500.4 1944.4L1498.2 1944.9L1495.9 1945.4L1493.7 1945.9L1491.5 1946.5L1489.2 1947.0L1487.0 1947.5L1484.8 1948.0L1482.6 1948.5L1480.3 1949.0L1478.1 1949.5L1475.9 1950.0L1473.7 1950.5L1471.4 1951.0Z" stroke-width="1.7" />
<path d="M1319.3 2040.4L1317.8 2041.5L1316.4 2042.6L1314.9 2043.8L1313.4 2044.9L1312.0 2046.0L1310.5 2047.1L1309.0 2048.3L1307.6 2049.4L1306.1 2050.5L1304.6 2051.6L1303.2 2052.8L1301.7 2053.9L1300.2 2055.0L1298.8 2056.1L1297.3 2057.3L1295.8 2058.4L1294.4 2059.5L1292.9 2060.6L1291.4 2061.7L1290.0 2062.9L1288.5 2064.0L1287.0 2065.1L1285.6 2066.2L1284.1 2067.4L1286.3 2067.8L1288.5 2068.3L1290.7 2068.7L1293.0 2069.2L1295.2 2069.6L1297.4 2070.1L1299.6 2070.5L1300.5 2069.2L1301.3 2067.9L1302.2 2066.6L1303.0 2065.3L1303.9 2064.0L1304.7 2062.7L1305.6 2061.3L1306.5 2060.0L1307.3 2058.7L1308.2 2057.4L1309.0 2056.1L1309.9 2054.8L1310.7 2053.5L1311.6 2052.2L1312.5 2050.9L1313.3 2049.6L1314.2 2048.2L1315.0 2046.9L1315.9 2045.6L1316.7 2044.3L1317.6 2043.0L1318.5 2041.7L1319.3 2040.4Z" stroke-width="1.7" />
<path d="M1446.6 1884.9L1445.1 1886.0L1443.6 1887.1L1442.2 1888.2L1440.7 1889.2L1439.2 1890.3L1437.8 1891.4L1436.3 1892.5L1434.9 1893.6L1433.4 1894.7L1431.9 1895.8L1430.5 1896.8L1429.0 1897.9L1427.5 1899.0L1426.1 1900.1L1426.1 1900.1L1425.6 1900.7L1425.5 1901.2L1426.0 1902.3L1426.5 1903.3L1427.5 1903.8L1429.3 1904.1L1431.0 1904.4L1432.3 1904.4L1434.6 1904.1L1436.9 1903.8L1439.2 1903.6L1441.5 1903.3L1443.8 1903.0L1446.2 1902.8L1448.5 1902.7L1450.9 1902.6L1453.2 1902.5L1455.5 1902.3L1457.8 1902.5L1460.1 1902.6L1462.3 1902.7L1464.1 1903.1L1465.9 1903.5L1467.7 1903.9L1469.2 1903.9L1470.7 1903.5L1472.2 1902.6L1473.8 1901.7L1475.3 1900.8L1476.8 1899.8L1478.4 1898.9" stroke-width="2.2" />
<path d="M1206.9 2025.8L1208.7 2024.9L1210.6 2024.1L1212.4 2023.2L1214.3 2022.3L1216.1 2021.5L1218.0 2020.6L1219.8 2019.8L1221.7 2018.9L1223.5 2018.0L1225.4 2017.2L1227.2 2016.3L1229.1 2015.5L1230.9 2014.6L1232.7 2013.7L1232.7 2013.7L1233.8 2013.4L1234.7 2013.4L1236.4 2013.7L1238.2 2014.0L1239.1 2014.6L1239.6 2015.6L1240.1 2016.7L1240.1 2017.4L1239.6 2018.8L1239.1 2020.1L1238.6 2021.5L1238.1 2022.8L1237.6 2024.2L1237.4 2025.6L1237.2 2026.9L1237.0 2028.3L1236.8 2029.7L1236.5 2031.1L1236.8 2032.4L1237.0 2033.7L1237.2 2035.1L1237.9 2036.1L1238.5 2037.2L1239.1 2038.2L1239.3 2039.1L1238.5 2040.0L1236.9 2040.9L1235.4 2041.8L1233.8 2042.7L1232.3 2043.6L1230.8 2044.5" stroke-width="2.2" />
<path d="M1507.7 1920.8L1505.9 1921.7L1504.0 1922.6L1502.2 1923.4L1500.3 1924.3L1498.5 1925.1L1496.6 1926.0L1494.8 1926.9L1492.9 1927.7L1491.1 1928.6L1489.2 1929.4L1487.4 1930.3L1485.5 1931.2L1483.7 1932.0L1481.9 1932.9L1481.9 1932.9L1480.8 1933.2L1479.9 1933.2L1478.2 1932.9L1476.4 1932.6L1475.5 1932.0L1475.0 1931.0L1474.5 1930.0L1474.5 1929.2L1475.0 1927.9L1475.5 1926.5L1476.0 1925.2L1476.5 1923.8L1477.0 1922.4L1477.2 1921.1L1477.4 1919.7L1477.6 1918.3L1477.8 1916.9L1478.1 1915.6L1477.8 1914.2L1477.6 1912.9L1477.4 1911.6L1476.7 1910.5L1476.1 1909.5L1475.5 1908.4L1475.3 1907.6L1476.1 1906.7L1477.7 1905.8L1479.2 1904.9L1480.8 1904.0L1482.3 1903.1L1483.8 1902.2" stroke-width="2.2" />
<path d="M1268.0 2061.7L1269.5 2060.6L1271.0 2059.5L1272.4 2058.5L1273.9 2057.4L1275.4 2056.3L1276.8 2055.2L1278.3 2054.1L1279.7 2053.0L1281.2 2052.0L1282.7 2050.9L1284.1 2049.8L1285.6 2048.7L1287.1 2047.6L1288.5 2046.5L1288.5 2046.5L1289.0 2045.9L1289.1 2045.4L1288.6 2044.4L1288.1 2043.3L1287.1 2042.8L1285.3 2042.5L1283.6 2042.2L1282.3 2042.2L1280.0 2042.5L1277.7 2042.8L1275.4 2043.1L1273.1 2043.4L1270.8 2043.7L1268.4 2043.8L1266.1 2043.9L1263.7 2044.0L1261.4 2044.2L1259.1 2044.3L1256.8 2044.2L1254.5 2044.0L1252.3 2043.9L1250.5 2043.5L1248.7 2043.1L1246.9 2042.8L1245.4 2042.7L1243.9 2043.2L1242.4 2044.1L1240.8 2045.0L1239.3 2045.9L1237.8 2046.8L1236.2 2047.7" stroke-width="2.2" />
<path d="M1448.7 1885.8L1447.2 1886.9L1445.8 1887.9L1444.3 1889.0L1442.8 1890.1L1441.3 1891.2L1439.9 1892.3L1438.4 1893.4L1436.9 1894.5L1435.5 1895.5L1434.0 1896.6L1432.5 1897.7L1431.0 1898.8L1429.6 1899.9L1428.1 1901.0L1428.0 1901.2L1428.6 1902.5L1428.6 1902.5L1430.2 1902.7L1431.9 1903.0L1434.2 1902.7L1436.5 1902.4L1438.8 1902.1L1441.1 1901.8L1443.5 1901.5L1445.5 1901.4L1447.5 1901.3L1449.5 1901.2L1451.5 1901.1L1453.5 1901.0L1455.5 1900.9L1457.4 1901.0L1459.2 1901.1L1461.1 1901.2L1462.9 1901.3L1464.9 1901.7L1466.8 1902.1L1468.7 1902.5L1470.3 1901.5L1471.9 1900.6L1473.5 1899.7L1475.1 1898.7L1476.6 1897.8" stroke-width="1.7" />
<path d="M1208.4 2027.0L1210.2 2026.2L1212.1 2025.3L1213.9 2024.4L1215.7 2023.6L1217.6 2022.7L1219.4 2021.8L1221.3 2021.0L1223.1 2020.1L1225.0 2019.2L1226.8 2018.4L1228.7 2017.5L1230.5 2016.7L1232.4 2015.8L1234.2 2014.9L1234.7 2014.9L1236.8 2015.2L1236.8 2015.2L1237.2 2016.2L1237.7 2017.1L1237.1 2018.5L1236.6 2019.9L1236.1 2021.2L1235.6 2022.6L1235.1 2024.0L1235.0 2025.1L1234.8 2026.3L1234.6 2027.5L1234.4 2028.7L1234.2 2029.9L1234.0 2031.1L1234.2 2032.1L1234.4 2033.2L1234.6 2034.3L1234.8 2035.4L1235.4 2036.5L1236.1 2037.7L1236.8 2038.8L1235.2 2039.7L1233.6 2040.7L1232.0 2041.6L1230.4 2042.5L1228.8 2043.5" stroke-width="1.7" />
<path d="M1506.2 1919.6L1504.4 1920.5L1502.5 1921.3L1500.7 1922.2L1498.9 1923.1L1497.0 1923.9L1495.2 1924.8L1493.3 1925.6L1491.5 1926.5L1489.6 1927.4L1487.8 1928.2L1485.9 1929.1L1484.1 1930.0L1482.2 1930.8L1480.4 1931.7L1479.9 1931.7L1477.8 1931.4L1477.8 1931.4L1477.4 1930.4L1476.9 1929.5L1477.5 1928.1L1478.0 1926.8L1478.5 1925.4L1479.0 1924.0L1479.5 1922.7L1479.6 1921.5L1479.8 1920.3L1480.0 1919.1L1480.2 1917.9L1480.4 1916.8L1480.6 1915.6L1480.4 1914.5L1480.2 1913.4L1480.0 1912.3L1479.8 1911.2L1479.2 1910.1L1478.5 1909.0L1477.8 1907.8L1479.4 1906.9L1481.0 1906.0L1482.6 1905.0L1484.2 1904.1L1485.8 1903.2" stroke-width="1.7" />
<path d="M1265.9 2060.9L1267.4 2059.8L1268.8 2058.7L1270.3 2057.6L1271.8 2056.5L1273.3 2055.4L1274.7 2054.3L1276.2 2053.3L1277.7 2052.2L1279.1 2051.1L1280.6 2050.0L1282.1 2048.9L1283.6 2047.8L1285.0 2046.7L1286.5 2045.6L1286.6 2045.4L1286.0 2044.1L1286.0 2044.1L1284.4 2043.9L1282.7 2043.6L1280.4 2043.9L1278.1 2044.2L1275.8 2044.5L1273.5 2044.8L1271.1 2045.1L1269.1 2045.2L1267.1 2045.3L1265.1 2045.4L1263.1 2045.6L1261.1 2045.7L1259.1 2045.8L1257.2 2045.7L1255.4 2045.6L1253.5 2045.4L1251.7 2045.3L1249.7 2044.9L1247.8 2044.5L1245.9 2044.2L1244.3 2045.1L1242.7 2046.0L1241.1 2047.0L1239.5 2047.9L1238.0 2048.8" stroke-width="1.7" />
<path d="M1348.4 1941.0L1349.2 1941.8L1350.7 1942.3L1352.8 1942.5L1354.9 1942.7L1357.0 1942.9L1359.1 1943.1L1361.2 1943.3L1363.4 1943.5L1364.3 1943.5L1365.4 1943.3L1366.6 1942.5L1367.0 1941.2L1367.5 1939.8L1368.0 1938.4L1368.4 1937.0L1368.9 1935.7L1369.4 1934.3L1369.8 1932.9L1370.3 1931.6L1370.8 1930.2L1371.2 1928.8L1371.7 1927.4L1372.1 1926.1L1372.6 1924.7L1373.1 1923.3L1373.5 1922.0L1374.0 1920.6L1374.5 1919.2L1374.9 1917.8L1375.4 1916.5L1375.9 1915.1L1375.7 1914.5L1374.9 1913.8L1373.2 1912.9L1371.5 1912.0L1369.8 1911.0L1368.1 1910.1L1367.1 1909.7L1365.0 1909.6L1362.9 1909.4L1361.9 1909.4L1359.9 1910.0L1357.9 1910.5L1355.9 1911.1L1353.9 1911.6L1351.9 1912.2L1349.9 1912.4L1347.9 1912.5L1346.0 1912.7L1344.0 1912.9L1342.0 1913.1L1340.7 1913.4L1339.4 1913.6L1338.2 1914.1L1337.5 1914.8L1337.1 1915.8L1336.8 1916.7L1336.8 1917.5L1337.5 1918.8L1338.1 1920.1L1338.8 1921.4L1339.4 1922.7L1340.1 1924.0L1340.7 1925.3L1341.4 1926.7L1342.0 1928.0L1342.6 1929.3L1343.3 1930.6L1343.9 1931.9L1344.6 1933.2L1345.2 1934.5L1345.9 1935.8L1346.5 1937.1L1347.2 1938.4L1347.8 1939.7L1348.4 1941.0Z" stroke-width="2.2" />
<path d="M1302.4 1968.1L1303.7 1968.6L1304.5 1969.4L1304.8 1970.7L1305.2 1971.9L1305.6 1973.2L1305.9 1974.4L1306.3 1975.6L1306.7 1976.9L1306.7 1977.4L1306.3 1978.1L1304.9 1978.8L1302.6 1979.0L1300.3 1979.3L1297.9 1979.6L1295.6 1979.9L1293.3 1980.1L1290.9 1980.4L1288.6 1980.7L1286.3 1980.9L1283.9 1981.2L1281.6 1981.5L1279.3 1981.8L1276.9 1982.0L1274.6 1982.3L1272.3 1982.6L1269.9 1982.9L1267.6 1983.1L1265.3 1983.4L1262.9 1983.7L1260.6 1983.9L1258.3 1984.2L1257.3 1984.1L1256.1 1983.7L1254.5 1982.7L1252.9 1981.7L1251.3 1980.7L1249.7 1979.7L1249.1 1979.1L1248.8 1977.8L1248.6 1976.6L1248.6 1976.0L1249.6 1974.8L1250.5 1973.6L1251.4 1972.5L1252.3 1971.3L1253.3 1970.1L1253.6 1969.0L1253.9 1967.8L1254.2 1966.7L1254.6 1965.5L1254.9 1964.3L1255.3 1963.6L1255.8 1962.8L1256.5 1962.1L1257.8 1961.7L1259.4 1961.5L1260.9 1961.2L1262.3 1961.3L1264.6 1961.7L1266.8 1962.0L1269.0 1962.4L1271.2 1962.8L1273.5 1963.2L1275.7 1963.6L1277.9 1963.9L1280.1 1964.3L1282.4 1964.7L1284.6 1965.1L1286.8 1965.5L1289.0 1965.8L1291.3 1966.2L1293.5 1966.6L1295.7 1967.0L1297.9 1967.4L1300.2 1967.7L1302.4 1968.1Z" stroke-width="2.2" />
<path d="M1412.2 1978.5L1410.9 1978.1L1410.1 1977.2L1409.8 1976.0L1409.4 1974.7L1409.0 1973.5L1408.7 1972.2L1408.3 1971.0L1407.9 1969.8L1407.9 1969.2L1408.3 1968.5L1409.7 1967.9L1412.0 1967.6L1414.3 1967.3L1416.7 1967.0L1419.0 1966.8L1421.3 1966.5L1423.7 1966.2L1426.0 1966.0L1428.3 1965.7L1430.7 1965.4L1433.0 1965.1L1435.3 1964.9L1437.7 1964.6L1440.0 1964.3L1442.3 1964.0L1444.7 1963.8L1447.0 1963.5L1449.3 1963.2L1451.7 1962.9L1454.0 1962.7L1456.3 1962.4L1457.3 1962.5L1458.5 1963.0L1460.1 1964.0L1461.7 1965.0L1463.3 1966.0L1464.9 1967.0L1465.5 1967.6L1465.8 1968.8L1466.0 1970.0L1466.0 1970.6L1465.0 1971.8L1464.1 1973.0L1463.2 1974.2L1462.3 1975.3L1461.3 1976.5L1461.0 1977.7L1460.7 1978.8L1460.4 1980.0L1460.0 1981.1L1459.7 1982.3L1459.3 1983.1L1458.8 1983.8L1458.1 1984.5L1456.8 1985.0L1455.2 1985.2L1453.7 1985.4L1452.3 1985.3L1450.0 1985.0L1447.8 1984.6L1445.6 1984.2L1443.4 1983.8L1441.1 1983.4L1438.9 1983.1L1436.7 1982.7L1434.5 1982.3L1432.2 1981.9L1430.0 1981.5L1427.8 1981.2L1425.6 1980.8L1423.3 1980.4L1421.1 1980.0L1418.9 1979.7L1416.7 1979.3L1414.4 1978.9L1412.2 1978.5Z" stroke-width="2.2" />
<path d="M1366.2 2005.6L1365.4 2004.8L1363.9 2004.4L1361.8 2004.1L1359.7 2003.9L1357.6 2003.7L1355.5 2003.5L1353.4 2003.3L1351.2 2003.1L1350.3 2003.1L1349.2 2003.3L1348.0 2004.1L1347.6 2005.5L1347.1 2006.8L1346.6 2008.2L1346.2 2009.6L1345.7 2010.9L1345.2 2012.3L1344.8 2013.7L1344.3 2015.1L1343.8 2016.4L1343.4 2017.8L1342.9 2019.2L1342.5 2020.6L1342.0 2021.9L1341.5 2023.3L1341.1 2024.7L1340.6 2026.0L1340.1 2027.4L1339.7 2028.8L1339.2 2030.2L1338.7 2031.5L1338.9 2032.1L1339.7 2032.8L1341.4 2033.7L1343.1 2034.7L1344.8 2035.6L1346.5 2036.5L1347.5 2036.9L1349.6 2037.1L1351.7 2037.2L1352.7 2037.2L1354.7 2036.6L1356.7 2036.1L1358.7 2035.6L1360.7 2035.0L1362.7 2034.5L1364.7 2034.3L1366.7 2034.1L1368.6 2033.9L1370.6 2033.7L1372.6 2033.5L1373.9 2033.2L1375.2 2033.0L1376.4 2032.6L1377.1 2031.8L1377.5 2030.9L1377.8 2030.0L1377.8 2029.1L1377.1 2027.8L1376.5 2026.5L1375.8 2025.2L1375.2 2023.9L1374.5 2022.6L1373.9 2021.3L1373.2 2020.0L1372.6 2018.7L1372.0 2017.4L1371.3 2016.1L1370.7 2014.7L1370.0 2013.4L1369.4 2012.1L1368.7 2010.8L1368.1 2009.5L1367.4 2008.2L1366.8 2006.9L1366.2 2005.6Z" stroke-width="2.2" />
<path d="M1351.0 1940.8L1353.1 1941.0L1355.2 1941.2L1357.4 1941.4L1359.5 1941.6L1361.6 1941.9L1363.7 1942.1L1364.1 1942.0L1364.3 1941.8L1364.8 1940.5L1365.2 1939.2L1365.7 1937.8L1366.1 1936.5L1366.6 1935.1L1367.0 1933.8L1367.5 1932.5L1367.9 1931.1L1368.4 1929.8L1368.8 1928.5L1369.3 1927.1L1369.7 1925.8L1370.2 1924.5L1370.6 1923.1L1371.1 1921.8L1371.5 1920.4L1372.0 1919.1L1372.4 1917.8L1372.9 1916.4L1373.3 1915.1L1371.9 1914.3L1370.5 1913.5L1369.1 1912.7L1367.6 1911.9L1366.2 1911.1L1364.3 1911.0L1362.5 1910.9L1360.5 1911.4L1358.5 1912.0L1356.6 1912.5L1354.6 1913.0L1352.6 1913.6L1350.6 1913.8L1348.6 1914.0L1346.5 1914.2L1344.5 1914.4L1342.5 1914.6L1340.3 1915.0L1339.9 1915.3L1339.6 1916.2L1339.3 1917.1L1339.9 1918.4L1340.6 1919.8L1341.2 1921.1L1341.9 1922.4L1342.5 1923.7L1343.2 1925.0L1343.8 1926.3L1344.5 1927.6L1345.1 1929.0L1345.8 1930.3L1346.4 1931.6L1347.1 1932.9L1347.8 1934.2L1348.4 1935.5L1349.1 1936.8L1349.7 1938.1L1350.4 1939.5L1351.0 1940.8Z" stroke-width="1.7" />
<path d="M1301.9 1969.6L1302.3 1970.9L1302.7 1972.1L1303.0 1973.3L1303.4 1974.6L1303.8 1975.8L1304.2 1977.1L1304.1 1977.3L1303.7 1977.4L1301.5 1977.7L1299.2 1978.0L1296.9 1978.2L1294.6 1978.5L1292.4 1978.8L1290.1 1979.0L1287.8 1979.3L1285.5 1979.6L1283.3 1979.8L1281.0 1980.1L1278.7 1980.4L1276.4 1980.6L1274.2 1980.9L1271.9 1981.2L1269.6 1981.4L1267.4 1981.7L1265.1 1981.9L1262.8 1982.2L1260.5 1982.5L1258.3 1982.7L1256.9 1981.9L1255.5 1981.1L1254.2 1980.2L1252.8 1979.4L1251.5 1978.5L1251.3 1977.4L1251.1 1976.3L1252.0 1975.2L1252.9 1974.0L1253.8 1972.9L1254.7 1971.7L1255.7 1970.6L1256.0 1969.4L1256.3 1968.2L1256.7 1967.0L1257.0 1965.8L1257.4 1964.6L1258.1 1963.3L1258.6 1963.1L1260.2 1962.9L1261.7 1962.7L1264.0 1963.1L1266.2 1963.5L1268.4 1963.9L1270.7 1964.3L1272.9 1964.6L1275.1 1965.0L1277.4 1965.4L1279.6 1965.8L1281.8 1966.2L1284.1 1966.6L1286.3 1966.9L1288.5 1967.3L1290.8 1967.7L1293.0 1968.1L1295.2 1968.5L1297.5 1968.8L1299.7 1969.2L1301.9 1969.6Z" stroke-width="1.7" />
<path d="M1412.7 1977.0L1412.3 1975.8L1411.9 1974.5L1411.6 1973.3L1411.2 1972.0L1410.8 1970.8L1410.4 1969.6L1410.5 1969.3L1410.9 1969.2L1413.1 1968.9L1415.4 1968.6L1417.7 1968.4L1420.0 1968.1L1422.2 1967.9L1424.5 1967.6L1426.8 1967.3L1429.1 1967.1L1431.3 1966.8L1433.6 1966.5L1435.9 1966.3L1438.2 1966.0L1440.4 1965.7L1442.7 1965.5L1445.0 1965.2L1447.2 1964.9L1449.5 1964.7L1451.8 1964.4L1454.1 1964.1L1456.3 1963.9L1457.7 1964.7L1459.1 1965.6L1460.4 1966.4L1461.8 1967.2L1463.1 1968.1L1463.3 1969.2L1463.5 1970.3L1462.6 1971.4L1461.7 1972.6L1460.8 1973.8L1459.9 1974.9L1458.9 1976.1L1458.6 1977.3L1458.3 1978.4L1457.9 1979.6L1457.6 1980.8L1457.2 1982.0L1456.5 1983.3L1456.0 1983.6L1454.4 1983.7L1452.9 1983.9L1450.6 1983.5L1448.4 1983.1L1446.2 1982.8L1443.9 1982.4L1441.7 1982.0L1439.5 1981.6L1437.2 1981.2L1435.0 1980.8L1432.8 1980.5L1430.5 1980.1L1428.3 1979.7L1426.1 1979.3L1423.8 1978.9L1421.6 1978.5L1419.4 1978.2L1417.1 1977.8L1414.9 1977.4L1412.7 1977.0Z" stroke-width="1.7" />
<path d="M1363.6 2005.9L1361.5 2005.6L1359.4 2005.4L1357.2 2005.2L1355.1 2005.0L1353.0 2004.8L1350.9 2004.5L1350.5 2004.6L1350.3 2004.8L1349.8 2006.1L1349.4 2007.5L1348.9 2008.8L1348.5 2010.1L1348.0 2011.5L1347.6 2012.8L1347.1 2014.2L1346.7 2015.5L1346.2 2016.8L1345.8 2018.2L1345.3 2019.5L1344.9 2020.8L1344.4 2022.2L1344.0 2023.5L1343.5 2024.8L1343.1 2026.2L1342.6 2027.5L1342.2 2028.9L1341.7 2030.2L1341.3 2031.5L1342.7 2032.3L1344.1 2033.1L1345.5 2033.9L1347.0 2034.7L1348.4 2035.5L1350.3 2035.6L1352.1 2035.8L1354.1 2035.2L1356.1 2034.7L1358.0 2034.1L1360.0 2033.6L1362.0 2033.1L1364.0 2032.9L1366.0 2032.7L1368.1 2032.5L1370.1 2032.3L1372.1 2032.1L1374.3 2031.6L1374.7 2031.3L1375.0 2030.4L1375.3 2029.5L1374.7 2028.2L1374.0 2026.9L1373.4 2025.6L1372.7 2024.2L1372.1 2022.9L1371.4 2021.6L1370.8 2020.3L1370.1 2019.0L1369.5 2017.7L1368.8 2016.4L1368.2 2015.0L1367.5 2013.7L1366.8 2012.4L1366.2 2011.1L1365.5 2009.8L1364.9 2008.5L1364.2 2007.2L1363.6 2005.9Z" stroke-width="1.7" />
<path d="M1375.6 1945.3L1376.2 1946.1L1377.0 1946.4L1378.8 1947.1L1380.7 1947.7L1382.5 1948.3L1384.3 1948.9L1386.1 1949.5L1387.9 1950.2L1389.5 1950.2L1391.3 1949.8L1393.0 1949.4L1394.0 1949.0L1395.6 1948.0L1397.3 1947.0L1398.9 1946.0L1400.6 1945.0L1402.2 1944.0L1403.9 1943.0L1405.5 1942.1L1407.2 1941.1L1408.8 1940.1L1410.5 1939.1L1412.1 1938.1L1413.8 1937.1L1415.4 1936.1L1417.1 1935.1L1418.7 1934.1L1420.4 1933.1L1422.0 1932.1L1423.7 1931.1L1424.1 1930.7L1424.4 1930.0L1424.0 1929.0L1423.1 1928.5L1421.7 1928.0L1420.3 1927.5L1418.9 1927.0L1417.8 1925.8L1416.7 1924.6L1415.7 1923.3L1416.0 1922.1L1416.4 1920.9L1416.7 1919.7L1417.1 1918.5L1418.5 1917.4L1420.0 1916.3L1421.5 1915.2L1423.0 1914.0L1423.5 1913.5L1423.6 1912.3L1423.8 1911.2L1423.9 1910.1L1423.6 1909.5L1422.8 1908.9L1421.0 1908.2L1419.7 1907.9L1418.5 1907.9L1417.1 1908.2L1415.8 1908.4L1414.4 1909.0L1413.0 1910.0L1411.6 1911.0L1410.2 1912.0L1408.4 1912.8L1406.6 1913.6L1404.8 1914.4L1403.0 1915.2L1401.2 1916.0L1399.0 1916.4L1396.9 1916.8L1394.7 1917.2L1392.6 1917.6L1390.6 1917.7L1388.7 1917.8L1387.4 1918.3L1386.7 1919.1L1386.1 1920.5L1385.4 1921.8L1384.8 1923.2L1384.2 1924.5L1383.5 1925.9L1382.9 1927.3L1382.3 1928.6L1381.6 1930.0L1381.0 1931.3L1380.4 1932.7L1379.7 1934.1L1379.1 1935.4L1378.5 1936.8L1377.8 1938.1L1377.2 1939.5L1376.6 1940.8L1375.9 1942.2L1375.3 1943.6L1375.2 1944.1L1375.6 1945.3Z" stroke-width="2.2" />
<path d="M1309.6 1984.1L1310.9 1984.4L1311.6 1984.9L1312.6 1986.0L1313.7 1987.0L1314.7 1988.1L1315.8 1989.2L1316.8 1990.3L1317.9 1991.3L1318.0 1992.2L1317.3 1993.3L1316.6 1994.3L1316.0 1994.9L1314.3 1995.9L1312.6 1996.8L1310.9 1997.8L1309.2 1998.8L1307.5 1999.7L1305.8 2000.7L1304.1 2001.7L1302.4 2002.6L1300.7 2003.6L1299.1 2004.6L1297.4 2005.5L1295.7 2006.5L1294.0 2007.5L1292.3 2008.4L1290.6 2009.4L1288.9 2010.4L1287.2 2011.4L1285.5 2012.3L1284.8 2012.6L1283.7 2012.8L1282.0 2012.5L1281.1 2012.0L1280.3 2011.1L1279.4 2010.3L1278.6 2009.5L1276.5 2008.9L1274.4 2008.3L1272.3 2007.6L1270.2 2007.8L1268.2 2008.0L1266.1 2008.2L1264.1 2008.4L1262.2 2009.3L1260.3 2010.2L1258.4 2011.0L1256.5 2011.9L1255.5 2012.2L1253.6 2012.3L1251.7 2012.4L1249.8 2012.5L1248.8 2012.3L1247.7 2011.8L1246.5 2010.8L1245.9 2010.0L1246.0 2009.3L1246.5 2008.5L1246.9 2007.7L1247.9 2006.9L1249.6 2006.1L1251.3 2005.2L1253.0 2004.4L1254.4 2003.4L1255.8 2002.3L1257.1 2001.2L1258.5 2000.2L1259.9 1999.1L1260.5 1997.8L1261.2 1996.6L1261.9 1995.3L1262.5 1994.0L1262.7 1992.9L1262.8 1991.8L1263.7 1991.0L1265.1 1990.6L1267.4 1990.2L1269.7 1989.8L1272.0 1989.5L1274.3 1989.1L1276.6 1988.7L1279.0 1988.4L1281.3 1988.0L1283.6 1987.6L1285.9 1987.2L1288.2 1986.9L1290.5 1986.5L1292.8 1986.1L1295.1 1985.8L1297.4 1985.4L1299.7 1985.0L1302.1 1984.6L1304.4 1984.3L1306.7 1983.9L1307.6 1983.8L1309.6 1984.1Z" stroke-width="2.2" />
<path d="M1405.0 1962.6L1403.7 1962.2L1403.0 1961.7L1402.0 1960.6L1400.9 1959.6L1399.9 1958.5L1398.8 1957.4L1397.8 1956.4L1396.7 1955.3L1396.6 1954.4L1397.3 1953.3L1398.0 1952.3L1398.6 1951.7L1400.3 1950.8L1402.0 1949.8L1403.7 1948.8L1405.4 1947.9L1407.1 1946.9L1408.8 1945.9L1410.5 1945.0L1412.2 1944.0L1413.9 1943.0L1415.5 1942.1L1417.2 1941.1L1418.9 1940.1L1420.6 1939.1L1422.3 1938.2L1424.0 1937.2L1425.7 1936.2L1427.4 1935.3L1429.1 1934.3L1429.8 1934.0L1430.9 1933.9L1432.6 1934.1L1433.5 1934.7L1434.3 1935.5L1435.2 1936.3L1436.0 1937.1L1438.1 1937.8L1440.2 1938.4L1442.3 1939.0L1444.4 1938.8L1446.4 1938.6L1448.5 1938.4L1450.5 1938.2L1452.4 1937.3L1454.3 1936.4L1456.2 1935.6L1458.1 1934.7L1459.1 1934.4L1461.0 1934.3L1462.9 1934.2L1464.8 1934.1L1465.8 1934.3L1466.9 1934.8L1468.1 1935.9L1468.7 1936.6L1468.6 1937.3L1468.1 1938.1L1467.7 1938.9L1466.7 1939.7L1465.0 1940.6L1463.3 1941.4L1461.6 1942.2L1460.2 1943.3L1458.8 1944.3L1457.5 1945.4L1456.1 1946.5L1454.7 1947.5L1454.1 1948.8L1453.4 1950.0L1452.7 1951.3L1452.1 1952.6L1451.9 1953.7L1451.8 1954.8L1450.9 1955.6L1449.5 1956.0L1447.2 1956.4L1444.9 1956.8L1442.6 1957.2L1440.3 1957.5L1438.0 1957.9L1435.6 1958.3L1433.3 1958.6L1431.0 1959.0L1428.7 1959.4L1426.4 1959.8L1424.1 1960.1L1421.8 1960.5L1419.5 1960.9L1417.2 1961.2L1414.9 1961.6L1412.5 1962.0L1410.2 1962.4L1407.9 1962.7L1407.0 1962.8L1405.0 1962.6Z" stroke-width="2.2" />
<path d="M1339.0 2001.4L1338.4 2000.6L1337.6 2000.2L1335.8 1999.6L1333.9 1998.9L1332.1 1998.3L1330.3 1997.7L1328.5 1997.1L1326.7 1996.5L1325.1 1996.4L1323.3 1996.8L1321.6 1997.2L1320.6 1997.6L1319.0 1998.6L1317.3 1999.6L1315.7 2000.6L1314.0 2001.6L1312.4 2002.6L1310.7 2003.6L1309.1 2004.6L1307.4 2005.6L1305.8 2006.6L1304.1 2007.6L1302.5 2008.5L1300.8 2009.5L1299.2 2010.5L1297.5 2011.5L1295.9 2012.5L1294.2 2013.5L1292.6 2014.5L1290.9 2015.5L1290.5 2015.9L1290.2 2016.6L1290.6 2017.6L1291.5 2018.1L1292.9 2018.6L1294.3 2019.1L1295.7 2019.6L1296.8 2020.8L1297.9 2022.1L1298.9 2023.3L1298.6 2024.5L1298.2 2025.7L1297.9 2026.9L1297.5 2028.1L1296.1 2029.2L1294.6 2030.4L1293.1 2031.5L1291.6 2032.6L1291.1 2033.2L1291.0 2034.3L1290.8 2035.4L1290.7 2036.5L1291.0 2037.1L1291.8 2037.7L1293.6 2038.5L1294.9 2038.8L1296.1 2038.7L1297.5 2038.4L1298.8 2038.2L1300.2 2037.6L1301.6 2036.6L1303.0 2035.6L1304.4 2034.6L1306.2 2033.8L1308.0 2033.0L1309.8 2032.2L1311.6 2031.4L1313.4 2030.6L1315.6 2030.2L1317.7 2029.8L1319.9 2029.4L1322.0 2029.0L1324.0 2028.9L1325.9 2028.9L1327.2 2028.3L1327.9 2027.5L1328.5 2026.1L1329.2 2024.8L1329.8 2023.4L1330.4 2022.1L1331.1 2020.7L1331.7 2019.4L1332.3 2018.0L1333.0 2016.6L1333.6 2015.3L1334.2 2013.9L1334.9 2012.6L1335.5 2011.2L1336.1 2009.9L1336.8 2008.5L1337.4 2007.1L1338.0 2005.8L1338.7 2004.4L1339.3 2003.1L1339.4 2002.5L1339.0 2001.4Z" stroke-width="2.2" />
<path d="M1378.2 1945.1L1379.9 1945.7L1381.7 1946.3L1383.5 1946.9L1385.3 1947.5L1387.0 1948.2L1388.8 1948.8L1390.4 1948.4L1392.1 1948.0L1393.7 1947.0L1395.4 1946.0L1397.1 1945.0L1398.7 1944.0L1400.4 1943.0L1402.0 1942.0L1403.7 1941.0L1405.3 1940.1L1407.0 1939.1L1408.6 1938.1L1410.3 1937.1L1411.9 1936.1L1413.6 1935.1L1415.2 1934.1L1416.9 1933.1L1418.6 1932.1L1420.2 1931.1L1421.9 1930.1L1421.9 1929.9L1421.6 1929.7L1419.9 1929.1L1418.1 1928.5L1416.8 1927.9L1415.8 1926.7L1414.7 1925.6L1413.7 1924.4L1413.2 1923.3L1413.5 1922.1L1413.8 1920.9L1414.1 1919.8L1414.4 1918.6L1414.9 1917.7L1416.2 1916.8L1417.4 1915.9L1418.6 1914.9L1419.8 1914.0L1421.1 1913.0L1421.3 1911.6L1421.5 1910.3L1419.7 1909.4L1419.1 1909.4L1417.8 1909.6L1416.5 1909.9L1415.4 1910.7L1414.2 1911.5L1413.0 1912.3L1411.8 1913.2L1409.9 1914.0L1408.0 1914.8L1406.1 1915.7L1404.2 1916.5L1402.3 1917.4L1400.5 1917.7L1398.6 1918.0L1396.8 1918.4L1394.9 1918.7L1393.1 1919.1L1391.3 1919.1L1389.6 1919.2L1389.2 1919.4L1388.6 1920.7L1387.9 1922.1L1387.3 1923.4L1386.7 1924.8L1386.0 1926.2L1385.4 1927.5L1384.8 1928.9L1384.1 1930.3L1383.5 1931.6L1382.9 1933.0L1382.2 1934.4L1381.6 1935.7L1380.9 1937.1L1380.3 1938.4L1379.7 1939.8L1379.0 1941.2L1378.4 1942.5L1377.8 1943.9L1378.2 1945.1Z" stroke-width="1.7" />
<path d="M1309.3 1985.6L1310.3 1986.6L1311.4 1987.7L1312.4 1988.7L1313.5 1989.7L1314.5 1990.8L1315.5 1991.8L1314.9 1992.8L1314.3 1993.8L1312.6 1994.7L1310.9 1995.7L1309.2 1996.7L1307.5 1997.7L1305.8 1998.6L1304.1 1999.6L1302.4 2000.6L1300.7 2001.5L1299.0 2002.5L1297.3 2003.5L1295.6 2004.5L1293.9 2005.4L1292.2 2006.4L1290.5 2007.4L1288.8 2008.3L1287.1 2009.3L1285.4 2010.3L1283.7 2011.3L1283.4 2011.3L1283.2 2011.1L1282.1 2010.1L1281.1 2009.1L1280.0 2008.3L1278.0 2007.7L1276.1 2007.1L1274.1 2006.5L1272.2 2006.2L1270.2 2006.3L1268.2 2006.5L1266.2 2006.7L1264.2 2006.9L1262.8 2007.2L1261.1 2007.9L1259.5 2008.6L1257.9 2009.4L1256.3 2010.1L1254.7 2010.8L1252.4 2010.9L1250.0 2011.0L1248.6 2010.0L1248.5 2009.6L1248.9 2008.9L1249.4 2008.1L1250.8 2007.4L1252.2 2006.8L1253.6 2006.1L1254.9 2005.4L1256.4 2004.3L1257.8 2003.1L1259.2 2002.0L1260.7 2000.9L1262.1 1999.8L1262.7 1998.7L1263.3 1997.6L1263.8 1996.5L1264.4 1995.4L1265.0 1994.4L1265.1 1993.3L1265.2 1992.3L1265.5 1992.1L1267.8 1991.7L1270.1 1991.3L1272.5 1991.0L1274.8 1990.6L1277.1 1990.2L1279.4 1989.8L1281.7 1989.5L1284.1 1989.1L1286.4 1988.7L1288.7 1988.3L1291.0 1988.0L1293.3 1987.6L1295.7 1987.2L1298.0 1986.8L1300.3 1986.5L1302.6 1986.1L1304.9 1985.7L1307.3 1985.3L1309.3 1985.6Z" stroke-width="1.7" />
<path d="M1405.3 1961.1L1404.3 1960.0L1403.2 1959.0L1402.2 1957.9L1401.1 1956.9L1400.1 1955.8L1399.1 1954.8L1399.7 1953.8L1400.3 1952.9L1402.0 1951.9L1403.7 1950.9L1405.4 1949.9L1407.1 1949.0L1408.8 1948.0L1410.5 1947.0L1412.2 1946.1L1413.9 1945.1L1415.6 1944.1L1417.3 1943.1L1419.0 1942.2L1420.7 1941.2L1422.4 1940.2L1424.1 1939.3L1425.8 1938.3L1427.5 1937.3L1429.2 1936.3L1430.9 1935.4L1431.2 1935.4L1431.4 1935.5L1432.5 1936.5L1433.5 1937.6L1434.6 1938.3L1436.6 1939.0L1438.5 1939.6L1440.5 1940.2L1442.4 1940.5L1444.4 1940.3L1446.4 1940.1L1448.4 1939.9L1450.4 1939.7L1451.8 1939.4L1453.5 1938.7L1455.1 1938.0L1456.7 1937.3L1458.3 1936.6L1459.9 1935.8L1462.2 1935.7L1464.6 1935.6L1466.0 1936.6L1466.1 1937.0L1465.7 1937.7L1465.2 1938.5L1463.8 1939.2L1462.4 1939.9L1461.0 1940.6L1459.7 1941.3L1458.2 1942.4L1456.8 1943.5L1455.4 1944.6L1453.9 1945.7L1452.5 1946.8L1451.9 1947.9L1451.3 1949.0L1450.8 1950.1L1450.2 1951.2L1449.6 1952.3L1449.5 1953.3L1449.4 1954.4L1449.1 1954.6L1446.8 1954.9L1444.5 1955.3L1442.1 1955.7L1439.8 1956.0L1437.5 1956.4L1435.2 1956.8L1432.9 1957.2L1430.5 1957.5L1428.2 1957.9L1425.9 1958.3L1423.6 1958.7L1421.3 1959.0L1418.9 1959.4L1416.6 1959.8L1414.3 1960.2L1412.0 1960.5L1409.7 1960.9L1407.3 1961.3L1405.3 1961.1Z" stroke-width="1.7" />
<path d="M1336.4 2001.5L1334.7 2000.9L1332.9 2000.3L1331.1 1999.7L1329.3 1999.1L1327.6 1998.5L1325.8 1997.9L1324.2 1998.2L1322.5 1998.6L1320.9 1999.6L1319.2 2000.6L1317.5 2001.6L1315.9 2002.6L1314.2 2003.6L1312.6 2004.6L1310.9 2005.6L1309.3 2006.6L1307.6 2007.6L1306.0 2008.6L1304.3 2009.6L1302.7 2010.6L1301.0 2011.6L1299.4 2012.6L1297.7 2013.6L1296.0 2014.6L1294.4 2015.5L1292.7 2016.5L1292.7 2016.8L1293.0 2016.9L1294.7 2017.5L1296.5 2018.1L1297.8 2018.7L1298.8 2019.9L1299.9 2021.1L1300.9 2022.2L1301.4 2023.3L1301.1 2024.5L1300.8 2025.7L1300.5 2026.9L1300.2 2028.1L1299.7 2028.9L1298.4 2029.8L1297.2 2030.8L1296.0 2031.7L1294.8 2032.7L1293.5 2033.6L1293.3 2035.0L1293.1 2036.4L1294.9 2037.2L1295.5 2037.3L1296.8 2037.0L1298.1 2036.8L1299.2 2035.9L1300.4 2035.1L1301.6 2034.3L1302.8 2033.5L1304.7 2032.6L1306.6 2031.8L1308.5 2031.0L1310.4 2030.1L1312.3 2029.3L1314.1 2028.9L1316.0 2028.6L1317.8 2028.3L1319.7 2027.9L1321.5 2027.6L1323.3 2027.5L1325.0 2027.5L1325.4 2027.3L1326.0 2025.9L1326.7 2024.5L1327.3 2023.2L1327.9 2021.8L1328.6 2020.5L1329.2 2019.1L1329.8 2017.7L1330.5 2016.4L1331.1 2015.0L1331.7 2013.6L1332.4 2012.3L1333.0 2010.9L1333.7 2009.5L1334.3 2008.2L1334.9 2006.8L1335.6 2005.5L1336.2 2004.1L1336.8 2002.7L1336.4 2001.5Z" stroke-width="1.7" />
<path d="M1365.6 1941.2L1395.7 1868.8" stroke-width="2.0" />
<path d="M1369.5 1941.7L1399.6 1869.5" stroke-width="2.0" />
<path d="M1302.6 1978.2L1179.4 1995.9" stroke-width="2.0" />
<path d="M1303.6 1980.5L1180.7 1998.2" stroke-width="2.0" />
<path d="M1412.0 1968.5L1535.2 1950.7" stroke-width="2.0" />
<path d="M1411.0 1966.1L1533.9 1948.4" stroke-width="2.0" />
<path d="M1349.0 2005.4L1318.9 2077.9" stroke-width="2.0" />
<path d="M1345.1 2004.9L1315.0 2077.1" stroke-width="2.0" />
<path d="M1384.6 1957.3L1387.9 1959.5L1390.7 1962.0L1393.0 1964.6L1394.6 1967.4L1395.6 1970.4L1395.9 1973.3L1395.6 1976.3L1394.6 1979.2L1393.0 1982.0L1390.7 1984.7L1387.9 1987.1L1384.6 1989.4L1380.8 1991.3L1376.6 1993.0L1372.1 1994.3L1367.3 1995.2L1362.3 1995.8L1357.3 1996.0L1352.3 1995.8L1347.3 1995.2L1342.5 1994.3L1338.0 1993.0L1333.8 1991.3L1330.0 1989.4L1326.7 1987.1L1323.9 1984.7L1321.6 1982.0L1320.0 1979.2L1319.0 1976.3L1318.7 1973.3L1319.0 1970.4L1320.0 1967.4L1321.6 1964.6L1323.9 1962.0L1326.7 1959.5L1330.0 1957.3L1333.8 1955.3L1338.0 1953.7L1342.5 1952.4L1347.3 1951.4L1352.3 1950.8L1357.3 1950.6L1362.3 1950.8L1367.3 1951.4L1372.1 1952.4L1376.6 1953.7L1380.8 1955.3Z" stroke-width="2.2" />
<path d="M1387.3 1955.7L1391.0 1958.1L1394.1 1960.8L1396.5 1963.8L1398.3 1966.9L1399.4 1970.1L1399.8 1973.3L1399.4 1976.6L1398.3 1979.8L1396.5 1982.9L1394.1 1985.8L1391.0 1988.5L1387.3 1991.0L1383.1 1993.1L1378.5 1994.9L1373.5 1996.4L1368.3 1997.4L1362.8 1998.1L1357.3 1998.3L1351.8 1998.1L1346.3 1997.4L1341.1 1996.4L1336.1 1994.9L1331.5 1993.1L1327.3 1991.0L1323.6 1988.5L1320.5 1985.8L1318.1 1982.9L1316.3 1979.8L1315.2 1976.6L1314.8 1973.3L1315.2 1970.1L1316.3 1966.9L1318.1 1963.8L1320.5 1960.8L1323.6 1958.1L1327.3 1955.7L1331.5 1953.5L1336.1 1951.7L1341.1 1950.3L1346.3 1949.2L1351.8 1948.6L1357.3 1948.4L1362.8 1948.6L1368.3 1949.2L1373.5 1950.3L1378.5 1951.7L1383.1 1953.5Z" stroke-width="2.0" />
<path d="M1466.7 1989.6L1470.3 1992.0L1473.3 1994.7L1475.7 1997.6L1477.5 2000.6L1478.6 2003.8L1478.9 2007.0L1478.6 2010.2L1477.5 2013.3L1475.7 2016.4L1473.3 2019.2L1470.3 2021.9L1466.7 2024.3L1462.6 2026.5L1458.0 2028.2L1453.1 2029.7L1448.0 2030.7L1442.6 2031.3L1437.1 2031.5L1431.7 2031.3L1426.3 2030.7L1421.1 2029.7L1416.2 2028.2L1411.7 2026.5L1407.6 2024.3L1404.0 2021.9L1400.9 2019.2L1398.5 2016.4L1396.8 2013.3L1395.7 2010.2L1395.4 2007.0L1395.7 2003.8L1396.8 2000.6L1398.5 1997.6L1400.9 1994.7L1404.0 1992.0L1407.6 1989.6L1411.7 1987.5L1416.2 1985.7L1421.1 1984.3L1426.3 1983.2L1431.7 1982.6L1437.1 1982.4L1442.6 1982.6L1448.0 1983.2L1453.1 1984.3L1458.0 1985.7L1462.6 1987.5Z" stroke-width="2.0" />
<path d="M1468.9 1988.3L1472.8 1990.9L1476.1 1993.8L1478.7 1996.9L1480.6 2000.1L1481.7 2003.5L1482.1 2007.0L1481.7 2010.4L1480.6 2013.8L1478.7 2017.1L1476.1 2020.2L1472.8 2023.1L1468.9 2025.7L1464.5 2027.9L1459.6 2029.9L1454.3 2031.4L1448.8 2032.5L1443.0 2033.2L1437.1 2033.4L1431.3 2033.2L1425.5 2032.5L1419.9 2031.4L1414.7 2029.9L1409.8 2027.9L1405.3 2025.7L1401.5 2023.1L1398.2 2020.2L1395.6 2017.1L1393.7 2013.8L1392.6 2010.4L1392.2 2007.0L1392.6 2003.5L1393.7 2000.1L1395.6 1996.9L1398.2 1993.8L1401.5 1990.9L1405.3 1988.3L1409.8 1986.0L1414.7 1984.1L1419.9 1982.5L1425.5 1981.4L1431.3 1980.8L1437.1 1980.5L1443.0 1980.8L1448.8 1981.4L1454.3 1982.5L1459.6 1984.1L1464.5 1986.0Z" stroke-width="2.0" />
<path d="M1307.0 1895.7L1310.6 1898.2L1313.7 1900.8L1316.1 1903.7L1317.8 1906.8L1318.9 1909.9L1319.2 1913.1L1318.9 1916.3L1317.8 1919.5L1316.1 1922.5L1313.7 1925.4L1310.6 1928.1L1307.0 1930.5L1302.9 1932.6L1298.4 1934.4L1293.5 1935.8L1288.3 1936.8L1282.9 1937.5L1277.5 1937.7L1272.0 1937.5L1266.6 1936.8L1261.5 1935.8L1256.6 1934.4L1252.0 1932.6L1247.9 1930.5L1244.3 1928.1L1241.3 1925.4L1238.9 1922.5L1237.1 1919.5L1236.0 1916.3L1235.7 1913.1L1236.0 1909.9L1237.1 1906.8L1238.9 1903.7L1241.3 1900.8L1244.3 1898.2L1247.9 1895.7L1252.0 1893.6L1256.6 1891.8L1261.5 1890.4L1266.6 1889.4L1272.0 1888.8L1277.5 1888.6L1282.9 1888.8L1288.3 1889.4L1293.5 1890.4L1298.4 1891.8L1302.9 1893.6Z" stroke-width="2.0" />
<path d="M1309.3 1894.4L1313.1 1897.0L1316.4 1899.9L1319.0 1903.0L1320.9 1906.3L1322.0 1909.7L1322.4 1913.1L1322.0 1916.6L1320.9 1920.0L1319.0 1923.2L1316.4 1926.3L1313.1 1929.2L1309.3 1931.8L1304.8 1934.1L1299.9 1936.0L1294.7 1937.5L1289.1 1938.6L1283.3 1939.3L1277.5 1939.5L1271.6 1939.3L1265.8 1938.6L1260.3 1937.5L1255.0 1936.0L1250.1 1934.1L1245.7 1931.8L1241.8 1929.2L1238.5 1926.3L1235.9 1923.2L1234.0 1920.0L1232.9 1916.6L1232.5 1913.1L1232.9 1909.7L1234.0 1906.3L1235.9 1903.0L1238.5 1899.9L1241.8 1897.0L1245.7 1894.4L1250.1 1892.1L1255.0 1890.2L1260.3 1888.7L1265.8 1887.6L1271.6 1886.9L1277.5 1886.7L1283.3 1886.9L1289.1 1887.6L1294.7 1888.7L1299.9 1890.2L1304.8 1892.1Z" stroke-width="2.0" />
<path d="M1459.9 1913.0L1461.3 1913.9L1462.4 1914.9L1463.4 1916.0L1464.0 1917.2L1464.4 1918.4L1464.6 1919.6L1464.4 1920.8L1464.0 1922.0L1463.4 1923.1L1462.4 1924.2L1461.3 1925.2L1459.9 1926.1L1458.4 1926.9L1456.6 1927.6L1454.8 1928.2L1452.8 1928.6L1450.8 1928.8L1448.7 1928.9L1446.7 1928.8L1444.6 1928.6L1442.7 1928.2L1440.8 1927.6L1439.1 1926.9L1437.5 1926.1L1436.2 1925.2L1435.0 1924.2L1434.1 1923.1L1433.4 1922.0L1433.0 1920.8L1432.9 1919.6L1433.0 1918.4L1433.4 1917.2L1434.1 1916.0L1435.0 1914.9L1436.2 1913.9L1437.5 1913.0L1439.1 1912.2L1440.8 1911.5L1442.7 1911.0L1444.6 1910.6L1446.7 1910.3L1448.7 1910.3L1450.8 1910.3L1452.8 1910.6L1454.8 1911.0L1456.6 1911.5L1458.4 1912.2Z" stroke-width="2.0" />
<path d="M1277.1 2020.5L1278.4 2021.4L1279.6 2022.4L1280.5 2023.5L1281.2 2024.6L1281.6 2025.8L1281.7 2027.1L1281.6 2028.3L1281.2 2029.5L1280.5 2030.6L1279.6 2031.7L1278.4 2032.7L1277.1 2033.6L1275.5 2034.4L1273.8 2035.1L1271.9 2035.7L1270.0 2036.0L1267.9 2036.3L1265.9 2036.4L1263.8 2036.3L1261.8 2036.0L1259.8 2035.7L1258.0 2035.1L1256.2 2034.4L1254.7 2033.6L1253.3 2032.7L1252.2 2031.7L1251.2 2030.6L1250.6 2029.5L1250.2 2028.3L1250.0 2027.1L1250.2 2025.8L1250.6 2024.6L1251.2 2023.5L1252.2 2022.4L1253.3 2021.4L1254.7 2020.5L1256.2 2019.7L1258.0 2019.0L1259.8 2018.5L1261.8 2018.1L1263.8 2017.8L1265.9 2017.8L1267.9 2017.8L1270.0 2018.1L1271.9 2018.5L1273.8 2019.0L1275.5 2019.7Z" stroke-width="2.0" />
<path d="M1354.2 1876.0L1355.5 1876.9L1356.7 1877.9L1357.6 1879.0L1358.3 1880.1L1358.7 1881.3L1358.8 1882.5L1358.7 1883.8L1358.3 1884.9L1357.6 1886.1L1356.7 1887.2L1355.5 1888.2L1354.2 1889.1L1352.6 1889.9L1350.9 1890.6L1349.0 1891.1L1347.1 1891.5L1345.0 1891.8L1343.0 1891.8L1340.9 1891.8L1338.9 1891.5L1336.9 1891.1L1335.1 1890.6L1333.3 1889.9L1331.8 1889.1L1330.4 1888.2L1329.3 1887.2L1328.3 1886.1L1327.7 1884.9L1327.3 1883.8L1327.1 1882.5L1327.3 1881.3L1327.7 1880.1L1328.3 1879.0L1329.3 1877.9L1330.4 1876.9L1331.8 1876.0L1333.3 1875.2L1335.1 1874.5L1336.9 1873.9L1338.9 1873.6L1340.9 1873.3L1343.0 1873.2L1345.0 1873.3L1347.1 1873.6L1349.0 1873.9L1350.9 1874.5L1352.6 1875.2Z" stroke-width="2.0" />
<path d="M1240.6 1942.7L1242.0 1943.6L1243.1 1944.6L1244.0 1945.7L1244.7 1946.9L1245.1 1948.1L1245.3 1949.3L1245.1 1950.5L1244.7 1951.7L1244.0 1952.8L1243.1 1953.9L1242.0 1954.9L1240.6 1955.9L1239.1 1956.7L1237.3 1957.3L1235.5 1957.9L1233.5 1958.3L1231.5 1958.5L1229.4 1958.6L1227.4 1958.5L1225.3 1958.3L1223.4 1957.9L1221.5 1957.3L1219.8 1956.7L1218.2 1955.9L1216.9 1954.9L1215.7 1953.9L1214.8 1952.8L1214.1 1951.7L1213.7 1950.5L1213.6 1949.3L1213.7 1948.1L1214.1 1946.9L1214.8 1945.7L1215.7 1944.6L1216.9 1943.6L1218.2 1942.7L1219.8 1941.9L1221.5 1941.2L1223.4 1940.7L1225.3 1940.3L1227.4 1940.1L1229.4 1940.0L1231.5 1940.1L1233.5 1940.3L1235.5 1940.7L1237.3 1941.2L1239.1 1941.9Z" stroke-width="2.0" />
<path d="M1496.4 1959.5L1497.7 1960.5L1498.9 1961.5L1499.8 1962.6L1500.5 1963.7L1500.9 1964.9L1501.0 1966.1L1500.9 1967.3L1500.5 1968.5L1499.8 1969.7L1498.9 1970.8L1497.7 1971.8L1496.4 1972.7L1494.8 1973.5L1493.1 1974.2L1491.2 1974.7L1489.3 1975.1L1487.2 1975.3L1485.2 1975.4L1483.1 1975.3L1481.1 1975.1L1479.1 1974.7L1477.3 1974.2L1475.5 1973.5L1474.0 1972.7L1472.6 1971.8L1471.5 1970.8L1470.6 1969.7L1469.9 1968.5L1469.5 1967.3L1469.3 1966.1L1469.5 1964.9L1469.9 1963.7L1470.6 1962.6L1471.5 1961.5L1472.6 1960.5L1474.0 1959.5L1475.5 1958.7L1477.3 1958.1L1479.1 1957.5L1481.1 1957.1L1483.1 1956.9L1485.2 1956.8L1487.2 1956.9L1489.3 1957.1L1491.2 1957.5L1493.1 1958.1L1494.8 1958.7Z" stroke-width="2.0" />
<path d="M1382.8 2026.3L1384.2 2027.2L1385.3 2028.2L1386.3 2029.3L1386.9 2030.5L1387.3 2031.6L1387.5 2032.9L1387.3 2034.1L1386.9 2035.3L1386.3 2036.4L1385.3 2037.5L1384.2 2038.5L1382.8 2039.4L1381.3 2040.2L1379.5 2040.9L1377.7 2041.5L1375.7 2041.8L1373.7 2042.1L1371.6 2042.2L1369.6 2042.1L1367.5 2041.8L1365.6 2041.5L1363.7 2040.9L1362.0 2040.2L1360.4 2039.4L1359.1 2038.5L1357.9 2037.5L1357.0 2036.4L1356.3 2035.3L1355.9 2034.1L1355.8 2032.9L1355.9 2031.6L1356.3 2030.5L1357.0 2029.3L1357.9 2028.2L1359.1 2027.2L1360.4 2026.3L1362.0 2025.5L1363.7 2024.8L1365.6 2024.3L1367.5 2023.9L1369.6 2023.6L1371.6 2023.6L1373.7 2023.6L1375.7 2023.9L1377.7 2024.3L1379.5 2024.8L1381.3 2025.5Z" stroke-width="2.0" />
</g>
</g>
</svg>
</body></html>
